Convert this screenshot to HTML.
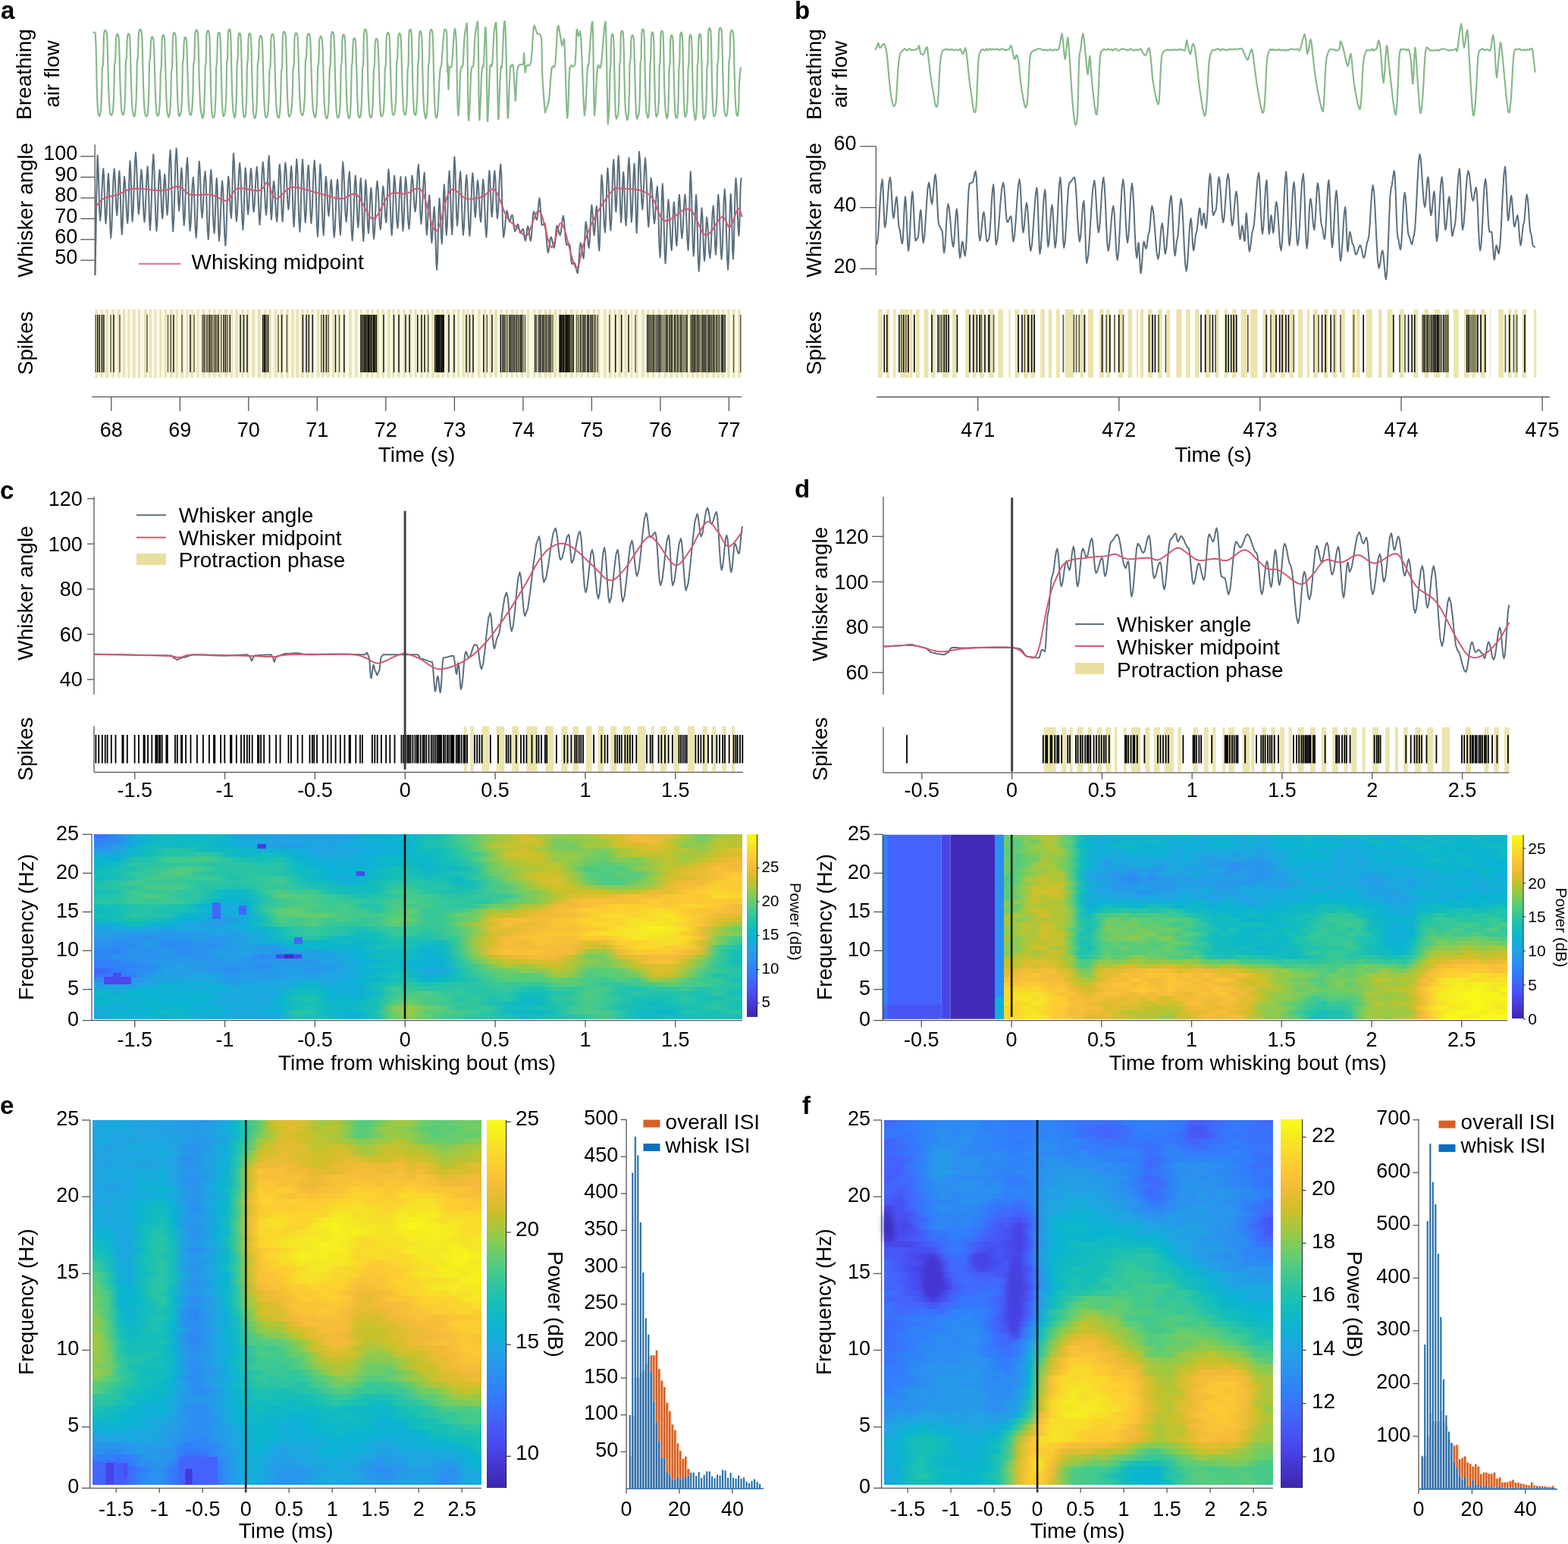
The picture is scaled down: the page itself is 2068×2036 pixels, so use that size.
<!DOCTYPE html>
<html><head><meta charset="utf-8"><title>Figure</title>
<style>html,body{margin:0;padding:0;background:#fff;}body{position:relative;width:2068px;height:2036px;overflow:hidden;}
.hm{position:absolute;}.hm i{display:block;}
svg{position:absolute;left:0;top:0;display:block;}text{font-family:'Liberation Sans', Arial, sans-serif;}</style>
</head><body>
<div class="hm" style="left:124px;top:1100px;width:855px;height:244px"><i style="height:6px;background:linear-gradient(90deg,#3775fc 1.2%,#2c8ef1 3.8%,#1aa9de 6.2%,#0eb8c6 8.8%,#12bbc0 11.2%,#0cb7ca 13.8%,#0bb6cc 16.2%,#12bbc0 18.8%,#15acda 21.2%,#21a3e3 23.8%,#1aa9de 26.2%,#259ce8 28.7%,#21a3e4 31.2%,#239ee6 33.8%,#1ea6e1 36.2%,#22a1e5 38.8%,#16abdb 41.2%,#0db1d4 43.8%,#11afd7 46.2%,#0db8c8 48.8%,#19bfb5 51.2%,#1ac0b3 53.8%,#41c98f 56.2%,#60cd73 58.8%,#98c947 61.3%,#aec63a 63.7%,#d8be2d 66.2%,#b3c537 68.8%,#91ca4c 71.2%,#8fca4e 73.8%,#a0c842 76.2%,#cbc029 78.8%,#d7be2c 81.2%,#f5ba3b 83.8%,#e9bc35 86.2%,#e4bc32 88.8%,#aac63c 91.2%,#74cc63 93.8%,#9ec943 96.2%,#b5c436 98.8%)"></i><i style="height:6px;background:linear-gradient(90deg,#2f85f6 1.2%,#2d8bf2 3.8%,#14acda 6.2%,#0ab5ce 8.8%,#10bac3 11.2%,#10bac2 13.8%,#10bac3 16.2%,#0eb9c6 18.8%,#0eb1d5 21.2%,#13add8 23.8%,#20a4e3 26.2%,#20a4e3 28.7%,#21a3e4 31.2%,#1ca7df 33.8%,#1da6e1 36.2%,#22a1e5 38.8%,#11afd7 41.2%,#0bb3d2 43.8%,#08b4d1 46.2%,#0bb6cc 48.8%,#1ac0b4 51.2%,#1fc1af 53.8%,#44c98c 56.2%,#5fcc73 58.8%,#97ca48 61.3%,#afc539 63.7%,#d7be2c 66.2%,#cdc028 68.8%,#6fcc67 71.2%,#8aca51 73.8%,#90ca4d 76.2%,#a5c73f 78.8%,#d4bf2a 81.2%,#f5ba3b 83.8%,#f6bc3a 86.2%,#bfc330 88.8%,#9dc943 91.2%,#71cc65 93.8%,#bbc332 96.2%,#bac332 98.8%)"></i><i style="height:6px;background:linear-gradient(90deg,#2d8bf3 1.2%,#259ce8 3.8%,#11aed8 6.2%,#16beb8 8.8%,#10bac3 11.2%,#0fb9c5 13.8%,#16beb8 16.2%,#09b5cf 18.8%,#12aed8 21.2%,#18aadd 23.8%,#1ba8df 26.2%,#259de8 28.7%,#2799ea 31.2%,#1ba8df 33.8%,#22a1e5 36.2%,#11aed8 38.8%,#0fb0d6 41.2%,#17abdb 43.8%,#10afd7 46.2%,#0bb6cc 48.8%,#16bfb8 51.2%,#26c3a8 53.8%,#34c79a 56.2%,#5dcc75 58.8%,#b5c436 61.3%,#c4c22d 63.7%,#c4c22d 66.2%,#c0c22f 68.8%,#7ccb5d 71.2%,#71cc65 73.8%,#a6c73e 76.2%,#acc63b 78.8%,#d3bf2a 81.2%,#cfc028 83.8%,#e0bd31 86.2%,#d3bf2a 88.8%,#82cb58 91.2%,#99c946 93.8%,#bfc330 96.2%,#b5c436 98.8%)"></i><i style="height:6px;background:linear-gradient(90deg,#2896ec 1.2%,#23a0e6 3.8%,#0cb7ca 6.2%,#13bcbe 8.8%,#20c2ad 11.2%,#25c3a9 13.8%,#14bcbd 16.2%,#0fbac4 18.8%,#0fb9c5 21.2%,#0eb8c7 23.8%,#12aed8 26.2%,#12aed8 28.7%,#16abdb 31.2%,#20a4e3 33.8%,#1fa5e2 36.2%,#1ea6e1 38.8%,#19a9dd 41.2%,#0fb0d6 43.8%,#0fb0d6 46.2%,#0ab6cd 48.8%,#16beb8 51.2%,#12bcbf 53.8%,#2dc5a1 56.2%,#59cc78 58.8%,#8fca4e 61.3%,#b2c537 63.7%,#d3bf2a 66.2%,#aac63c 68.8%,#82cb58 71.2%,#7bcb5d 73.8%,#87ca54 76.2%,#7bcb5d 78.8%,#afc639 81.2%,#c5c12c 83.8%,#dfbd30 86.2%,#c3c22e 88.8%,#b6c435 91.2%,#94ca4a 93.8%,#c1c22f 96.2%,#ddbe2f 98.8%)"></i><i style="height:6px;background:linear-gradient(90deg,#19a9dd 1.2%,#16abdb 3.8%,#0db8c8 6.2%,#15beb9 8.8%,#27c3a7 11.2%,#21c2ad 13.8%,#33c79b 16.2%,#2ac4a4 18.8%,#0eb8c7 21.2%,#0bb6cb 23.8%,#15bdbb 26.2%,#0fb9c4 28.7%,#0ab5ce 31.2%,#18aadd 33.8%,#20a4e3 36.2%,#1da7e0 38.8%,#0eb1d5 41.2%,#13add9 43.8%,#09b4d1 46.2%,#0cb7c9 48.8%,#0fb9c5 51.2%,#14bdbc 53.8%,#30c69f 56.2%,#39c896 58.8%,#77cb60 61.3%,#d1bf29 63.7%,#d4bf2a 66.2%,#d0c028 68.8%,#99c946 71.2%,#9bc945 73.8%,#83cb57 76.2%,#66cc6e 78.8%,#a8c73d 81.2%,#c4c22d 83.8%,#c5c12c 86.2%,#bcc332 88.8%,#a2c840 91.2%,#afc539 93.8%,#ccc028 96.2%,#d4bf2a 98.8%)"></i><i style="height:7px;background:linear-gradient(90deg,#0cb2d3 1.2%,#09b4d0 3.8%,#24c3aa 6.2%,#1fc1af 8.8%,#43c98d 11.2%,#40c990 13.8%,#49ca87 16.2%,#3ac895 18.8%,#25c3a9 21.2%,#18bfb6 23.8%,#15bdba 26.2%,#22c2ac 28.7%,#09b5d0 31.2%,#11aed7 33.8%,#11afd7 36.2%,#15acdb 38.8%,#14acda 41.2%,#0db7c9 43.8%,#0eb9c6 46.2%,#0db8c8 48.8%,#0ab6cd 51.2%,#16beb8 53.8%,#1ac0b3 56.2%,#4aca87 58.8%,#83cb57 61.3%,#a9c73c 63.7%,#c2c22e 66.2%,#c9c12a 68.8%,#95ca49 71.2%,#96ca49 73.8%,#71cc65 76.2%,#67cc6d 78.8%,#8dca4f 81.2%,#7ccb5d 83.8%,#abc63b 86.2%,#c2c22e 88.8%,#a0c842 91.2%,#bfc330 93.8%,#dcbe2e 96.2%,#f2ba3a 98.8%)"></i><i style="height:6px;background:linear-gradient(90deg,#0bb7cb 1.2%,#12bbc0 3.8%,#2dc5a1 6.2%,#25c3a9 8.8%,#2ec5a0 11.2%,#33c79c 13.8%,#31c69d 16.2%,#26c3a8 18.8%,#2ec5a0 21.2%,#29c4a5 23.8%,#21c2ad 26.2%,#28c4a6 28.7%,#10bac3 31.2%,#0bb3d3 33.8%,#14acda 36.2%,#10afd7 38.8%,#0eb1d5 41.2%,#0bb3d2 43.8%,#0cb7ca 46.2%,#10bac3 48.8%,#09b5cf 51.2%,#11bac2 53.8%,#1cc0b1 56.2%,#31c69d 58.8%,#66cc6d 61.3%,#9ec943 63.7%,#b6c435 66.2%,#c1c22e 68.8%,#bdc331 71.2%,#87ca54 73.8%,#64cc6f 76.2%,#51cb80 78.8%,#61cd71 81.2%,#7acb5e 83.8%,#99c946 86.2%,#b8c434 88.8%,#bcc331 91.2%,#debd30 93.8%,#eebb38 96.2%,#f2ba3a 98.8%)"></i><i style="height:6px;background:linear-gradient(90deg,#10bac3 1.2%,#18bfb6 3.8%,#1cc0b1 6.2%,#35c799 8.8%,#3ec991 11.2%,#52cb7f 13.8%,#4eca83 16.2%,#2cc5a2 18.8%,#2dc5a1 21.2%,#2ac4a4 23.8%,#29c4a5 26.2%,#2ac4a4 28.7%,#10bac3 31.2%,#10bac3 33.8%,#0bb3d2 36.2%,#09b4d1 38.8%,#0ab6ce 41.2%,#0eb8c7 43.8%,#17bfb6 46.2%,#17bfb7 48.8%,#0cb7ca 51.2%,#13bcbe 53.8%,#0fb9c5 56.2%,#23c2aa 58.8%,#79cb5f 61.3%,#86ca54 63.7%,#a3c840 66.2%,#acc63b 68.8%,#cbc029 71.2%,#86cb55 73.8%,#45c98b 76.2%,#57cc7b 78.8%,#4aca86 81.2%,#87ca54 83.8%,#a1c841 86.2%,#c4c22d 88.8%,#dcbe2f 91.2%,#e3bd32 93.8%,#f8c138 96.2%,#f2ba3a 98.8%)"></i><i style="height:6px;background:linear-gradient(90deg,#16beb8 1.2%,#18bfb5 3.8%,#34c79b 6.2%,#2fc69f 8.8%,#4fcb82 11.2%,#56cb7c 13.8%,#2bc5a3 16.2%,#29c4a5 18.8%,#24c3aa 21.2%,#2dc5a1 23.8%,#2bc4a3 26.2%,#25c3a9 28.7%,#14bdbc 31.2%,#10bac3 33.8%,#0ab5ce 36.2%,#12aed8 38.8%,#0cb2d3 41.2%,#0db8c8 43.8%,#15beb9 46.2%,#1ac0b3 48.8%,#0fb9c5 51.2%,#13bcbe 53.8%,#20c1ae 56.2%,#25c3a9 58.8%,#65cc6f 61.3%,#7ccb5c 63.7%,#bbc332 66.2%,#cfc028 68.8%,#cac129 71.2%,#a1c841 73.8%,#5bcc77 76.2%,#4bca85 78.8%,#60cd72 81.2%,#58cc7a 83.8%,#81cb59 86.2%,#c6c12c 88.8%,#e3bd32 91.2%,#e9bc35 93.8%,#f7be39 96.2%,#fbc933 98.8%)"></i><i style="height:6px;background:linear-gradient(90deg,#11bac2 1.2%,#17bfb7 3.8%,#29c4a6 6.2%,#45c98b 8.8%,#41c98e 11.2%,#3ac895 13.8%,#3ec992 16.2%,#3bc894 18.8%,#1dc1b1 21.2%,#2cc5a2 23.8%,#32c79c 26.2%,#3fc990 28.7%,#20c1ae 31.2%,#0db8c8 33.8%,#10afd6 36.2%,#18aadc 38.8%,#0ab5ce 41.2%,#0fb9c4 43.8%,#16bfb7 46.2%,#20c2ad 48.8%,#15beb9 51.2%,#1ac0b4 53.8%,#0fb9c6 56.2%,#2fc69f 58.8%,#4aca86 61.3%,#83cb57 63.7%,#abc63b 66.2%,#d4bf2b 68.8%,#d7be2c 71.2%,#acc63b 73.8%,#5dcc75 76.2%,#4bca85 78.8%,#54cb7d 81.2%,#59cc79 83.8%,#a2c841 86.2%,#d4bf2b 88.8%,#d9be2d 91.2%,#e7bc34 93.8%,#f7be39 96.2%,#fdcd32 98.8%)"></i><i style="height:6px;background:linear-gradient(90deg,#1cc0b1 1.2%,#2ec5a0 3.8%,#42c98e 6.2%,#38c896 8.8%,#3bc894 11.2%,#38c897 13.8%,#29c4a5 16.2%,#2dc5a1 18.8%,#28c4a6 21.2%,#2ec5a0 23.8%,#2ec5a0 26.2%,#45c98a 28.7%,#20c2ae 31.2%,#14bdbb 33.8%,#10bac3 36.2%,#0fb0d6 38.8%,#09b4d2 41.2%,#1bc0b3 43.8%,#21c2ad 46.2%,#28c4a6 48.8%,#23c2ab 51.2%,#1dc1b1 53.8%,#0eb8c7 56.2%,#19c0b4 58.8%,#3ec992 61.3%,#6ccc69 63.7%,#90ca4d 66.2%,#c3c22e 68.8%,#dfbd30 71.2%,#b1c538 73.8%,#78cb5f 76.2%,#47ca89 78.8%,#4eca83 81.2%,#79cb5f 83.8%,#92ca4b 86.2%,#ddbe2f 88.8%,#f5ba3b 91.2%,#ecbb36 93.8%,#fccf30 96.2%,#fbc933 98.8%)"></i><i style="height:6px;background:linear-gradient(90deg,#22c2ac 1.2%,#2ac4a4 3.8%,#2ec5a0 6.2%,#49ca88 8.8%,#49ca87 11.2%,#47ca89 13.8%,#25c3a9 16.2%,#26c3a8 18.8%,#1fc1af 21.2%,#1dc1b1 23.8%,#34c79a 26.2%,#30c69e 28.7%,#31c69d 31.2%,#1fc1ae 33.8%,#1ac0b3 36.2%,#14bdbb 38.8%,#13bcbd 41.2%,#13bcbe 43.8%,#31c69d 46.2%,#37c898 48.8%,#20c1ae 51.2%,#2cc5a2 53.8%,#1cc0b1 56.2%,#16beb9 58.8%,#4bca86 61.3%,#4dca84 63.7%,#7fcb5a 66.2%,#b8c434 68.8%,#cfc028 71.2%,#cac129 73.8%,#aac63c 76.2%,#8eca4f 78.8%,#86ca55 81.2%,#93ca4b 83.8%,#b2c537 86.2%,#e9bc35 88.8%,#f7be39 91.2%,#f9c337 93.8%,#fccf31 96.2%,#fccb32 98.8%)"></i><i style="height:6px;background:linear-gradient(90deg,#16beb8 1.2%,#21c2ad 3.8%,#44c98c 6.2%,#2fc69f 8.8%,#3ec991 11.2%,#2dc5a1 13.8%,#2ec5a0 16.2%,#15bdbb 18.8%,#0cb7ca 21.2%,#11bbc1 23.8%,#33c79c 26.2%,#51cb80 28.7%,#39c896 31.2%,#41c98f 33.8%,#1ac0b3 36.2%,#16beb8 38.8%,#11bbc0 41.2%,#15beba 43.8%,#3ec991 46.2%,#45c98b 48.8%,#29c4a5 51.2%,#20c1ae 53.8%,#1bc0b2 56.2%,#28c4a6 58.8%,#3fc991 61.3%,#58cc7a 63.7%,#75cb62 66.2%,#89ca52 68.8%,#c3c22e 71.2%,#c9c12a 73.8%,#cec028 76.2%,#cbc029 78.8%,#b9c433 81.2%,#c7c12b 83.8%,#edbb37 86.2%,#e1bd31 88.8%,#fac635 91.2%,#fccf31 93.8%,#f9d82c 96.2%,#fdce31 98.8%)"></i><i style="height:6px;background:linear-gradient(90deg,#20c1ae 1.2%,#29c4a5 3.8%,#3bc894 6.2%,#52cb7f 8.8%,#41c98f 11.2%,#29c4a5 13.8%,#2bc5a3 16.2%,#13bcbe 18.8%,#0ab5ce 21.2%,#11bac2 23.8%,#21c2ad 26.2%,#58cc79 28.7%,#56cb7b 31.2%,#48ca88 33.8%,#3ac895 36.2%,#2cc5a3 38.8%,#18bfb5 41.2%,#27c3a7 43.8%,#2cc5a2 46.2%,#45c98b 48.8%,#43c98d 51.2%,#30c69f 53.8%,#26c3a8 56.2%,#30c69e 58.8%,#3bc894 61.3%,#32c79c 63.7%,#68cc6c 66.2%,#90ca4d 68.8%,#aec63a 71.2%,#ddbe2f 73.8%,#e3bd32 76.2%,#e3bd32 78.8%,#f4ba3b 81.2%,#f8c237 83.8%,#f5ba3b 86.2%,#fbc834 88.8%,#fccb32 91.2%,#fac535 93.8%,#f9da2b 96.2%,#fad62d 98.8%)"></i><i style="height:7px;background:linear-gradient(90deg,#2ac4a4 1.2%,#2bc5a3 3.8%,#3ec992 6.2%,#34c79a 8.8%,#3ec991 11.2%,#34c79a 13.8%,#21c2ac 16.2%,#0db8c9 18.8%,#0bb3d2 21.2%,#0ab5ce 23.8%,#21c2ac 26.2%,#3dc892 28.7%,#47ca89 31.2%,#49ca87 33.8%,#3bc894 36.2%,#38c897 38.8%,#2fc69f 41.2%,#2dc5a1 43.8%,#41c98e 46.2%,#54cb7d 48.8%,#3cc894 51.2%,#36c899 53.8%,#34c79a 56.2%,#2ac4a4 58.8%,#2fc69f 61.3%,#5dcc75 63.7%,#6fcc67 66.2%,#8bca51 68.8%,#c7c12b 71.2%,#f0bb38 73.8%,#f9c336 76.2%,#f8c137 78.8%,#f7be39 81.2%,#f8c237 83.8%,#fdcd31 86.2%,#f9c336 88.8%,#fccb32 91.2%,#fbc834 93.8%,#fbc934 96.2%,#fbc834 98.8%)"></i><i style="height:6px;background:linear-gradient(90deg,#16beb8 1.2%,#17bfb7 3.8%,#23c2ab 6.2%,#2ac4a5 8.8%,#22c2ab 11.2%,#1dc1b0 13.8%,#0ab6cd 16.2%,#14acda 18.8%,#18aadc 21.2%,#0bb2d3 23.8%,#30c69f 26.2%,#3bc894 28.7%,#53cb7e 31.2%,#52cb7f 33.8%,#38c897 36.2%,#4fcb81 38.8%,#24c3aa 41.2%,#24c3a9 43.8%,#4cca85 46.2%,#46c98a 48.8%,#48ca88 51.2%,#34c79a 53.8%,#2dc5a2 56.2%,#34c79b 58.8%,#6ecc67 61.3%,#73cc63 63.7%,#a5c73f 66.2%,#b5c435 68.8%,#efbb38 71.2%,#f2ba39 73.8%,#f8c137 76.2%,#fac735 78.8%,#fbd32e 81.2%,#fcd130 83.8%,#fdcd32 86.2%,#fbc834 88.8%,#fbd32f 91.2%,#fad52d 93.8%,#fbc734 96.2%,#f4ba3b 98.8%)"></i><i style="height:6px;background:linear-gradient(90deg,#0fb9c5 1.2%,#14bdbc 3.8%,#24c3aa 6.2%,#24c3aa 8.8%,#19c0b4 11.2%,#19c0b4 13.8%,#10bac3 16.2%,#1aa9de 18.8%,#11aed7 21.2%,#0db1d4 23.8%,#30c69f 26.2%,#5ccc76 28.7%,#6bcc6a 31.2%,#44c98c 33.8%,#46c98a 36.2%,#44c98b 38.8%,#40c990 41.2%,#29c4a6 43.8%,#4cca85 46.2%,#6acc6b 48.8%,#34c79b 51.2%,#38c897 53.8%,#40c990 56.2%,#69cc6b 58.8%,#a8c73d 61.3%,#a2c841 63.7%,#cdc028 66.2%,#dfbd30 68.8%,#f6bd39 71.2%,#f8c237 73.8%,#fbd32f 76.2%,#fdcd32 78.8%,#fcd030 81.2%,#fccf30 83.8%,#f7e029 86.2%,#fad72d 88.8%,#fdcc32 91.2%,#f8c237 93.8%,#f8c237 96.2%,#f5ba3b 98.8%)"></i><i style="height:6px;background:linear-gradient(90deg,#16beb8 1.2%,#16beb8 3.8%,#2bc4a3 6.2%,#24c2aa 8.8%,#26c3a8 11.2%,#0bb6cc 13.8%,#0fb0d6 16.2%,#16abdb 18.8%,#1ea6e1 21.2%,#19a9dd 23.8%,#1cc0b2 26.2%,#57cb7b 28.7%,#5bcc77 31.2%,#6acc6a 33.8%,#60cd72 36.2%,#42c98e 38.8%,#43c98d 41.2%,#44c98c 43.8%,#55cb7c 46.2%,#59cc79 48.8%,#32c79c 51.2%,#3bc894 53.8%,#6acc6a 56.2%,#6bcc69 58.8%,#c2c22e 61.3%,#cec028 63.7%,#d5bf2b 66.2%,#f5ba3b 68.8%,#f4ba3b 71.2%,#f7bd39 73.8%,#fbc734 76.2%,#f9d92c 78.8%,#f8db2b 81.2%,#fcd12f 83.8%,#f8dc2a 86.2%,#f6ea23 88.8%,#fdcd31 91.2%,#fac735 93.8%,#e9bc35 96.2%,#e7bc34 98.8%)"></i><i style="height:6px;background:linear-gradient(90deg,#0fb9c4 1.2%,#16beb9 3.8%,#1dc1b1 6.2%,#16beb9 8.8%,#10bac4 11.2%,#0db1d4 13.8%,#0fb0d6 16.2%,#259ce8 18.8%,#2798ea 21.2%,#08b4d1 23.8%,#15beba 26.2%,#4dca83 28.7%,#3cc893 31.2%,#50cb81 33.8%,#3ec992 36.2%,#4bca86 38.8%,#33c79b 41.2%,#3cc893 43.8%,#63cd70 46.2%,#6ccc69 48.8%,#36c899 51.2%,#41c98f 53.8%,#58cc79 56.2%,#7ccb5c 58.8%,#e0bd30 61.3%,#f3ba3a 63.7%,#f7bf38 66.2%,#f1ba39 68.8%,#f9c237 71.2%,#fbc734 73.8%,#fad62d 76.2%,#fdce31 78.8%,#f9d82c 81.2%,#f6e128 83.8%,#f8dd2a 86.2%,#f5e526 88.8%,#f9da2b 91.2%,#f8c137 93.8%,#e1bd31 96.2%,#c9c12a 98.8%)"></i><i style="height:6px;background:linear-gradient(90deg,#12aed8 1.2%,#0bb2d3 3.8%,#14bdbc 6.2%,#0bb6cc 8.8%,#09b4d1 11.2%,#1aa8de 13.8%,#21a2e4 16.2%,#259be8 18.8%,#1ba8df 21.2%,#11afd7 23.8%,#1bc0b2 26.2%,#3dc892 28.7%,#44c98c 31.2%,#56cb7b 33.8%,#3bc894 36.2%,#2dc5a1 38.8%,#34c79b 41.2%,#3ac895 43.8%,#5ccc76 46.2%,#4bca85 48.8%,#3cc893 51.2%,#32c79c 53.8%,#70cc66 56.2%,#a8c73d 58.8%,#cec027 61.3%,#f8c038 63.7%,#eabc35 66.2%,#ecbb37 68.8%,#fac535 71.2%,#f9c336 73.8%,#fcd130 76.2%,#f8db2b 78.8%,#fbd22f 81.2%,#f5e824 83.8%,#f5e427 86.2%,#f6e327 88.8%,#fcd130 91.2%,#f9c436 93.8%,#d5bf2b 96.2%,#9dc943 98.8%)"></i><i style="height:6px;background:linear-gradient(90deg,#20a4e3 1.2%,#1ba8df 3.8%,#16abdb 6.2%,#1fa5e2 8.8%,#21a4e3 11.2%,#18aadd 13.8%,#1ea6e1 16.2%,#1ba8df 18.8%,#1ba8df 21.2%,#10afd7 23.8%,#0cb7c9 26.2%,#16beb8 28.7%,#2dc5a2 31.2%,#36c899 33.8%,#2ec5a0 36.2%,#26c3a8 38.8%,#19bfb5 41.2%,#2ec5a0 43.8%,#33c79b 46.2%,#3cc893 48.8%,#35c799 51.2%,#3ac895 53.8%,#4dca83 56.2%,#85cb55 58.8%,#e3bd32 61.3%,#e2bd31 63.7%,#e8bc35 66.2%,#f6bd39 68.8%,#f8c137 71.2%,#f8c038 73.8%,#fbc734 76.2%,#fcd12f 78.8%,#f5e427 81.2%,#f6e327 83.8%,#f8f51a 86.2%,#f6ec21 88.8%,#f7e029 91.2%,#e8bc35 93.8%,#a5c73f 96.2%,#70cc66 98.8%)"></i><i style="height:6px;background:linear-gradient(90deg,#22a1e5 1.2%,#249ee7 3.8%,#2896ec 6.2%,#249de7 8.8%,#2a94ed 11.2%,#2798eb 13.8%,#2798ea 16.2%,#20a4e3 18.8%,#249ee7 21.2%,#21a3e3 23.8%,#12aed8 26.2%,#13bcbd 28.7%,#2cc5a3 31.2%,#33c79c 33.8%,#2ec5a0 36.2%,#23c2ab 38.8%,#12bbc0 41.2%,#14bdbc 43.8%,#37c898 46.2%,#3cc893 48.8%,#22c2ac 51.2%,#34c79b 53.8%,#55cb7c 56.2%,#89ca53 58.8%,#cec027 61.3%,#e4bc33 63.7%,#f7bd39 66.2%,#f9c436 68.8%,#fbc734 71.2%,#fac535 73.8%,#fbd42e 76.2%,#f6e327 78.8%,#f5e626 81.2%,#f5e725 83.8%,#f6ea22 86.2%,#f5e725 88.8%,#fdcc32 91.2%,#e7bc34 93.8%,#a8c73d 96.2%,#86cb55 98.8%)"></i><i style="height:6px;background:linear-gradient(90deg,#259ce8 1.2%,#2897eb 3.8%,#2b92ee 6.2%,#2b92ee 8.8%,#2799ea 11.2%,#2995ed 13.8%,#21a2e4 16.2%,#2896ec 18.8%,#269be9 21.2%,#1fa5e2 23.8%,#14add9 26.2%,#11bbc1 28.7%,#21c2ac 31.2%,#2bc5a3 33.8%,#18bfb6 36.2%,#0cb7ca 38.8%,#13bcbe 41.2%,#16beb8 43.8%,#26c3a8 46.2%,#21c2ad 48.8%,#1ec1b0 51.2%,#2fc69f 53.8%,#3ec991 56.2%,#9cc944 58.8%,#d6bf2c 61.3%,#f6bb3a 63.7%,#f9c237 66.2%,#fac535 68.8%,#f8c237 71.2%,#f6bd39 73.8%,#fcd030 76.2%,#fbc834 78.8%,#fad62d 81.2%,#f5e923 83.8%,#f5e426 86.2%,#f7de2a 88.8%,#f8db2b 91.2%,#f6bd39 93.8%,#7dcb5c 96.2%,#4cca84 98.8%)"></i><i style="height:6px;background:linear-gradient(90deg,#2a93ee 1.2%,#2c8ef1 3.8%,#2c8ef1 6.2%,#269be9 8.8%,#2d8af3 11.2%,#2b90f0 13.8%,#2a93ee 16.2%,#2a93ed 18.8%,#249de7 21.2%,#1fa5e2 23.8%,#15acda 26.2%,#0eb1d5 28.7%,#11bbc1 31.2%,#09b5cf 33.8%,#0bb6cd 36.2%,#14bdbc 38.8%,#09b5cf 41.2%,#10bac2 43.8%,#1ec1b0 46.2%,#17bfb7 48.8%,#13bcbe 51.2%,#12bbc0 53.8%,#3dc892 56.2%,#a8c73d 58.8%,#cdc028 61.3%,#f9c237 63.7%,#ebbb36 66.2%,#fac535 68.8%,#f8c237 71.2%,#f8c038 73.8%,#e3bd32 76.2%,#e9bc35 78.8%,#fcd12f 81.2%,#fcd030 83.8%,#fad72d 86.2%,#f6e228 88.8%,#fbd32e 91.2%,#cec028 93.8%,#86cb55 96.2%,#3bc894 98.8%)"></i><i style="height:6px;background:linear-gradient(90deg,#2b91ef 1.2%,#2d8af3 3.8%,#2c8ef1 6.2%,#269aea 8.8%,#2c8ef1 11.2%,#2c8df1 13.8%,#2b91ef 16.2%,#2a93ee 18.8%,#2798ea 21.2%,#20a4e3 23.8%,#2897eb 26.2%,#239fe6 28.7%,#09b4d1 31.2%,#0db8c9 33.8%,#0cb7c9 36.2%,#0fb0d5 38.8%,#0bb6cd 41.2%,#19bfb5 43.8%,#16bfb7 46.2%,#19bfb5 48.8%,#0ab6ce 51.2%,#0db7c9 53.8%,#3ac895 56.2%,#9ac945 58.8%,#e4bc33 61.3%,#f6bc3a 63.7%,#f5ba3b 66.2%,#f6bd39 68.8%,#f6bd39 71.2%,#f1ba39 73.8%,#dcbe2f 76.2%,#cac12a 78.8%,#f9c337 81.2%,#f9d92c 83.8%,#f8dd2a 86.2%,#fcca33 88.8%,#fccf30 91.2%,#e1bd31 93.8%,#48ca88 96.2%,#20c2ad 98.8%)"></i><i style="height:7px;background:linear-gradient(90deg,#2e89f4 1.2%,#2f85f6 3.8%,#2897eb 6.2%,#2c8df1 8.8%,#2799ea 11.2%,#2c8df2 13.8%,#2c8df2 16.2%,#239fe6 18.8%,#239fe6 21.2%,#22a2e5 23.8%,#2798ea 26.2%,#2798eb 28.7%,#1fa5e2 31.2%,#249ee6 33.8%,#1aa9de 36.2%,#14add9 38.8%,#0eb1d5 41.2%,#11bac2 43.8%,#10bac3 46.2%,#10bac3 48.8%,#0eb1d5 51.2%,#0cb7ca 53.8%,#34c79a 56.2%,#8fca4e 58.8%,#ebbb36 61.3%,#f9c336 63.7%,#f8c237 66.2%,#f8c237 68.8%,#f5ba3b 71.2%,#f5ba3b 73.8%,#96ca49 76.2%,#92ca4b 78.8%,#edbb37 81.2%,#fccb33 83.8%,#fbc734 86.2%,#fccb33 88.8%,#f6bd3a 91.2%,#dabe2d 93.8%,#3ec991 96.2%,#16beb9 98.8%)"></i><i style="height:6px;background:linear-gradient(90deg,#2e89f4 1.2%,#2b91ef 3.8%,#2995ec 6.2%,#2c8ff0 8.8%,#2b92ee 11.2%,#2798eb 13.8%,#2c8ff0 16.2%,#2897eb 18.8%,#239fe6 21.2%,#259be8 23.8%,#2e88f4 26.2%,#2799ea 28.7%,#2897eb 31.2%,#1da7e0 33.8%,#22a0e5 36.2%,#1ea6e1 38.8%,#09b5d0 41.2%,#14bdbc 43.8%,#10bac3 46.2%,#12bcbf 48.8%,#0cb2d4 51.2%,#08b4d1 53.8%,#2cc5a3 56.2%,#7bcb5d 58.8%,#c3c22d 61.3%,#e2bd32 63.7%,#eebb37 66.2%,#f6bc3a 68.8%,#f4ba3b 71.2%,#c6c12c 73.8%,#73cc63 76.2%,#7acb5e 78.8%,#d7bf2c 81.2%,#eabc35 83.8%,#f5ba3b 86.2%,#f6bd39 88.8%,#e8bc35 91.2%,#99c946 93.8%,#36c898 96.2%,#1bc0b2 98.8%)"></i><i style="height:6px;background:linear-gradient(90deg,#3080f9 1.2%,#2e88f5 3.8%,#2b90ef 6.2%,#2896ec 8.8%,#249de7 11.2%,#2897eb 13.8%,#249de7 16.2%,#2b92ee 18.8%,#239fe6 21.2%,#2a94ed 23.8%,#2a93ee 26.2%,#259be8 28.7%,#2995ec 31.2%,#2798eb 33.8%,#1da7e0 36.2%,#17aadc 38.8%,#13add9 41.2%,#0ab3d2 43.8%,#10bac3 46.2%,#0bb2d3 48.8%,#0db1d4 51.2%,#11aed8 53.8%,#23c2ab 56.2%,#5fcc74 58.8%,#a7c73e 61.3%,#c4c22d 63.7%,#d1bf29 66.2%,#dabe2d 68.8%,#dcbe2e 71.2%,#b0c538 73.8%,#90ca4d 76.2%,#79cb5f 78.8%,#9cc944 81.2%,#dabe2d 83.8%,#f7bf39 86.2%,#f9c337 88.8%,#c8c12b 91.2%,#7ccb5c 93.8%,#33c79c 96.2%,#14bdbb 98.8%)"></i><i style="height:6px;background:linear-gradient(90deg,#317ffa 1.2%,#2f83f8 3.8%,#2f84f7 6.2%,#2c8ff0 8.8%,#2799ea 11.2%,#21a2e4 13.8%,#2896eb 16.2%,#2799ea 18.8%,#2c8ff0 21.2%,#2798ea 23.8%,#2d8cf2 26.2%,#249ee6 28.7%,#269ae9 31.2%,#249ee7 33.8%,#2798ea 36.2%,#21a4e3 38.8%,#0cb2d3 41.2%,#13bcbe 43.8%,#13bcbd 46.2%,#0bb6cd 48.8%,#0cb2d4 51.2%,#0cb2d3 53.8%,#23c2ab 56.2%,#45c98a 58.8%,#78cb60 61.3%,#b4c536 63.7%,#96ca48 66.2%,#b8c434 68.8%,#cfc028 71.2%,#aac63c 73.8%,#78cb60 76.2%,#72cc64 78.8%,#9fc843 81.2%,#c7c12b 83.8%,#dbbe2e 86.2%,#d6bf2c 88.8%,#bcc332 91.2%,#71cc65 93.8%,#28c4a6 96.2%,#24c2aa 98.8%)"></i><i style="height:6px;background:linear-gradient(90deg,#4365fc 1.2%,#317dfc 3.8%,#2c8ef1 6.2%,#2d8af4 8.8%,#22a2e5 11.2%,#259ce8 13.8%,#2799ea 16.2%,#2896ec 18.8%,#2c8ef1 21.2%,#2995ec 23.8%,#2995ec 26.2%,#239fe6 28.7%,#23a0e6 31.2%,#2a93ed 33.8%,#249de7 36.2%,#1fa5e2 38.8%,#13add9 41.2%,#0ab6cd 43.8%,#10bac3 46.2%,#10bac2 48.8%,#1ea6e1 51.2%,#1da6e1 53.8%,#14bdbb 56.2%,#3ec991 58.8%,#61cd72 61.3%,#69cc6b 63.7%,#8dca4f 66.2%,#87ca54 68.8%,#b9c433 71.2%,#a4c73f 73.8%,#50cb81 76.2%,#59cc79 78.8%,#60cd73 81.2%,#99c946 83.8%,#dabe2e 86.2%,#debd2f 88.8%,#9ec943 91.2%,#4dca83 93.8%,#39c896 96.2%,#28c4a6 98.8%)"></i><i style="height:6px;background:linear-gradient(90deg,#3973fc 1.2%,#317efb 3.8%,#2e86f6 6.2%,#249ee7 8.8%,#21a2e4 11.2%,#249de7 13.8%,#1ca7df 16.2%,#1ca7df 18.8%,#2896ec 21.2%,#22a1e5 23.8%,#269ae9 26.2%,#2897eb 28.7%,#21a3e4 31.2%,#249de7 33.8%,#1fa5e2 36.2%,#19a9de 38.8%,#14acda 41.2%,#0fb9c5 43.8%,#1fc1af 46.2%,#11bbc0 48.8%,#11afd7 51.2%,#0ab5cf 53.8%,#17bfb7 56.2%,#34c79a 58.8%,#4eca83 61.3%,#67cc6c 63.7%,#53cb7e 66.2%,#5ecc74 68.8%,#a0c842 71.2%,#8bca51 73.8%,#4eca82 76.2%,#57cb7b 78.8%,#5fcc73 81.2%,#75cb62 83.8%,#cfc028 86.2%,#ccc028 88.8%,#8eca4f 91.2%,#46ca8a 93.8%,#1fc1af 96.2%,#25c3a9 98.8%)"></i><i style="height:6px;background:linear-gradient(90deg,#2c8ef1 1.2%,#2d8bf3 3.8%,#2798eb 6.2%,#22a1e5 8.8%,#22a1e5 11.2%,#17aadc 13.8%,#1ca7df 16.2%,#22a2e4 18.8%,#2798eb 21.2%,#249ee7 23.8%,#259ce8 26.2%,#1da7e0 28.7%,#21a3e4 31.2%,#1ba8df 33.8%,#21a2e4 36.2%,#19a9dd 38.8%,#09b5d0 41.2%,#0bb6cc 43.8%,#14bdbc 46.2%,#1cc0b2 48.8%,#0ab6cd 51.2%,#0fb9c5 53.8%,#15beb9 56.2%,#24c3aa 58.8%,#40c98f 61.3%,#59cc79 63.7%,#55cb7c 66.2%,#53cb7e 68.8%,#69cc6b 71.2%,#5acc78 73.8%,#49ca87 76.2%,#3dc892 78.8%,#56cb7c 81.2%,#46ca8a 83.8%,#9ec943 86.2%,#89ca52 88.8%,#5ecc74 91.2%,#38c897 93.8%,#38c896 96.2%,#17bfb7 98.8%)"></i><i style="height:6px;background:linear-gradient(90deg,#249de7 1.2%,#239fe6 3.8%,#239fe6 6.2%,#20a4e3 8.8%,#0bb3d3 11.2%,#0eb0d5 13.8%,#12aed8 16.2%,#12aed8 18.8%,#249de7 21.2%,#1da6e1 23.8%,#1ba8df 26.2%,#20a4e3 28.7%,#0fb0d6 31.2%,#0cb7c9 33.8%,#18aadd 36.2%,#0db1d4 38.8%,#0fb0d6 41.2%,#15bdba 43.8%,#20c2ad 46.2%,#2dc5a1 48.8%,#1bc0b2 51.2%,#26c3a8 53.8%,#29c4a5 56.2%,#2ac4a4 58.8%,#3bc894 61.3%,#34c79b 63.7%,#3ac895 66.2%,#2fc6a0 68.8%,#52cb7f 71.2%,#5ccc76 73.8%,#49ca87 76.2%,#32c69d 78.8%,#2dc5a1 81.2%,#43c98c 83.8%,#49ca87 86.2%,#64cc6f 88.8%,#48ca88 91.2%,#48ca88 93.8%,#31c69d 96.2%,#27c3a7 98.8%)"></i><i style="height:6px;background:linear-gradient(90deg,#17aadc 1.2%,#1da6e1 3.8%,#0fb0d6 6.2%,#09b4d1 8.8%,#0bb7cb 11.2%,#14acda 13.8%,#19a9dd 16.2%,#0ab3d2 18.8%,#14add9 21.2%,#1ba8df 23.8%,#15acda 26.2%,#1aa9de 28.7%,#0db8c8 31.2%,#10bac3 33.8%,#0ab3d2 36.2%,#16abdb 38.8%,#0eb1d5 41.2%,#16beb8 43.8%,#3ec991 46.2%,#33c79b 48.8%,#2ac4a4 51.2%,#25c3a9 53.8%,#2fc69f 56.2%,#22c2ac 58.8%,#2bc4a4 61.3%,#39c896 63.7%,#21c2ad 66.2%,#1ac0b3 68.8%,#3dc892 71.2%,#32c69d 73.8%,#41c98f 76.2%,#4aca87 78.8%,#25c3a9 81.2%,#1cc0b2 83.8%,#31c69e 86.2%,#2dc5a1 88.8%,#43c98d 91.2%,#21c2ad 93.8%,#2dc5a1 96.2%,#1dc1b1 98.8%)"></i><i style="height:7px;background:linear-gradient(90deg,#0cb7ca 1.2%,#0ab3d2 3.8%,#0bb6cc 6.2%,#0cb2d3 8.8%,#0eb1d5 11.2%,#0ab3d2 13.8%,#0ab5ce 16.2%,#14acda 18.8%,#1ba8df 21.2%,#19a9dd 23.8%,#20a4e3 26.2%,#11afd7 28.7%,#13bcbe 31.2%,#14bdbc 33.8%,#0bb6cc 36.2%,#10afd6 38.8%,#0fb0d5 41.2%,#10bac4 43.8%,#37c897 46.2%,#49ca87 48.8%,#54cb7e 51.2%,#38c897 53.8%,#33c79b 56.2%,#27c3a7 58.8%,#2cc5a2 61.3%,#28c4a6 63.7%,#15beba 66.2%,#15bdba 68.8%,#23c2ab 71.2%,#2ac4a4 73.8%,#52cb7f 76.2%,#3fc990 78.8%,#1ec1b0 81.2%,#2bc5a3 83.8%,#1fc1af 86.2%,#22c2ac 88.8%,#23c2ab 91.2%,#1bc0b2 93.8%,#31c69e 96.2%,#16bfb7 98.8%)"></i><i style="height:6px;background:linear-gradient(90deg,#0eb1d5 1.2%,#0eb9c6 3.8%,#11aed7 6.2%,#09b5d0 8.8%,#09b5d0 11.2%,#0eb1d5 13.8%,#0cb7ca 16.2%,#12aed8 18.8%,#20a5e2 21.2%,#18aadc 23.8%,#21a3e4 26.2%,#09b5cf 28.7%,#1dc1b0 31.2%,#22c2ac 33.8%,#0eb1d5 36.2%,#0ab6ce 38.8%,#09b5d0 41.2%,#18bfb5 43.8%,#46ca8a 46.2%,#5fcc74 48.8%,#47ca89 51.2%,#48ca88 53.8%,#23c2ab 56.2%,#35c79a 58.8%,#19bfb5 61.3%,#2cc5a2 63.7%,#0fb9c4 66.2%,#0fb9c5 68.8%,#2dc5a1 71.2%,#36c799 73.8%,#4dca84 76.2%,#3dc893 78.8%,#2dc5a2 81.2%,#14bdbc 83.8%,#1bc0b3 86.2%,#17bfb6 88.8%,#2fc6a0 91.2%,#16bfb8 93.8%,#16beb9 96.2%,#25c3a9 98.8%)"></i><i style="height:6px;background:linear-gradient(90deg,#0cb7cb 1.2%,#0db1d4 3.8%,#0bb6cc 6.2%,#0ab5ce 8.8%,#09b4d1 11.2%,#08b4d1 13.8%,#09b4d1 16.2%,#1aa8de 18.8%,#19a9dd 21.2%,#12aed8 23.8%,#1ca7e0 26.2%,#0bb3d2 28.7%,#14bdbc 31.2%,#18bfb6 33.8%,#0fb9c5 36.2%,#0cb7ca 38.8%,#12bbbf 41.2%,#1cc0b1 43.8%,#51cb80 46.2%,#73cc63 48.8%,#49ca87 51.2%,#3ac895 53.8%,#36c899 56.2%,#2dc5a1 58.8%,#1ec1b0 61.3%,#15bdba 63.7%,#0db8c9 66.2%,#0fb9c5 68.8%,#23c2aa 71.2%,#2bc5a3 73.8%,#4eca82 76.2%,#3cc893 78.8%,#23c2ab 81.2%,#18bfb5 83.8%,#0db8c8 86.2%,#17bfb6 88.8%,#24c3aa 91.2%,#1ec1af 93.8%,#27c4a7 96.2%,#19c0b4 98.8%)"></i><i style="height:6px;background:linear-gradient(90deg,#15acda 1.2%,#13add9 3.8%,#10afd7 6.2%,#0bb6cd 8.8%,#0cb7ca 11.2%,#0db7c9 13.8%,#13add9 16.2%,#09b4d1 18.8%,#15acda 21.2%,#1aa9de 23.8%,#17abdc 26.2%,#0ab3d2 28.7%,#16beb9 31.2%,#1fc1af 33.8%,#11bac2 36.2%,#0cb7ca 38.8%,#12bbc0 41.2%,#18bfb6 43.8%,#86ca55 46.2%,#a0c842 48.8%,#6ccc69 51.2%,#5acc77 53.8%,#2cc5a2 56.2%,#35c799 58.8%,#31c69e 61.3%,#13bcbe 63.7%,#13bcbe 66.2%,#1ac0b3 68.8%,#1bc0b3 71.2%,#3cc893 73.8%,#4cca85 76.2%,#35c79a 78.8%,#1dc1b1 81.2%,#14bdbd 83.8%,#15bdba 86.2%,#0fb9c4 88.8%,#15beb9 91.2%,#1fc1af 93.8%,#2dc5a1 96.2%,#19bfb5 98.8%)"></i><i style="height:6px;background:linear-gradient(90deg,#1aa8de 1.2%,#0bb7cb 3.8%,#0eb1d5 6.2%,#0ab3d2 8.8%,#11bbc1 11.2%,#0bb3d3 13.8%,#13add9 16.2%,#0ab5ce 18.8%,#1aa9de 21.2%,#1da6e1 23.8%,#0db1d4 26.2%,#0eb0d5 28.7%,#2cc5a3 31.2%,#20c1ae 33.8%,#0db8c9 36.2%,#0db2d4 38.8%,#0db7c9 41.2%,#24c3aa 43.8%,#75cc62 46.2%,#9ac945 48.8%,#5acc77 51.2%,#55cb7c 53.8%,#4bca85 56.2%,#36c898 58.8%,#2ec5a0 61.3%,#12bbc0 63.7%,#0db8c8 66.2%,#0eb8c7 68.8%,#16bfb8 71.2%,#3fc990 73.8%,#4aca86 76.2%,#47ca89 78.8%,#29c4a5 81.2%,#12bbc0 83.8%,#0eb8c7 86.2%,#09b5d0 88.8%,#23c2ab 91.2%,#19c0b5 93.8%,#1ac0b4 96.2%,#2dc5a1 98.8%)"></i><i style="height:6px;background:linear-gradient(90deg,#16abdb 1.2%,#0bb6cc 3.8%,#0eb0d5 6.2%,#0bb7cb 8.8%,#0eb1d5 11.2%,#0fb9c4 13.8%,#0cb2d4 16.2%,#12aed8 18.8%,#11afd7 21.2%,#15acda 23.8%,#1da7e0 26.2%,#10afd7 28.7%,#22c2ac 31.2%,#17bfb7 33.8%,#15bdbb 36.2%,#0ab3d2 38.8%,#0ab3d2 41.2%,#1dc1b0 43.8%,#65cc6e 46.2%,#90ca4d 48.8%,#66cc6e 51.2%,#43c98c 53.8%,#34c79b 56.2%,#28c4a6 58.8%,#24c3aa 61.3%,#21c2ad 63.7%,#10bac3 66.2%,#16beb9 68.8%,#1fc1ae 71.2%,#23c2ab 73.8%,#2fc6a0 76.2%,#44c98b 78.8%,#27c3a7 81.2%,#15beb9 83.8%,#0fb9c4 86.2%,#14bdbc 88.8%,#15beb9 91.2%,#1cc0b2 93.8%,#1cc0b2 96.2%,#14bdbb 98.8%)"></i></div>
<div class="hm" style="left:985px;top:1100px;width:14px;height:241px;background:linear-gradient(180deg,#f9fb15 0.0%,#f6ec21 4.2%,#f8dc2a 8.3%,#fdcc32 12.5%,#f7bf38 16.7%,#e6bc33 20.8%,#cbc029 25.0%,#a9c73d 29.2%,#85cb56 33.3%,#5fcd73 37.5%,#43c98d 41.7%,#2ac4a4 45.8%,#16bfb7 50.0%,#0db8c9 54.2%,#11afd7 58.3%,#20a4e3 62.5%,#2897eb 66.7%,#2d8af3 70.8%,#327cfc 75.0%,#3f6bfc 79.2%,#465bf8 83.3%,#484cf0 87.5%,#463ede 91.7%,#4331c6 95.8%,#3e26a8 100.0%)"></div>
<div class="hm" style="left:1324px;top:1101px;width:664px;height:243px"><i style="height:6px;background:linear-gradient(90deg,#61cd71 0.9%,#6ecc67 2.7%,#7fcb5a 4.5%,#9dc944 6.2%,#b0c539 8.0%,#bbc332 9.8%,#73cc64 11.6%,#4dca84 13.4%,#19c0b4 15.2%,#0ab3d2 17.0%,#0db8c8 18.8%,#11afd7 20.5%,#09b4d1 22.3%,#0eb1d5 24.1%,#09b5cf 25.9%,#0ab5ce 27.7%,#13add9 29.5%,#10afd7 31.2%,#13add8 33.0%,#0ab5ce 34.8%,#0ab4d2 36.6%,#17aadc 38.4%,#09b4d1 40.2%,#18aadc 42.0%,#0db1d4 43.8%,#18aadc 45.5%,#1ba8df 47.3%,#09b5cf 49.1%,#16abdb 50.9%,#16abdb 52.7%,#0bb6cd 54.5%,#0ab6cd 56.2%,#0fb0d5 58.0%,#0fb9c5 59.8%,#09b5cf 61.6%,#0bb6cc 63.4%,#0fb0d5 65.2%,#0eb8c7 67.0%,#09b4d1 68.8%,#0cb7cb 70.5%,#0db8c9 72.3%,#0db2d4 74.1%,#0bb2d3 75.9%,#0fb0d6 77.7%,#10afd6 79.5%,#0fb0d6 81.2%,#0bb6cc 83.0%,#10bac3 84.8%,#0eb1d5 86.6%,#0db8c8 88.4%,#09b5d0 90.2%,#09b4d1 92.0%,#0fb9c4 93.8%,#0bb6cd 95.5%,#08b4d1 97.3%,#0bb6cd 99.1%)"></i><i style="height:6px;background:linear-gradient(90deg,#66cc6e 0.9%,#4fcb82 2.7%,#88ca53 4.5%,#6bcc69 6.2%,#b0c538 8.0%,#b7c434 9.8%,#72cc64 11.6%,#5acc78 13.4%,#10bac3 15.2%,#0cb2d3 17.0%,#15acda 18.8%,#12aed8 20.5%,#0fb0d6 22.3%,#0fb9c5 24.1%,#0fb0d6 25.9%,#0cb7ca 27.7%,#0fb9c6 29.5%,#0eb8c7 31.2%,#11aed7 33.0%,#13add9 34.8%,#0fb0d6 36.6%,#09b4d1 38.4%,#18aadd 40.2%,#0ab3d2 42.0%,#09b4d1 43.8%,#09b5d0 45.5%,#1aa9de 47.3%,#0ab6cd 49.1%,#19a9dd 50.9%,#13add9 52.7%,#0db1d4 54.5%,#0bb6cc 56.2%,#0db1d5 58.0%,#0eb9c6 59.8%,#09b5cf 61.6%,#0cb2d4 63.4%,#0cb2d4 65.2%,#11aed7 67.0%,#17aadc 68.8%,#15acdb 70.5%,#0ab6ce 72.3%,#0fbac4 74.1%,#10afd6 75.9%,#12aed8 77.7%,#0fb9c4 79.5%,#0bb6cc 81.2%,#0cb7c9 83.0%,#0bb6cc 84.8%,#0db8c8 86.6%,#0fb9c4 88.4%,#0ab6cd 90.2%,#0ab5ce 92.0%,#0eb0d5 93.8%,#11bac2 95.5%,#0fb0d6 97.3%,#0bb6cc 99.1%)"></i><i style="height:6px;background:linear-gradient(90deg,#6dcc68 0.9%,#52cb7f 2.7%,#7bcb5d 4.5%,#9dc944 6.2%,#a9c73d 8.0%,#b3c537 9.8%,#76cb61 11.6%,#4bca85 13.4%,#0db8c8 15.2%,#09b5cf 17.0%,#11afd7 18.8%,#0cb2d3 20.5%,#0eb8c6 22.3%,#0cb7ca 24.1%,#0eb8c7 25.9%,#0bb2d3 27.7%,#0bb2d3 29.5%,#09b5d0 31.2%,#10afd6 33.0%,#15acdb 34.8%,#13add9 36.6%,#19a9dd 38.4%,#14acda 40.2%,#09b5cf 42.0%,#09b4d1 43.8%,#11afd7 45.5%,#13add9 47.3%,#17abdc 49.1%,#1ca7e0 50.9%,#17aadc 52.7%,#0bb3d3 54.5%,#09b5cf 56.2%,#0eb1d5 58.0%,#0cb7ca 59.8%,#0cb7ca 61.6%,#0bb6cd 63.4%,#0ab5ce 65.2%,#0ab5ce 67.0%,#12aed8 68.8%,#0ab3d2 70.5%,#10afd6 72.3%,#09b4d1 74.1%,#0cb7ca 75.9%,#0bb6cc 77.7%,#0db1d5 79.5%,#10bac3 81.2%,#0fb9c4 83.0%,#0fb9c5 84.8%,#0eb1d5 86.6%,#0cb7cb 88.4%,#0ab3d2 90.2%,#0db8c8 92.0%,#0ab6cd 93.8%,#0fb9c4 95.5%,#0db8c8 97.3%,#0fb9c5 99.1%)"></i><i style="height:6px;background:linear-gradient(90deg,#56cb7c 0.9%,#69cc6b 2.7%,#7ccb5d 4.5%,#95ca49 6.2%,#98c947 8.0%,#b2c537 9.8%,#9ec943 11.6%,#56cb7b 13.4%,#1ac0b3 15.2%,#0ab5ce 17.0%,#11afd7 18.8%,#10afd7 20.5%,#17abdc 22.3%,#09b5cf 24.1%,#0ab6cd 25.9%,#10afd6 27.7%,#0db2d4 29.5%,#0db1d4 31.2%,#0eb1d5 33.0%,#1ba8df 34.8%,#0db1d4 36.6%,#12aed8 38.4%,#12aed8 40.2%,#19a9de 42.0%,#18aadc 43.8%,#16abdb 45.5%,#19a9dd 47.3%,#16abdb 49.1%,#22a1e5 50.9%,#1fa5e2 52.7%,#16abdb 54.5%,#0eb1d5 56.2%,#13add9 58.0%,#09b5cf 59.8%,#09b5d0 61.6%,#16abdb 63.4%,#0eb0d5 65.2%,#16abdb 67.0%,#1ca7e0 68.8%,#1aa9de 70.5%,#11afd7 72.3%,#12aed8 74.1%,#12aed8 75.9%,#15acda 77.7%,#0bb2d3 79.5%,#0bb3d2 81.2%,#0eb8c7 83.0%,#0eb9c6 84.8%,#09b4d1 86.6%,#10bac2 88.4%,#0fb0d6 90.2%,#0ab5ce 92.0%,#09b4d1 93.8%,#0ab5ce 95.5%,#0db1d4 97.3%,#10bac4 99.1%)"></i><i style="height:6px;background:linear-gradient(90deg,#57cb7b 0.9%,#4eca83 2.7%,#75cb62 4.5%,#6dcc68 6.2%,#9fc843 8.0%,#96ca48 9.8%,#8eca4f 11.6%,#61cd71 13.4%,#16beb8 15.2%,#13add9 17.0%,#0fb0d6 18.8%,#14add9 20.5%,#18aadc 22.3%,#1ba8df 24.1%,#11aed7 25.9%,#13add9 27.7%,#0db1d4 29.5%,#0db1d4 31.2%,#14acda 33.0%,#1aa9de 34.8%,#0eb1d5 36.6%,#21a2e4 38.4%,#21a2e4 40.2%,#1ca7df 42.0%,#1fa5e2 43.8%,#269be9 45.5%,#21a4e3 47.3%,#1aa8de 49.1%,#22a2e4 50.9%,#1fa5e2 52.7%,#1fa5e2 54.5%,#19a9dd 56.2%,#0bb6cc 58.0%,#0fb0d6 59.8%,#0cb7ca 61.6%,#0ab6cd 63.4%,#10b0d6 65.2%,#1aa9de 67.0%,#0bb3d3 68.8%,#14adda 70.5%,#11afd7 72.3%,#11afd7 74.1%,#0cb7c9 75.9%,#0db1d4 77.7%,#11aed8 79.5%,#0ab3d2 81.2%,#0db1d4 83.0%,#0eb8c7 84.8%,#0bb6cd 86.6%,#09b4d1 88.4%,#0fb9c5 90.2%,#0fb9c4 92.0%,#0fb0d6 93.8%,#0bb7cb 95.5%,#09b4d1 97.3%,#11bbc1 99.1%)"></i><i style="height:6px;background:linear-gradient(90deg,#6acc6b 0.9%,#57cb7b 2.7%,#62cd70 4.5%,#6fcc67 6.2%,#b1c538 8.0%,#90ca4d 9.8%,#8eca4e 11.6%,#4dca84 13.4%,#14bdbc 15.2%,#11afd7 17.0%,#15acda 18.8%,#23a0e5 20.5%,#14add9 22.3%,#1da7e0 24.1%,#17aadc 25.9%,#1da6e1 27.7%,#21a3e3 29.5%,#1ca7e0 31.2%,#1ba8df 33.0%,#1ca7e0 34.8%,#14add9 36.6%,#19a9dd 38.4%,#249ee7 40.2%,#249ee7 42.0%,#259ce8 43.8%,#21a2e4 45.5%,#22a1e5 47.3%,#259ce8 49.1%,#2995ec 50.9%,#1ca7e0 52.7%,#1ea6e1 54.5%,#15acda 56.2%,#0cb2d4 58.0%,#0bb2d3 59.8%,#0fb0d6 61.6%,#09b5d0 63.4%,#18aadd 65.2%,#1ba8df 67.0%,#11afd7 68.8%,#1da6e1 70.5%,#16abdb 72.3%,#09b5cf 74.1%,#18aadd 75.9%,#09b5cf 77.7%,#0ab3d2 79.5%,#0db1d4 81.2%,#0bb3d3 83.0%,#0fb9c4 84.8%,#11bac2 86.6%,#0cb2d4 88.4%,#0bb6cd 90.2%,#0cb7cb 92.0%,#0bb6cc 93.8%,#09b4d0 95.5%,#0cb2d3 97.3%,#0cb7ca 99.1%)"></i><i style="height:7px;background:linear-gradient(90deg,#6bcc69 0.9%,#51cb80 2.7%,#66cc6d 4.5%,#99c946 6.2%,#acc63b 8.0%,#a7c73e 9.8%,#74cc62 11.6%,#5bcc77 13.4%,#1bc0b2 15.2%,#09b4d1 17.0%,#19a9dd 18.8%,#259be8 20.5%,#17aadc 22.3%,#22a1e5 24.1%,#1ba8df 25.9%,#16abdb 27.7%,#1ea6e1 29.5%,#259ce8 31.2%,#22a2e4 33.0%,#13add9 34.8%,#22a1e5 36.6%,#1ba8df 38.4%,#21a2e4 40.2%,#2699ea 42.0%,#259ce8 43.8%,#2c8ef1 45.5%,#2c90f0 47.3%,#2896ec 49.1%,#2a93ed 50.9%,#2897eb 52.7%,#1da6e1 54.5%,#14add9 56.2%,#0bb2d3 58.0%,#19a9dd 59.8%,#12aed8 61.6%,#17abdc 63.4%,#16acdb 65.2%,#1ba8df 67.0%,#11afd7 68.8%,#1ba8df 70.5%,#1ea6e1 72.3%,#0db1d4 74.1%,#1aa9de 75.9%,#0fb0d6 77.7%,#12aed8 79.5%,#0ab6ce 81.2%,#09b5d0 83.0%,#0cb7cb 84.8%,#0bb3d3 86.6%,#0bb6cc 88.4%,#0bb2d3 90.2%,#0eb8c7 92.0%,#0ab6cd 93.8%,#0eb1d5 95.5%,#0cb2d3 97.3%,#09b4d1 99.1%)"></i><i style="height:6px;background:linear-gradient(90deg,#67cc6d 0.9%,#59cc79 2.7%,#8dca4f 4.5%,#a0c842 6.2%,#94ca4a 8.0%,#b3c537 9.8%,#86cb55 11.6%,#4bca86 13.4%,#15bdbb 15.2%,#1aa9de 17.0%,#15acda 18.8%,#22a2e4 20.5%,#249ee7 22.3%,#1fa5e2 24.1%,#2896ec 25.9%,#22a2e4 27.7%,#2995ed 29.5%,#2798ea 31.2%,#19a9dd 33.0%,#1ca7df 34.8%,#22a1e5 36.6%,#249ee6 38.4%,#16abdb 40.2%,#21a3e4 42.0%,#239fe6 43.8%,#2b90ef 45.5%,#269be9 47.3%,#2897eb 49.1%,#2897eb 50.9%,#259ce8 52.7%,#1ea6e1 54.5%,#1fa5e2 56.2%,#19a9dd 58.0%,#1ca7df 59.8%,#0bb2d3 61.6%,#11afd7 63.4%,#11afd7 65.2%,#1ba8df 67.0%,#12aed8 68.8%,#19a9de 70.5%,#16abdb 72.3%,#15acda 74.1%,#11aed8 75.9%,#19a9dd 77.7%,#20a5e3 79.5%,#1ea6e1 81.2%,#13add9 83.0%,#13add9 84.8%,#0eb8c7 86.6%,#09b4d1 88.4%,#0cb7cb 90.2%,#14add9 92.0%,#09b4d1 93.8%,#0eb8c7 95.5%,#0ab5ce 97.3%,#0ab3d2 99.1%)"></i><i style="height:6px;background:linear-gradient(90deg,#5bcc77 0.9%,#58cc79 2.7%,#7acb5e 4.5%,#94ca4a 6.2%,#aec639 8.0%,#b0c539 9.8%,#bac333 11.6%,#54cb7e 13.4%,#11bac2 15.2%,#19a9dd 17.0%,#22a0e5 18.8%,#249de7 20.5%,#2798ea 22.3%,#269ae9 24.1%,#2c8ff0 25.9%,#239fe6 27.7%,#2896ec 29.5%,#21a3e4 31.2%,#21a2e4 33.0%,#1fa5e2 34.8%,#21a3e3 36.6%,#16abdb 38.4%,#259ce8 40.2%,#21a3e4 42.0%,#2996ec 43.8%,#269be9 45.5%,#249ee7 47.3%,#2995ed 49.1%,#2896eb 50.9%,#2896ec 52.7%,#249ee7 54.5%,#239fe6 56.2%,#1ba8df 58.0%,#0bb2d3 59.8%,#18aadd 61.6%,#1aa9de 63.4%,#18aadd 65.2%,#1ea6e1 67.0%,#15acda 68.8%,#16abdb 70.5%,#21a2e4 72.3%,#21a3e3 74.1%,#18aadc 75.9%,#12aed8 77.7%,#18aadd 79.5%,#19a9dd 81.2%,#0bb6cd 83.0%,#17abdb 84.8%,#15acdb 86.6%,#0ab6cd 88.4%,#0db1d5 90.2%,#16abdb 92.0%,#0ab3d2 93.8%,#0db8c8 95.5%,#0bb3d3 97.3%,#0fb0d6 99.1%)"></i><i style="height:6px;background:linear-gradient(90deg,#4bca85 0.9%,#5acc78 2.7%,#adc63b 4.5%,#b2c537 6.2%,#d3bf2a 8.0%,#aac63c 9.8%,#a6c73e 11.6%,#57cc7a 13.4%,#13bcbd 15.2%,#1ea6e1 17.0%,#21a2e4 18.8%,#249ee7 20.5%,#2995ec 22.3%,#2d8cf2 24.1%,#2e88f4 25.9%,#269ae9 27.7%,#2c8ef1 29.5%,#2897eb 31.2%,#269ae9 33.0%,#23a0e6 34.8%,#269ae9 36.6%,#23a0e6 38.4%,#259ce8 40.2%,#22a0e5 42.0%,#22a1e5 43.8%,#269aea 45.5%,#22a1e5 47.3%,#2897eb 49.1%,#2a93ed 50.9%,#239fe6 52.7%,#22a1e5 54.5%,#1ea6e1 56.2%,#1ea6e1 58.0%,#16abdb 59.8%,#12aed8 61.6%,#0db1d4 63.4%,#1ba8df 65.2%,#19a9de 67.0%,#13aed8 68.8%,#21a3e4 70.5%,#239ee6 72.3%,#22a1e5 74.1%,#249de7 75.9%,#1aa9de 77.7%,#19a9dd 79.5%,#20a5e3 81.2%,#1ba8df 83.0%,#18aadc 84.8%,#14add9 86.6%,#18aadc 88.4%,#10afd6 90.2%,#0cb2d4 92.0%,#14add9 93.8%,#18aadd 95.5%,#0ab3d2 97.3%,#18aadd 99.1%)"></i><i style="height:6px;background:linear-gradient(90deg,#50cb81 0.9%,#65cc6e 2.7%,#97c947 4.5%,#a5c73f 6.2%,#c1c22f 8.0%,#bcc332 9.8%,#c5c22c 11.6%,#74cc63 13.4%,#1fc1af 15.2%,#11afd7 17.0%,#18aadc 18.8%,#22a1e5 20.5%,#2798ea 22.3%,#269be9 24.1%,#2995ec 25.9%,#269be9 27.7%,#2799ea 29.5%,#259ce8 31.2%,#2798eb 33.0%,#1fa5e2 34.8%,#23a0e5 36.6%,#249de8 38.4%,#259ce8 40.2%,#269be9 42.0%,#2897eb 43.8%,#249de7 45.5%,#2799ea 47.3%,#2896ec 49.1%,#21a3e4 50.9%,#22a1e5 52.7%,#2699ea 54.5%,#249de7 56.2%,#22a2e4 58.0%,#1ca7df 59.8%,#0fb0d5 61.6%,#0cb2d3 63.4%,#13add9 65.2%,#1da7e0 67.0%,#1aa9de 68.8%,#1ea6e1 70.5%,#21a2e4 72.3%,#269ae9 74.1%,#20a4e3 75.9%,#1ba8df 77.7%,#1ca7e0 79.5%,#23a0e5 81.2%,#12aed8 83.0%,#16abdb 84.8%,#0ab3d2 86.6%,#11afd7 88.4%,#0ab6ce 90.2%,#09b4d1 92.0%,#18aadd 93.8%,#14add9 95.5%,#0ab5ce 97.3%,#10afd7 99.1%)"></i><i style="height:6px;background:linear-gradient(90deg,#59cc78 0.9%,#6ecc67 2.7%,#abc63b 4.5%,#cec028 6.2%,#c6c12c 8.0%,#d9be2d 9.8%,#bdc331 11.6%,#5dcc75 13.4%,#1dc1b1 15.2%,#16abdb 17.0%,#249ee7 18.8%,#1aa9de 20.5%,#2995ed 22.3%,#259ce8 24.1%,#2798ea 25.9%,#23a0e6 27.7%,#2799ea 29.5%,#2798eb 31.2%,#259ce8 33.0%,#259de8 34.8%,#1fa5e2 36.6%,#21a2e4 38.4%,#1aa9de 40.2%,#249ee7 42.0%,#259de8 43.8%,#269ae9 45.5%,#1aa8de 47.3%,#1ca7e0 49.1%,#1ca7e0 50.9%,#20a4e3 52.7%,#21a2e4 54.5%,#22a0e5 56.2%,#11aed7 58.0%,#16abdb 59.8%,#1fa5e2 61.6%,#1ca7df 63.4%,#1da6e0 65.2%,#10afd6 67.0%,#0db1d4 68.8%,#1fa5e2 70.5%,#16abdb 72.3%,#22a1e5 74.1%,#1da6e1 75.9%,#19a9de 77.7%,#1da6e1 79.5%,#14add9 81.2%,#13add9 83.0%,#17aadc 84.8%,#0eb0d5 86.6%,#0eb1d5 88.4%,#17abdb 90.2%,#12aed8 92.0%,#14add9 93.8%,#1aa8de 95.5%,#14add9 97.3%,#12aed8 99.1%)"></i><i style="height:6px;background:linear-gradient(90deg,#5bcc77 0.9%,#7ccb5c 2.7%,#99c946 4.5%,#d0c028 6.2%,#d3bf2a 8.0%,#d7bf2c 9.8%,#c2c22e 11.6%,#7acb5e 13.4%,#16beb8 15.2%,#0db1d5 17.0%,#20a4e3 18.8%,#20a4e3 20.5%,#20a5e3 22.3%,#22a1e5 24.1%,#259be9 25.9%,#2897eb 27.7%,#2799ea 29.5%,#239fe6 31.2%,#20a5e2 33.0%,#1aa9de 34.8%,#19a9de 36.6%,#21a3e4 38.4%,#14add9 40.2%,#22a1e5 42.0%,#1da7e0 43.8%,#269be9 45.5%,#1ba8df 47.3%,#1ca7e0 49.1%,#16abdb 50.9%,#17abdc 52.7%,#1aa9de 54.5%,#13add9 56.2%,#11afd7 58.0%,#11afd7 59.8%,#19a9dd 61.6%,#12aed8 63.4%,#09b4d1 65.2%,#18aadd 67.0%,#09b4d1 68.8%,#15acda 70.5%,#1da6e1 72.3%,#259ce8 74.1%,#22a2e4 75.9%,#249ee7 77.7%,#1ba8df 79.5%,#0fb0d6 81.2%,#0bb6cc 83.0%,#09b5d0 84.8%,#10afd7 86.6%,#18aadd 88.4%,#0bb2d3 90.2%,#0eb0d5 92.0%,#0bb3d2 93.8%,#12aed8 95.5%,#09b5cf 97.3%,#16abdb 99.1%)"></i><i style="height:6px;background:linear-gradient(90deg,#54cb7d 0.9%,#64cc6f 2.7%,#a4c840 4.5%,#ccc028 6.2%,#b4c536 8.0%,#cbc029 9.8%,#c6c12c 11.6%,#62cd71 13.4%,#0fb9c4 15.2%,#13add9 17.0%,#16abdb 18.8%,#19a9dd 20.5%,#1aa9de 22.3%,#20a4e3 24.1%,#20a4e3 25.9%,#1ea6e1 27.7%,#15acda 29.5%,#21a3e4 31.2%,#21a3e4 33.0%,#1aa9de 34.8%,#11aed8 36.6%,#21a2e4 38.4%,#239fe6 40.2%,#22a1e5 42.0%,#1ca7df 43.8%,#1ba8df 45.5%,#22a1e5 47.3%,#22a2e4 49.1%,#1aa8de 50.9%,#19a9dd 52.7%,#18aadc 54.5%,#14add9 56.2%,#1da6e1 58.0%,#11aed7 59.8%,#09b4d1 61.6%,#0ab5ce 63.4%,#14acda 65.2%,#09b4d1 67.0%,#0eb1d5 68.8%,#0ab3d2 70.5%,#1fa5e2 72.3%,#19a9dd 74.1%,#19a9dd 75.9%,#20a4e3 77.7%,#239fe6 79.5%,#1da6e0 81.2%,#13add9 83.0%,#11aed7 84.8%,#15acda 86.6%,#0db1d4 88.4%,#18aadd 90.2%,#0ab3d2 92.0%,#0ab3d2 93.8%,#08b4d1 95.5%,#09b4d1 97.3%,#0bb3d2 99.1%)"></i><i style="height:6px;background:linear-gradient(90deg,#78cb60 0.9%,#8fca4e 2.7%,#a5c73f 4.5%,#cfc028 6.2%,#b1c538 8.0%,#b1c538 9.8%,#a3c840 11.6%,#62cd71 13.4%,#14bdbb 15.2%,#11aed7 17.0%,#10afd7 18.8%,#0fb0d6 20.5%,#1ba8df 22.3%,#12aed8 24.1%,#0fb0d6 25.9%,#13add8 27.7%,#18aadd 29.5%,#0eb1d5 31.2%,#13add9 33.0%,#0db1d4 34.8%,#12aed8 36.6%,#09b4d1 38.4%,#0bb3d3 40.2%,#20a5e2 42.0%,#11afd7 43.8%,#12aed8 45.5%,#1ca7df 47.3%,#20a5e2 49.1%,#18aadc 50.9%,#1aa8de 52.7%,#12aed8 54.5%,#0bb3d3 56.2%,#11aed7 58.0%,#10afd6 59.8%,#0ab3d2 61.6%,#0ab6cd 63.4%,#0cb7ca 65.2%,#09b5cf 67.0%,#0eb1d5 68.8%,#10afd7 70.5%,#0bb3d3 72.3%,#18aadc 74.1%,#239fe6 75.9%,#20a5e2 77.7%,#20a4e3 79.5%,#0fb0d6 81.2%,#11afd7 83.0%,#08b4d1 84.8%,#11afd7 86.6%,#0ab3d2 88.4%,#0eb9c6 90.2%,#09b4d1 92.0%,#0cb2d4 93.8%,#0eb8c7 95.5%,#13add9 97.3%,#0db1d4 99.1%)"></i><i style="height:6px;background:linear-gradient(90deg,#7fcb5a 0.9%,#65cc6e 2.7%,#afc539 4.5%,#b2c538 6.2%,#adc63a 8.0%,#b9c434 9.8%,#b6c435 11.6%,#6dcc68 13.4%,#18bfb5 15.2%,#12aed8 17.0%,#09b5d0 18.8%,#16beb8 20.5%,#10bac3 22.3%,#11bbc1 24.1%,#0cb7cb 25.9%,#0eb9c6 27.7%,#19bfb5 29.5%,#14bdbc 31.2%,#10bac2 33.0%,#09b5d0 34.8%,#0cb7cb 36.6%,#0fb9c5 38.4%,#0bb3d2 40.2%,#0ab3d2 42.0%,#0ab6ce 43.8%,#0cb2d4 45.5%,#0db1d4 47.3%,#1aa8de 49.1%,#1aa8de 50.9%,#0ab3d2 52.7%,#12aed8 54.5%,#0bb6cc 56.2%,#0eb8c7 58.0%,#12bbc0 59.8%,#0cb7ca 61.6%,#16bfb7 63.4%,#14bdbc 65.2%,#16beb9 67.0%,#0bb6cd 68.8%,#11bac2 70.5%,#0ab3d2 72.3%,#0bb6cc 74.1%,#0bb2d3 75.9%,#1fa5e2 77.7%,#18aadd 79.5%,#14add9 81.2%,#0cb7ca 83.0%,#0db8c8 84.8%,#12bbc0 86.6%,#0ab5ce 88.4%,#0ab6cd 90.2%,#0eb9c6 92.0%,#09b5cf 93.8%,#0db8c8 95.5%,#15bdbb 97.3%,#14bdbb 99.1%)"></i><i style="height:6px;background:linear-gradient(90deg,#6bcc69 0.9%,#70cc66 2.7%,#b6c435 4.5%,#cfc028 6.2%,#cac12a 8.0%,#b3c537 9.8%,#abc63b 11.6%,#8cca50 13.4%,#27c4a7 15.2%,#0bb3d2 17.0%,#14bdbc 18.8%,#24c2aa 20.5%,#21c2ad 22.3%,#30c69e 24.1%,#25c3a9 25.9%,#31c69e 27.7%,#1ec1af 29.5%,#28c4a6 31.2%,#32c79c 33.0%,#25c3a9 34.8%,#12bcbf 36.6%,#0fb9c5 38.4%,#11bbc1 40.2%,#0ab5ce 42.0%,#0ab4d2 43.8%,#09b4d1 45.5%,#0ab5cf 47.3%,#0fb9c5 49.1%,#0eb0d5 50.9%,#09b5cf 52.7%,#0eb1d5 54.5%,#0bb6cc 56.2%,#11bbc1 58.0%,#0cb7ca 59.8%,#14bdbb 61.6%,#1ec1b0 63.4%,#12bbc0 65.2%,#23c2ab 67.0%,#16beb8 68.8%,#14bdbc 70.5%,#11bac2 72.3%,#0eb8c7 74.1%,#1aa9de 75.9%,#14add9 77.7%,#1da7e0 79.5%,#0db1d4 81.2%,#0eb9c6 83.0%,#0fb9c5 84.8%,#13bcbd 86.6%,#16beb9 88.4%,#1bc0b3 90.2%,#23c2ab 92.0%,#15bdbb 93.8%,#17bfb7 95.5%,#1cc0b1 97.3%,#23c2ab 99.1%)"></i><i style="height:6px;background:linear-gradient(90deg,#a1c841 0.9%,#adc63a 2.7%,#9fc843 4.5%,#a8c73d 6.2%,#d7be2c 8.0%,#b0c539 9.8%,#b6c435 11.6%,#84cb57 13.4%,#1ec1b0 15.2%,#11bbc1 17.0%,#42c98e 18.8%,#42c98d 20.5%,#4eca83 22.3%,#5acc78 24.1%,#3dc892 25.9%,#46c98a 27.7%,#4cca85 29.5%,#4cca85 31.2%,#37c898 33.0%,#38c897 34.8%,#23c2aa 36.6%,#19bfb5 38.4%,#14bdbb 40.2%,#0db7c9 42.0%,#15beba 43.8%,#0ab5ce 45.5%,#0ab5ce 47.3%,#11bbc1 49.1%,#10bac2 50.9%,#0ab5ce 52.7%,#12bbc0 54.5%,#10bac2 56.2%,#11bac2 58.0%,#1ac0b4 59.8%,#19c0b5 61.6%,#21c2ad 63.4%,#38c897 65.2%,#2ac4a4 67.0%,#34c79b 68.8%,#17bfb7 70.5%,#11bac2 72.3%,#09b5cf 74.1%,#0bb6cb 75.9%,#0db1d4 77.7%,#19a9dd 79.5%,#10afd6 81.2%,#1ac0b3 83.0%,#1ec1b0 84.8%,#2ec5a0 86.6%,#18bfb5 88.4%,#28c4a6 90.2%,#1ac0b3 92.0%,#2cc5a2 93.8%,#29c4a5 95.5%,#29c4a5 97.3%,#1ec1b0 99.1%)"></i><i style="height:6px;background:linear-gradient(90deg,#a8c73d 0.9%,#85cb56 2.7%,#94ca4a 4.5%,#c2c22e 6.2%,#b1c538 8.0%,#afc539 9.8%,#b7c435 11.6%,#80cb59 13.4%,#2ac4a4 15.2%,#1ac0b4 17.0%,#33c79b 18.8%,#6ccc69 20.5%,#78cb60 22.3%,#55cb7d 24.1%,#73cc63 25.9%,#5acc77 27.7%,#5ccc76 29.5%,#4cca84 31.2%,#66cc6e 33.0%,#50cb80 34.8%,#53cb7e 36.6%,#30c69e 38.4%,#16beb8 40.2%,#11bbc1 42.0%,#0fb9c6 43.8%,#16bfb8 45.5%,#0cb7cb 47.3%,#0ab5ce 49.1%,#0db8c7 50.9%,#0ab5ce 52.7%,#0eb9c6 54.5%,#13bcbe 56.2%,#17bfb7 58.0%,#15beba 59.8%,#1fc1af 61.6%,#32c69d 63.4%,#3ec991 65.2%,#35c79a 67.0%,#34c79a 68.8%,#35c799 70.5%,#15bdbb 72.3%,#0fb9c5 74.1%,#0ab5ce 75.9%,#0cb2d3 77.7%,#0bb6cc 79.5%,#0cb7ca 81.2%,#1cc0b2 83.0%,#24c3aa 84.8%,#36c898 86.6%,#3dc892 88.4%,#2bc5a3 90.2%,#26c3a8 92.0%,#2ac4a4 93.8%,#2dc5a1 95.5%,#40c990 97.3%,#2ac4a4 99.1%)"></i><i style="height:7px;background:linear-gradient(90deg,#98c947 0.9%,#a1c841 2.7%,#c1c22f 4.5%,#a6c73f 6.2%,#d1bf29 8.0%,#bdc331 9.8%,#a5c73f 11.6%,#7fcb5a 13.4%,#29c4a5 15.2%,#16bfb7 17.0%,#33c79c 18.8%,#7fcb5a 20.5%,#62cd70 22.3%,#72cc64 24.1%,#76cb61 25.9%,#5ecc74 27.7%,#65cc6e 29.5%,#5ecc75 31.2%,#4dca84 33.0%,#42c98e 34.8%,#50cb80 36.6%,#31c69d 38.4%,#2bc5a3 40.2%,#0fb9c4 42.0%,#10bac2 43.8%,#0db8c8 45.5%,#16bfb8 47.3%,#14bdbd 49.1%,#15beba 50.9%,#10bac4 52.7%,#0ab6ce 54.5%,#10bac3 56.2%,#11bbc1 58.0%,#13bcbd 59.8%,#2dc5a1 61.6%,#2ec5a1 63.4%,#2bc5a3 65.2%,#38c897 67.0%,#45c98b 68.8%,#39c895 70.5%,#1cc0b2 72.3%,#0cb7c9 74.1%,#0db8c9 75.9%,#18aadc 77.7%,#0fb0d6 79.5%,#0eb1d5 81.2%,#2ac4a4 83.0%,#2fc69f 84.8%,#33c79c 86.6%,#31c69d 88.4%,#3bc894 90.2%,#4cca84 92.0%,#36c899 93.8%,#2fc69f 95.5%,#39c896 97.3%,#4aca86 99.1%)"></i><i style="height:6px;background:linear-gradient(90deg,#8aca51 0.9%,#a0c842 2.7%,#bfc330 4.5%,#b0c539 6.2%,#d3bf2a 8.0%,#c6c12c 9.8%,#a7c73e 11.6%,#60cd72 13.4%,#2cc5a3 15.2%,#15bdba 17.0%,#41c98e 18.8%,#7dcb5c 20.5%,#70cc66 22.3%,#6fcc66 24.1%,#63cd70 25.9%,#7ccb5c 27.7%,#62cd71 29.5%,#69cc6b 31.2%,#70cc66 33.0%,#5ccc75 34.8%,#3dc892 36.6%,#2ec5a0 38.4%,#27c3a7 40.2%,#1bc0b2 42.0%,#0fb9c5 43.8%,#1dc1b1 45.5%,#0cb7cb 47.3%,#0bb6cc 49.1%,#0ab5ce 50.9%,#0fb9c5 52.7%,#11bbc1 54.5%,#16beb8 56.2%,#10bac3 58.0%,#24c2aa 59.8%,#22c2ac 61.6%,#39c896 63.4%,#30c69e 65.2%,#33c79b 67.0%,#29c4a5 68.8%,#34c79b 70.5%,#15bdba 72.3%,#15beb9 74.1%,#0cb2d4 75.9%,#0fb0d6 77.7%,#0fb0d6 79.5%,#0ab6cd 81.2%,#2cc5a3 83.0%,#47ca89 84.8%,#35c799 86.6%,#3bc894 88.4%,#51cb80 90.2%,#34c79b 92.0%,#3fc991 93.8%,#3ec991 95.5%,#56cb7c 97.3%,#33c79b 99.1%)"></i><i style="height:6px;background:linear-gradient(90deg,#99c946 0.9%,#a6c73e 2.7%,#b5c435 4.5%,#a0c842 6.2%,#d8be2c 8.0%,#bcc332 9.8%,#cac129 11.6%,#81cb59 13.4%,#1cc0b1 15.2%,#1dc1b0 17.0%,#4bca85 18.8%,#5fcc73 20.5%,#7ccb5c 22.3%,#74cc63 24.1%,#7fcb5a 25.9%,#7acb5e 27.7%,#84cb57 29.5%,#5ecc74 31.2%,#66cc6e 33.0%,#47ca89 34.8%,#5dcc75 36.6%,#46ca8a 38.4%,#2cc5a2 40.2%,#10bac3 42.0%,#16bfb7 43.8%,#14bdbc 45.5%,#0cb7ca 47.3%,#0bb7cb 49.1%,#16beb8 50.9%,#14bdbb 52.7%,#0cb7ca 54.5%,#16beb8 56.2%,#17bfb7 58.0%,#1bc0b3 59.8%,#33c79b 61.6%,#30c69f 63.4%,#32c69d 65.2%,#2ac4a4 67.0%,#3fc991 68.8%,#31c69d 70.5%,#26c3a8 72.3%,#11bbc0 74.1%,#0cb2d3 75.9%,#18aadc 77.7%,#10afd6 79.5%,#09b4d1 81.2%,#28c4a6 83.0%,#4aca86 84.8%,#44c98b 86.6%,#52cb7f 88.4%,#38c897 90.2%,#40c98f 92.0%,#58cc79 93.8%,#3cc893 95.5%,#38c897 97.3%,#36c898 99.1%)"></i><i style="height:6px;background:linear-gradient(90deg,#9fc843 0.9%,#84cb56 2.7%,#a8c73d 4.5%,#b5c435 6.2%,#d2bf2a 8.0%,#c3c22d 9.8%,#b8c434 11.6%,#5ecc74 13.4%,#2ac4a5 15.2%,#1ec1b0 17.0%,#49ca87 18.8%,#78cb5f 20.5%,#74cc63 22.3%,#7dcb5b 24.1%,#85cb56 25.9%,#78cb5f 27.7%,#5acc78 29.5%,#82cb58 31.2%,#7fcb5a 33.0%,#4fcb82 34.8%,#3fc990 36.6%,#35c799 38.4%,#17bfb7 40.2%,#15bdbb 42.0%,#11bac2 43.8%,#11bbc1 45.5%,#0bb6cd 47.3%,#0fb9c5 49.1%,#0cb7c9 50.9%,#12bbbf 52.7%,#0db8c8 54.5%,#0cb7ca 56.2%,#1ec1af 58.0%,#29c4a5 59.8%,#34c79a 61.6%,#2fc6a0 63.4%,#34c79a 65.2%,#36c899 67.0%,#34c79a 68.8%,#21c2ad 70.5%,#1dc1b1 72.3%,#15beb9 74.1%,#0bb6cd 75.9%,#09b4d2 77.7%,#0eb0d5 79.5%,#10bac3 81.2%,#3ac895 83.0%,#60cd72 84.8%,#65cc6e 86.6%,#59cc79 88.4%,#64cc6f 90.2%,#64cc6f 92.0%,#70cc66 93.8%,#67cc6d 95.5%,#5acc78 97.3%,#50cb81 99.1%)"></i><i style="height:6px;background:linear-gradient(90deg,#87ca54 0.9%,#8cca50 2.7%,#b3c537 4.5%,#c6c12c 6.2%,#b6c435 8.0%,#c5c22c 9.8%,#c5c22d 11.6%,#70cc66 13.4%,#19bfb5 15.2%,#1dc1b0 17.0%,#3fc990 18.8%,#54cb7e 20.5%,#5ecc74 22.3%,#54cb7d 24.1%,#5acc78 25.9%,#67cc6d 27.7%,#58cc79 29.5%,#51cb80 31.2%,#60cd72 33.0%,#6ccc69 34.8%,#5bcc77 36.6%,#33c79c 38.4%,#2ec5a0 40.2%,#11bac2 42.0%,#12bbc0 43.8%,#0eb9c6 45.5%,#0cb7ca 47.3%,#11bbc1 49.1%,#12bbbf 50.9%,#0db8c8 52.7%,#12bbbf 54.5%,#0fb9c5 56.2%,#1bc0b3 58.0%,#1ec1b0 59.8%,#2dc5a1 61.6%,#2bc5a3 63.4%,#33c79c 65.2%,#33c79c 67.0%,#42c98e 68.8%,#25c3a9 70.5%,#18bfb6 72.3%,#17bfb7 74.1%,#10afd7 75.9%,#0cb2d4 77.7%,#12aed8 79.5%,#14bdbc 81.2%,#3ec991 83.0%,#51cb80 84.8%,#80cb59 86.6%,#77cb60 88.4%,#73cc64 90.2%,#90ca4d 92.0%,#8cca50 93.8%,#72cc64 95.5%,#86ca55 97.3%,#68cc6c 99.1%)"></i><i style="height:6px;background:linear-gradient(90deg,#92ca4c 0.9%,#83cb57 2.7%,#b1c538 4.5%,#cdc028 6.2%,#ccc029 8.0%,#acc63b 9.8%,#b1c538 11.6%,#75cc62 13.4%,#27c3a7 15.2%,#16beb9 17.0%,#3dc892 18.8%,#5ecc74 20.5%,#51cb80 22.3%,#6ecc67 24.1%,#59cc79 25.9%,#5bcc77 27.7%,#53cb7e 29.5%,#58cc7a 31.2%,#6ecc67 33.0%,#49ca87 34.8%,#39c896 36.6%,#32c69d 38.4%,#2ec5a0 40.2%,#11bac2 42.0%,#14bdbb 43.8%,#11bbc1 45.5%,#15bdba 47.3%,#0fb9c4 49.1%,#09b4d1 50.9%,#12bbc0 52.7%,#0ab6cd 54.5%,#11bbc1 56.2%,#11bbc1 58.0%,#23c2ab 59.8%,#1dc1b1 61.6%,#2ac4a4 63.4%,#2cc5a2 65.2%,#2bc5a3 67.0%,#3ec991 68.8%,#2bc5a3 70.5%,#18bfb5 72.3%,#13bcbe 74.1%,#10bac3 75.9%,#09b5cf 77.7%,#09b5cf 79.5%,#1ac0b4 81.2%,#4fcb81 83.0%,#76cb61 84.8%,#8eca4e 86.6%,#8aca52 88.4%,#9bc945 90.2%,#b0c538 92.0%,#93ca4a 93.8%,#97ca48 95.5%,#a3c840 97.3%,#a2c841 99.1%)"></i><i style="height:6px;background:linear-gradient(90deg,#7fcb5a 0.9%,#97ca48 2.7%,#b6c435 4.5%,#a2c841 6.2%,#b2c538 8.0%,#cec028 9.8%,#c2c22e 11.6%,#5fcc73 13.4%,#20c2ad 15.2%,#26c3a8 17.0%,#3ec991 18.8%,#65cc6f 20.5%,#4bca86 22.3%,#5dcc75 24.1%,#50cb80 25.9%,#58cc7a 27.7%,#68cc6c 29.5%,#5bcc76 31.2%,#63cd70 33.0%,#5bcc77 34.8%,#4bca86 36.6%,#42c98d 38.4%,#17bfb7 40.2%,#16beb8 42.0%,#14bdbc 43.8%,#17bfb6 45.5%,#0db8c8 47.3%,#15beb9 49.1%,#0bb6cc 50.9%,#0fb9c4 52.7%,#12bbc0 54.5%,#13bcbd 56.2%,#0fb9c4 58.0%,#20c2ad 59.8%,#36c899 61.6%,#25c3a9 63.4%,#38c897 65.2%,#37c898 67.0%,#2fc6a0 68.8%,#23c2ab 70.5%,#15beba 72.3%,#12bbbf 74.1%,#13bcbe 75.9%,#0ab5ce 77.7%,#0bb6cc 79.5%,#23c2ab 81.2%,#58cc79 83.0%,#9ac945 84.8%,#adc63a 86.6%,#b1c538 88.4%,#a5c73f 90.2%,#ccc028 92.0%,#c4c22d 93.8%,#afc539 95.5%,#bcc332 97.3%,#c0c22f 99.1%)"></i><i style="height:6px;background:linear-gradient(90deg,#9ec943 0.9%,#b9c433 2.7%,#c3c22e 4.5%,#b9c434 6.2%,#c5c22c 8.0%,#cec028 9.8%,#a5c73f 11.6%,#99c946 13.4%,#28c4a6 15.2%,#2dc5a1 17.0%,#4cca84 18.8%,#71cc65 20.5%,#5acc78 22.3%,#63cd70 24.1%,#8dca4f 25.9%,#83cb57 27.7%,#64cc6f 29.5%,#6dcc68 31.2%,#53cb7f 33.0%,#50cb81 34.8%,#4cca84 36.6%,#5ecc74 38.4%,#2dc5a1 40.2%,#22c2ac 42.0%,#1dc1b1 43.8%,#1bc0b2 45.5%,#30c69e 47.3%,#22c2ac 49.1%,#1fc1af 50.9%,#18bfb6 52.7%,#16beb8 54.5%,#10bac3 56.2%,#11bbc1 58.0%,#17bfb6 59.8%,#1fc1af 61.6%,#29c4a5 63.4%,#3bc894 65.2%,#33c79b 67.0%,#26c3a8 68.8%,#2ac4a4 70.5%,#31c69d 72.3%,#27c4a7 74.1%,#19c0b5 75.9%,#17bfb7 77.7%,#22c2ac 79.5%,#32c69d 81.2%,#6dcc68 83.0%,#b0c538 84.8%,#bfc330 86.6%,#c2c22e 88.4%,#cec028 90.2%,#d6bf2c 92.0%,#c8c12b 93.8%,#c5c12c 95.5%,#cdc028 97.3%,#d1bf29 99.1%)"></i><i style="height:6px;background:linear-gradient(90deg,#cdc028 0.9%,#bcc331 2.7%,#d8be2c 4.5%,#dcbe2f 6.2%,#dcbe2f 8.0%,#cfc028 9.8%,#c3c22d 11.6%,#8fca4e 13.4%,#4fcb82 15.2%,#4fcb82 17.0%,#87ca54 18.8%,#8eca4f 20.5%,#89ca52 22.3%,#85cb56 24.1%,#a6c73e 25.9%,#96ca49 27.7%,#8aca52 29.5%,#97ca48 31.2%,#8dca4f 33.0%,#85cb55 34.8%,#97ca48 36.6%,#83cb57 38.4%,#5ccc76 40.2%,#66cc6d 42.0%,#4fcb82 43.8%,#6acc6a 45.5%,#3dc892 47.3%,#45c98b 49.1%,#3cc893 50.9%,#35c79a 52.7%,#2cc5a2 54.5%,#37c898 56.2%,#30c69e 58.0%,#37c898 59.8%,#2bc5a3 61.6%,#32c79c 63.4%,#3cc893 65.2%,#41c98e 67.0%,#34c79b 68.8%,#4dca83 70.5%,#38c896 72.3%,#36c898 74.1%,#30c69f 75.9%,#37c898 77.7%,#2ac4a5 79.5%,#4fcb82 81.2%,#98c947 83.0%,#cdc028 84.8%,#d7be2c 86.6%,#e3bd32 88.4%,#ecbb37 90.2%,#f2ba3a 92.0%,#f4ba3b 93.8%,#e0bd30 95.5%,#e9bc35 97.3%,#ecbb37 99.1%)"></i><i style="height:6px;background:linear-gradient(90deg,#c0c330 0.9%,#c1c22f 2.7%,#ebbb36 4.5%,#cfc028 6.2%,#e5bc33 8.0%,#dabe2e 9.8%,#c4c22d 11.6%,#a3c840 13.4%,#4fcb82 15.2%,#53cb7e 17.0%,#b0c539 18.8%,#aac63c 20.5%,#bcc332 22.3%,#d1bf29 24.1%,#d2bf2a 25.9%,#b9c434 27.7%,#c3c22e 29.5%,#c4c22d 31.2%,#dbbe2e 33.0%,#c4c22d 34.8%,#b5c435 36.6%,#b6c435 38.4%,#a7c73e 40.2%,#8eca4e 42.0%,#a9c73d 43.8%,#a5c73f 45.5%,#8aca52 47.3%,#7bcb5d 49.1%,#72cc65 50.9%,#6ecc67 52.7%,#58cc79 54.5%,#3cc893 56.2%,#4bca86 58.0%,#4fcb81 59.8%,#42c98d 61.6%,#51cb80 63.4%,#44c98c 65.2%,#52cb7f 67.0%,#58cc7a 68.8%,#5fcd73 70.5%,#72cc64 72.3%,#65cc6e 74.1%,#5dcc75 75.9%,#5acc78 77.7%,#46c98a 79.5%,#74cc63 81.2%,#b6c435 83.0%,#c9c12a 84.8%,#f6bd39 86.6%,#f5ba3b 88.4%,#f8c137 90.2%,#f9c237 92.0%,#fac635 93.8%,#fac635 95.5%,#f7bf39 97.3%,#fac635 99.1%)"></i><i style="height:6px;background:linear-gradient(90deg,#dfbd30 0.9%,#e7bc34 2.7%,#f7be39 4.5%,#e9bc35 6.2%,#f6bc3a 8.0%,#f7bf38 9.8%,#d7bf2c 11.6%,#d0c029 13.4%,#7dcb5b 15.2%,#75cb62 17.0%,#cbc029 18.8%,#ecbb37 20.5%,#d7bf2c 22.3%,#e9bc35 24.1%,#f3ba3a 25.9%,#f6bc3a 27.7%,#f8c138 29.5%,#f7bd39 31.2%,#f7be39 33.0%,#debd2f 34.8%,#e8bc34 36.6%,#f5ba3b 38.4%,#f0ba39 40.2%,#e6bc34 42.0%,#d6bf2c 43.8%,#e1bd31 45.5%,#ccc028 47.3%,#bfc330 49.1%,#a7c73e 50.9%,#a3c840 52.7%,#94ca4a 54.5%,#97c948 56.2%,#6fcc66 58.0%,#63cd70 59.8%,#60cd72 61.6%,#58cc7a 63.4%,#43c98d 65.2%,#71cc65 67.0%,#5bcc76 68.8%,#72cc64 70.5%,#69cc6b 72.3%,#78cb5f 74.1%,#9dc944 75.9%,#75cb62 77.7%,#71cc65 79.5%,#a6c73f 81.2%,#bfc330 83.0%,#f3ba3a 84.8%,#f9c336 86.6%,#fbd22f 88.4%,#fdcc32 90.2%,#fcca33 92.0%,#fbc933 93.8%,#fcca33 95.5%,#f8c038 97.3%,#f8c137 99.1%)"></i><i style="height:6px;background:linear-gradient(90deg,#e5bc33 0.9%,#eebb38 2.7%,#f9c237 4.5%,#fac734 6.2%,#f6bb3a 8.0%,#f0bb39 9.8%,#eabb36 11.6%,#d9be2d 13.4%,#91ca4c 15.2%,#7dcb5c 17.0%,#d4bf2b 18.8%,#e7bc34 20.5%,#e8bc35 22.3%,#f9c237 24.1%,#f2ba3a 25.9%,#f8c038 27.7%,#fac635 29.5%,#f8c237 31.2%,#fbc834 33.0%,#f6bd39 34.8%,#fbc734 36.6%,#ebbb36 38.4%,#f9c336 40.2%,#f5ba3b 42.0%,#e6bc33 43.8%,#e9bc35 45.5%,#f6bb3a 47.3%,#debd30 49.1%,#cbc029 50.9%,#bec331 52.7%,#8cca50 54.5%,#8fca4e 56.2%,#85cb56 58.0%,#8bca51 59.8%,#79cb5f 61.6%,#4eca83 63.4%,#76cb61 65.2%,#66cc6e 67.0%,#65cc6f 68.8%,#6bcc6a 70.5%,#95ca49 72.3%,#a5c73f 74.1%,#a1c841 75.9%,#96ca48 77.7%,#afc639 79.5%,#adc63a 81.2%,#d4bf2b 83.0%,#f9c237 84.8%,#fac535 86.6%,#fbd22f 88.4%,#fdce31 90.2%,#fbd32f 92.0%,#f5e526 93.8%,#f9da2b 95.5%,#fbd42e 97.3%,#fad62d 99.1%)"></i><i style="height:6px;background:linear-gradient(90deg,#f9c336 0.9%,#f8c237 2.7%,#f9c336 4.5%,#f8c038 6.2%,#f6bc3a 8.0%,#f5ba3b 9.8%,#f5bb3a 11.6%,#cfc028 13.4%,#b9c433 15.2%,#a7c73e 17.0%,#d2bf2a 18.8%,#ecbb36 20.5%,#f6bc3a 22.3%,#f3ba3a 24.1%,#fac735 25.9%,#f8c137 27.7%,#f4ba3a 29.5%,#f4ba3b 31.2%,#fbc834 33.0%,#f8c237 34.8%,#f5bb3a 36.6%,#f8c237 38.4%,#eabc35 40.2%,#f9c336 42.0%,#f9c436 43.8%,#f6bc3a 45.5%,#d8be2c 47.3%,#d6bf2b 49.1%,#d0c029 50.9%,#b3c537 52.7%,#97c947 54.5%,#8aca51 56.2%,#6ecc68 58.0%,#74cc62 59.8%,#55cb7c 61.6%,#5bcc77 63.4%,#75cb62 65.2%,#7ccb5d 67.0%,#70cc66 68.8%,#92ca4c 70.5%,#88ca53 72.3%,#bec330 74.1%,#bac433 75.9%,#a4c73f 77.7%,#b3c537 79.5%,#adc63a 81.2%,#f5ba3b 83.0%,#f7be39 84.8%,#f8db2b 86.6%,#f5e427 88.4%,#f5ea23 90.2%,#f5e725 92.0%,#fad72d 93.8%,#f9da2b 95.5%,#f7e029 97.3%,#f5e426 99.1%)"></i><i style="height:6px;background:linear-gradient(90deg,#fccb32 0.9%,#f8c137 2.7%,#fccb33 4.5%,#fccb32 6.2%,#fac535 8.0%,#f8c237 9.8%,#f8c137 11.6%,#e9bc35 13.4%,#c3c22d 15.2%,#c7c12b 17.0%,#f5ba3b 18.8%,#f6bc3a 20.5%,#f8c237 22.3%,#fbc734 24.1%,#f1ba39 25.9%,#fbc834 27.7%,#f5ba3b 29.5%,#f6bc3a 31.2%,#fac635 33.0%,#fac535 34.8%,#f8c137 36.6%,#f6bd39 38.4%,#f8c137 40.2%,#f6bc3a 42.0%,#f0bb38 43.8%,#ebbb36 45.5%,#ddbe2f 47.3%,#c8c12b 49.1%,#d5bf2b 50.9%,#c4c22d 52.7%,#9ec843 54.5%,#94ca4a 56.2%,#77cb60 58.0%,#81cb59 59.8%,#62cd71 61.6%,#50cb81 63.4%,#77cb60 65.2%,#81cb59 67.0%,#5bcc77 68.8%,#81cb58 70.5%,#90ca4d 72.3%,#b3c537 74.1%,#a5c73f 75.9%,#a0c842 77.7%,#9dc943 79.5%,#c5c22d 81.2%,#eabb36 83.0%,#fac635 84.8%,#f8dd2a 86.6%,#f5e427 88.4%,#f7f11d 90.2%,#f5e725 92.0%,#f7ef1e 93.8%,#f7f11d 95.5%,#f5e824 97.3%,#f5e626 99.1%)"></i><i style="height:7px;background:linear-gradient(90deg,#f9d82c 0.9%,#f9d92c 2.7%,#fbd22f 4.5%,#fad82c 6.2%,#fdcc32 8.0%,#f9c436 9.8%,#fcc933 11.6%,#f5ba3b 13.4%,#debd30 15.2%,#d1bf29 17.0%,#debd2f 18.8%,#f7bf38 20.5%,#f6bc3a 22.3%,#f7bf38 24.1%,#f9c436 25.9%,#fbc934 27.7%,#fac535 29.5%,#f6bc3a 31.2%,#fcca33 33.0%,#f5bb3b 34.8%,#f8c038 36.6%,#f8c138 38.4%,#f5ba3b 40.2%,#fac535 42.0%,#f7c038 43.8%,#f7bf38 45.5%,#e1bd31 47.3%,#eabc35 49.1%,#b8c434 50.9%,#b4c536 52.7%,#b2c538 54.5%,#8eca4f 56.2%,#75cb62 58.0%,#66cc6d 59.8%,#7bcb5d 61.6%,#67cc6d 63.4%,#65cc6f 65.2%,#70cc65 67.0%,#7bcb5d 68.8%,#78cb60 70.5%,#8cca50 72.3%,#9dc944 74.1%,#b4c536 75.9%,#b5c436 77.7%,#c6c12c 79.5%,#cec028 81.2%,#f7bf38 83.0%,#fad62d 84.8%,#f6e228 86.6%,#f6ec21 88.4%,#f7ef1f 90.2%,#f6ee20 92.0%,#f8f619 93.8%,#f7f11d 95.5%,#f5e526 97.3%,#f8f619 99.1%)"></i><i style="height:6px;background:linear-gradient(90deg,#fad72d 0.9%,#f7e029 2.7%,#f6e128 4.5%,#f6e228 6.2%,#f8db2b 8.0%,#fbc934 9.8%,#f8c137 11.6%,#fac536 13.4%,#edbb37 15.2%,#dfbd30 17.0%,#f7be39 18.8%,#f7bf38 20.5%,#f8c137 22.3%,#f5bb3a 24.1%,#edbb37 25.9%,#f8c137 27.7%,#efbb38 29.5%,#f7bf38 31.2%,#f7bf38 33.0%,#f0bb38 34.8%,#e7bc34 36.6%,#f7bf39 38.4%,#f9c336 40.2%,#f7bf38 42.0%,#fac735 43.8%,#eebb37 45.5%,#f5bb3b 47.3%,#dabe2d 49.1%,#c3c22e 50.9%,#9fc842 52.7%,#92ca4b 54.5%,#93ca4b 56.2%,#7ecb5b 58.0%,#7acb5e 59.8%,#5bcc77 61.6%,#54cb7e 63.4%,#61cd72 65.2%,#68cc6c 67.0%,#64cc6f 68.8%,#71cc65 70.5%,#a9c73d 72.3%,#aac63c 74.1%,#99c946 75.9%,#9fc842 77.7%,#a7c73e 79.5%,#d2bf29 81.2%,#f6bd3a 83.0%,#fdcd31 84.8%,#f6ec20 86.6%,#f6ee20 88.4%,#f7f01e 90.2%,#f9f916 92.0%,#f8f817 93.8%,#f7f11c 95.5%,#f9f916 97.3%,#f5e626 99.1%)"></i><i style="height:6px;background:linear-gradient(90deg,#f9da2c 0.9%,#f5e427 2.7%,#f6ea22 4.5%,#f9da2c 6.2%,#f6e128 8.0%,#fcd12f 9.8%,#fcd12f 11.6%,#f6bd39 13.4%,#f6bc3a 15.2%,#f1ba39 17.0%,#f7bf38 18.8%,#e8bc34 20.5%,#eabc35 22.3%,#dfbd30 24.1%,#f3ba3a 25.9%,#dabe2e 27.7%,#f5ba3b 29.5%,#d8be2d 31.2%,#d8be2c 33.0%,#f6bb3a 34.8%,#f1ba39 36.6%,#f8c038 38.4%,#f4ba3b 40.2%,#f2ba39 42.0%,#f5ba3b 43.8%,#f9c336 45.5%,#e0bd30 47.3%,#e8bc34 49.1%,#cbc129 50.9%,#aac63c 52.7%,#8aca52 54.5%,#91ca4d 56.2%,#80cb59 58.0%,#59cc79 59.8%,#39c896 61.6%,#44c98c 63.4%,#59cc79 65.2%,#52cb7f 67.0%,#4aca86 68.8%,#61cd71 70.5%,#a0c842 72.3%,#95ca49 74.1%,#93ca4b 75.9%,#a4c73f 77.7%,#9bc945 79.5%,#c3c22d 81.2%,#e3bd32 83.0%,#fccf30 84.8%,#f5e923 86.6%,#f6ed20 88.4%,#f8f51a 90.2%,#f8f41a 92.0%,#f9fa15 93.8%,#f8f51a 95.5%,#f8f41a 97.3%,#f7f21c 99.1%)"></i><i style="height:6px;background:linear-gradient(90deg,#f6e327 0.9%,#fbd42e 2.7%,#f9da2b 4.5%,#f6eb22 6.2%,#f6e228 8.0%,#fac735 9.8%,#fcd030 11.6%,#f9c237 13.4%,#f7bf38 15.2%,#f2ba39 17.0%,#e4bc32 18.8%,#d7be2c 20.5%,#ecbb36 22.3%,#e7bc34 24.1%,#dcbe2f 25.9%,#d2bf29 27.7%,#d1bf29 29.5%,#e3bd32 31.2%,#cdc028 33.0%,#cac12a 34.8%,#f6bd3a 36.6%,#f8c237 38.4%,#ecbb36 40.2%,#eebb38 42.0%,#f8c038 43.8%,#f0bb38 45.5%,#e8bc34 47.3%,#dbbe2e 49.1%,#a5c73f 50.9%,#9dc944 52.7%,#7ccb5d 54.5%,#69cc6b 56.2%,#5fcc74 58.0%,#44c98c 59.8%,#42c98d 61.6%,#23c2aa 63.4%,#43c98d 65.2%,#33c79b 67.0%,#44c98c 68.8%,#53cb7e 70.5%,#88ca53 72.3%,#c0c22f 74.1%,#a1c841 75.9%,#b6c435 77.7%,#b8c434 79.5%,#c7c12b 81.2%,#e6bc34 83.0%,#fdcc32 84.8%,#f7de2a 86.6%,#f6ec21 88.4%,#f7ef1e 90.2%,#f6ed20 92.0%,#f8f817 93.8%,#f8f31b 95.5%,#f6ed20 97.3%,#f6eb22 99.1%)"></i><i style="height:6px;background:linear-gradient(90deg,#fbd42e 0.9%,#fad62d 2.7%,#f5e427 4.5%,#f9da2b 6.2%,#f8db2b 8.0%,#fccb32 9.8%,#fdcd31 11.6%,#f6bc3a 13.4%,#f7bf38 15.2%,#f6bc3a 17.0%,#f4ba3a 18.8%,#d3bf2a 20.5%,#e6bc34 22.3%,#d0c029 24.1%,#ddbe2f 25.9%,#c7c12b 27.7%,#c4c22d 29.5%,#aec639 31.2%,#c0c22f 33.0%,#bbc332 34.8%,#eebb37 36.6%,#f6bb3a 38.4%,#f3ba3a 40.2%,#e7bc34 42.0%,#f0bb38 43.8%,#efbb38 45.5%,#e1bd31 47.3%,#d4bf2a 49.1%,#90ca4d 50.9%,#8dca50 52.7%,#97ca48 54.5%,#84cb56 56.2%,#59cc78 58.0%,#41c98f 59.8%,#29c4a5 61.6%,#2ec5a0 63.4%,#2dc5a1 65.2%,#2cc5a2 67.0%,#3cc893 68.8%,#6fcc66 70.5%,#8eca4f 72.3%,#a9c73d 74.1%,#9ac945 75.9%,#a8c73d 77.7%,#98c947 79.5%,#cdc028 81.2%,#f8c137 83.0%,#f9da2c 84.8%,#f7ef1e 86.6%,#f5e825 88.4%,#f6ea23 90.2%,#f7f01d 92.0%,#f9fb15 93.8%,#f8f41a 95.5%,#f6ec21 97.3%,#f5e824 99.1%)"></i><i style="height:6px;background:linear-gradient(90deg,#f9d82c 0.9%,#f9d82c 2.7%,#f7de29 4.5%,#f6ea22 6.2%,#fbd32e 8.0%,#fcca33 9.8%,#fcca33 11.6%,#f5ba3b 13.4%,#f7bf38 15.2%,#edbb37 17.0%,#f0bb38 18.8%,#e2bd32 20.5%,#d9be2d 22.3%,#bdc331 24.1%,#c1c22f 25.9%,#b9c433 27.7%,#b1c538 29.5%,#c3c22e 31.2%,#a3c840 33.0%,#c5c12c 34.8%,#e0bd31 36.6%,#debd30 38.4%,#e9bc35 40.2%,#f6bc3a 42.0%,#f8c038 43.8%,#e7bc34 45.5%,#dbbe2e 47.3%,#c9c12a 49.1%,#a4c740 50.9%,#85cb55 52.7%,#93ca4a 54.5%,#6ccc69 56.2%,#43c98c 58.0%,#2fc69f 59.8%,#20c2ae 61.6%,#13bcbe 63.4%,#1ac0b3 65.2%,#1ac0b3 67.0%,#3cc893 68.8%,#65cc6e 70.5%,#9dc944 72.3%,#a7c73e 74.1%,#9cc944 75.9%,#a1c841 77.7%,#98c947 79.5%,#a4c73f 81.2%,#f1ba39 83.0%,#fdce31 84.8%,#f7de29 86.6%,#f7f01e 88.4%,#f9fa15 90.2%,#f8f718 92.0%,#f7f01d 93.8%,#f6ed20 95.5%,#f8f41a 97.3%,#f7f11c 99.1%)"></i><i style="height:6px;background:linear-gradient(90deg,#f9d92c 0.9%,#f7e029 2.7%,#f5e427 4.5%,#f5e825 6.2%,#f5e427 8.0%,#fdce31 9.8%,#fbc933 11.6%,#f8c237 13.4%,#f6bc3a 15.2%,#debd30 17.0%,#d8be2d 18.8%,#eabc35 20.5%,#c0c22f 22.3%,#d1bf29 24.1%,#b9c433 25.9%,#bec330 27.7%,#b4c536 29.5%,#a1c841 31.2%,#96ca49 33.0%,#cdc028 34.8%,#c9c12a 36.6%,#e1bd31 38.4%,#f7be39 40.2%,#f3ba3a 42.0%,#ecbb37 43.8%,#f6bd39 45.5%,#f5bb3b 47.3%,#c1c22f 49.1%,#b0c538 50.9%,#84cb56 52.7%,#97c947 54.5%,#6bcc6a 56.2%,#5dcc75 58.0%,#39c896 59.8%,#16beb8 61.6%,#17bfb7 63.4%,#23c2aa 65.2%,#1dc1b1 67.0%,#2ac4a4 68.8%,#6ccc69 70.5%,#9ec943 72.3%,#a9c73c 74.1%,#8bca51 75.9%,#a8c73d 77.7%,#aec63a 79.5%,#c2c22e 81.2%,#f6bb3a 83.0%,#fdcc32 84.8%,#f5e924 86.6%,#f9fa15 88.4%,#f7f31b 90.2%,#f6eb22 92.0%,#f6ec21 93.8%,#f9fb15 95.5%,#f8f619 97.3%,#f9fa16 99.1%)"></i></div>
<div class="hm" style="left:1994px;top:1101px;width:15px;height:242px;background:linear-gradient(180deg,#f9fb15 0.0%,#f6ec21 4.2%,#f8dc2a 8.3%,#fdcc32 12.5%,#f7bf38 16.7%,#e6bc33 20.8%,#cbc029 25.0%,#a9c73d 29.2%,#85cb56 33.3%,#5fcd73 37.5%,#43c98d 41.7%,#2ac4a4 45.8%,#16bfb7 50.0%,#0db8c9 54.2%,#11afd7 58.3%,#20a4e3 62.5%,#2897eb 66.7%,#2d8af3 70.8%,#327cfc 75.0%,#3f6bfc 79.2%,#465bf8 83.3%,#484cf0 87.5%,#463ede 91.7%,#4331c6 95.8%,#3e26a8 100.0%)"></div>
<div class="hm" style="left:122px;top:1477px;width:513px;height:481px"><i style="height:8px;background:linear-gradient(90deg,#1fa5e2 1.4%,#1ea6e1 4.2%,#18aadd 6.9%,#1fa5e2 9.7%,#1ea6e1 12.5%,#1da6e0 15.3%,#21a2e4 18.1%,#21a2e4 20.8%,#259ce8 23.6%,#259ce8 26.4%,#2798ea 29.2%,#22a2e4 31.9%,#1ba8df 34.7%,#12bcbf 37.5%,#3fc991 40.3%,#67cc6d 43.1%,#c0c22f 45.8%,#dcbe2f 48.6%,#debd2f 51.4%,#d8be2d 54.2%,#b3c537 56.9%,#a2c840 59.7%,#b3c537 62.5%,#8aca52 65.3%,#5acc77 68.1%,#55cb7c 70.8%,#6ecc68 73.6%,#94ca4a 76.4%,#9cc944 79.2%,#9dc944 81.9%,#6dcc68 84.7%,#60cd72 87.5%,#5ccc76 90.3%,#67cc6d 93.1%,#6dcc68 95.8%,#6ecc68 98.6%)"></i><i style="height:8px;background:linear-gradient(90deg,#17abdc 1.4%,#17abdc 4.2%,#19a9de 6.9%,#1ba8df 9.7%,#21a4e3 12.5%,#21a2e4 15.3%,#21a3e3 18.1%,#259de8 20.8%,#249ee7 23.6%,#2897eb 26.4%,#22a2e4 29.2%,#21a3e4 31.9%,#0eb0d5 34.7%,#13bcbe 37.5%,#2fc6a0 40.3%,#6dcc68 43.1%,#bec331 45.8%,#d0c028 48.6%,#e6bc33 51.4%,#d2bf2a 54.2%,#b1c538 56.9%,#b7c435 59.7%,#bcc332 62.5%,#91ca4c 65.3%,#57cc7a 68.1%,#57cc7a 70.8%,#8fca4e 73.6%,#9ec943 76.4%,#90ca4d 79.2%,#87ca54 81.9%,#5fcc73 84.7%,#50cb81 87.5%,#65cc6e 90.3%,#58cc79 93.1%,#71cc65 95.8%,#74cc63 98.6%)"></i><i style="height:8px;background:linear-gradient(90deg,#21a2e4 1.4%,#1ba8df 4.2%,#22a1e5 6.9%,#1ca7e0 9.7%,#22a1e5 12.5%,#20a5e2 15.3%,#21a2e4 18.1%,#239fe6 20.8%,#23a0e5 23.6%,#259ce8 26.4%,#269be9 29.2%,#1ba8df 31.9%,#19a9de 34.7%,#0fb9c6 37.5%,#43c98d 40.3%,#7dcb5c 43.1%,#a3c840 45.8%,#ddbe2f 48.6%,#d3bf2a 51.4%,#cfc028 54.2%,#c8c12b 56.9%,#adc63a 59.7%,#acc63b 62.5%,#8aca51 65.3%,#58cc7a 68.1%,#5ecc74 70.8%,#75cb62 73.6%,#99c946 76.4%,#99c946 79.2%,#8fca4e 81.9%,#7dcb5c 84.7%,#5bcc76 87.5%,#5ecc74 90.3%,#6ecc67 93.1%,#63cd70 95.8%,#69cc6b 98.6%)"></i><i style="height:8px;background:linear-gradient(90deg,#18aadd 1.4%,#1aa9de 4.2%,#21a3e4 6.9%,#21a2e4 9.7%,#1ba8df 12.5%,#17aadc 15.3%,#21a3e4 18.1%,#1ca7df 20.8%,#249ee7 23.6%,#2799ea 26.4%,#259ce8 29.2%,#23a0e6 31.9%,#1aa8de 34.7%,#17bfb6 37.5%,#48ca88 40.3%,#9dc944 43.1%,#b9c433 45.8%,#e0bd30 48.6%,#e0bd31 51.4%,#d3bf2a 54.2%,#bac433 56.9%,#c2c22e 59.7%,#b0c539 62.5%,#a3c840 65.3%,#84cb56 68.1%,#87ca54 70.8%,#9cc944 73.6%,#a1c841 76.4%,#bdc331 79.2%,#9ac945 81.9%,#75cb62 84.7%,#6ccc69 87.5%,#6dcc68 90.3%,#65cc6f 93.1%,#79cb5f 95.8%,#88ca53 98.6%)"></i><i style="height:8px;background:linear-gradient(90deg,#1da6e1 1.4%,#22a1e5 4.2%,#20a4e3 6.9%,#19a9dd 9.7%,#17aadc 12.5%,#1ba8df 15.3%,#19a9de 18.1%,#20a4e3 20.8%,#2a94ed 23.6%,#2b90ef 26.4%,#2896eb 29.2%,#19a9dd 31.9%,#0fb0d6 34.7%,#1fc1af 37.5%,#57cc7a 40.3%,#b6c435 43.1%,#d0c029 45.8%,#e4bc33 48.6%,#ddbe2f 51.4%,#e8bc34 54.2%,#bcc331 56.9%,#c4c22d 59.7%,#d0c029 62.5%,#cbc029 65.3%,#a8c73d 68.1%,#a2c841 70.8%,#b8c434 73.6%,#c9c12a 76.4%,#bbc332 79.2%,#bdc331 81.9%,#adc63a 84.7%,#9cc944 87.5%,#81cb59 90.3%,#92ca4b 93.1%,#a7c73e 95.8%,#a6c73f 98.6%)"></i><i style="height:8px;background:linear-gradient(90deg,#1da7e0 1.4%,#20a4e3 4.2%,#1da6e1 6.9%,#1da7e0 9.7%,#22a1e5 12.5%,#1ba8df 15.3%,#14add9 18.1%,#1ca7df 20.8%,#269ae9 23.6%,#2a93ee 26.4%,#239fe6 29.2%,#1da6e1 31.9%,#11afd7 34.7%,#23c2ab 37.5%,#73cc63 40.3%,#d4bf2a 43.1%,#d2bf2a 45.8%,#e8bc35 48.6%,#e5bc33 51.4%,#d8be2c 54.2%,#d4bf2b 56.9%,#cbc029 59.7%,#d6bf2c 62.5%,#dabe2d 65.3%,#b4c536 68.1%,#a8c73d 70.8%,#bfc330 73.6%,#d2bf2a 76.4%,#c8c12b 79.2%,#bfc330 81.9%,#c5c12c 84.7%,#adc63a 87.5%,#96ca48 90.3%,#a8c73d 93.1%,#a9c73d 95.8%,#bec330 98.6%)"></i><i style="height:8px;background:linear-gradient(90deg,#21a2e4 1.4%,#1fa5e2 4.2%,#1aa9de 6.9%,#18aadd 9.7%,#19a9dd 12.5%,#1fa5e2 15.3%,#19a9dd 18.1%,#22a2e5 20.8%,#2b91ef 23.6%,#2a93ee 26.4%,#23a0e6 29.2%,#19a9dd 31.9%,#0bb2d3 34.7%,#2dc5a2 37.5%,#97ca48 40.3%,#dabe2e 43.1%,#e9bc35 45.8%,#e7bc34 48.6%,#e3bd32 51.4%,#dfbd30 54.2%,#d7bf2c 56.9%,#d2bf29 59.7%,#d7be2c 62.5%,#e5bc33 65.3%,#e1bd31 68.1%,#d3bf2a 70.8%,#cfc028 73.6%,#d1c029 76.4%,#e7bc34 79.2%,#cec028 81.9%,#d4bf2b 84.7%,#c2c22e 87.5%,#a5c73f 90.3%,#b6c435 93.1%,#b3c537 95.8%,#c2c22e 98.6%)"></i><i style="height:8px;background:linear-gradient(90deg,#1fa5e2 1.4%,#23a0e6 4.2%,#1aa9de 6.9%,#21a3e4 9.7%,#22a1e5 12.5%,#22a2e4 15.3%,#17abdc 18.1%,#21a4e3 20.8%,#2896eb 23.6%,#2a94ed 26.4%,#239fe6 29.2%,#17abdc 31.9%,#0ab3d2 34.7%,#25c3a9 37.5%,#b7c434 40.3%,#efbb38 43.1%,#ebbb36 45.8%,#f4ba3a 48.6%,#f3ba3a 51.4%,#ddbe2f 54.2%,#d2bf2a 56.9%,#d4bf2b 59.7%,#e9bc35 62.5%,#ebbb36 65.3%,#edbb37 68.1%,#f1ba39 70.8%,#e8bc35 73.6%,#f2ba3a 76.4%,#f5ba3b 79.2%,#ddbe2f 81.9%,#ecbb37 84.7%,#dabe2e 87.5%,#b2c537 90.3%,#bdc331 93.1%,#d8be2d 95.8%,#e8bc35 98.6%)"></i><i style="height:8px;background:linear-gradient(90deg,#20a4e3 1.4%,#1da6e1 4.2%,#19a9dd 6.9%,#19a9de 9.7%,#16abdb 12.5%,#1aa9de 15.3%,#13add9 18.1%,#21a3e4 20.8%,#2798ea 23.6%,#2896ec 26.4%,#249ee7 29.2%,#18aadd 31.9%,#0eb1d5 34.7%,#38c897 37.5%,#cfc028 40.3%,#f9c436 43.1%,#f7bf38 45.8%,#f8c138 48.6%,#f0bb39 51.4%,#f5ba3b 54.2%,#eabb36 56.9%,#debd30 59.7%,#e4bc33 62.5%,#f4ba3a 65.3%,#f6bb3a 68.1%,#f7be39 70.8%,#f5ba3b 73.6%,#eabc35 76.4%,#f7be39 79.2%,#eabb36 81.9%,#f6bc3a 84.7%,#debd30 87.5%,#cfc028 90.3%,#d9be2d 93.1%,#d7bf2c 95.8%,#debd30 98.6%)"></i><i style="height:8px;background:linear-gradient(90deg,#1ea6e1 1.4%,#1ba8df 4.2%,#19a9de 6.9%,#1aa8de 9.7%,#13add9 12.5%,#16abdb 15.3%,#0bb3d3 18.1%,#20a4e3 20.8%,#2a93ee 23.6%,#2a93ee 26.4%,#269ae9 29.2%,#16abdb 31.9%,#0bb6cc 34.7%,#35c79a 37.5%,#d1bf29 40.3%,#f8c137 43.1%,#f7bf38 45.8%,#f7bf38 48.6%,#f8c137 51.4%,#f7be39 54.2%,#e3bd32 56.9%,#f5ba3b 59.7%,#f8c137 62.5%,#f7c038 65.3%,#f8c137 68.1%,#f6bd39 70.8%,#f7c038 73.6%,#f7bf38 76.4%,#f8c237 79.2%,#f5bb3a 81.9%,#fac635 84.7%,#f6bb3a 87.5%,#e2bd32 90.3%,#e8bc35 93.1%,#ecbb37 95.8%,#f0bb38 98.6%)"></i><i style="height:8px;background:linear-gradient(90deg,#1ca7df 1.4%,#22a0e5 4.2%,#1ea6e1 6.9%,#1ea6e1 9.7%,#11afd7 12.5%,#0db1d4 15.3%,#12aed8 18.1%,#18aadd 20.8%,#2a93ee 23.6%,#2b92ee 26.4%,#22a2e4 29.2%,#11aed8 31.9%,#0bb6cb 34.7%,#35c799 37.5%,#c3c22d 40.3%,#fac536 43.1%,#fcca33 45.8%,#f7bf38 48.6%,#f9c336 51.4%,#eebb38 54.2%,#ecbb36 56.9%,#efbb38 59.7%,#f9c336 62.5%,#f9c237 65.3%,#f9c436 68.1%,#fbc834 70.8%,#f7c038 73.6%,#fbc734 76.4%,#f8c237 79.2%,#fbc834 81.9%,#fac535 84.7%,#f8c038 87.5%,#f5bb3a 90.3%,#eebb38 93.1%,#f3ba3a 95.8%,#f5ba3b 98.6%)"></i><i style="height:8px;background:linear-gradient(90deg,#1ea6e1 1.4%,#22a2e4 4.2%,#21a2e4 6.9%,#1aa9de 9.7%,#13add9 12.5%,#0fb0d6 15.3%,#0ab6cd 18.1%,#13add9 20.8%,#259ce8 23.6%,#2c90f0 26.4%,#22a2e4 29.2%,#11afd7 31.9%,#11bbc1 34.7%,#3bc894 37.5%,#cec028 40.3%,#fccb32 43.1%,#fac535 45.8%,#fdce31 48.6%,#fbc834 51.4%,#f6bb3a 54.2%,#f5ba3b 56.9%,#f8c237 59.7%,#f9c237 62.5%,#fac536 65.3%,#fcd12f 68.1%,#fccb32 70.8%,#fdcd31 73.6%,#fac535 76.4%,#fccb32 79.2%,#fbd22f 81.9%,#fcca33 84.7%,#fbc934 87.5%,#fac535 90.3%,#f9c436 93.1%,#fac535 95.8%,#f6bb3a 98.6%)"></i><i style="height:8px;background:linear-gradient(90deg,#1ea6e1 1.4%,#1ba8df 4.2%,#1ea6e1 6.9%,#18aadd 9.7%,#18aadd 12.5%,#13add9 15.3%,#0db1d4 18.1%,#19a9de 20.8%,#2699ea 23.6%,#2a93ed 26.4%,#22a0e5 29.2%,#19a9dd 31.9%,#0db7c9 34.7%,#3fc990 37.5%,#e1bd31 40.3%,#fccf30 43.1%,#fbd22f 45.8%,#fac635 48.6%,#f8c137 51.4%,#fbc933 54.2%,#f8c137 56.9%,#fbc734 59.7%,#fbc834 62.5%,#fccf30 65.3%,#fbd42e 68.1%,#fbd22f 70.8%,#fcd12f 73.6%,#fbc933 76.4%,#fad72d 79.2%,#f8dd2a 81.9%,#fad62d 84.7%,#fad72d 87.5%,#fccf30 90.3%,#fac535 93.1%,#f8c137 95.8%,#f8c038 98.6%)"></i><i style="height:8px;background:linear-gradient(90deg,#1ba8df 1.4%,#22a2e4 4.2%,#18aadc 6.9%,#15acda 9.7%,#0cb2d3 12.5%,#0db7c9 15.3%,#0eb8c7 18.1%,#10afd6 20.8%,#259be9 23.6%,#2a93ed 26.4%,#1fa5e2 29.2%,#0eb0d5 31.9%,#0eb8c7 34.7%,#56cb7b 37.5%,#e3bd32 40.3%,#fccf30 43.1%,#fbd42e 45.8%,#fdcd32 48.6%,#fccf31 51.4%,#fdcc32 54.2%,#fcca33 56.9%,#fdce31 59.7%,#fad52e 62.5%,#fbd42e 65.3%,#f8dc2a 68.1%,#fcd030 70.8%,#fcd030 73.6%,#fbd32f 76.4%,#fcd130 79.2%,#f8db2b 81.9%,#f6e327 84.7%,#f7df29 87.5%,#fdcd32 90.3%,#fcd12f 93.1%,#fccb32 95.8%,#fac635 98.6%)"></i><i style="height:8px;background:linear-gradient(90deg,#16abdb 1.4%,#19a9dd 4.2%,#1ca7e0 6.9%,#19a9de 9.7%,#0cb7cb 12.5%,#0eb8c6 15.3%,#12bbc0 18.1%,#09b5cf 20.8%,#22a1e5 23.6%,#2c8df1 26.4%,#22a1e5 29.2%,#0fb0d6 31.9%,#0fb9c5 34.7%,#4bca85 37.5%,#d6bf2b 40.3%,#fcca33 43.1%,#fcd030 45.8%,#fccb32 48.6%,#fcc933 51.4%,#fcd12f 54.2%,#fdce31 56.9%,#fbd22f 59.7%,#f7e029 62.5%,#f8dd2a 65.3%,#f5e526 68.1%,#f8dd2a 70.8%,#f8db2b 73.6%,#fcd030 76.4%,#f7df29 79.2%,#f5e625 81.9%,#f7de29 84.7%,#f5e824 87.5%,#fcd130 90.3%,#fccf30 93.1%,#fcc933 95.8%,#fdcd32 98.6%)"></i><i style="height:8px;background:linear-gradient(90deg,#14add9 1.4%,#1ea6e1 4.2%,#16abdb 6.9%,#17aadc 9.7%,#0ab6cd 12.5%,#11bbc1 15.3%,#12bbc0 18.1%,#0ab3d2 20.8%,#249ee7 23.6%,#2994ed 26.4%,#249de7 29.2%,#0fb0d6 31.9%,#10bac3 34.7%,#44c98c 37.5%,#dfbd30 40.3%,#fccb33 43.1%,#fcd030 45.8%,#f9d92c 48.6%,#fdce31 51.4%,#fad62d 54.2%,#f9d92c 56.9%,#fbd32e 59.7%,#f5e824 62.5%,#f5e923 65.3%,#f8db2b 68.1%,#f5e526 70.8%,#f9d92c 73.6%,#f8db2b 76.4%,#f5ea23 79.2%,#f6e427 81.9%,#f6ea22 84.7%,#f6ed20 87.5%,#f7df29 90.3%,#fad52e 93.1%,#f8db2b 95.8%,#fad72d 98.6%)"></i><i style="height:8px;background:linear-gradient(90deg,#11afd7 1.4%,#1ba8df 4.2%,#1aa9de 6.9%,#15acdb 9.7%,#0ab5ce 12.5%,#10bac3 15.3%,#17bfb7 18.1%,#08b4d1 20.8%,#259ce8 23.6%,#2995ec 26.4%,#239fe6 29.2%,#15acdb 31.9%,#13bcbd 34.7%,#53cb7e 37.5%,#f0ba39 40.3%,#fad52e 43.1%,#f7e028 45.8%,#f7df29 48.6%,#fad72d 51.4%,#fcd12f 54.2%,#fad72d 56.9%,#f5e923 59.7%,#f6ec21 62.5%,#f6ea22 65.3%,#f5e426 68.1%,#f7df29 70.8%,#f7e029 73.6%,#f7e029 76.4%,#f5e924 79.2%,#f6ee1f 81.9%,#f7f21c 84.7%,#f5e625 87.5%,#f8dd2a 90.3%,#f6e327 93.1%,#f7e029 95.8%,#f7de2a 98.6%)"></i><i style="height:8px;background:linear-gradient(90deg,#16abdb 1.4%,#1aa9de 4.2%,#1ea6e1 6.9%,#14acda 9.7%,#11bac2 12.5%,#14bdbc 15.3%,#1ec1b0 18.1%,#0ab6cd 20.8%,#2799ea 23.6%,#2995ec 26.4%,#22a0e5 29.2%,#0fb0d6 31.9%,#12bbc0 34.7%,#58cc7a 37.5%,#e7bc34 40.3%,#fad52e 43.1%,#f7df29 45.8%,#f6e128 48.6%,#fcd130 51.4%,#fbd42e 54.2%,#f5e923 56.9%,#f6ed20 59.7%,#f7f21c 62.5%,#f6ea22 65.3%,#f5ea23 68.1%,#f6e327 70.8%,#f5e626 73.6%,#f7e028 76.4%,#f6ee1f 79.2%,#f8f817 81.9%,#f7f01d 84.7%,#f7f01e 87.5%,#f6ea23 90.3%,#f5e725 93.1%,#f8dd2a 95.8%,#f8db2b 98.6%)"></i><i style="height:8px;background:linear-gradient(90deg,#0eb0d5 1.4%,#09b4d1 4.2%,#20a4e3 6.9%,#1ba8df 9.7%,#10bac2 12.5%,#1ac0b3 15.3%,#24c2aa 18.1%,#0eb8c7 20.8%,#21a2e4 23.6%,#2c8ef1 26.4%,#259ce8 29.2%,#0fb0d6 31.9%,#0eb9c6 34.7%,#4fcb81 37.5%,#efbb38 40.3%,#fad82d 43.1%,#fad62d 45.8%,#fad62d 48.6%,#f9d82c 51.4%,#f6e228 54.2%,#f5e526 56.9%,#f5e626 59.7%,#f7f11d 62.5%,#f6ee1f 65.3%,#f6ee1f 68.1%,#f6ea23 70.8%,#f5e526 73.6%,#f7e029 76.4%,#f6ed20 79.2%,#f6eb21 81.9%,#f6ee1f 84.7%,#f6ed20 87.5%,#f6ee1f 90.3%,#f5ea23 93.1%,#f7de2a 95.8%,#f7df29 98.6%)"></i><i style="height:8px;background:linear-gradient(90deg,#0cb7cb 1.4%,#0bb2d3 4.2%,#1ca7e0 6.9%,#17aadc 9.7%,#0db8c8 12.5%,#1ec1b0 15.3%,#29c4a6 18.1%,#11bac2 20.8%,#21a3e4 23.6%,#2994ed 26.4%,#259ce8 29.2%,#0eb0d5 31.9%,#15beba 34.7%,#4bca85 37.5%,#d8be2c 40.3%,#fcd12f 43.1%,#f9d82c 45.8%,#f8dc2a 48.6%,#f5e427 51.4%,#f5e427 54.2%,#f6ed20 56.9%,#f5e626 59.7%,#f6ee1f 62.5%,#f7ef1f 65.3%,#f7de29 68.1%,#f9d92c 70.8%,#f7e028 73.6%,#f5e526 76.4%,#f7df29 79.2%,#f6ed20 81.9%,#f5e923 84.7%,#f7f11d 87.5%,#f6ec21 90.3%,#f6e327 93.1%,#f7e028 95.8%,#f5e824 98.6%)"></i><i style="height:8px;background:linear-gradient(90deg,#12bbc0 1.4%,#0db8c8 4.2%,#1ca7df 6.9%,#1aa9de 9.7%,#15bdba 12.5%,#22c2ab 15.3%,#25c3a9 18.1%,#12bbc0 20.8%,#21a2e4 23.6%,#2896ec 26.4%,#20a5e2 29.2%,#14add9 31.9%,#14bdbc 34.7%,#52cb7f 37.5%,#e7bc34 40.3%,#fbd32f 43.1%,#f9db2b 45.8%,#f6e128 48.6%,#f5e725 51.4%,#f5e725 54.2%,#f6eb22 56.9%,#f7f01d 59.7%,#f7f11d 62.5%,#f5e824 65.3%,#f7e028 68.1%,#fad72d 70.8%,#f7de29 73.6%,#f5e427 76.4%,#f7e128 79.2%,#f6e327 81.9%,#f5e725 84.7%,#f6ec21 87.5%,#f5e824 90.3%,#f7f01d 93.1%,#f6e128 95.8%,#f5e427 98.6%)"></i><i style="height:8px;background:linear-gradient(90deg,#13bcbe 1.4%,#0fb9c4 4.2%,#16abdb 6.9%,#1da6e1 9.7%,#0db8c9 12.5%,#20c2ad 15.3%,#2ac4a4 18.1%,#16beb8 20.8%,#269ae9 23.6%,#2c8ef1 26.4%,#259ce8 29.2%,#17aadc 31.9%,#0eb8c7 34.7%,#4fcb81 37.5%,#dbbe2e 40.3%,#fbc734 43.1%,#fdce31 45.8%,#fad72d 48.6%,#f8dd2a 51.4%,#f6ec21 54.2%,#f5ea23 56.9%,#f6ee1f 59.7%,#f7f01d 62.5%,#f5e725 65.3%,#f9da2b 68.1%,#f7df29 70.8%,#f7df29 73.6%,#fad72d 76.4%,#f7e029 79.2%,#f6eb22 81.9%,#f5e923 84.7%,#f5e824 87.5%,#f5e725 90.3%,#f7f31b 93.1%,#f7ef1e 95.8%,#f5e824 98.6%)"></i><i style="height:8px;background:linear-gradient(90deg,#20c1ae 1.4%,#11bbc1 4.2%,#1da6e0 6.9%,#12aed8 9.7%,#13bcbe 12.5%,#1ec1af 15.3%,#21c2ad 18.1%,#13bcbd 20.8%,#239fe6 23.6%,#2897eb 26.4%,#21a2e4 29.2%,#12aed8 31.9%,#0cb7c9 34.7%,#3cc893 37.5%,#cfc028 40.3%,#fac535 43.1%,#fad72d 45.8%,#f8db2b 48.6%,#f5e725 51.4%,#f7f21c 54.2%,#f6eb22 56.9%,#f7ef1e 59.7%,#f5e626 62.5%,#f5e924 65.3%,#fbd32f 68.1%,#f8db2b 70.8%,#f8db2b 73.6%,#f8dd2a 76.4%,#fad52e 79.2%,#f8dd2a 81.9%,#f5ea23 84.7%,#f5e526 87.5%,#f6ee1f 90.3%,#f7ef1e 93.1%,#f8f41a 95.8%,#f6ee1f 98.6%)"></i><i style="height:8px;background:linear-gradient(90deg,#30c69e 1.4%,#13bcbd 4.2%,#12aed8 6.9%,#19a9de 9.7%,#15beb9 12.5%,#1bc0b2 15.3%,#31c69d 18.1%,#11bbc1 20.8%,#22a1e5 23.6%,#2a94ed 26.4%,#259be8 29.2%,#0fb0d5 31.9%,#0db8c8 34.7%,#3dc892 37.5%,#c3c22d 40.3%,#f9c436 43.1%,#fdcc32 45.8%,#f9d92c 48.6%,#f8dd2a 51.4%,#f5e923 54.2%,#f5e427 56.9%,#f5e824 59.7%,#f5e626 62.5%,#f5e725 65.3%,#f9da2b 68.1%,#fbd32f 70.8%,#fcca33 73.6%,#fbd22f 76.4%,#f8dc2b 79.2%,#f9da2c 81.9%,#f5e526 84.7%,#f5e824 87.5%,#f5e626 90.3%,#f8f51a 93.1%,#f7f11d 95.8%,#f5e824 98.6%)"></i><i style="height:8px;background:linear-gradient(90deg,#35c799 1.4%,#17bfb7 4.2%,#15acda 6.9%,#16abdb 9.7%,#10bac3 12.5%,#20c2ad 15.3%,#29c4a5 18.1%,#15beba 20.8%,#249de7 23.6%,#2c8ff0 26.4%,#21a2e4 29.2%,#17abdb 31.9%,#12bcbf 34.7%,#41c98e 37.5%,#d2bf2a 40.3%,#f8c237 43.1%,#fdce31 45.8%,#fccb32 48.6%,#fbd42e 51.4%,#f9da2b 54.2%,#f5e725 56.9%,#f5e824 59.7%,#f8dc2b 62.5%,#f9d82c 65.3%,#fbd42e 68.1%,#fdcc32 70.8%,#fbc834 73.6%,#fdcc32 76.4%,#fcd030 79.2%,#fad52e 81.9%,#f7e029 84.7%,#f7e028 87.5%,#f7f01d 90.3%,#f6eb22 93.1%,#f6ec21 95.8%,#f6ed20 98.6%)"></i><i style="height:8px;background:linear-gradient(90deg,#47ca89 1.4%,#29c4a5 4.2%,#11afd7 6.9%,#17aadc 9.7%,#11bbc0 12.5%,#1ac0b4 15.3%,#29c4a5 18.1%,#15beb9 20.8%,#1ea6e1 23.6%,#2897eb 26.4%,#22a2e4 29.2%,#13add9 31.9%,#09b5cf 34.7%,#38c897 37.5%,#c3c22e 40.3%,#f9c336 43.1%,#f8c137 45.8%,#fccb33 48.6%,#fad52e 51.4%,#f7e029 54.2%,#f5e427 56.9%,#f6e128 59.7%,#fad62d 62.5%,#f9d82c 65.3%,#fccf31 68.1%,#fbc734 70.8%,#fbc734 73.6%,#fdcd32 76.4%,#fdcc32 79.2%,#f8db2b 81.9%,#f5e725 84.7%,#f5e526 87.5%,#f6eb21 90.3%,#f7ef1e 93.1%,#f5e626 95.8%,#f7f11d 98.6%)"></i><i style="height:8px;background:linear-gradient(90deg,#51cb80 1.4%,#25c3a9 4.2%,#12aed8 6.9%,#17abdc 9.7%,#13bcbd 12.5%,#27c4a7 15.3%,#28c4a6 18.1%,#18bfb5 20.8%,#239fe6 23.6%,#2a93ee 26.4%,#259be9 29.2%,#0eb1d5 31.9%,#09b5cf 34.7%,#44c98b 37.5%,#c5c22c 40.3%,#f7c038 43.1%,#f9c436 45.8%,#fac535 48.6%,#fad62d 51.4%,#f8dd2a 54.2%,#f7df29 56.9%,#f8db2b 59.7%,#fcd030 62.5%,#fbd32f 65.3%,#f8c237 68.1%,#fbc734 70.8%,#f9c237 73.6%,#fccb33 76.4%,#fbd42e 79.2%,#fcd030 81.9%,#f8dd2a 84.7%,#f8db2b 87.5%,#f7df29 90.3%,#f5e427 93.1%,#f7f01d 95.8%,#f7f01d 98.6%)"></i><i style="height:8px;background:linear-gradient(90deg,#60cd73 1.4%,#2fc69f 4.2%,#0ab6ce 6.9%,#0eb1d5 9.7%,#12bbc0 12.5%,#25c3a9 15.3%,#31c69d 18.1%,#0fb9c5 20.8%,#249de8 23.6%,#2a93ee 26.4%,#259be8 29.2%,#17abdc 31.9%,#0db8c9 34.7%,#30c69f 37.5%,#c0c22f 40.3%,#f5ba3b 43.1%,#f8c138 45.8%,#f9c237 48.6%,#fdcc32 51.4%,#fcca33 54.2%,#fad72d 56.9%,#fdce31 59.7%,#fad72d 62.5%,#fcca33 65.3%,#f7c038 68.1%,#f6bc3a 70.8%,#f9c436 73.6%,#fbc933 76.4%,#fccf30 79.2%,#fad62d 81.9%,#f9da2c 84.7%,#f5e825 87.5%,#f5e923 90.3%,#f6ec21 93.1%,#f5e725 95.8%,#f5e824 98.6%)"></i><i style="height:8px;background:linear-gradient(90deg,#64cc6f 1.4%,#43c98d 4.2%,#0bb6cd 6.9%,#0fb0d6 9.7%,#12bbbf 12.5%,#29c4a5 15.3%,#25c3a9 18.1%,#0eb8c7 20.8%,#22a1e5 23.6%,#2896ec 26.4%,#22a1e5 29.2%,#15acda 31.9%,#0db8c8 34.7%,#2ec5a1 37.5%,#b5c436 40.3%,#e4bc33 43.1%,#edbb37 45.8%,#f7bf38 48.6%,#fbc734 51.4%,#fccb32 54.2%,#fcc933 56.9%,#fbd32f 59.7%,#fdcd32 62.5%,#f9c336 65.3%,#f5ba3b 68.1%,#f2ba3a 70.8%,#f5bb3a 73.6%,#f6bd39 76.4%,#fdcd32 79.2%,#fbd42e 81.9%,#fad72d 84.7%,#f7e029 87.5%,#f8dc2a 90.3%,#f5e626 93.1%,#f7df29 95.8%,#f5e824 98.6%)"></i><i style="height:8px;background:linear-gradient(90deg,#6bcc6a 1.4%,#48ca88 4.2%,#08b4d0 6.9%,#09b4d1 9.7%,#0fb9c5 12.5%,#20c1ae 15.3%,#2fc6a0 18.1%,#0cb7ca 20.8%,#2798eb 23.6%,#2d8bf3 26.4%,#269ae9 29.2%,#1fa5e2 31.9%,#0db8c8 34.7%,#33c79b 37.5%,#a1c841 40.3%,#dfbd30 43.1%,#edbb37 45.8%,#ecbb37 48.6%,#f7be39 51.4%,#fccf30 54.2%,#fbc933 56.9%,#fccc32 59.7%,#fcd030 62.5%,#fcc933 65.3%,#f3ba3a 68.1%,#e6bc33 70.8%,#f0bb39 73.6%,#f9c436 76.4%,#fbc934 79.2%,#fac535 81.9%,#fbd32e 84.7%,#fcd130 87.5%,#fad72d 90.3%,#fad52d 93.1%,#f6e427 95.8%,#f5e725 98.6%)"></i><i style="height:9px;background:linear-gradient(90deg,#65cc6e 1.4%,#47ca89 4.2%,#0bb6cb 6.9%,#0ab5ce 9.7%,#0eb9c6 12.5%,#16beb8 15.3%,#27c4a7 18.1%,#0db8c8 20.8%,#249de7 23.6%,#2b90f0 26.4%,#249de7 29.2%,#20a5e2 31.9%,#0ab6ce 34.7%,#31c69e 37.5%,#94ca4a 40.3%,#cbc029 43.1%,#d7be2c 45.8%,#e8bc35 48.6%,#f9c336 51.4%,#f9c336 54.2%,#f9c436 56.9%,#fac536 59.7%,#fbc934 62.5%,#f9c436 65.3%,#e9bc35 68.1%,#e9bc35 70.8%,#f5ba3b 73.6%,#f6bb3a 76.4%,#f6bc3a 79.2%,#f8c237 81.9%,#fccf31 84.7%,#fccf30 87.5%,#fdcd31 90.3%,#fad62d 93.1%,#fcd130 95.8%,#f7e128 98.6%)"></i><i style="height:8px;background:linear-gradient(90deg,#76cb61 1.4%,#4aca87 4.2%,#10bac2 6.9%,#11afd7 9.7%,#13bcbe 12.5%,#17bfb7 15.3%,#1bc0b3 18.1%,#10bac3 20.8%,#2b90f0 23.6%,#2f85f7 26.4%,#259ce8 29.2%,#20a5e2 31.9%,#0eb1d5 34.7%,#24c3aa 37.5%,#7acb5e 40.3%,#d3bf2a 43.1%,#debd30 45.8%,#d7be2c 48.6%,#f6bd39 51.4%,#fac734 54.2%,#f9c336 56.9%,#fcca33 59.7%,#f9c436 62.5%,#f5ba3b 65.3%,#e6bc34 68.1%,#e0bd31 70.8%,#e0bd30 73.6%,#f1ba39 76.4%,#f7bf38 79.2%,#f8c138 81.9%,#f9c436 84.7%,#fccc32 87.5%,#fdcd32 90.3%,#fdce31 93.1%,#f9d82c 95.8%,#fdce31 98.6%)"></i><i style="height:8px;background:linear-gradient(90deg,#89ca52 1.4%,#45c98b 4.2%,#13bcbd 6.9%,#0cb2d3 9.7%,#11bbc1 12.5%,#1ec1b0 15.3%,#23c2ab 18.1%,#0eb9c6 20.8%,#2c8ff0 23.6%,#2f85f6 26.4%,#2a94ed 29.2%,#1ca7e0 31.9%,#0db1d4 34.7%,#16beb8 37.5%,#7acb5e 40.3%,#bec330 43.1%,#c6c12c 45.8%,#e2bd31 48.6%,#edbb37 51.4%,#f6bc3a 54.2%,#f5bb3a 56.9%,#f8c137 59.7%,#f8c038 62.5%,#f5ba3b 65.3%,#d8be2d 68.1%,#dcbe2f 70.8%,#d0c029 73.6%,#eebb38 76.4%,#f3ba3a 79.2%,#f6bd39 81.9%,#f9c336 84.7%,#f7bf38 87.5%,#f8c137 90.3%,#fac635 93.1%,#fac635 95.8%,#fccb32 98.6%)"></i><i style="height:8px;background:linear-gradient(90deg,#8bca51 1.4%,#56cb7b 4.2%,#13bcbd 6.9%,#0cb7ca 9.7%,#0fb9c5 12.5%,#1ec1af 15.3%,#16beb8 18.1%,#09b5d0 20.8%,#2c8ff0 23.6%,#2e89f4 26.4%,#259be8 29.2%,#1aa9de 31.9%,#14adda 34.7%,#19c0b5 37.5%,#61cd71 40.3%,#98c947 43.1%,#b9c433 45.8%,#b0c538 48.6%,#ddbe2f 51.4%,#f5ba3b 54.2%,#f8c137 56.9%,#f4ba3b 59.7%,#f7bf39 62.5%,#f6bc3a 65.3%,#cec028 68.1%,#c7c12b 70.8%,#debd2f 73.6%,#d4bf2b 76.4%,#e9bc35 79.2%,#f0bb39 81.9%,#f6bc3a 84.7%,#f6bb3a 87.5%,#f7be39 90.3%,#fdce31 93.1%,#fdce31 95.8%,#fcd030 98.6%)"></i><i style="height:8px;background:linear-gradient(90deg,#84cb57 1.4%,#56cb7c 4.2%,#1bc0b2 6.9%,#0cb7ca 9.7%,#13bcbd 12.5%,#20c1ae 15.3%,#18bfb6 18.1%,#09b5cf 20.8%,#269be9 23.6%,#2e89f4 26.4%,#2b92ef 29.2%,#20a4e3 31.9%,#0cb2d3 34.7%,#13bcbe 37.5%,#54cb7d 40.3%,#91ca4c 43.1%,#9cc944 45.8%,#a5c73f 48.6%,#d0c029 51.4%,#dbbe2e 54.2%,#eabc35 56.9%,#f7bf38 59.7%,#f6bc3a 62.5%,#f6bb3a 65.3%,#cec028 68.1%,#c3c22d 70.8%,#c3c22e 73.6%,#d8be2d 76.4%,#ddbe2f 79.2%,#e9bc35 81.9%,#efbb38 84.7%,#f7be39 87.5%,#f8c038 90.3%,#fac635 93.1%,#fcd030 95.8%,#fdcd31 98.6%)"></i><i style="height:8px;background:linear-gradient(90deg,#a1c841 1.4%,#5bcc77 4.2%,#1fc1af 6.9%,#0db8c8 9.7%,#16bfb7 12.5%,#16beb9 15.3%,#16beb9 18.1%,#0cb2d4 20.8%,#2b92ee 23.6%,#2f86f6 26.4%,#2896ec 29.2%,#19a9de 31.9%,#0cb2d3 34.7%,#13bcbd 37.5%,#48ca89 40.3%,#66cc6e 43.1%,#82cb58 45.8%,#7fcb5a 48.6%,#aec639 51.4%,#cdc028 54.2%,#ebbb36 56.9%,#e5bc33 59.7%,#f4ba3b 62.5%,#ebbb36 65.3%,#c4c22d 68.1%,#cdc028 70.8%,#bec330 73.6%,#d6bf2c 76.4%,#e0bd31 79.2%,#e0bd31 81.9%,#efbb38 84.7%,#f3ba3a 87.5%,#f6bb3a 90.3%,#f8c137 93.1%,#fcc933 95.8%,#f9c436 98.6%)"></i><i style="height:8px;background:linear-gradient(90deg,#95ca49 1.4%,#6acc6a 4.2%,#29c4a5 6.9%,#10bac2 9.7%,#18bfb5 12.5%,#14bdbb 15.3%,#1cc0b2 18.1%,#0cb7cb 20.8%,#2a93ee 23.6%,#2e87f5 26.4%,#2994ed 29.2%,#1da6e1 31.9%,#11aed7 34.7%,#12bcbf 37.5%,#49ca87 40.3%,#55cb7d 43.1%,#53cb7e 45.8%,#5fcc73 48.6%,#7bcb5d 51.4%,#9dc944 54.2%,#c8c12b 56.9%,#eebb37 59.7%,#f5ba3b 62.5%,#f3ba3a 65.3%,#d9be2d 68.1%,#b3c537 70.8%,#c1c22f 73.6%,#d3bf2a 76.4%,#d3bf2a 79.2%,#ebbb36 81.9%,#f1ba39 84.7%,#f7c038 87.5%,#f9c436 90.3%,#f8c138 93.1%,#fbc934 95.8%,#f9c336 98.6%)"></i><i style="height:8px;background:linear-gradient(90deg,#9fc842 1.4%,#71cc65 4.2%,#26c3a8 6.9%,#15beb9 9.7%,#15bdba 12.5%,#16bfb7 15.3%,#14bdbb 18.1%,#0bb2d3 20.8%,#2897eb 23.6%,#2d8cf2 26.4%,#2a93ee 29.2%,#1fa5e2 31.9%,#14acda 34.7%,#0eb8c6 37.5%,#30c69e 40.3%,#48ca88 43.1%,#3ac895 45.8%,#4eca82 48.6%,#6ccc69 51.4%,#94ca4a 54.2%,#cec028 56.9%,#d8be2d 59.7%,#eebb37 62.5%,#e4bc32 65.3%,#b8c434 68.1%,#aec639 70.8%,#a3c840 73.6%,#bec331 76.4%,#d6bf2c 79.2%,#e0bd31 81.9%,#e3bd32 84.7%,#ebbb36 87.5%,#f1ba39 90.3%,#f8c138 93.1%,#fcca33 95.8%,#fbc834 98.6%)"></i><i style="height:8px;background:linear-gradient(90deg,#93ca4b 1.4%,#78cb5f 4.2%,#2bc5a3 6.9%,#19c0b4 9.7%,#1ac0b4 12.5%,#1ec1af 15.3%,#14bdbb 18.1%,#0ab5ce 20.8%,#249ee7 23.6%,#2b90ef 26.4%,#2799ea 29.2%,#20a4e3 31.9%,#12aed8 34.7%,#10bac2 37.5%,#2bc5a3 40.3%,#4dca83 43.1%,#49ca87 45.8%,#42c98d 48.6%,#65cc6e 51.4%,#6ccc69 54.2%,#a1c841 56.9%,#cfc028 59.7%,#dbbe2e 62.5%,#d5bf2b 65.3%,#c5c22d 68.1%,#94ca4a 70.8%,#94ca4a 73.6%,#a1c841 76.4%,#c7c12b 79.2%,#cbc029 81.9%,#cfc028 84.7%,#e8bc35 87.5%,#f3ba3a 90.3%,#f6bc3a 93.1%,#f9c336 95.8%,#fac735 98.6%)"></i><i style="height:8px;background:linear-gradient(90deg,#96ca49 1.4%,#74cc63 4.2%,#35c799 6.9%,#24c3aa 9.7%,#22c2ac 12.5%,#14bdbb 15.3%,#14bdbc 18.1%,#0cb7c9 20.8%,#2897eb 23.6%,#2b91ef 26.4%,#2699ea 29.2%,#20a5e2 31.9%,#0ab3d2 34.7%,#14bdbc 37.5%,#25c3a9 40.3%,#41c98e 43.1%,#3ac895 45.8%,#41c98f 48.6%,#4aca87 51.4%,#5fcc73 54.2%,#9bc945 56.9%,#b6c435 59.7%,#c6c12c 62.5%,#c1c22f 65.3%,#9ec943 68.1%,#82cb58 70.8%,#8bca51 73.6%,#88ca54 76.4%,#9ec943 79.2%,#b2c537 81.9%,#c4c22d 84.7%,#e3bd32 87.5%,#e3bd32 90.3%,#f6bb3a 93.1%,#f9c336 95.8%,#f8c237 98.6%)"></i><i style="height:8px;background:linear-gradient(90deg,#81cb59 1.4%,#79cb5f 4.2%,#41c98e 6.9%,#18bfb5 9.7%,#16beb8 12.5%,#16beb8 15.3%,#17bfb6 18.1%,#0ab3d2 20.8%,#259ce8 23.6%,#2d8bf3 26.4%,#2699ea 29.2%,#23a0e6 31.9%,#13add9 34.7%,#12bcbe 37.5%,#2fc69f 40.3%,#41c98f 43.1%,#37c898 45.8%,#36c898 48.6%,#48ca88 51.4%,#58cc79 54.2%,#82cb58 56.9%,#a3c840 59.7%,#acc63b 62.5%,#b2c537 65.3%,#98c947 68.1%,#71cc65 70.8%,#6acc6a 73.6%,#6dcc68 76.4%,#9ac945 79.2%,#bcc332 81.9%,#d0c029 84.7%,#cbc029 87.5%,#eabc35 90.3%,#f0bb39 93.1%,#f7bf38 95.8%,#f7bf39 98.6%)"></i><i style="height:8px;background:linear-gradient(90deg,#95ca49 1.4%,#7acb5e 4.2%,#31c69e 6.9%,#29c4a5 9.7%,#15beb9 12.5%,#11bbc1 15.3%,#12bbc0 18.1%,#0ab6ce 20.8%,#22a0e5 23.6%,#2d8af3 26.4%,#2994ed 29.2%,#259ce8 31.9%,#11afd7 34.7%,#0fb9c4 37.5%,#22c2ac 40.3%,#2fc69f 43.1%,#39c896 45.8%,#3bc894 48.6%,#32c79c 51.4%,#41c98e 54.2%,#5ecc74 56.9%,#85cb55 59.7%,#b3c537 62.5%,#a0c842 65.3%,#86cb55 68.1%,#6acc6b 70.8%,#6ccc69 73.6%,#5dcc75 76.4%,#75cc62 79.2%,#8cca50 81.9%,#c1c22f 84.7%,#c2c22e 87.5%,#ddbe2f 90.3%,#e2bd31 93.1%,#f2ba3a 95.8%,#f0bb39 98.6%)"></i><i style="height:8px;background:linear-gradient(90deg,#80cb59 1.4%,#5acc78 4.2%,#42c98e 6.9%,#24c3aa 9.7%,#17bfb7 12.5%,#15beba 15.3%,#12bbc0 18.1%,#0eb1d5 20.8%,#2995ec 23.6%,#2d8af3 26.4%,#259be8 29.2%,#239fe6 31.9%,#18aadc 34.7%,#0cb7ca 37.5%,#21c2ad 40.3%,#39c896 43.1%,#28c4a6 45.8%,#36c799 48.6%,#2ec5a0 51.4%,#33c79c 54.2%,#4dca83 56.9%,#5ccc76 59.7%,#7bcb5d 62.5%,#91ca4c 65.3%,#71cc65 68.1%,#5bcc77 70.8%,#4bca86 73.6%,#63cd70 76.4%,#76cb61 79.2%,#96ca48 81.9%,#a1c841 84.7%,#c9c12a 87.5%,#dabe2e 90.3%,#dcbe2e 93.1%,#e4bc33 95.8%,#eebb38 98.6%)"></i><i style="height:8px;background:linear-gradient(90deg,#56cb7b 1.4%,#45c98b 4.2%,#30c69e 6.9%,#26c3a8 9.7%,#14bdbc 12.5%,#12bbc0 15.3%,#0bb7cb 18.1%,#12aed8 20.8%,#23a0e6 23.6%,#2e89f4 26.4%,#2996ec 29.2%,#20a4e3 31.9%,#0fb0d5 34.7%,#10bac4 37.5%,#19c0b4 40.3%,#2dc5a1 43.1%,#2cc5a2 45.8%,#2ac4a4 48.6%,#2ec5a0 51.4%,#22c2ac 54.2%,#42c98e 56.9%,#49ca88 59.7%,#72cc64 62.5%,#65cc6f 65.3%,#5ecc74 68.1%,#36c899 70.8%,#3ec991 73.6%,#3ac895 76.4%,#50cb81 79.2%,#64cc6f 81.9%,#8cca50 84.7%,#acc63b 87.5%,#b5c436 90.3%,#d0c029 93.1%,#d4bf2b 95.8%,#d8be2d 98.6%)"></i><i style="height:8px;background:linear-gradient(90deg,#56cb7c 1.4%,#39c896 4.2%,#22c2ac 6.9%,#17bfb7 9.7%,#14bdbb 12.5%,#0cb7cb 15.3%,#0fb9c4 18.1%,#10afd6 20.8%,#259be8 23.6%,#2d8bf3 26.4%,#2c8ff0 29.2%,#269ae9 31.9%,#17abdc 34.7%,#0bb6cb 37.5%,#12bbc0 40.3%,#20c1ae 43.1%,#1cc0b2 45.8%,#19bfb5 48.6%,#1cc0b2 51.4%,#29c4a5 54.2%,#24c3aa 56.9%,#43c98d 59.7%,#4aca86 62.5%,#58cc7a 65.3%,#33c79c 68.1%,#3cc893 70.8%,#2ac4a4 73.6%,#39c895 76.4%,#36c898 79.2%,#4fcb82 81.9%,#70cc66 84.7%,#77cb60 87.5%,#94ca4a 90.3%,#b4c536 93.1%,#cac12a 95.8%,#bcc332 98.6%)"></i><i style="height:8px;background:linear-gradient(90deg,#2fc6a0 1.4%,#2bc5a3 4.2%,#2ac4a4 6.9%,#12bbc0 9.7%,#10bac3 12.5%,#0ab5ce 15.3%,#0bb6cc 18.1%,#18aadd 20.8%,#269ae9 23.6%,#2994ed 26.4%,#2798eb 29.2%,#239fe6 31.9%,#16abdb 34.7%,#0bb6cc 37.5%,#10bac3 40.3%,#1fc1af 43.1%,#19c0b5 45.8%,#15bdbb 48.6%,#16beb8 51.4%,#15beb9 54.2%,#1cc1b1 56.9%,#24c3a9 59.7%,#39c895 62.5%,#39c896 65.3%,#2bc4a3 68.1%,#19bfb5 70.8%,#1fc1ae 73.6%,#20c1ae 76.4%,#2fc6a0 79.2%,#3fc991 81.9%,#5ccc76 84.7%,#5acc78 87.5%,#7bcb5d 90.3%,#a0c842 93.1%,#a3c840 95.8%,#9bc945 98.6%)"></i><i style="height:8px;background:linear-gradient(90deg,#2ac4a4 1.4%,#2ac4a4 4.2%,#16beb8 6.9%,#15beba 9.7%,#0ab3d2 12.5%,#0cb7ca 15.3%,#0bb3d3 18.1%,#1ba8df 20.8%,#259be8 23.6%,#2b91ef 26.4%,#2798ea 29.2%,#22a0e5 31.9%,#13add9 34.7%,#09b5d0 37.5%,#16beb9 40.3%,#10bac3 43.1%,#16beb9 45.8%,#13bcbe 48.6%,#0eb8c7 51.4%,#14bdbb 54.2%,#15bdba 56.9%,#1dc1b1 59.7%,#2cc5a2 62.5%,#1ec1af 65.3%,#17bfb7 68.1%,#16bfb7 70.8%,#0fb9c5 73.6%,#15beba 76.4%,#24c3aa 79.2%,#2bc4a3 81.9%,#33c79b 84.7%,#54cb7e 87.5%,#69cc6b 90.3%,#77cb60 93.1%,#7acb5e 95.8%,#8cca50 98.6%)"></i><i style="height:8px;background:linear-gradient(90deg,#1bc0b2 1.4%,#12bbbf 4.2%,#12bbc0 6.9%,#0bb6cd 9.7%,#11afd7 12.5%,#12aed8 15.3%,#0ab3d2 18.1%,#16abdb 20.8%,#2b92ee 23.6%,#2d8af3 26.4%,#2b90ef 29.2%,#239fe6 31.9%,#17aadc 34.7%,#0bb6cc 37.5%,#0ab6cd 40.3%,#15beba 43.1%,#0cb7cb 45.8%,#0eb8c7 48.6%,#0fb9c5 51.4%,#0fb9c5 54.2%,#0db8c8 56.9%,#14bdbb 59.7%,#15bdbb 62.5%,#10bac3 65.3%,#10bac3 68.1%,#0db7c9 70.8%,#0db8c8 73.6%,#0cb7cb 76.4%,#14bdbb 79.2%,#20c1ae 81.9%,#22c2ac 84.7%,#2dc5a1 87.5%,#4aca86 90.3%,#50cb81 93.1%,#4eca83 95.8%,#51cb80 98.6%)"></i><i style="height:8px;background:linear-gradient(90deg,#15bdba 1.4%,#11bbc1 4.2%,#0db7c9 6.9%,#0ab3d2 9.7%,#09b5cf 12.5%,#10afd7 15.3%,#10afd7 18.1%,#20a4e3 20.8%,#2a93ee 23.6%,#2c8df2 26.4%,#2d8cf2 29.2%,#259be9 31.9%,#1da7e0 34.7%,#09b5d0 37.5%,#0cb7ca 40.3%,#0fb9c5 43.1%,#0db7c9 45.8%,#0fb9c5 48.6%,#09b4d1 51.4%,#0cb7ca 54.2%,#0bb6cc 56.9%,#11bbc1 59.7%,#10bac2 62.5%,#16beb9 65.3%,#0eb8c7 68.1%,#10bac3 70.8%,#0cb7cb 73.6%,#0bb6cd 76.4%,#14bdbb 79.2%,#14bdbb 81.9%,#23c2ab 84.7%,#2bc5a3 87.5%,#34c79a 90.3%,#35c79a 93.1%,#45c98b 95.8%,#45c98b 98.6%)"></i><i style="height:8px;background:linear-gradient(90deg,#0bb6cc 1.4%,#0fb9c5 4.2%,#0ab3d2 6.9%,#09b4d1 9.7%,#10afd6 12.5%,#1aa8de 15.3%,#19a9dd 18.1%,#239fe6 20.8%,#2699ea 23.6%,#2d8af3 26.4%,#2c8ff0 29.2%,#2896ec 31.9%,#19a9de 34.7%,#0ab3d2 37.5%,#0cb7ca 40.3%,#0eb8c6 43.1%,#0ab3d2 45.8%,#0cb7ca 48.6%,#11afd7 51.4%,#0bb2d3 54.2%,#0ab5ce 56.9%,#0fb9c4 59.7%,#11bbc1 62.5%,#0eb9c6 65.3%,#11bbc0 68.1%,#0fb9c4 70.8%,#10afd7 73.6%,#0ab5ce 76.4%,#0db7c9 79.2%,#10bac3 81.9%,#15beba 84.7%,#1bc0b3 87.5%,#2dc5a1 90.3%,#34c79b 93.1%,#44c98c 95.8%,#48ca89 98.6%)"></i><i style="height:8px;background:linear-gradient(90deg,#0ab6cd 1.4%,#0fb0d6 4.2%,#0ab3d2 6.9%,#10afd6 9.7%,#13add9 12.5%,#12aed8 15.3%,#21a3e4 18.1%,#23a0e5 20.8%,#2a92ee 23.6%,#2c90f0 26.4%,#2d8bf3 29.2%,#259ce8 31.9%,#22a0e5 34.7%,#14acda 37.5%,#0bb2d3 40.3%,#0bb6cc 43.1%,#0bb7cb 45.8%,#11aed7 48.6%,#13add9 51.4%,#0bb2d3 54.2%,#09b5cf 56.9%,#0db8c9 59.7%,#0bb6cd 62.5%,#10bac2 65.3%,#0eb9c6 68.1%,#0cb7ca 70.8%,#12aed8 73.6%,#0db1d4 76.4%,#0eb1d5 79.2%,#10bac2 81.9%,#15beba 84.7%,#1bc0b2 87.5%,#16beb8 90.3%,#23c2ab 93.1%,#2cc5a3 95.8%,#2ec5a0 98.6%)"></i><i style="height:8px;background:linear-gradient(90deg,#1ba8df 1.4%,#12aed8 4.2%,#1aa9de 6.9%,#18aadd 9.7%,#20a4e3 12.5%,#1ca7e0 15.3%,#23a0e6 18.1%,#2799ea 20.8%,#2a93ee 23.6%,#2d8af3 26.4%,#2b91ef 29.2%,#2b92ee 31.9%,#22a1e5 34.7%,#1ca7df 37.5%,#0db1d4 40.3%,#0ab6cd 43.1%,#09b4d1 45.8%,#0fb0d6 48.6%,#0cb2d4 51.4%,#17aadc 54.2%,#09b5d0 56.9%,#0eb0d5 59.7%,#0fb9c6 62.5%,#0bb6cc 65.3%,#09b5cf 68.1%,#09b5d0 70.8%,#0ab3d2 73.6%,#0ab3d2 76.4%,#0db1d4 79.2%,#0eb0d5 81.9%,#09b5d0 84.7%,#13bcbe 87.5%,#17bfb6 90.3%,#1ec1af 93.1%,#18bfb5 95.8%,#22c2ac 98.6%)"></i><i style="height:8px;background:linear-gradient(90deg,#23a0e6 1.4%,#22a1e5 4.2%,#21a3e4 6.9%,#18aadc 9.7%,#1ca7e0 12.5%,#1ba8df 15.3%,#259ce8 18.1%,#269ae9 20.8%,#2d8cf2 23.6%,#2e89f4 26.4%,#2e87f5 29.2%,#2798ea 31.9%,#249de7 34.7%,#18aadd 37.5%,#09b4d1 40.3%,#0db7c9 43.1%,#0ab5ce 45.8%,#10afd7 48.6%,#15acda 51.4%,#0fb0d6 54.2%,#13add9 56.9%,#11afd7 59.7%,#0ab5ce 62.5%,#0cb2d3 65.3%,#0ab3d2 68.1%,#0db1d4 70.8%,#14add9 73.6%,#17aadc 76.4%,#12aed8 79.2%,#0eb0d5 81.9%,#11afd7 84.7%,#0eb8c7 87.5%,#0bb7cb 90.3%,#13bcbd 93.1%,#16beb9 95.8%,#15beb9 98.6%)"></i><i style="height:8px;background:linear-gradient(90deg,#2896ec 1.4%,#2994ed 4.2%,#2798eb 6.9%,#2799ea 9.7%,#239fe6 12.5%,#259ce8 15.3%,#22a0e5 18.1%,#2996ec 20.8%,#3082f8 23.6%,#3082f8 26.4%,#2d8bf2 29.2%,#2e87f5 31.9%,#249ee7 34.7%,#13add9 37.5%,#0fb0d6 40.3%,#09b4d1 43.1%,#14acda 45.8%,#1ba8df 48.6%,#19a9dd 51.4%,#18aadd 54.2%,#18aadc 56.9%,#11afd7 59.7%,#0db1d4 62.5%,#09b4d0 65.3%,#14adda 68.1%,#18aadd 70.8%,#1ea6e1 73.6%,#1fa5e2 76.4%,#12aed8 79.2%,#14add9 81.9%,#0ab3d2 84.7%,#0eb1d5 87.5%,#0cb2d3 90.3%,#0db8c8 93.1%,#0cb7ca 95.8%,#16beb8 98.6%)"></i><i style="height:8px;background:linear-gradient(90deg,#2b91ef 1.4%,#2d8af3 4.2%,#2d8af3 6.9%,#2995ed 9.7%,#259ce8 12.5%,#249de8 15.3%,#2a94ed 18.1%,#2a94ed 20.8%,#337afc 23.6%,#327bfc 26.4%,#317efb 29.2%,#2c8ef1 31.9%,#259ce8 34.7%,#21a3e4 37.5%,#08b4d1 40.3%,#0ab3d2 43.1%,#17abdc 45.8%,#23a0e6 48.6%,#1da7e0 51.4%,#20a5e2 54.2%,#16abdb 56.9%,#0cb2d4 59.7%,#0ab3d2 62.5%,#16abdb 65.3%,#0eb0d5 68.1%,#19a9de 70.8%,#1ea6e1 73.6%,#22a1e5 76.4%,#1da7e0 79.2%,#18aadd 81.9%,#1ba8df 84.7%,#17abdc 87.5%,#11afd7 90.3%,#16abdb 93.1%,#0bb2d3 95.8%,#10bac2 98.6%)"></i><i style="height:8px;background:linear-gradient(90deg,#3081f9 1.4%,#3180fa 4.2%,#3479fc 6.9%,#3180fa 9.7%,#2c8ff0 12.5%,#259ce8 15.3%,#2896ec 18.1%,#2b91ef 20.8%,#3972fc 23.6%,#3d6dfc 26.4%,#3775fc 29.2%,#2e88f5 31.9%,#2a94ed 34.7%,#17aadc 37.5%,#11aed8 40.3%,#18aadd 43.1%,#1fa5e2 45.8%,#239fe6 48.6%,#22a2e4 51.4%,#1da7e0 54.2%,#1ca7e0 56.9%,#14add9 59.7%,#15acda 62.5%,#0fb0d6 65.3%,#1ea6e1 68.1%,#1ba8df 70.8%,#2699ea 73.6%,#249ee7 76.4%,#23a0e6 79.2%,#1fa5e2 81.9%,#20a5e3 84.7%,#1ea6e1 87.5%,#1ea6e1 90.3%,#1ba8df 93.1%,#10afd7 95.8%,#09b5cf 98.6%)"></i><i style="height:8px;background:linear-gradient(90deg,#3775fc 1.4%,#3d6dfc 4.2%,#3a71fc 6.9%,#3479fc 9.7%,#2b90ef 12.5%,#2c8ff0 15.3%,#2a94ed 18.1%,#3082f8 20.8%,#4069fc 23.6%,#4267fc 26.4%,#3d6cfc 29.2%,#337afc 31.9%,#2b90ef 34.7%,#1aa9de 37.5%,#15acda 40.3%,#11aed7 43.1%,#22a1e5 45.8%,#249de7 48.6%,#259ce8 51.4%,#20a4e3 54.2%,#19a9de 56.9%,#1aa8de 59.7%,#16abdb 62.5%,#1ba8df 65.3%,#19a9dd 68.1%,#259be8 70.8%,#2995ec 73.6%,#259ce8 76.4%,#269aea 79.2%,#1ea6e1 81.9%,#1fa5e2 84.7%,#21a2e4 87.5%,#2799ea 90.3%,#269ae9 93.1%,#11afd7 95.8%,#0cb2d3 98.6%)"></i><i style="height:8px;background:linear-gradient(90deg,#4464fc 1.4%,#465af8 4.2%,#4464fc 6.9%,#4267fc 9.7%,#317efb 12.5%,#2c8df1 15.3%,#2c8ef1 18.1%,#337afc 20.8%,#4267fc 23.6%,#465bf8 26.4%,#4069fc 29.2%,#317efb 31.9%,#2996ec 34.7%,#21a3e4 37.5%,#0eb0d5 40.3%,#15acda 43.1%,#269be9 45.8%,#269be9 48.6%,#2799ea 51.4%,#2897eb 54.2%,#239fe6 56.9%,#22a1e5 59.7%,#18aadd 62.5%,#1ea6e1 65.3%,#22a0e5 68.1%,#2798eb 70.8%,#2c8df2 73.6%,#2b92ef 76.4%,#2798ea 79.2%,#249de7 81.9%,#249de7 84.7%,#259be9 87.5%,#2896ec 90.3%,#2b91ef 93.1%,#1ba8df 95.8%,#12aed8 98.6%)"></i><i style="height:8px;background:linear-gradient(90deg,#4561fc 1.4%,#4560fb 4.2%,#4563fc 6.9%,#3e6cfc 9.7%,#2f85f7 12.5%,#2a92ee 15.3%,#2b90ef 18.1%,#327dfc 20.8%,#465cf9 23.6%,#4560fb 26.4%,#4560fb 29.2%,#327cfc 31.9%,#2b90f0 34.7%,#20a4e3 37.5%,#17abdc 40.3%,#14acda 43.1%,#21a3e4 45.8%,#2896eb 48.6%,#2897eb 51.4%,#2798ea 54.2%,#239fe6 56.9%,#16abdb 59.7%,#1fa5e2 62.5%,#14acda 65.3%,#20a5e3 68.1%,#2996ec 70.8%,#2897eb 73.6%,#2d8cf2 76.4%,#259ce8 79.2%,#269be9 81.9%,#1fa5e2 84.7%,#2799ea 87.5%,#2896ec 90.3%,#2c8ff0 93.1%,#1ea6e1 95.8%,#1da6e1 98.6%)"></i><i style="height:8px;background:linear-gradient(90deg,#4659f7 1.4%,#4561fb 4.2%,#4267fc 6.9%,#3c6efc 9.7%,#2e87f5 12.5%,#2b91ef 15.3%,#2c8df1 18.1%,#337afc 20.8%,#4563fc 23.6%,#4755f5 26.4%,#4563fc 29.2%,#3775fc 31.9%,#2a93ed 34.7%,#22a1e5 37.5%,#12aed8 40.3%,#19a9dd 43.1%,#249de7 45.8%,#2b91ef 48.6%,#2896ec 51.4%,#269be9 54.2%,#1ca7e0 56.9%,#1ca7df 59.7%,#1ea6e1 62.5%,#1ea6e1 65.3%,#22a1e5 68.1%,#249ee7 70.8%,#2897eb 73.6%,#2798eb 76.4%,#22a1e5 79.2%,#20a5e2 81.9%,#20a4e3 84.7%,#22a0e5 87.5%,#2d8bf3 90.3%,#2995ed 93.1%,#1fa5e2 95.8%,#14acda 98.6%)"></i></div>
<div class="hm" style="left:642px;top:1477px;width:26px;height:485px;background:linear-gradient(180deg,#f9fb15 0.0%,#f6ec21 4.2%,#f8dc2a 8.3%,#fdcc32 12.5%,#f7bf38 16.7%,#e6bc33 20.8%,#cbc029 25.0%,#a9c73d 29.2%,#85cb56 33.3%,#5fcd73 37.5%,#43c98d 41.7%,#2ac4a4 45.8%,#16bfb7 50.0%,#0db8c9 54.2%,#11afd7 58.3%,#20a4e3 62.5%,#2897eb 66.7%,#2d8af3 70.8%,#327cfc 75.0%,#3f6bfc 79.2%,#465bf8 83.3%,#484cf0 87.5%,#463ede 91.7%,#4331c6 95.8%,#3e26a8 100.0%)"></div>
<div class="hm" style="left:1166px;top:1477px;width:513px;height:481px"><i style="height:8px;background:linear-gradient(90deg,#3e6bfc 1.4%,#3775fc 4.2%,#327bfc 6.9%,#2f85f7 9.7%,#2f84f7 12.5%,#2e89f4 15.3%,#2e88f5 18.1%,#2e87f5 20.8%,#2d8bf3 23.6%,#3080fa 26.4%,#2f84f7 29.2%,#317dfc 31.9%,#337afc 34.7%,#317dfb 37.5%,#2e88f5 40.3%,#2e86f6 43.1%,#327dfc 45.8%,#327bfc 48.6%,#3c6ffc 51.4%,#3873fc 54.2%,#3c6efc 56.9%,#3a71fc 59.7%,#327cfc 62.5%,#317ffa 65.3%,#3082f8 68.1%,#3180fa 70.8%,#3578fc 73.6%,#3577fc 76.4%,#465efa 79.2%,#465ffa 81.9%,#4069fc 84.7%,#3a71fc 87.5%,#3676fc 90.3%,#3577fc 93.1%,#3b6ffc 95.8%,#4069fc 98.6%)"></i><i style="height:8px;background:linear-gradient(90deg,#3775fc 1.4%,#3577fc 4.2%,#3180fa 6.9%,#3082f8 9.7%,#2e89f4 12.5%,#2b90ef 15.3%,#2e88f5 18.1%,#2c8df1 20.8%,#2e87f5 23.6%,#3081f9 26.4%,#317ffa 29.2%,#3081f9 31.9%,#347afc 34.7%,#317efb 37.5%,#2f85f7 40.3%,#2f84f7 43.1%,#317efb 45.8%,#317efb 48.6%,#3b70fc 51.4%,#4069fc 54.2%,#4464fc 56.9%,#3f6afc 59.7%,#3b70fc 62.5%,#317efb 65.3%,#3082f8 68.1%,#337afc 70.8%,#317ffa 73.6%,#3478fc 76.4%,#4657f6 79.2%,#4756f5 81.9%,#3d6dfc 84.7%,#3578fc 87.5%,#337bfc 90.3%,#3973fc 93.1%,#3a71fc 95.8%,#3775fc 98.6%)"></i><i style="height:8px;background:linear-gradient(90deg,#3776fc 1.4%,#3577fc 4.2%,#3874fc 6.9%,#2f85f7 9.7%,#2e87f5 12.5%,#2c90f0 15.3%,#2e88f5 18.1%,#2b91ef 20.8%,#2e89f4 23.6%,#2e88f5 26.4%,#317ffa 29.2%,#3082f8 31.9%,#317efb 34.7%,#317ffa 37.5%,#3081f9 40.3%,#2e88f4 43.1%,#3081f9 45.8%,#327bfc 48.6%,#3c6ffc 51.4%,#3b70fc 54.2%,#4563fc 56.9%,#4168fc 59.7%,#3b70fc 62.5%,#317efb 65.3%,#327cfc 68.1%,#327cfc 70.8%,#3874fc 73.6%,#3a70fc 76.4%,#465cf8 79.2%,#4755f5 81.9%,#4561fb 84.7%,#337bfc 87.5%,#3972fc 90.3%,#3775fc 93.1%,#3c6ffc 95.8%,#3a71fc 98.6%)"></i><i style="height:8px;background:linear-gradient(90deg,#4365fc 1.4%,#3b70fc 4.2%,#3776fc 6.9%,#2f85f6 9.7%,#2f85f7 12.5%,#2c8ef1 15.3%,#2c8ff0 18.1%,#2a93ee 20.8%,#2e89f4 23.6%,#2f86f6 26.4%,#2e86f6 29.2%,#317ffa 31.9%,#3577fc 34.7%,#3080fa 37.5%,#2d8cf2 40.3%,#2d8cf2 43.1%,#2f83f7 45.8%,#2f85f6 48.6%,#3080f9 51.4%,#3a72fc 54.2%,#3973fc 56.9%,#3a70fc 59.7%,#3776fc 62.5%,#3478fc 65.3%,#3874fc 68.1%,#3577fc 70.8%,#3676fc 73.6%,#3676fc 76.4%,#4561fb 79.2%,#4069fc 81.9%,#3972fc 84.7%,#3b70fc 87.5%,#317ffa 90.3%,#3775fc 93.1%,#3973fc 95.8%,#3b70fc 98.6%)"></i><i style="height:8px;background:linear-gradient(90deg,#4266fc 1.4%,#3f6afc 4.2%,#3676fc 6.9%,#317dfb 9.7%,#2a93ed 12.5%,#2c8ef1 15.3%,#2995ec 18.1%,#2d8af3 20.8%,#2e88f5 23.6%,#2f86f6 26.4%,#317ffa 29.2%,#317dfb 31.9%,#317efb 34.7%,#3081f9 37.5%,#2c8ef1 40.3%,#2a92ee 43.1%,#2f84f7 45.8%,#2e87f5 48.6%,#327cfc 51.4%,#3081f9 54.2%,#3677fc 56.9%,#317ffa 59.7%,#317dfb 62.5%,#3676fc 65.3%,#3c6efc 68.1%,#3873fc 70.8%,#2f84f7 73.6%,#3578fc 76.4%,#3a71fc 79.2%,#3d6dfc 81.9%,#3776fc 84.7%,#3081f9 87.5%,#347afc 90.3%,#317efb 93.1%,#3676fc 95.8%,#3676fc 98.6%)"></i><i style="height:8px;background:linear-gradient(90deg,#4266fc 1.4%,#3972fc 4.2%,#3775fc 6.9%,#2f84f7 9.7%,#2a93ee 12.5%,#269be9 15.3%,#2798eb 18.1%,#2d8af3 20.8%,#2e87f5 23.6%,#2e89f4 26.4%,#2d8af3 29.2%,#2f84f7 31.9%,#317efb 34.7%,#2d8af3 37.5%,#2e89f4 40.3%,#2d8af4 43.1%,#2e87f5 45.8%,#2f85f7 48.6%,#2d8bf3 51.4%,#317ffa 54.2%,#2f84f7 56.9%,#2f84f7 59.7%,#2e86f6 62.5%,#3080f9 65.3%,#3972fc 68.1%,#3577fc 70.8%,#2f85f6 73.6%,#2f85f6 76.4%,#3578fc 79.2%,#317efb 81.9%,#347afc 84.7%,#317ffa 87.5%,#2e87f5 90.3%,#327cfc 93.1%,#3b70fc 95.8%,#3874fc 98.6%)"></i><i style="height:8px;background:linear-gradient(90deg,#4562fc 1.4%,#4561fc 4.2%,#3d6efc 6.9%,#3081f9 9.7%,#2b92ee 12.5%,#239fe6 15.3%,#2b91ef 18.1%,#2995ec 20.8%,#2b92ee 23.6%,#2e89f4 26.4%,#2c8df1 29.2%,#2e88f5 31.9%,#3082f8 34.7%,#3082f8 37.5%,#2c8ef1 40.3%,#2897eb 43.1%,#2b91ef 45.8%,#2d8bf3 48.6%,#2d8cf2 51.4%,#2d8bf3 54.2%,#2f83f8 56.9%,#2f86f6 59.7%,#327cfc 62.5%,#3081f9 65.3%,#3e6cfc 68.1%,#3d6dfc 70.8%,#2f84f7 73.6%,#2f85f7 76.4%,#2e89f4 79.2%,#2f83f7 81.9%,#2f86f6 84.7%,#2d8af3 87.5%,#317ffa 90.3%,#3080f9 93.1%,#3676fc 95.8%,#3c6efc 98.6%)"></i><i style="height:8px;background:linear-gradient(90deg,#4267fc 1.4%,#465ffa 4.2%,#337afc 6.9%,#3080fa 9.7%,#259be8 12.5%,#2798ea 15.3%,#2b91ef 18.1%,#2b92ee 20.8%,#2a94ed 23.6%,#2e88f5 26.4%,#2e87f5 29.2%,#2e86f6 31.9%,#3180fa 34.7%,#2e88f5 37.5%,#2d8bf3 40.3%,#2995ec 43.1%,#2897eb 45.8%,#2b91ef 48.6%,#2c90f0 51.4%,#2d8cf2 54.2%,#2b91ef 56.9%,#2e89f4 59.7%,#2d8bf3 62.5%,#3180fa 65.3%,#4168fc 68.1%,#3578fc 70.8%,#2d8af3 73.6%,#2b91ef 76.4%,#2b91ef 79.2%,#2c8ff0 81.9%,#2c90f0 84.7%,#2d8cf2 87.5%,#2f86f6 90.3%,#337bfc 93.1%,#3c6ffc 95.8%,#3873fc 98.6%)"></i><i style="height:8px;background:linear-gradient(90deg,#4561fc 1.4%,#465ffa 4.2%,#3775fc 6.9%,#2f84f7 9.7%,#2994ed 12.5%,#249de7 15.3%,#2799ea 18.1%,#2c8ff0 20.8%,#2b92ee 23.6%,#2d8bf3 26.4%,#2e89f4 29.2%,#2f83f7 31.9%,#2e88f4 34.7%,#2e86f6 37.5%,#2798ea 40.3%,#2896ec 43.1%,#2699ea 45.8%,#259ce8 48.6%,#2799ea 51.4%,#2a94ed 54.2%,#2d8cf2 56.9%,#2c8df2 59.7%,#2f86f6 62.5%,#3082f8 65.3%,#3972fc 68.1%,#3578fc 70.8%,#2f83f8 73.6%,#2d8cf2 76.4%,#2c8ff0 79.2%,#2b92ee 81.9%,#2e89f4 84.7%,#2e88f4 87.5%,#3082f8 90.3%,#317efb 93.1%,#3874fc 95.8%,#3479fc 98.6%)"></i><i style="height:8px;background:linear-gradient(90deg,#465bf8 1.4%,#3e6cfc 4.2%,#3d6efc 6.9%,#327cfc 9.7%,#2897eb 12.5%,#2b91ef 15.3%,#2c8ef1 18.1%,#2d8bf3 20.8%,#2e88f5 23.6%,#2e89f4 26.4%,#2f84f7 29.2%,#3180fa 31.9%,#337afc 34.7%,#2e89f4 37.5%,#2c8ef1 40.3%,#2897eb 43.1%,#259be8 45.8%,#239fe6 48.6%,#259de8 51.4%,#259be8 54.2%,#2798eb 56.9%,#2a94ed 59.7%,#2c8ff0 62.5%,#337afc 65.3%,#4266fc 68.1%,#3a71fc 70.8%,#2f84f7 73.6%,#2c8ef1 76.4%,#2a93ed 79.2%,#2d8cf2 81.9%,#2a93ed 84.7%,#2c8df1 87.5%,#2e88f5 90.3%,#317ffa 93.1%,#3676fc 95.8%,#3775fc 98.6%)"></i><i style="height:8px;background:linear-gradient(90deg,#4560fb 1.4%,#3f6bfc 4.2%,#3e6bfc 6.9%,#3080f9 9.7%,#2e88f5 12.5%,#2995ec 15.3%,#2d8cf2 18.1%,#2a93ed 20.8%,#2a94ed 23.6%,#2e88f5 26.4%,#2d8cf2 29.2%,#3080f9 31.9%,#317efb 34.7%,#3081f9 37.5%,#2994ed 40.3%,#2798eb 43.1%,#22a0e5 45.8%,#239fe6 48.6%,#249de7 51.4%,#239fe6 54.2%,#2995ec 56.9%,#2b91ef 59.7%,#2d8af3 62.5%,#3479fc 65.3%,#3973fc 68.1%,#4267fc 70.8%,#317efb 73.6%,#2b92ee 76.4%,#2995ec 79.2%,#2b92ee 81.9%,#2b92ee 84.7%,#2d8bf2 87.5%,#2f84f7 90.3%,#2f85f7 93.1%,#3578fc 95.8%,#3a71fc 98.6%)"></i><i style="height:8px;background:linear-gradient(90deg,#4366fc 1.4%,#465df9 4.2%,#3f6bfc 6.9%,#317efb 9.7%,#2c8df1 12.5%,#2d8bf3 15.3%,#2b92ee 18.1%,#2c8ff0 20.8%,#2c8ff0 23.6%,#2b91ef 26.4%,#2d8cf2 29.2%,#2f85f6 31.9%,#3083f8 34.7%,#2f85f6 37.5%,#2897eb 40.3%,#21a3e4 43.1%,#21a2e4 45.8%,#22a0e5 48.6%,#259ce8 51.4%,#21a3e3 54.2%,#269aea 56.9%,#2995ec 59.7%,#2d8cf2 62.5%,#3082f8 65.3%,#3f6afc 68.1%,#3972fc 70.8%,#2f84f7 73.6%,#2c90f0 76.4%,#2896ec 79.2%,#2a94ed 81.9%,#2995ec 84.7%,#2995ec 87.5%,#2b90ef 90.3%,#2d8af4 93.1%,#2f83f8 95.8%,#337afc 98.6%)"></i><i style="height:8px;background:linear-gradient(90deg,#4560fb 1.4%,#465ffa 4.2%,#4167fc 6.9%,#3677fc 9.7%,#2f86f6 12.5%,#2b92ee 15.3%,#2e86f5 18.1%,#2d8bf3 20.8%,#2b90f0 23.6%,#2d8af3 26.4%,#2d8cf2 29.2%,#317ffa 31.9%,#3082f8 34.7%,#2f84f7 37.5%,#2798eb 40.3%,#259ce8 43.1%,#21a3e4 45.8%,#1aa9de 48.6%,#1ba8df 51.4%,#20a4e3 54.2%,#249ee7 56.9%,#2a93ee 59.7%,#2a93ed 62.5%,#3082f9 65.3%,#3c6ffc 68.1%,#3d6dfc 70.8%,#3081f9 73.6%,#2994ed 76.4%,#2c8ff0 79.2%,#259ce8 81.9%,#2b91ef 84.7%,#269ae9 87.5%,#2b90ef 90.3%,#2e88f5 93.1%,#2f86f6 95.8%,#327cfc 98.6%)"></i><i style="height:8px;background:linear-gradient(90deg,#4657f6 1.4%,#4756f5 4.2%,#3e6bfc 6.9%,#3577fc 9.7%,#3081f9 12.5%,#2f86f6 15.3%,#2d8af3 18.1%,#2b91ef 20.8%,#2c8ff0 23.6%,#2f86f6 26.4%,#347afc 29.2%,#317ffa 31.9%,#3b70fc 34.7%,#3082f8 37.5%,#2897eb 40.3%,#1aa9de 43.1%,#20a4e3 45.8%,#15acda 48.6%,#16abdb 51.4%,#22a2e4 54.2%,#20a4e3 56.9%,#269be9 59.7%,#2799ea 62.5%,#2b91ef 65.3%,#327cfc 68.1%,#3578fc 70.8%,#2d8af3 73.6%,#2c8ff0 76.4%,#2896ec 79.2%,#2a93ee 81.9%,#269aea 84.7%,#2c8ef1 87.5%,#2c90f0 90.3%,#3082f8 93.1%,#327cfc 95.8%,#3d6cfc 98.6%)"></i><i style="height:8px;background:linear-gradient(90deg,#4747e9 1.4%,#4756f5 4.2%,#4365fc 6.9%,#3578fc 9.7%,#2f85f6 12.5%,#2b91ef 15.3%,#2f85f6 18.1%,#2d8bf3 20.8%,#2e89f4 23.6%,#317dfb 26.4%,#3972fc 29.2%,#3e6cfc 31.9%,#3f6afc 34.7%,#317dfb 37.5%,#2699ea 40.3%,#1ca7e0 43.1%,#1da6e1 45.8%,#11afd7 48.6%,#14add9 51.4%,#1ca7e0 54.2%,#1ba8df 56.9%,#239fe6 59.7%,#269ae9 62.5%,#2a92ee 65.3%,#2e89f4 68.1%,#317ffa 70.8%,#2c8ef1 73.6%,#2a93ee 76.4%,#269be9 79.2%,#249de7 81.9%,#2994ed 84.7%,#2897eb 87.5%,#2c8ff0 90.3%,#3081f9 93.1%,#3a71fc 95.8%,#3e6cfc 98.6%)"></i><i style="height:8px;background:linear-gradient(90deg,#4749eb 1.4%,#484ef1 4.2%,#4756f5 6.9%,#3874fc 9.7%,#3082f8 12.5%,#2e88f5 15.3%,#2f85f6 18.1%,#2e86f6 20.8%,#2e87f5 23.6%,#3479fc 26.4%,#4069fc 29.2%,#3e6cfc 31.9%,#465ffa 34.7%,#3f6bfc 37.5%,#259ce8 40.3%,#1fa5e2 43.1%,#14acda 45.8%,#0db1d4 48.6%,#0cb2d4 51.4%,#0cb2d3 54.2%,#1ca7e0 56.9%,#1ca7e0 59.7%,#1da6e1 62.5%,#269ae9 65.3%,#2994ed 68.1%,#2c8ff0 70.8%,#2798eb 73.6%,#239fe6 76.4%,#2799ea 79.2%,#249de7 81.9%,#2896ec 84.7%,#2799ea 87.5%,#2a93ee 90.3%,#2e88f4 93.1%,#3775fc 95.8%,#4365fc 98.6%)"></i><i style="height:8px;background:linear-gradient(90deg,#4642e3 1.4%,#4640e1 4.2%,#465af7 6.9%,#4365fc 9.7%,#3080f9 12.5%,#2d8af3 15.3%,#2f84f7 18.1%,#2d8af4 20.8%,#3080fa 23.6%,#3972fc 26.4%,#4562fc 29.2%,#465df9 31.9%,#4755f5 34.7%,#4463fc 37.5%,#2994ed 40.3%,#0fb0d6 43.1%,#0eb0d5 45.8%,#09b5cf 48.6%,#0bb3d2 51.4%,#13add9 54.2%,#10afd7 56.9%,#1ca7df 59.7%,#21a3e4 62.5%,#20a4e3 65.3%,#249ee7 68.1%,#2a94ed 70.8%,#22a1e5 73.6%,#2896ec 76.4%,#2799ea 79.2%,#269ae9 81.9%,#259ce8 84.7%,#2897eb 87.5%,#2a92ee 90.3%,#3081f9 93.1%,#3b6ffc 95.8%,#4657f6 98.6%)"></i><i style="height:8px;background:linear-gradient(90deg,#4539d8 1.4%,#4537d6 4.2%,#474ff1 6.9%,#3d6dfc 9.7%,#3081f9 12.5%,#2e88f4 15.3%,#3082f8 18.1%,#2e88f4 20.8%,#317efb 23.6%,#3d6dfc 26.4%,#4658f7 29.2%,#465af7 31.9%,#4747e9 34.7%,#455ffb 37.5%,#2995ed 40.3%,#0db2d4 43.1%,#0bb6cc 45.8%,#0eb8c7 48.6%,#0cb7ca 51.4%,#0fb0d5 54.2%,#09b4d1 56.9%,#16abdb 59.7%,#0fb0d5 62.5%,#12aed8 65.3%,#22a2e4 68.1%,#1da6e1 70.8%,#249ee7 73.6%,#269be9 76.4%,#20a4e3 79.2%,#259de8 81.9%,#2896ec 84.7%,#2995ec 87.5%,#2e89f4 90.3%,#317ffa 93.1%,#4365fc 95.8%,#465af8 98.6%)"></i><i style="height:8px;background:linear-gradient(90deg,#4536d3 1.4%,#4748eb 4.2%,#484df0 6.9%,#465efa 9.7%,#3972fc 12.5%,#337afc 15.3%,#327dfc 18.1%,#3081f9 20.8%,#3874fc 23.6%,#4464fc 26.4%,#465bf8 29.2%,#484df0 31.9%,#4750f2 34.7%,#3e6bfc 37.5%,#2897eb 40.3%,#12aed8 43.1%,#08b4d1 45.8%,#0bb6cc 48.6%,#0bb7cb 51.4%,#09b4d1 54.2%,#0bb3d3 56.9%,#09b5d0 59.7%,#0cb2d3 62.5%,#15acda 65.3%,#18aadc 68.1%,#13add8 70.8%,#20a4e3 73.6%,#1ea6e1 76.4%,#21a2e4 79.2%,#239fe6 81.9%,#2897eb 84.7%,#2995ec 87.5%,#2c8ef1 90.3%,#3082f8 93.1%,#3a71fc 95.8%,#4658f7 98.6%)"></i><i style="height:8px;background:linear-gradient(90deg,#4640e0 1.4%,#484ef0 4.2%,#4756f5 6.9%,#4560fb 9.7%,#3a71fc 12.5%,#3a71fc 15.3%,#3081f9 18.1%,#3775fc 20.8%,#3a71fc 23.6%,#465efa 26.4%,#4658f7 29.2%,#4753f3 31.9%,#4749ec 34.7%,#4365fc 37.5%,#259de8 40.3%,#10afd6 43.1%,#0ab5ce 45.8%,#0cb7c9 48.6%,#0bb6cc 51.4%,#0bb6cc 54.2%,#0fb9c5 56.9%,#10bac3 59.7%,#0bb6cb 62.5%,#0ab5ce 65.3%,#0ab3d2 68.1%,#09b4d1 70.8%,#1ca7e0 73.6%,#22a1e5 76.4%,#239fe6 79.2%,#2798ea 81.9%,#2994ed 84.7%,#2b91ef 87.5%,#2b91ef 90.3%,#2d8af3 93.1%,#3c6efc 95.8%,#4464fc 98.6%)"></i><i style="height:8px;background:linear-gradient(90deg,#484ef1 1.4%,#4747e9 4.2%,#4749eb 6.9%,#4756f5 9.7%,#4561fc 12.5%,#3e6cfc 15.3%,#3479fc 18.1%,#3c6ffc 20.8%,#465ffa 23.6%,#4753f4 26.4%,#4752f3 29.2%,#484cf0 31.9%,#4751f3 34.7%,#465df9 37.5%,#2798ea 40.3%,#12aed8 43.1%,#09b5cf 45.8%,#11bbc0 48.6%,#13bcbd 51.4%,#13bcbd 54.2%,#0db8c8 56.9%,#11bac2 59.7%,#12bbbf 62.5%,#0eb9c6 65.3%,#0fb9c5 68.1%,#0bb6cc 70.8%,#14add9 73.6%,#18aadc 76.4%,#22a2e4 79.2%,#269be9 81.9%,#249ee7 84.7%,#2995ec 87.5%,#2d8cf2 90.3%,#2d8cf2 93.1%,#3479fc 95.8%,#3874fc 98.6%)"></i><i style="height:8px;background:linear-gradient(90deg,#4756f5 1.4%,#4658f6 4.2%,#4750f2 6.9%,#484ef1 9.7%,#4657f6 12.5%,#3f6afc 15.3%,#327cfc 18.1%,#3873fc 20.8%,#465ffa 23.6%,#4750f2 26.4%,#4752f3 29.2%,#4750f2 31.9%,#474aed 34.7%,#4560fb 37.5%,#239fe6 40.3%,#0bb3d3 43.1%,#09b5cf 45.8%,#0eb8c7 48.6%,#10bac3 51.4%,#14bdbc 54.2%,#15beb9 56.9%,#17bfb6 59.7%,#17bfb7 62.5%,#1ac0b3 65.3%,#1ec1b0 68.1%,#0eb9c6 70.8%,#0ab3d2 73.6%,#1fa5e2 76.4%,#21a3e4 79.2%,#249de7 81.9%,#249ee7 84.7%,#269ae9 87.5%,#2a93ee 90.3%,#2e86f6 93.1%,#2f86f6 95.8%,#3082f8 98.6%)"></i><i style="height:8px;background:linear-gradient(90deg,#4659f7 1.4%,#4657f6 4.2%,#484bee 6.9%,#4745e7 9.7%,#484df0 12.5%,#4562fc 15.3%,#3d6dfc 18.1%,#3d6dfc 20.8%,#474aed 23.6%,#4748ea 26.4%,#4657f6 29.2%,#484bef 31.9%,#4748ea 34.7%,#3e6cfc 37.5%,#23a0e5 40.3%,#0ab3d2 43.1%,#0cb7c9 45.8%,#10bac3 48.6%,#14bdbc 51.4%,#14bdbc 54.2%,#15bdbb 56.9%,#1fc1ae 59.7%,#20c1ae 62.5%,#28c4a6 65.3%,#2ac4a4 68.1%,#1bc0b3 70.8%,#09b5cf 73.6%,#11afd7 76.4%,#1ba8df 79.2%,#249ee7 81.9%,#2994ed 84.7%,#2c8ff0 87.5%,#2b92ef 90.3%,#2e89f4 93.1%,#2e88f5 95.8%,#317ffa 98.6%)"></i><i style="height:8px;background:linear-gradient(90deg,#4168fc 1.4%,#4657f6 4.2%,#484ef0 6.9%,#4749ec 9.7%,#474aed 12.5%,#4754f4 15.3%,#3d6efc 18.1%,#4069fc 20.8%,#4750f2 23.6%,#474aed 26.4%,#474ff1 29.2%,#4659f7 31.9%,#4746e8 34.7%,#4168fc 37.5%,#259be8 40.3%,#0cb7ca 43.1%,#0fb9c5 45.8%,#11bac2 48.6%,#10bac4 51.4%,#16beb8 54.2%,#1cc0b2 56.9%,#24c3aa 59.7%,#34c79b 62.5%,#27c3a7 65.3%,#2bc5a3 68.1%,#1fc1af 70.8%,#13bcbe 73.6%,#0fb0d6 76.4%,#10afd7 79.2%,#239fe6 81.9%,#23a0e6 84.7%,#2897eb 87.5%,#2995ed 90.3%,#2d8cf2 93.1%,#2d8cf2 95.8%,#2d8af3 98.6%)"></i><i style="height:8px;background:linear-gradient(90deg,#4562fc 1.4%,#465af8 4.2%,#4749ec 6.9%,#4642e3 9.7%,#4747e9 12.5%,#4659f7 15.3%,#3d6dfc 18.1%,#4365fc 20.8%,#465df9 23.6%,#4751f2 26.4%,#4657f6 29.2%,#465cf9 31.9%,#4745e7 34.7%,#4658f6 37.5%,#269ae9 40.3%,#09b5d0 43.1%,#10bac3 45.8%,#1ac0b4 48.6%,#15beba 51.4%,#16beb9 54.2%,#17bfb7 56.9%,#26c3a8 59.7%,#34c79b 62.5%,#32c79c 65.3%,#2bc5a3 68.1%,#1dc1b0 70.8%,#17bfb6 73.6%,#11bbc1 76.4%,#0bb3d3 79.2%,#13add9 81.9%,#21a3e4 84.7%,#269ae9 87.5%,#2a94ed 90.3%,#2897eb 93.1%,#2799ea 95.8%,#2995ec 98.6%)"></i><i style="height:8px;background:linear-gradient(90deg,#4267fc 1.4%,#4562fc 4.2%,#484df0 6.9%,#4745e6 9.7%,#463fdf 12.5%,#4750f2 15.3%,#4366fc 18.1%,#3f6bfc 20.8%,#4365fc 23.6%,#4563fc 26.4%,#4658f7 29.2%,#4753f3 31.9%,#4744e6 34.7%,#465df9 37.5%,#2995ed 40.3%,#0ab3d2 43.1%,#12bbbf 45.8%,#13bcbd 48.6%,#1ac0b4 51.4%,#15bdba 54.2%,#20c1ae 56.9%,#2cc5a2 59.7%,#3bc894 62.5%,#36c899 65.3%,#36c899 68.1%,#2dc5a1 70.8%,#1ec1af 73.6%,#12bbbf 76.4%,#0bb6cd 79.2%,#12aed8 81.9%,#12aed8 84.7%,#1da7e0 87.5%,#22a0e5 90.3%,#249ee7 93.1%,#2897eb 95.8%,#2995ec 98.6%)"></i><i style="height:8px;background:linear-gradient(90deg,#4266fc 1.4%,#465efa 4.2%,#4752f3 6.9%,#474aed 9.7%,#463cdb 12.5%,#4744e5 15.3%,#4561fc 18.1%,#3b70fc 20.8%,#4168fc 23.6%,#4266fc 26.4%,#3f6afc 29.2%,#465efa 31.9%,#463cdb 34.7%,#465df9 37.5%,#2b92ee 40.3%,#09b5d0 43.1%,#11bbc1 45.8%,#1fc1ae 48.6%,#16beb9 51.4%,#17bfb7 54.2%,#2fc69f 56.9%,#2dc5a1 59.7%,#35c799 62.5%,#39c896 65.3%,#34c79b 68.1%,#28c4a6 70.8%,#28c4a6 73.6%,#16beb8 76.4%,#13bcbe 79.2%,#10bac3 81.9%,#09b4d1 84.7%,#1da7e0 87.5%,#22a1e5 90.3%,#259ce8 93.1%,#22a1e5 95.8%,#259be8 98.6%)"></i><i style="height:8px;background:linear-gradient(90deg,#4561fc 1.4%,#4366fc 4.2%,#4752f3 6.9%,#474aed 9.7%,#4435d1 12.5%,#463bda 15.3%,#465bf8 18.1%,#3d6cfc 20.8%,#4168fc 23.6%,#3d6dfc 26.4%,#3f6afc 29.2%,#4659f7 31.9%,#463ddc 34.7%,#4752f3 37.5%,#2b91ef 40.3%,#0eb1d5 43.1%,#0eb8c7 45.8%,#1fc1af 48.6%,#18bfb5 51.4%,#27c3a7 54.2%,#23c2ab 56.9%,#3bc894 59.7%,#30c69e 62.5%,#48ca88 65.3%,#41c98f 68.1%,#46c98a 70.8%,#3bc894 73.6%,#1ec1b0 76.4%,#15bdba 79.2%,#0fb9c4 81.9%,#0fb0d6 84.7%,#0eb0d5 87.5%,#20a4e3 90.3%,#1ca7e0 93.1%,#18aadd 95.8%,#1ca7e0 98.6%)"></i><i style="height:8px;background:linear-gradient(90deg,#3a71fc 1.4%,#4365fc 4.2%,#4657f6 6.9%,#4755f5 9.7%,#4640e1 12.5%,#484bef 15.3%,#4561fb 18.1%,#3a71fc 20.8%,#3b6ffc 23.6%,#3577fc 26.4%,#3b70fc 29.2%,#465bf8 31.9%,#4642e3 34.7%,#465efa 37.5%,#23a0e6 40.3%,#08b4d1 43.1%,#1ec1b0 45.8%,#1ec1b0 48.6%,#26c3a8 51.4%,#2fc69f 54.2%,#35c79a 56.9%,#3cc893 59.7%,#4dca83 62.5%,#39c896 65.3%,#45c98b 68.1%,#3dc892 70.8%,#2ec6a0 73.6%,#38c897 76.4%,#2bc5a3 79.2%,#14bdbc 81.9%,#10bac3 84.7%,#0db1d4 87.5%,#11aed7 90.3%,#12aed8 93.1%,#17abdc 95.8%,#1ca7df 98.6%)"></i><i style="height:8px;background:linear-gradient(90deg,#4563fc 1.4%,#4266fc 4.2%,#4561fb 6.9%,#4755f5 9.7%,#4752f3 12.5%,#4750f2 15.3%,#4168fc 18.1%,#3577fc 20.8%,#3578fc 23.6%,#3676fc 26.4%,#4562fc 29.2%,#4754f4 31.9%,#4748ea 34.7%,#4659f7 37.5%,#269be9 40.3%,#12bbc0 43.1%,#1ec1b0 45.8%,#35c79a 48.6%,#51cb80 51.4%,#59cc79 54.2%,#52cb7f 56.9%,#55cb7c 59.7%,#4fcb82 62.5%,#40c98f 65.3%,#4eca83 68.1%,#35c79a 70.8%,#34c79b 73.6%,#34c79b 76.4%,#23c2ab 79.2%,#1ec1af 81.9%,#12bbc0 84.7%,#09b4d1 87.5%,#09b4d1 90.3%,#17aadc 93.1%,#13add9 95.8%,#18aadc 98.6%)"></i><i style="height:9px;background:linear-gradient(90deg,#3873fc 1.4%,#4365fc 4.2%,#4266fc 6.9%,#4267fc 9.7%,#465cf9 12.5%,#406afc 15.3%,#3b70fc 18.1%,#3478fc 20.8%,#3676fc 23.6%,#3676fc 26.4%,#4464fc 29.2%,#4756f5 31.9%,#4747e9 34.7%,#4168fc 37.5%,#22a0e5 40.3%,#12bbc0 43.1%,#28c4a6 45.8%,#50cb81 48.6%,#68cc6c 51.4%,#5bcc77 54.2%,#50cb81 56.9%,#63cd70 59.7%,#5acc78 62.5%,#40c98f 65.3%,#43c98c 68.1%,#34c79a 70.8%,#41c98f 73.6%,#33c79b 76.4%,#35c799 79.2%,#1ec1af 81.9%,#16bfb7 84.7%,#0eb8c7 87.5%,#0bb6cc 90.3%,#0cb7cb 93.1%,#0db1d4 95.8%,#09b5d0 98.6%)"></i><i style="height:8px;background:linear-gradient(90deg,#3a71fc 1.4%,#3f6afc 4.2%,#3d6dfc 6.9%,#3775fc 9.7%,#3972fc 12.5%,#3d6efc 15.3%,#2f85f7 18.1%,#3082f8 20.8%,#2f84f7 23.6%,#317efb 26.4%,#4069fc 29.2%,#474ff1 31.9%,#4745e7 34.7%,#4464fc 37.5%,#19a9dd 40.3%,#26c3a8 43.1%,#3dc892 45.8%,#63cd70 48.6%,#8bca51 51.4%,#88ca53 54.2%,#71cc65 56.9%,#6dcc68 59.7%,#56cb7b 62.5%,#53cb7e 65.3%,#51cb80 68.1%,#41c98e 70.8%,#42c98e 73.6%,#39c896 76.4%,#3dc892 79.2%,#2ac4a4 81.9%,#1bc0b3 84.7%,#14bdbb 87.5%,#12bbbf 90.3%,#0eb8c7 93.1%,#09b5d0 95.8%,#09b5cf 98.6%)"></i><i style="height:8px;background:linear-gradient(90deg,#3a71fc 1.4%,#3479fc 4.2%,#327cfc 6.9%,#3081f9 9.7%,#3578fc 12.5%,#2f85f7 15.3%,#3082f8 18.1%,#2c8ff0 20.8%,#3081f9 23.6%,#327cfc 26.4%,#465dfa 29.2%,#484ef1 31.9%,#4751f2 34.7%,#4168fc 37.5%,#12aed8 40.3%,#1dc1b0 43.1%,#41c98f 45.8%,#6fcc66 48.6%,#a1c841 51.4%,#acc63b 54.2%,#88ca53 56.9%,#7fcb5a 59.7%,#4cca84 62.5%,#43c98d 65.3%,#41c98e 68.1%,#47ca89 70.8%,#4fcb82 73.6%,#56cb7c 76.4%,#40c98f 79.2%,#3bc894 81.9%,#2cc5a2 84.7%,#16beb8 87.5%,#13bcbd 90.3%,#10bac3 93.1%,#0eb8c7 95.8%,#0bb7cb 98.6%)"></i><i style="height:8px;background:linear-gradient(90deg,#406afc 1.4%,#3c6efc 4.2%,#3578fc 6.9%,#3578fc 9.7%,#3083f8 12.5%,#2e88f5 15.3%,#2d8df2 18.1%,#2e88f5 20.8%,#2d8af3 23.6%,#3775fc 26.4%,#4560fb 29.2%,#4755f5 31.9%,#4659f7 34.7%,#317dfc 37.5%,#0ab3d2 40.3%,#2dc5a2 43.1%,#62cd71 45.8%,#9cc944 48.6%,#c4c22d 51.4%,#b8c434 54.2%,#a1c841 56.9%,#95ca49 59.7%,#5dcc75 62.5%,#5bcc76 65.3%,#3fc990 68.1%,#50cb81 70.8%,#56cb7c 73.6%,#48ca88 76.4%,#44c98c 79.2%,#53cb7e 81.9%,#32c79c 84.7%,#2dc5a2 87.5%,#22c2ac 90.3%,#15beb9 93.1%,#0eb9c6 95.8%,#12bbc0 98.6%)"></i><i style="height:8px;background:linear-gradient(90deg,#3d6dfc 1.4%,#3973fc 4.2%,#3080f9 6.9%,#2e87f5 9.7%,#317ffa 12.5%,#3083f8 15.3%,#2c8ef1 18.1%,#2d8bf3 20.8%,#2c8ff0 23.6%,#317dfc 26.4%,#4560fb 29.2%,#465bf8 31.9%,#4069fc 34.7%,#2e88f5 37.5%,#12bbc0 40.3%,#4eca82 43.1%,#89ca53 45.8%,#a8c73d 48.6%,#cdc028 51.4%,#c1c22f 54.2%,#b1c538 56.9%,#93ca4a 59.7%,#92ca4b 62.5%,#5ccc76 65.3%,#4cca84 68.1%,#3ec991 70.8%,#4dca83 73.6%,#62cd71 76.4%,#5acc78 79.2%,#57cb7b 81.9%,#53cb7e 84.7%,#41c98e 87.5%,#29c4a5 90.3%,#28c4a6 93.1%,#1bc0b3 95.8%,#15beba 98.6%)"></i><i style="height:8px;background:linear-gradient(90deg,#3b6ffc 1.4%,#327bfc 4.2%,#317ffa 6.9%,#317dfc 9.7%,#2d8af4 12.5%,#2d8af3 15.3%,#2e88f5 18.1%,#2c90f0 20.8%,#2b91ef 23.6%,#2f84f7 26.4%,#3f6afc 29.2%,#406afc 31.9%,#4168fc 34.7%,#2d8cf2 37.5%,#13bcbe 40.3%,#59cc78 43.1%,#a6c73e 45.8%,#d4bf2a 48.6%,#e2bd32 51.4%,#ddbe2f 54.2%,#d1bf29 56.9%,#b3c537 59.7%,#8dca4f 62.5%,#7bcb5d 65.3%,#56cb7c 68.1%,#57cc7a 70.8%,#63cd70 73.6%,#78cb60 76.4%,#75cc62 79.2%,#69cc6c 81.9%,#64cc6f 84.7%,#4cca85 87.5%,#41c98f 90.3%,#3ac894 93.1%,#1bc0b3 95.8%,#1ac0b4 98.6%)"></i><i style="height:8px;background:linear-gradient(90deg,#3c6efc 1.4%,#3478fc 4.2%,#337bfc 6.9%,#2e88f5 9.7%,#3083f8 12.5%,#2b91ef 15.3%,#2f86f6 18.1%,#2c8ef1 20.8%,#2c8ff0 23.6%,#2f83f8 26.4%,#3f6afc 29.2%,#4069fc 31.9%,#3080fa 34.7%,#259ce8 37.5%,#1ec1af 40.3%,#80cb59 43.1%,#bfc330 45.8%,#eebb38 48.6%,#f5bb3b 51.4%,#f6bb3a 54.2%,#debd30 56.9%,#b9c434 59.7%,#a3c840 62.5%,#81cb58 65.3%,#55cb7c 68.1%,#56cb7c 70.8%,#60cd72 73.6%,#6dcc68 76.4%,#69cc6b 79.2%,#8eca4e 81.9%,#77cb60 84.7%,#5fcc74 87.5%,#58cc7a 90.3%,#34c79a 93.1%,#26c3a8 95.8%,#2ec5a0 98.6%)"></i><i style="height:8px;background:linear-gradient(90deg,#3972fc 1.4%,#3873fc 4.2%,#327cfc 6.9%,#2d8bf3 9.7%,#2e88f5 12.5%,#2d8af3 15.3%,#2d8af3 18.1%,#2c8ff0 20.8%,#2e89f4 23.6%,#317efb 26.4%,#3577fc 29.2%,#3972fc 31.9%,#317ffa 34.7%,#22a1e5 37.5%,#32c79c 40.3%,#89ca52 43.1%,#dabe2e 45.8%,#f9c337 48.6%,#f6bc3a 51.4%,#f5ba3b 54.2%,#e3bd32 56.9%,#dbbe2e 59.7%,#b3c537 62.5%,#9dc944 65.3%,#6fcc66 68.1%,#55cb7d 70.8%,#71cc65 73.6%,#6dcc68 76.4%,#8aca51 79.2%,#8dca4f 81.9%,#98c947 84.7%,#81cb59 87.5%,#70cc66 90.3%,#5ccc76 93.1%,#45c98b 95.8%,#35c799 98.6%)"></i><i style="height:8px;background:linear-gradient(90deg,#3775fc 1.4%,#317ffa 4.2%,#3081f9 6.9%,#3083f8 9.7%,#2b91ef 12.5%,#2c8df1 15.3%,#2d8df2 18.1%,#2995ed 20.8%,#2c8df1 23.6%,#3082f8 26.4%,#317dfb 29.2%,#3c6ffc 31.9%,#3081f9 34.7%,#16abdb 37.5%,#32c69d 40.3%,#acc63b 43.1%,#dbbe2e 45.8%,#f8c138 48.6%,#fac635 51.4%,#fac535 54.2%,#f6bd39 56.9%,#e8bc34 59.7%,#cac12a 62.5%,#bbc332 65.3%,#6acc6a 68.1%,#66cc6e 70.8%,#6acc6b 73.6%,#97ca48 76.4%,#9fc842 79.2%,#a9c73d 81.9%,#bcc332 84.7%,#9cc944 87.5%,#95ca49 90.3%,#78cb60 93.1%,#44c98c 95.8%,#49ca87 98.6%)"></i><i style="height:8px;background:linear-gradient(90deg,#3972fc 1.4%,#317dfb 4.2%,#2e87f5 6.9%,#2e88f4 9.7%,#2c8df1 12.5%,#2c90f0 15.3%,#2d8bf2 18.1%,#2b92ee 20.8%,#2a94ed 23.6%,#2b90ef 26.4%,#327cfc 29.2%,#317dfb 31.9%,#2d8cf2 34.7%,#10afd7 37.5%,#51cb80 40.3%,#cec028 43.1%,#f7bf38 45.8%,#fccf30 48.6%,#fccb32 51.4%,#fbc933 54.2%,#f6bc3a 56.9%,#f1ba39 59.7%,#e2bd32 62.5%,#c0c22f 65.3%,#a0c842 68.1%,#89ca52 70.8%,#94ca4a 73.6%,#95ca49 76.4%,#b7c434 79.2%,#cec028 81.9%,#c4c22d 84.7%,#c5c12c 87.5%,#a8c73d 90.3%,#a4c73f 93.1%,#6bcc69 95.8%,#55cb7d 98.6%)"></i><i style="height:8px;background:linear-gradient(90deg,#327dfc 1.4%,#3479fc 4.2%,#2f86f6 6.9%,#2d8bf3 9.7%,#2996ec 12.5%,#2a93ee 15.3%,#2798ea 18.1%,#2897eb 20.8%,#2c8ef1 23.6%,#2c8ef1 26.4%,#3081f9 29.2%,#327cfc 31.9%,#2b92ee 34.7%,#0ab3d2 37.5%,#71cc65 40.3%,#d6bf2c 43.1%,#f7be39 45.8%,#fbd22f 48.6%,#fad72d 51.4%,#fccb33 54.2%,#fbc934 56.9%,#f7be39 59.7%,#eebb38 62.5%,#e3bd32 65.3%,#acc63b 68.1%,#9fc842 70.8%,#a1c841 73.6%,#b6c435 76.4%,#bfc330 79.2%,#debd30 81.9%,#d4bf2a 84.7%,#e3bd32 87.5%,#d7be2c 90.3%,#b4c536 93.1%,#8aca52 95.8%,#7ecb5b 98.6%)"></i><i style="height:8px;background:linear-gradient(90deg,#327cfc 1.4%,#327bfc 4.2%,#2c8df1 6.9%,#2b92ef 9.7%,#2b90f0 12.5%,#2a94ed 15.3%,#2a93ee 18.1%,#2a94ed 20.8%,#2799ea 23.6%,#2c8ef1 26.4%,#2d8cf2 29.2%,#3083f8 31.9%,#2c8ef1 34.7%,#0db1d4 37.5%,#85cb56 40.3%,#e1bd31 43.1%,#fac535 45.8%,#f8dc2b 48.6%,#f8dc2b 51.4%,#fdce31 54.2%,#fcca33 56.9%,#f7bf38 59.7%,#f9c436 62.5%,#f0bb38 65.3%,#abc63c 68.1%,#abc63c 70.8%,#9dc944 73.6%,#c9c12a 76.4%,#d0c029 79.2%,#f5ba3b 81.9%,#edbb37 84.7%,#f4ba3b 87.5%,#eebb37 90.3%,#ddbe2f 93.1%,#9fc842 95.8%,#93ca4b 98.6%)"></i><i style="height:8px;background:linear-gradient(90deg,#3180fa 1.4%,#3082f8 4.2%,#3082f8 6.9%,#2c8ff0 9.7%,#2b91ef 12.5%,#259de8 15.3%,#2995ec 18.1%,#259be9 20.8%,#2995ec 23.6%,#2c8ff0 26.4%,#2f86f6 29.2%,#2c8df1 31.9%,#2c8df1 34.7%,#0ab6cd 37.5%,#94ca4a 40.3%,#f9c436 43.1%,#fad72d 45.8%,#fad72d 48.6%,#f8db2b 51.4%,#f9d92c 54.2%,#fad62d 56.9%,#fac635 59.7%,#fbc933 62.5%,#f1ba39 65.3%,#d0c029 68.1%,#aec63a 70.8%,#a8c73d 73.6%,#d1bf29 76.4%,#f0ba39 79.2%,#f6bc3a 81.9%,#f8c038 84.7%,#f8c038 87.5%,#f8c038 90.3%,#ecbb37 93.1%,#b2c537 95.8%,#b0c539 98.6%)"></i><i style="height:8px;background:linear-gradient(90deg,#317efb 1.4%,#3180fa 4.2%,#2e88f5 6.9%,#2d8cf2 9.7%,#2994ed 12.5%,#2996ec 15.3%,#269be9 18.1%,#2995ec 20.8%,#2a93ee 23.6%,#2c8ff0 26.4%,#2c8ef1 29.2%,#2e88f5 31.9%,#2b92ee 34.7%,#0ab5ce 37.5%,#a2c841 40.3%,#f8c038 43.1%,#f9da2b 45.8%,#f7df29 48.6%,#f5e626 51.4%,#f9d82c 54.2%,#fbd32f 56.9%,#fbd22f 59.7%,#fdcd31 62.5%,#f7c038 65.3%,#d5bf2b 68.1%,#b5c435 70.8%,#b3c537 73.6%,#d6bf2c 76.4%,#e6bc34 79.2%,#f7be39 81.9%,#fac635 84.7%,#fac635 87.5%,#fbc834 90.3%,#ecbb36 93.1%,#cac129 95.8%,#aac63c 98.6%)"></i><i style="height:8px;background:linear-gradient(90deg,#317efb 1.4%,#2d8cf2 4.2%,#2b90f0 6.9%,#2798eb 9.7%,#2995ec 12.5%,#259ce8 15.3%,#2799ea 18.1%,#249de7 20.8%,#269be9 23.6%,#2c8ff0 26.4%,#2b91ef 29.2%,#2d8af3 31.9%,#269ae9 34.7%,#10bac3 37.5%,#abc63b 40.3%,#f9c436 43.1%,#fad72d 45.8%,#f5e725 48.6%,#f6e128 51.4%,#f7df29 54.2%,#fbd22f 56.9%,#fdcc32 59.7%,#fdcd31 62.5%,#f6bd3a 65.3%,#d5bf2b 68.1%,#c7c12b 70.8%,#abc63b 73.6%,#c6c12c 76.4%,#f5ba3b 79.2%,#f9c237 81.9%,#fbc933 84.7%,#f9c337 87.5%,#f9c436 90.3%,#f6bd3a 93.1%,#cfc028 95.8%,#a9c73d 98.6%)"></i><i style="height:8px;background:linear-gradient(90deg,#2d8cf2 1.4%,#2e87f5 4.2%,#2b92ee 6.9%,#2799ea 9.7%,#2b91ef 12.5%,#2799ea 15.3%,#2897eb 18.1%,#2699ea 20.8%,#259ce8 23.6%,#2a93ee 26.4%,#2e88f5 29.2%,#2b91ef 31.9%,#249ee7 34.7%,#12bcbf 37.5%,#c4c22d 40.3%,#fbc934 43.1%,#f8dd2a 45.8%,#f5e825 48.6%,#f7de29 51.4%,#f5e824 54.2%,#f8dd2a 56.9%,#fcd030 59.7%,#fbd32f 62.5%,#f9c337 65.3%,#d8be2d 68.1%,#bcc331 70.8%,#c3c22e 73.6%,#c8c12b 76.4%,#eebb38 79.2%,#f6bc3a 81.9%,#f8c237 84.7%,#fcca33 87.5%,#fac635 90.3%,#f7bd39 93.1%,#c6c12c 95.8%,#aac63c 98.6%)"></i><i style="height:8px;background:linear-gradient(90deg,#2d8cf2 1.4%,#2d8bf3 4.2%,#2995ed 6.9%,#2b91ef 9.7%,#259ce8 12.5%,#2799ea 15.3%,#2699ea 18.1%,#259ce8 20.8%,#2897eb 23.6%,#2b91ef 26.4%,#2b90ef 29.2%,#2799ea 31.9%,#21a2e4 34.7%,#21c2ad 37.5%,#c3c22d 40.3%,#f9d82c 43.1%,#f5e824 45.8%,#f6ed20 48.6%,#f6e228 51.4%,#f6ea22 54.2%,#f7df29 56.9%,#fad62d 59.7%,#fbd42e 62.5%,#f8c237 65.3%,#e1bd31 68.1%,#c2c22e 70.8%,#b5c436 73.6%,#debd2f 76.4%,#ebbb36 79.2%,#f9c336 81.9%,#fac535 84.7%,#fac535 87.5%,#fbc734 90.3%,#f3ba3a 93.1%,#b5c436 95.8%,#adc63a 98.6%)"></i><i style="height:8px;background:linear-gradient(90deg,#2c8ef1 1.4%,#2b91ef 4.2%,#2b90f0 6.9%,#2995ed 9.7%,#269ae9 12.5%,#269aea 15.3%,#269ae9 18.1%,#2799ea 20.8%,#249de7 23.6%,#2a94ed 26.4%,#2d8cf2 29.2%,#2897eb 31.9%,#1ea6e1 34.7%,#25c3a9 37.5%,#ccc028 40.3%,#fad52e 43.1%,#f6e327 45.8%,#f5e526 48.6%,#f5ea23 51.4%,#f5e924 54.2%,#f7e128 56.9%,#f7e029 59.7%,#fdce31 62.5%,#fac535 65.3%,#e3bd32 68.1%,#cac129 70.8%,#b7c434 73.6%,#e1bd31 76.4%,#ecbb37 79.2%,#f7be39 81.9%,#fccb32 84.7%,#fcc933 87.5%,#fac734 90.3%,#efbb38 93.1%,#cdc028 95.8%,#92ca4c 98.6%)"></i><i style="height:8px;background:linear-gradient(90deg,#2a93ee 1.4%,#249ee7 4.2%,#2699ea 6.9%,#21a3e3 9.7%,#22a2e4 12.5%,#249ee6 15.3%,#21a2e4 18.1%,#259ce8 20.8%,#22a1e5 23.6%,#239fe6 26.4%,#259ce8 29.2%,#249ee7 31.9%,#08b4d1 34.7%,#3ac895 37.5%,#efbb38 40.3%,#fcd030 43.1%,#f5e725 45.8%,#f6ee1f 48.6%,#f6eb21 51.4%,#f8dd2a 54.2%,#f6e228 56.9%,#fccf31 59.7%,#fdcc32 62.5%,#f9c337 65.3%,#d6bf2c 68.1%,#b6c435 70.8%,#c3c22d 73.6%,#d0c029 76.4%,#f6bc3a 79.2%,#fac735 81.9%,#f9c336 84.7%,#fdcd31 87.5%,#f8c237 90.3%,#eabc35 93.1%,#cec028 95.8%,#adc63a 98.6%)"></i><i style="height:8px;background:linear-gradient(90deg,#249de7 1.4%,#20a5e2 4.2%,#1ba8df 6.9%,#1ca7e0 9.7%,#1aa9de 12.5%,#19a9dd 15.3%,#22a1e5 18.1%,#21a2e4 20.8%,#1fa6e2 23.6%,#20a4e3 26.4%,#249ee7 29.2%,#15acda 31.9%,#26c3a8 34.7%,#65cc6e 37.5%,#f7be39 40.3%,#f8dd2a 43.1%,#f8dd2a 45.8%,#f7df29 48.6%,#f7de2a 51.4%,#fad62d 54.2%,#fbd22f 56.9%,#f9d82c 59.7%,#fbc933 62.5%,#f8c138 65.3%,#dbbe2e 68.1%,#b3c537 70.8%,#c4c22d 73.6%,#d8be2c 76.4%,#e5bc33 79.2%,#f7bf38 81.9%,#fac536 84.7%,#fbc734 87.5%,#f9c336 90.3%,#eabc35 93.1%,#c6c12c 95.8%,#abc63b 98.6%)"></i><i style="height:8px;background:linear-gradient(90deg,#21a3e4 1.4%,#16abdb 4.2%,#14acda 6.9%,#0ab6ce 9.7%,#15acda 12.5%,#0fb0d5 15.3%,#16abdb 18.1%,#18aadc 20.8%,#1fa5e2 23.6%,#18aadd 26.4%,#17abdc 29.2%,#0cb7ca 31.9%,#41c98f 34.7%,#aec639 37.5%,#fbc834 40.3%,#f6e128 43.1%,#f6e128 45.8%,#f8dd2a 48.6%,#f8de2a 51.4%,#fbd22f 54.2%,#fccf30 56.9%,#fcd030 59.7%,#f9c336 62.5%,#e9bc35 65.3%,#c2c22e 68.1%,#a9c63c 70.8%,#c0c22f 73.6%,#bfc330 76.4%,#f5ba3b 79.2%,#f7bf38 81.9%,#f9c436 84.7%,#f8c237 87.5%,#f8c237 90.3%,#eabb36 93.1%,#b9c433 95.8%,#9ac946 98.6%)"></i><i style="height:8px;background:linear-gradient(90deg,#1ca7df 1.4%,#11afd7 4.2%,#0ab6cd 6.9%,#0eb8c7 9.7%,#10bac2 12.5%,#09b5d0 15.3%,#0cb2d3 18.1%,#15acdb 20.8%,#17abdc 23.6%,#0db1d4 26.4%,#0eb1d5 29.2%,#22c2ac 31.9%,#80cb5a 34.7%,#d2bf2a 37.5%,#fac735 40.3%,#f6e327 43.1%,#f6e228 45.8%,#f9d82c 48.6%,#fcd030 51.4%,#fdcc32 54.2%,#fdce31 56.9%,#fac536 59.7%,#f6bc3a 62.5%,#f2ba39 65.3%,#d6bf2c 68.1%,#a8c73d 70.8%,#c4c22d 73.6%,#bbc332 76.4%,#e3bd32 79.2%,#f5ba3b 81.9%,#f8c137 84.7%,#f7be39 87.5%,#f6bb3a 90.3%,#d7be2c 93.1%,#afc539 95.8%,#9cc944 98.6%)"></i><i style="height:8px;background:linear-gradient(90deg,#12aed8 1.4%,#0cb2d4 4.2%,#14bdbc 6.9%,#18bfb6 9.7%,#15beb9 12.5%,#13bcbe 15.3%,#0cb2d3 18.1%,#0eb0d5 20.8%,#0eb0d5 23.6%,#0bb2d3 26.4%,#0eb8c7 29.2%,#32c79c 31.9%,#afc539 34.7%,#f7be39 37.5%,#f9d92c 40.3%,#f7e128 43.1%,#f7df29 45.8%,#f9da2b 48.6%,#fdcc32 51.4%,#fbc934 54.2%,#fbc933 56.9%,#fbc933 59.7%,#f4ba3a 62.5%,#e4bc33 65.3%,#c6c12c 68.1%,#a4c73f 70.8%,#bec330 73.6%,#d1bf29 76.4%,#e3bd32 79.2%,#f8c038 81.9%,#f6bc3a 84.7%,#f4ba3a 87.5%,#f4ba3b 90.3%,#d4bf2a 93.1%,#a6c73f 95.8%,#9cc944 98.6%)"></i><i style="height:8px;background:linear-gradient(90deg,#0db1d4 1.4%,#09b5cf 4.2%,#16beb9 6.9%,#14bdbb 9.7%,#16bfb7 12.5%,#12bbc0 15.3%,#09b5d0 18.1%,#11aed8 20.8%,#0eb1d5 23.6%,#0cb7ca 26.4%,#15beba 29.2%,#38c897 31.9%,#c4c22d 34.7%,#fac635 37.5%,#f9d82c 40.3%,#fccf31 43.1%,#fbc734 45.8%,#f6bc3a 48.6%,#f8c038 51.4%,#f6bc3a 54.2%,#f5bb3a 56.9%,#dfbd30 59.7%,#d6bf2c 62.5%,#a6c73f 65.3%,#87ca54 68.1%,#83cb57 70.8%,#91ca4c 73.6%,#a9c73d 76.4%,#cfc028 79.2%,#e0bd30 81.9%,#e7bc34 84.7%,#d5bf2b 87.5%,#debd30 90.3%,#afc539 93.1%,#83cb57 95.8%,#82cb58 98.6%)"></i><i style="height:8px;background:linear-gradient(90deg,#1aa9de 1.4%,#0ab5ce 4.2%,#12bbc0 6.9%,#17bfb6 9.7%,#17bfb6 12.5%,#10bac2 15.3%,#0bb6cb 18.1%,#10afd7 20.8%,#0db2d4 23.6%,#0ab6ce 26.4%,#11bbc0 29.2%,#45c98b 31.9%,#c7c12b 34.7%,#f9c237 37.5%,#fbc834 40.3%,#fccb33 43.1%,#f1ba39 45.8%,#d8be2d 48.6%,#dfbd30 51.4%,#d2bf2a 54.2%,#bbc332 56.9%,#bec330 59.7%,#a1c841 62.5%,#69cc6c 65.3%,#4fcb82 68.1%,#4bca85 70.8%,#7acb5e 73.6%,#91ca4c 76.4%,#adc63a 79.2%,#c3c22e 81.9%,#d2bf29 84.7%,#c1c22f 87.5%,#a8c73d 90.3%,#98c947 93.1%,#75cb62 95.8%,#70cc66 98.6%)"></i><i style="height:8px;background:linear-gradient(90deg,#17aadc 1.4%,#08b4d0 4.2%,#0fb9c5 6.9%,#1dc1b1 9.7%,#10bac2 12.5%,#0cb7ca 15.3%,#0cb7ca 18.1%,#12aed8 20.8%,#0fb0d6 23.6%,#0eb8c7 26.4%,#1dc1b0 29.2%,#43c98d 31.9%,#cdc028 34.7%,#fbc834 37.5%,#fbc933 40.3%,#fac635 43.1%,#d3bf2a 45.8%,#aec63a 48.6%,#adc63a 51.4%,#8bca51 54.2%,#9ec943 56.9%,#6ecc67 59.7%,#60cd72 62.5%,#4cca85 65.3%,#38c897 68.1%,#35c799 70.8%,#42c98e 73.6%,#65cc6e 76.4%,#7ccb5c 79.2%,#a0c842 81.9%,#8bca51 84.7%,#8fca4e 87.5%,#9bc945 90.3%,#87ca54 93.1%,#74cc62 95.8%,#64cc6f 98.6%)"></i><i style="height:8px;background:linear-gradient(90deg,#10afd6 1.4%,#0bb3d2 4.2%,#13bcbe 6.9%,#21c2ad 9.7%,#11bac2 12.5%,#0bb6cc 15.3%,#09b4d1 18.1%,#0cb7ca 20.8%,#09b4d1 23.6%,#0db8c8 26.4%,#17bfb7 29.2%,#62cd70 31.9%,#d9be2d 34.7%,#fac535 37.5%,#fccc32 40.3%,#f6bd39 43.1%,#aec63a 45.8%,#8fca4e 48.6%,#7acb5e 51.4%,#64cc6f 54.2%,#69cc6c 56.9%,#4bca85 59.7%,#24c3aa 62.5%,#15beba 65.3%,#16beb8 68.1%,#1bc0b3 70.8%,#2bc4a3 73.6%,#57cc7a 76.4%,#58cc7a 79.2%,#64cc6f 81.9%,#6bcc6a 84.7%,#76cb61 87.5%,#75cb62 90.3%,#73cc64 93.1%,#4eca82 95.8%,#41c98e 98.6%)"></i><i style="height:8px;background:linear-gradient(90deg,#1ca7df 1.4%,#11afd7 4.2%,#18bfb6 6.9%,#19c0b4 9.7%,#13bcbd 12.5%,#10bac4 15.3%,#0fb9c5 18.1%,#0db1d4 20.8%,#09b5cf 23.6%,#0eb8c7 26.4%,#1dc1b1 29.2%,#75cc62 31.9%,#dfbd30 34.7%,#fcc933 37.5%,#fccb32 40.3%,#f1ba39 43.1%,#95ca49 45.8%,#52cb7f 48.6%,#47ca89 51.4%,#40c98f 54.2%,#3fc991 56.9%,#2ac4a4 59.7%,#12bbc0 62.5%,#0db8c8 65.3%,#0eb1d5 68.1%,#0bb6cb 70.8%,#26c3a8 73.6%,#3ec991 76.4%,#4eca82 79.2%,#51cb80 81.9%,#42c98e 84.7%,#4fcb82 87.5%,#55cb7c 90.3%,#4aca86 93.1%,#47ca89 95.8%,#49ca87 98.6%)"></i><i style="height:8px;background:linear-gradient(90deg,#1ba8df 1.4%,#0bb2d3 4.2%,#18bfb5 6.9%,#24c3aa 9.7%,#19c0b5 12.5%,#0bb6cc 15.3%,#0cb7ca 18.1%,#0bb6cc 20.8%,#0db8c8 23.6%,#14bdbb 26.4%,#22c2ac 29.2%,#63cd70 31.9%,#dfbd30 34.7%,#fcd030 37.5%,#fcca33 40.3%,#efbb38 43.1%,#89ca52 45.8%,#4eca82 48.6%,#43c98d 51.4%,#40c990 54.2%,#2dc5a1 56.9%,#18bfb5 59.7%,#10bac3 62.5%,#09b4d1 65.3%,#0cb2d3 68.1%,#0cb7cb 70.8%,#28c4a6 73.6%,#2ec5a1 76.4%,#51cb80 79.2%,#5ccc76 81.9%,#53cb7f 84.7%,#4ecb82 87.5%,#49ca87 90.3%,#58cc7a 93.1%,#43c98c 95.8%,#4cca85 98.6%)"></i><i style="height:8px;background:linear-gradient(90deg,#15acda 1.4%,#11aed8 4.2%,#14bdbc 6.9%,#18bfb5 9.7%,#13bcbd 12.5%,#0cb7ca 15.3%,#0ab6cd 18.1%,#0ab3d2 20.8%,#09b4d1 23.6%,#13bcbd 26.4%,#1fc1af 29.2%,#64cc6f 31.9%,#e0bd31 34.7%,#fbc734 37.5%,#fdcc32 40.3%,#dbbe2e 43.1%,#92ca4b 45.8%,#4cca85 48.6%,#49ca88 51.4%,#43c98d 54.2%,#34c79a 56.9%,#26c3a8 59.7%,#11bbc1 62.5%,#0db8c8 65.3%,#0eb1d5 68.1%,#09b5cf 70.8%,#1bc0b3 73.6%,#3fc990 76.4%,#4cca85 79.2%,#55cb7c 81.9%,#53cb7e 84.7%,#53cb7f 87.5%,#48ca88 90.3%,#56cb7c 93.1%,#4dca83 95.8%,#44c98b 98.6%)"></i></div>
<div class="hm" style="left:1689px;top:1476px;width:29px;height:486px;background:linear-gradient(180deg,#f9fb15 0.0%,#f6ec21 4.2%,#f8dc2a 8.3%,#fdcc32 12.5%,#f7bf38 16.7%,#e6bc33 20.8%,#cbc029 25.0%,#a9c73d 29.2%,#85cb56 33.3%,#5fcd73 37.5%,#43c98d 41.7%,#2ac4a4 45.8%,#16bfb7 50.0%,#0db8c9 54.2%,#11afd7 58.3%,#20a4e3 62.5%,#2897eb 66.7%,#2d8af3 70.8%,#327cfc 75.0%,#3f6bfc 79.2%,#465bf8 83.3%,#484cf0 87.5%,#463ede 91.7%,#4331c6 95.8%,#3e26a8 100.0%)"></div>
<svg width="2068" height="2036" viewBox="0 0 2068 2036" font-size="27">
<defs><filter id="blr" x="-50%" y="-50%" width="200%" height="200%"><feGaussianBlur stdDeviation="4"/></filter></defs>
<text x="1" y="24.5" font-size="33" font-weight="bold">a</text>
<text x="1048" y="24.5" font-size="33" font-weight="bold">b</text>
<text x="0" y="657.5" font-size="33" font-weight="bold">c</text>
<text x="1048" y="656" font-size="33" font-weight="bold">d</text>
<text x="0" y="1469" font-size="33" font-weight="bold">e</text>
<text x="1058" y="1469" font-size="33" font-weight="bold">f</text>
<text x="40.5" y="98" font-size="28" text-anchor="middle" transform="rotate(-90 40.5 98)">Breathing</text>
<text x="78" y="97.5" font-size="28" text-anchor="middle" transform="rotate(-90 78 97.5)">air flow</text>
<text x="43" y="277" font-size="28" text-anchor="middle" transform="rotate(-90 43 277)">Whisker angle</text>
<text x="43" y="452.5" font-size="28" text-anchor="middle" transform="rotate(-90 43 452.5)">Spikes</text>
<text x="1082.5" y="98" font-size="28" text-anchor="middle" transform="rotate(-90 1082.5 98)">Breathing</text>
<text x="1117.4" y="98" font-size="28" text-anchor="middle" transform="rotate(-90 1117.4 98)">air flow</text>
<text x="1082.5" y="277" font-size="28" text-anchor="middle" transform="rotate(-90 1082.5 277)">Whisker angle</text>
<text x="1082.5" y="452.5" font-size="28" text-anchor="middle" transform="rotate(-90 1082.5 452.5)">Spikes</text>
<path d="M122.6 42.6 123.2 42.6 124.1 42.7 124.8 43 125.2 43 125.5 43.3 125.8 46 126.1 51.5 126.5 59.3 126.8 70 127.2 85.6 127.5 104.1 127.9 120 128.3 131.5 128.7 140.4 129.2 147 129.8 150.9 130.3 152.4 130.9 152.9 131.4 152.9 131.8 151.9 132.2 149.9 132.6 147.2 133 143.5 133.4 138.9 133.7 133.6 133.9 127.3 134.2 120 134.4 110.2 134.6 99.3 134.8 91.1 135.1 88 135.3 87.7 135.5 87.1 135.7 86.2 135.9 85.1 136.1 81.1 136.4 71.7 136.6 59.5 136.8 50 137 45.7 137.2 44.1 137.5 43 137.8 41.5 138.2 40.5 138.6 40 139 39.9 139.5 40.3 139.9 41 140.3 41.7 140.6 42.7 140.9 45 141.2 48.2 141.4 52.7 141.7 60 142 71.9 142.4 86.6 142.7 100 143 110.6 143.4 119.8 143.7 127.9 144.1 135.1 144.5 141.2 144.8 145.9 145.2 148.9 145.6 150.5 146 151.4 146.4 152 146.9 151.9 147.3 151.4 147.7 151 148.1 150.1 148.5 148.4 148.9 145.6 149.3 141.9 149.6 137.4 149.9 132.7 150.1 127.2 150.3 120 150.6 109.1 150.8 96.5 150.9 87.1 151.2 83.7 151.4 83.5 151.6 83.1 151.8 81.9 152 80.4 152.2 77.1 152.4 70.4 152.6 61.8 152.8 55 153 51.4 153.1 49.4 153.4 48 153.7 46.5 154.1 45.5 154.4 45 154.8 44.9 155.3 45.3 155.7 46 156 46.7 156.3 47.7 156.6 50 156.8 53.4 157.1 58.1 157.3 65 157.6 75.5 157.9 88.2 158.2 100 158.5 109.8 158.8 118.6 159.2 126.4 159.5 133.5 159.9 139.7 160.2 144.4 160.6 147.3 160.9 148.9 161.3 149.9 161.7 150.9 162.1 151.4 162.5 151.3 162.9 151 163.3 150.1 163.6 148.3 164 145.5 164.3 141.8 164.6 137.3 164.9 132.8 165.1 127.5 165.3 120 165.5 107.8 165.7 93.3 165.9 82.5 166.1 78.8 166.3 78.8 166.5 78.5 166.7 77.1 166.9 75.5 167 72.5 167.2 67 167.4 60.2 167.6 54.6 167.8 51.3 168 49.2 168.2 47.6 168.5 46.2 168.8 45.2 169.2 44.6 169.6 44.5 169.9 44.9 170.3 45.6 170.6 46.3 170.9 47.3 171.2 49.6 171.4 53 171.6 57.7 171.9 64.6 172.1 75.2 172.4 88.1 172.7 100 173 109.8 173.3 118.5 173.6 126.3 173.9 133.4 174.2 139.6 174.6 144.3 174.9 147.2 175.2 148.6 175.6 149.8 175.9 151.5 176.3 152.9 176.7 153.6 177.1 153.4 177.6 152.4 178 150.6 178.4 147.8 178.8 144.2 179.2 139.6 179.5 134.3 179.8 128.1 180 120 180.3 107.8 180.5 93.7 180.7 83.3 180.9 79.6 181.1 79.5 181.3 79.3 181.6 78.1 181.8 76.7 182 73.3 182.2 65.9 182.5 56.4 182.7 48.9 182.9 45.1 183.1 43.3 183.3 41.9 183.7 40.5 184.1 39.5 184.5 38.9 184.9 38.8 185.4 39.2 185.8 39.9 186.2 40.6 186.5 41.6 186.8 43.9 187.1 47.1 187.4 51.6 187.7 58.9 188 71.1 188.3 86.3 188.7 100 189 110.9 189.3 120.3 189.6 128.6 190 135.9 190.4 141.9 190.8 146.6 191.2 149.5 191.6 151 192 152.1 192.4 153 192.9 153.5 193.3 153.5 193.7 153.2 194.1 152.3 194.5 150.5 194.9 147.8 195.3 144.1 195.6 139.5 195.9 134.3 196.1 128.1 196.3 120 196.6 108 196.8 94.1 196.9 83.7 197.2 80.1 197.4 80 197.6 79.7 197.8 78.2 198 76.5 198.2 73.7 198.4 69.1 198.6 63.5 198.8 58.7 199 55.7 199.1 53.5 199.4 51.7 199.7 50.3 200.1 49.3 200.4 48.7 200.8 48.7 201.3 49 201.7 49.7 202 50.5 202.3 51.5 202.6 53.7 202.8 57.3 203.1 62.1 203.3 68.7 203.6 78.1 203.9 89.2 204.2 100 204.5 110.1 204.8 119.9 205.2 128.5 205.5 135.8 205.9 141.9 206.2 146.5 206.6 149.5 206.9 151.1 207.3 152 207.7 152.7 208.1 152.7 208.5 152.3 208.9 151.9 209.3 151.1 209.6 149.3 210 146.5 210.3 142.8 210.6 138.3 210.8 133 211.1 126.9 211.3 120 211.5 111.5 211.7 102.2 211.8 95.3 212 92.5 212.2 92 212.4 91.3 212.6 90.3 212.8 89.1 212.9 85.3 213.1 76.5 213.3 65.1 213.5 56.2 213.7 52 213.8 50.4 214.1 49.2 214.3 47.7 214.7 46.7 215 46.2 215.4 46.1 215.8 46.5 216.1 47.2 216.4 47.9 216.7 48.9 217 51.2 217.2 54.6 217.4 59.4 217.7 66.2 217.9 76.3 218.2 88.5 218.5 100 218.8 109.9 219.1 119.2 219.3 127.3 219.7 134.5 220 140.6 220.3 145.3 220.6 148.2 221 149.6 221.3 150.8 221.6 152.4 222 153.8 222.4 154.5 222.8 154.2 223.2 153.3 223.6 151.5 224 148.7 224.3 145.1 224.7 140.5 224.9 134.5 225.2 127.5 225.4 120 225.6 111.4 225.8 102.4 226 95.7 226.2 92.9 226.4 92.4 226.6 91.7 226.8 90.8 227 89.7 227.2 85.7 227.4 75.8 227.6 63.1 227.8 53.2 228 48.8 228.2 47.2 228.4 46.2 228.8 44.7 229.1 43.7 229.5 43.2 229.9 43.1 230.3 43.5 230.7 44.2 231 44.9 231.3 45.9 231.6 48.2 231.9 51.5 232.1 56.1 232.4 63.2 232.7 74.1 233 87.5 233.3 100 233.6 110.8 233.9 120.8 234.2 129.5 234.5 136.8 234.9 142.8 235.2 147.5 235.6 150.5 235.9 152.1 236.3 153 236.7 153 237.1 152.2 237.5 151.3 237.9 150.7 238.3 149.9 238.6 148.3 239 145.4 239.3 141.7 239.6 137.3 239.8 132.6 240.1 127.2 240.3 120 240.5 108.8 240.7 95.8 240.8 86.1 241 82.6 241.2 82.4 241.4 82.1 241.6 80.6 241.8 78.9 241.9 76.1 242.1 70.9 242.3 64.5 242.5 59.2 242.7 55.9 242.8 53.8 243.1 52.2 243.3 50.7 243.7 49.7 244 49.2 244.4 49.1 244.8 49.5 245.1 50.2 245.4 50.9 245.7 51.9 246 54.2 246.2 57.8 246.4 62.6 246.7 69.2 246.9 78.4 247.2 89.5 247.5 100 247.8 109.4 248.1 118.3 248.3 126.3 248.7 133.4 249 139.5 249.3 144.3 249.6 147.2 250 148.7 250.3 149.8 250.6 150.9 251 151.7 251.4 151.9 251.8 151.5 252.2 150.6 252.6 148.9 253 146 253.4 142.3 253.7 137.9 254 133 254.3 127.4 254.5 120 254.7 108.8 254.9 95.9 255.1 86.3 255.4 82.9 255.6 82.7 255.8 82.3 256 81.2 256.2 79.9 256.4 76.3 256.6 68.2 256.8 57.8 257 49.5 257.2 45.6 257.4 43.8 257.6 42.5 258 41.1 258.3 40.1 258.7 39.5 259.1 39.5 259.6 39.8 260 40.5 260.3 41.2 260.6 42.3 260.9 44.5 261.2 47.8 261.4 52.2 261.7 59.5 262 71.6 262.3 86.6 262.6 100 262.9 110.3 263.2 119.1 263.6 126.9 263.9 134 264.3 140.1 264.7 144.9 265 147.6 265.4 149 265.8 150.4 266.2 152.5 266.6 154.7 267 155.9 267.4 155.8 267.8 154.8 268.2 152.9 268.6 150.2 268.9 146.7 269.2 141.9 269.5 135.7 269.7 128.3 270 120 270.2 109.7 270.4 98.5 270.6 90.1 270.7 87 270.9 86.7 271.1 86.1 271.3 85.2 271.5 84 271.7 80.1 271.9 71.1 272.1 59.5 272.3 50.3 272.5 46.2 272.7 44.5 272.9 43.3 273.2 41.9 273.6 40.9 274 40.3 274.4 40.3 274.8 40.6 275.1 41.3 275.5 42.1 275.8 43.1 276 45.3 276.3 48.6 276.5 53.1 276.8 60.3 277.1 72.1 277.4 86.5 277.7 100 277.9 111.4 278.2 121.9 278.5 130.9 278.9 138.3 279.2 144.3 279.6 148.9 279.9 151.8 280.3 153.4 280.6 154.4 281 155 281.4 155.1 281.8 154.8 282.2 154.4 282.6 153.6 282.9 151.8 283.3 149.1 283.6 145.5 283.9 140.8 284.2 135 284.4 128 284.6 120 284.8 109.6 285 98.2 285.2 89.7 285.3 86.5 285.5 86.2 285.7 85.7 285.9 84.6 286.1 83.3 286.3 79.7 286.5 71.5 286.7 61.1 286.8 52.8 287 48.9 287.2 47.1 287.4 45.8 287.7 44.4 288 43.4 288.4 42.8 288.8 42.8 289.1 43.1 289.5 43.8 289.8 44.5 290.1 45.6 290.3 47.8 290.6 51.2 290.8 55.8 291 62.8 291.3 73.9 291.6 87.3 291.9 100 292.2 110.9 292.4 121 292.7 129.8 293 137.2 293.4 143.2 293.7 147.8 294 150.9 294.3 152.5 294.7 153.3 295 153.3 295.4 152.4 295.8 151.4 296.2 150.8 296.5 150 296.9 148.4 297.2 145.5 297.5 141.8 297.8 137.4 298.1 132.7 298.3 127.3 298.5 120 298.7 108.5 298.9 94.9 299 84.9 299.2 81.3 299.4 81.2 299.6 80.9 299.8 79.8 299.9 78.4 300.1 74.9 300.3 67 300.5 56.8 300.7 48.8 300.8 44.9 301 43.1 301.2 41.8 301.5 40.3 301.8 39.3 302.1 38.8 302.5 38.7 302.9 39.1 303.2 39.8 303.5 40.5 303.8 41.5 304 43.8 304.3 47 304.5 51.4 304.7 58.8 305 71.1 305.2 86.4 305.5 100 305.8 110.2 306.1 118.8 306.3 126.4 306.6 133.5 307 139.6 307.3 144.4 307.6 147.1 307.9 148.5 308.2 149.9 308.6 151.9 308.9 154 309.3 155.1 309.7 155 310 154 310.4 152.1 310.7 149.4 311 145.8 311.3 141.1 311.6 135.3 311.8 128.3 312 120 312.2 108.6 312.3 95.9 312.5 86.4 312.7 82.9 312.9 82.8 313.1 82.4 313.2 81.2 313.4 79.7 313.6 76.4 313.8 69.4 313.9 60.6 314.1 53.6 314.3 49.9 314.5 48 314.7 46.6 314.9 45.1 315.3 44.1 315.6 43.6 316 43.5 316.3 43.9 316.7 44.6 317 45.3 317.2 46.3 317.5 48.6 317.7 51.9 317.9 56.6 318.1 63.6 318.4 74.4 318.7 87.5 318.9 100 319.2 110.9 319.5 121.2 319.8 130.1 320.1 137.4 320.4 143.5 320.7 148.1 321 151 321.3 152.6 321.6 153.6 322 154.4 322.3 154.7 322.7 154.5 323.1 154.1 323.4 153.3 323.8 151.5 324.1 148.8 324.4 145.2 324.7 140.5 325 134.9 325.2 128.2 325.4 120 325.6 108.6 325.7 95.7 325.9 86.2 326.1 82.7 326.3 82.6 326.5 82.2 326.6 80.9 326.8 79.5 327 76.2 327.2 69.4 327.3 60.8 327.5 53.9 327.7 50.3 327.9 48.4 328.1 46.9 328.3 45.4 328.7 44.4 329 43.9 329.4 43.8 329.7 44.2 330.1 44.9 330.4 45.6 330.6 46.6 330.9 48.9 331.1 52.3 331.3 56.9 331.5 63.9 331.8 74.6 332.1 87.7 332.3 100 332.6 110.8 332.9 120.8 333.2 129.5 333.5 136.8 333.8 142.9 334.1 147.5 334.4 150.4 334.7 151.8 335 153 335.4 154.3 335.7 155.4 336.1 155.8 336.5 155.5 336.9 154.6 337.3 152.8 337.7 150.1 338.1 146.5 338.4 141.8 338.7 135.8 339 128.6 339.2 120 339.4 108.3 339.6 95.2 339.8 85.4 340.1 81.9 340.3 81.8 340.5 81.4 340.7 80 340.9 78.4 341.1 75.4 341.3 69.8 341.5 62.8 341.7 57.1 341.9 53.8 342.1 51.7 342.3 50.1 342.7 48.6 343 47.6 343.4 47.1 343.8 47 344.3 47.4 344.7 48.1 345 48.8 345.3 49.8 345.6 52.1 345.9 55.6 346.1 60.4 346.4 67.1 346.7 76.8 347 88.5 347.3 100 347.6 110.9 347.9 121.5 348.3 130.8 348.6 138.2 349 144.2 349.4 148.8 349.7 151.7 350.1 153.3 350.5 154.3 350.9 154.8 351.3 154.8 351.7 154.4 352.1 154 352.5 153.2 352.9 151.4 353.3 148.7 353.7 145.1 354 140.4 354.3 134.5 354.6 127.6 354.8 120 355 111 355.2 101.4 355.4 94.3 355.7 91.4 355.9 90.9 356.1 90.3 356.3 89.3 356.5 88.1 356.7 84.3 356.9 75.3 357.1 63.8 357.3 54.8 357.5 50.7 357.7 49 357.9 47.8 358.3 46.4 358.6 45.4 359 44.8 359.4 44.8 359.9 45.1 360.3 45.8 360.6 46.5 360.9 47.6 361.2 49.8 361.5 53.3 361.7 57.9 362 64.8 362.3 75.3 362.6 88 362.9 100 363.2 110.7 363.5 120.7 363.9 129.4 364.2 136.8 364.6 142.8 365 147.4 365.3 150.3 365.7 151.8 366.1 152.9 366.5 154.2 366.9 155.1 367.3 155.4 367.7 155.1 368.1 154.2 368.5 152.4 368.9 149.7 369.3 146.1 369.6 141.4 369.9 135.1 370.1 127.7 370.4 120 370.6 111.4 370.8 102.4 371 95.7 371.2 93 371.4 92.5 371.6 91.7 371.8 90.9 372 89.9 372.2 85.7 372.4 75.5 372.6 62.1 372.8 51.7 373 47.3 373.2 45.8 373.4 44.7 373.7 43.3 374.1 42.3 374.5 41.7 374.9 41.7 375.3 42 375.7 42.7 376 43.4 376.3 44.5 376.6 46.7 376.9 50.1 377.1 54.6 377.4 61.7 377.7 73.1 378 87 378.3 100 378.6 111.2 378.9 121.5 379.2 130.4 379.6 137.8 379.9 143.8 380.3 148.4 380.7 151.4 381 153.1 381.4 153.9 381.8 153.8 382.2 152.8 382.6 151.7 383 151.1 383.5 150.3 383.9 148.7 384.3 145.9 384.7 142.2 385 137.7 385.3 132.7 385.6 126.9 385.8 120 386.1 110.7 386.3 100.4 386.5 92.6 386.7 89.6 386.9 89.2 387.1 88.6 387.4 87.6 387.6 86.4 387.8 82.6 388 73.8 388.2 62.4 388.4 53.4 388.6 49.3 388.8 47.7 389.1 46.4 389.4 45 389.8 44 390.2 43.4 390.6 43.4 391.1 43.7 391.5 44.4 391.9 45.1 392.2 46.2 392.5 48.4 392.8 51.8 393 56.4 393.3 63.4 393.6 74.4 393.9 87.7 394.3 100 394.6 110 394.9 118.8 395.2 126.7 395.6 133.8 396 140 396.4 144.7 396.7 147.6 397.1 149.1 397.5 150.2 397.9 151.2 398.4 151.8 398.8 151.9 399.2 151.6 399.7 150.7 400.1 148.9 400.5 146.1 400.9 142.4 401.3 137.9 401.6 133.2 401.9 127.7 402.1 120 402.4 107.7 402.6 93.3 402.8 82.5 403 78.8 403.2 78.8 403.4 78.5 403.7 77.1 403.9 75.5 404.1 72.5 404.3 67 404.6 60 404.8 54.4 405 51 405.2 49 405.4 47.4 405.8 45.9 406.2 44.9 406.6 44.4 407 44.3 407.5 44.7 407.9 45.4 408.3 46.1 408.6 47.1 408.9 49.4 409.2 52.8 409.5 57.4 409.8 64.4 410.1 75 410.4 88 410.8 100 411.1 109.9 411.4 118.9 411.7 126.9 412.1 134 412.5 140.2 412.9 144.9 413.3 147.7 413.7 149.1 414.1 150.4 414.5 152.3 415 154.1 415.4 155 415.8 154.9 416.2 153.9 416.6 152 417 149.3 417.4 145.7 417.7 141 418 135.1 418.3 128 418.5 120 418.7 109.7 418.9 98.4 419.1 90 419.4 86.8 419.6 86.5 419.8 86 420 84.8 420.2 83.3 420.4 80 420.6 73.3 420.8 64.8 421 57.9 421.2 54.3 421.4 52.4 421.6 50.9 422 49.5 422.3 48.5 422.7 47.9 423.1 47.9 423.6 48.2 424 48.9 424.3 49.6 424.6 50.7 424.9 52.9 425.2 56.5 425.4 61.3 425.7 67.9 426 77.4 426.3 88.8 426.6 100 426.9 110.6 427.2 121 427.6 130 427.9 137.4 428.3 143.4 428.7 148 429 150.9 429.4 152.3 429.8 153.5 430.2 154.8 430.6 155.9 431 156.3 431.4 156 431.8 155.1 432.2 153.3 432.6 150.6 433 147 433.3 142.3 433.6 135.9 433.8 128.3 434.1 120 434.3 110.1 434.5 99.6 434.7 91.7 434.9 88.7 435.1 88.3 435.3 87.7 435.5 86.8 435.7 85.6 435.9 81.7 436.1 72.8 436.3 61.2 436.5 52.1 436.7 47.9 436.9 46.3 437.1 45.1 437.4 43.6 437.8 42.6 438.2 42.1 438.6 42 439 42.4 439.4 43.1 439.7 43.8 440 44.8 440.3 47.1 440.6 50.4 440.8 55 441.1 62.1 441.4 73.3 441.7 87 442 100 442.3 111.4 442.6 122.1 442.9 131.3 443.3 138.7 443.6 144.7 444 149.3 444.4 152.2 444.7 153.8 445.1 154.8 445.5 155.2 445.9 155 446.3 154.6 446.7 154.1 447.1 153.3 447.4 151.6 447.8 148.8 448.1 145.2 448.4 140.6 448.7 134.8 448.9 128 449.1 120 449.3 109.3 449.5 97.3 449.7 88.4 449.8 85.1 450 84.8 450.2 84.4 450.4 83.2 450.6 81.7 450.8 78.4 451 71.4 451.2 62.6 451.3 55.5 451.5 51.9 451.7 50 451.9 48.5 452.2 47.1 452.5 46.1 452.9 45.5 453.3 45.5 453.6 45.8 454 46.5 454.3 47.2 454.6 48.3 454.8 50.5 455.1 54 455.3 58.7 455.5 65.5 455.8 75.8 456.1 88.2 456.4 100 456.7 110.6 456.9 120.7 457.2 129.6 457.5 136.9 457.9 142.9 458.2 147.6 458.5 150.4 458.8 151.9 459.2 153.1 459.5 154.5 459.9 155.6 460.3 156 460.7 155.8 461.1 154.9 461.4 153 461.8 150.4 462.1 146.8 462.4 142 462.7 135.9 462.9 128.4 463.1 120 463.3 109.2 463.5 97.4 463.7 88.6 463.9 85.4 464.1 85.1 464.3 84.6 464.5 83.2 464.7 81.6 464.8 78.6 465 73 465.2 66 465.4 60.3 465.6 57 465.8 54.9 466 53.3 466.3 51.8 466.6 50.8 467 50.3 467.4 50.2 467.7 50.6 468.1 51.3 468.4 52 468.7 53 469 55.3 469.2 58.9 469.4 63.8 469.7 70.3 469.9 79 470.2 89.5 470.5 100 470.8 110.7 471.1 121.6 471.4 131 471.7 138.5 472 144.4 472.4 149 472.7 152 473 153.5 473.4 154.5 473.7 155.2 474.1 155.3 474.5 155 474.9 154.5 475.3 153.7 475.7 152 476.1 149.3 476.4 145.7 476.7 141 477 135 477.2 127.9 477.5 120 477.7 110.2 477.9 99.7 478.1 91.8 478.2 88.8 478.4 88.4 478.6 87.8 478.8 87 479 85.9 479.2 81.8 479.4 71.8 479.6 58.9 479.8 48.8 480 44.4 480.2 42.9 480.4 41.8 480.7 40.3 481.1 39.3 481.5 38.8 481.9 38.7 482.3 39.1 482.6 39.8 483 40.5 483.3 41.5 483.5 43.8 483.8 47 484 51.4 484.3 58.8 484.6 71 484.9 86.1 485.2 100 485.4 111.3 485.7 121.3 486 130 486.4 137.3 486.7 143.4 487.1 148 487.4 150.9 487.8 152.4 488.1 153.5 488.5 154.4 488.9 154.9 489.3 154.9 489.7 154.5 490.1 153.6 490.5 151.9 490.9 149.2 491.2 145.6 491.5 140.9 491.8 134.9 492 127.7 492.3 120 492.5 110.8 492.7 100.9 492.9 93.5 493 90.6 493.2 90.2 493.4 89.5 493.6 88.3 493.8 86.8 494 83.5 494.2 76.6 494.4 67.9 494.6 60.9 494.8 57.3 495 55.4 495.2 53.9 495.5 52.5 495.9 51.5 496.3 50.9 496.7 50.8 497.1 51.2 497.4 51.9 497.8 52.6 498.1 53.7 498.3 55.9 498.6 59.6 498.8 64.5 499.1 70.9 499.4 79.5 499.7 89.7 500 100 500.2 110.3 500.5 120.8 500.8 129.9 501.2 137.2 501.5 143.2 501.9 147.9 502.2 150.9 502.6 152.5 502.9 153.4 503.3 153.7 503.7 153.3 504.1 152.7 504.5 152.2 504.9 151.4 505.3 149.7 505.7 146.9 506.1 143.2 506.4 138.7 506.7 133.4 506.9 127.3 507.2 120 507.4 110.3 507.6 99.5 507.8 91.4 508 88.3 508.2 87.9 508.4 87.4 508.6 86.3 508.8 85.1 509 81.4 509.2 72.8 509.4 61.7 509.6 53 509.8 49 510 47.3 510.3 46 510.6 44.6 511 43.6 511.3 43 511.7 42.9 512.2 43.3 512.6 44 512.9 44.7 513.2 45.8 513.5 48 513.8 51.4 514 56 514.3 63 514.6 74.1 514.9 87.5 515.2 100 515.5 110.3 515.8 119.5 516.1 127.7 516.5 134.9 516.8 141 517.2 145.7 517.5 148.7 517.9 150.2 518.3 151.2 518.7 151.7 519.1 151.6 519.5 151.1 519.9 150.6 520.3 149.8 520.7 148.1 521.1 145.3 521.4 141.6 521.7 137.1 522 132.6 522.3 127.3 522.5 120 522.7 108.3 522.9 94.6 523.1 84.4 523.3 80.7 523.5 80.7 523.7 80.4 523.9 79 524.1 77.5 524.3 74.4 524.5 68.1 524.7 60.3 524.9 54 525 50.5 525.2 48.5 525.5 47 525.8 45.6 526.1 44.6 526.5 44 526.9 43.9 527.3 44.3 527.7 45 528 45.7 528.3 46.7 528.6 49 528.8 52.4 529.1 57 529.3 64 529.6 74.8 529.9 88 530.2 100 530.5 109.7 530.8 118.4 531.1 126.1 531.5 133.2 531.8 139.4 532.2 144.1 532.5 147 532.8 148.5 533.2 149.6 533.6 150.8 534 151.5 534.4 151.7 534.8 151.4 535.1 150.5 535.5 148.7 535.8 145.9 536.1 142.2 536.4 137.7 536.7 132.7 536.9 126.9 537.1 120 537.3 110.8 537.4 100.5 537.6 92.8 537.8 89.8 538 89.4 538.2 88.8 538.3 87.9 538.5 86.9 538.7 82.8 538.9 72.5 539 59.1 539.2 48.8 539.4 44.3 539.6 42.8 539.8 41.8 540 40.3 540.4 39.3 540.7 38.8 541.1 38.7 541.4 39.1 541.8 39.8 542.1 40.5 542.3 41.5 542.6 43.8 542.8 47 543 51.4 543.2 58.8 543.5 71.1 543.8 86.4 544 100 544.3 110.3 544.6 119 544.9 126.7 545.2 133.8 545.5 140 545.8 144.7 546.1 147.6 546.4 149.1 546.7 150.2 547.1 151.2 547.4 151.7 547.8 151.8 548.2 151.4 548.5 150.5 548.9 148.8 549.2 146 549.5 142.2 549.8 137.8 550.1 132.9 550.3 127.3 550.5 120 550.7 109.2 550.9 96.7 551 87.5 551.2 84.1 551.4 83.9 551.6 83.5 551.8 82.4 551.9 81 552.1 77.5 552.3 69.5 552.5 59.3 552.7 51.2 552.8 47.3 553 45.5 553.2 44.2 553.5 42.8 553.8 41.8 554.1 41.2 554.5 41.1 554.9 41.5 555.2 42.2 555.5 42.9 555.8 44 556 46.2 556.3 49.5 556.5 54.1 556.7 61.2 557 72.8 557.2 87.1 557.5 100 557.8 110.1 558 118.9 558.3 126.8 558.6 133.9 559 140 559.3 144.8 559.6 147.5 559.9 148.9 560.2 150.3 560.6 152.6 560.9 154.9 561.3 156.2 561.7 156.2 562.1 155.2 562.5 153.2 562.9 150.6 563.2 147 563.5 142.2 563.8 136 564.1 128.5 564.3 120 564.5 109.1 564.7 97.2 564.9 88.3 565.1 85 565.3 84.7 565.5 84.3 565.7 83.3 565.9 82.1 566.1 78.3 566.3 69.4 566.5 58 566.7 49 566.9 44.9 567.1 43.3 567.3 42 567.6 40.6 568 39.6 568.3 39 568.7 39 569.2 39.3 569.5 40 569.9 40.8 570.2 41.8 570.4 44 570.7 47.3 570.9 51.7 571.2 59 571.5 71.1 571.8 86.1 572.1 100 572.4 111.6 572.7 122.2 573 131.2 573.3 138.7 573.7 144.6 574 149.2 574.4 152.2 574.7 153.8 575.1 154.7 575.5 155.4 575.9 155.5 576.3 154.3 576.7 152.3 577.2 149.1 577.7 143 578.3 131.5 578.9 117 579.5 105 580 97.9 580.4 93.3 580.8 90 581.2 88.7 581.7 88.6 582.2 86 582.8 78.7 583.4 69 584 60 584.7 52.1 585.3 45 586 40 586.7 38.3 587.4 38.8 588 40 588.5 40 588.9 40.6 589.3 46 589.6 61.3 589.8 81.4 590 95 590.2 94.4 590.4 87.3 590.6 85 590.9 95 591.2 109.8 591.5 118 591.8 112.9 592.2 101.2 592.5 92 592.8 89 593.1 88.4 593.5 88 594.2 88.3 595.1 88.7 596 86 596.7 77.3 597.4 65.4 598 55 598.7 46.9 599.3 40.3 600 38 600.7 41 601.4 48.4 602 60 602.4 78.2 602.7 100.7 603 120 603.4 134.4 603.8 145.6 604.2 152 604.6 152.3 605 147.7 605.5 140 606 127.7 606.5 112.3 607 100 607.5 93.6 608 90.3 608.5 88 609.1 87.5 609.8 88 610.5 85 611.2 74.9 611.8 61.2 612.5 50 613.2 43.4 613.9 39.3 614.5 37 615.1 32.7 615.7 30.3 616.2 40 616.7 74.2 617.1 120.6 617.6 153 618.2 159 618.9 151 619.5 140 620 127.6 620.5 112.3 621 100 621.5 93.6 622 90.3 622.5 88 623.1 87.6 623.8 88.2 624.5 85 625.2 74.3 625.8 59.8 626.5 48 627.2 41.3 627.8 37.3 628.5 35 629.2 30.7 629.9 28.2 630.5 38 631 72.4 631.4 119.2 631.9 152 632.4 158.4 633 150.7 633.5 140 634 127.7 634.5 112.3 635 100 635.5 93.6 636 90.4 636.5 88 637 87.7 637.5 88.3 638 84 638.6 68.7 639.4 48.6 640 36.4 640.5 36.2 641 43.9 641.5 60 641.9 92.4 642.3 133.3 642.8 159.8 643.3 159.9 643.9 145.7 644.5 130 645.1 115.3 645.6 99.2 646.3 87.6 647.2 85.3 648.2 87.4 649.1 85.3 649.9 73.7 650.7 57.9 651.5 45 652.3 37.2 653 32.4 653.7 30.7 654.2 29.7 654.5 31.9 655 45 655.6 80.8 656.4 127.5 657.1 157.5 657.8 155.9 658.4 137.6 659 120 659.5 108 660 96.7 660.5 88.7 661 87.6 661.6 89.8 662.2 86.5 662.9 71 663.7 50 664.5 35.2 665.2 28.5 665.9 28.1 666.7 40 667.7 76 668.7 124.3 669.6 155.8 670.3 154.9 670.9 137.1 671.5 120 672 108.5 672.5 97.6 673 89.8 673.3 86.9 673.6 87.1 674.1 87.6 674.9 86.1 676 85 677 88.7 678 103.1 679 122.4 679.8 133 680.4 126.9 681 112.3 681.5 100 682 94.3 682.6 91.1 683.2 88.7 683.8 86.9 684.5 86 685.5 85.3 687 85.2 688.7 85.5 690 84.2 690.6 79 690.9 72.3 691.2 70 691.6 76.8 692.1 88.1 692.6 95.5 693.1 94.9 693.6 90.4 694.6 86.4 696.3 86.1 698.4 86.3 700.3 81.9 701.6 68 702.7 49.5 703.7 36.4 704.7 33.5 705.7 35.9 706.5 38.7 707 40.3 707.4 42.3 708.3 44.3 710.1 44.8 712.3 45.3 714 50 714.6 61.3 714.7 76.7 715 93 716 111.5 717.4 130.9 718.5 144.5 719.1 148.7 719.5 147 720.2 144 721.4 141.6 722.8 137.7 724.2 130.8 725.3 117.8 726.4 101.8 727.6 89.8 729.1 87.3 730.7 88.9 732.2 85.3 733.4 69.5 734.5 48.6 735.6 34.7 736.8 34.4 737.9 41.1 739 47.8 739.9 52.8 740.6 57.7 741.3 60.3 742.1 58.5 742.8 54.5 743.5 52.3 743.9 51.2 744.2 52 744.7 61.4 745.6 87.6 746.6 122.2 747.5 147.3 748.1 155.6 748.6 154.2 749.2 146.6 749.8 129.9 750.4 106.9 751.5 89.8 753.6 85.9 756.2 87.9 758.3 85.3 759.4 71.2 760 52.5 760.6 39.8 761.3 38.8 762.1 43.7 762.9 47.8 763.9 44.9 765 41.2 766.3 48.9 767.7 82 769.3 126.4 770.8 152.4 772.3 141.7 773.7 112.6 774.8 89.8 775.5 85.3 775.9 87.1 776.5 84.2 777.6 69.3 778.9 49.6 780 35.8 780.8 29.3 781.4 28.6 782 40 782.6 76 783.1 124 783.9 152.4 785.1 141.9 786.4 111.8 787.9 88.7 789.4 85.7 791 89.7 792.5 88.1 794.1 72.8 795.7 51.9 797 37 797.9 29.9 798.5 28.7 799.2 40 800 74.2 800.8 120.8 801.5 154.7 801.9 163.7 802.2 160.1 802.5 155.2 802.8 152.9 803.1 149.3 803.4 144.2 803.6 137.2 803.8 128.7 804 120 804.2 110.5 804.3 100.7 804.5 93.4 804.7 90.4 804.8 90 805 89.4 805.2 88.3 805.3 87.1 805.5 83.4 805.7 74.8 805.8 63.7 806 55 806.2 50.9 806.3 49.3 806.5 48 806.8 46.6 807.1 45.6 807.4 45 807.7 44.9 808.1 45.3 808.4 46 808.6 46.7 808.9 47.8 809.1 50 809.3 53.5 809.5 58.1 809.8 65 810 75.3 810.2 87.7 810.5 100 810.7 111.8 811 123.3 811.2 133.2 811.5 140.8 811.8 146.7 812.1 151.2 812.4 154.2 812.7 155.9 813 156.7 813.3 156.4 813.7 155.2 814 153.9 814.4 153.3 814.7 152.6 815 150.9 815.4 148.2 815.7 144.6 816 139.9 816.2 134.4 816.4 127.9 816.6 120 816.8 109 817 96.6 817.1 87.3 817.3 83.9 817.5 83.7 817.7 83.3 817.8 82.2 818 80.9 818.2 77.3 818.4 69.2 818.5 58.8 818.7 50.6 818.9 46.6 819 44.9 819.2 43.6 819.5 42.1 819.8 41.1 820.2 40.6 820.5 40.5 820.9 40.9 821.2 41.6 821.5 42.3 821.7 43.3 822 45.6 822.2 48.8 822.4 53.4 822.6 60.6 822.9 72.3 823.2 86.7 823.4 100 823.7 110.8 823.9 120.5 824.2 128.9 824.5 136.2 824.8 142.3 825.1 146.9 825.4 149.7 825.7 151.1 826.1 152.4 826.4 154.7 826.7 156.9 827.1 158.2 827.5 158.1 827.9 157.1 828.2 155.2 828.6 152.6 828.9 149.1 829.2 144.2 829.5 137.5 829.7 129.4 830 120 830.2 107.9 830.3 94.6 830.5 84.8 830.7 81.2 830.9 81.1 831.1 80.8 831.3 79.4 831.5 77.8 831.7 74.8 831.9 69.2 832.1 62.2 832.2 56.5 832.4 53.2 832.6 51.2 832.8 49.5 833.1 48.1 833.5 47.1 833.8 46.5 834.2 46.5 834.6 46.8 835 47.5 835.3 48.2 835.6 49.3 835.8 51.5 836.1 55 836.3 59.8 836.5 66.5 836.8 76.3 837.1 88.2 837.4 100 837.7 111.6 838 123.3 838.3 133.2 838.6 140.8 838.9 146.7 839.3 151.2 839.6 154.3 839.9 156 840.3 156.7 840.6 156.2 841 154.7 841.4 153.2 841.8 152.5 842.1 151.8 842.4 150.2 842.8 147.5 843.1 143.8 843.4 139.2 843.6 134 843.8 127.8 844 120 844.2 108.6 844.4 95.5 844.5 85.8 844.7 82.3 844.9 82.2 845 81.8 845.2 80.7 845.4 79.4 845.6 75.8 845.7 67.5 845.9 56.9 846.1 48.6 846.2 44.6 846.4 42.8 846.6 41.6 846.9 40.1 847.2 39.1 847.5 38.6 847.9 38.5 848.2 38.8 848.5 39.6 848.8 40.3 849.1 41.3 849.3 43.6 849.6 46.8 849.8 51.2 850 58.6 850.2 70.9 850.5 86.2 850.8 100 851 110.8 851.3 120.1 851.5 128.2 851.8 135.5 852.1 141.5 852.4 146.2 852.7 149.1 853 150.5 853.4 151.7 853.7 153.3 854.1 154.7 854.4 155.4 854.7 155.2 855.1 154.2 855.4 152.4 855.7 149.7 856 146.1 856.2 141.4 856.5 135.5 856.7 128.4 856.8 120 857 108.5 857.2 95.7 857.3 86.2 857.5 82.7 857.7 82.5 857.8 82.2 858 81 858.1 79.5 858.3 76.2 858.5 69 858.6 59.8 858.8 52.5 858.9 48.8 859.1 46.9 859.3 45.5 859.5 44 859.8 43 860.1 42.5 860.5 42.4 860.8 42.8 861.1 43.5 861.4 44.2 861.6 45.2 861.8 47.5 862 50.8 862.2 55.4 862.5 62.5 862.7 73.6 862.9 87.2 863.2 100 863.4 111.1 863.7 121.4 863.9 130.4 864.2 137.8 864.5 143.8 864.8 148.4 865.1 151.4 865.3 153.1 865.6 153.9 865.9 153.9 866.3 153 866.6 152 866.9 151.4 867.3 150.7 867.6 149 868 146.2 868.3 142.5 868.5 138 868.8 133.1 869 127.3 869.2 120 869.4 109.2 869.5 96.7 869.7 87.4 869.9 84.1 870 83.9 870.2 83.4 870.4 82.4 870.6 81 870.7 77.4 870.9 69.3 871.1 58.9 871.2 50.6 871.4 46.7 871.6 44.9 871.8 43.6 872 42.2 872.3 41.2 872.7 40.6 873 40.5 873.4 40.9 873.7 41.6 874 42.3 874.2 43.3 874.5 45.6 874.7 48.9 874.9 53.4 875.1 60.6 875.4 72.4 875.6 86.9 875.9 100 876.1 110.3 876.4 119.1 876.7 127 877 134.2 877.3 140.3 877.6 145 877.9 147.8 878.2 149.2 878.5 150.5 878.8 152.7 879.2 154.8 879.5 156 879.8 155.9 880.2 154.9 880.5 153 880.9 150.3 881.2 146.7 881.4 142 881.7 135.7 881.9 128.2 882.1 120 882.3 110 882.4 99.3 882.6 91.3 882.8 88.2 882.9 87.9 883.1 87.3 883.3 86.1 883.5 84.8 883.6 81.3 883.8 73.8 884 64.1 884.1 56.5 884.3 52.7 884.5 50.9 884.7 49.5 884.9 48 885.2 47 885.6 46.5 885.9 46.4 886.3 46.8 886.6 47.5 886.9 48.2 887.1 49.2 887.4 51.5 887.6 55 887.8 59.7 888 66.5 888.3 76.4 888.5 88.3 888.8 100 889 111 889.3 121.7 889.6 131 889.9 138.4 890.2 144.4 890.5 149 890.8 151.9 891.1 153.4 891.4 154.5 891.7 155.3 892.1 155.7 892.4 155.6 892.7 155.2 893.1 154.4 893.4 152.6 893.7 149.9 894 146.4 894.2 141.6 894.5 135.5 894.7 128.1 894.8 120 895 110 895.2 99.2 895.3 91.1 895.5 88 895.7 87.7 895.8 87.1 896 86.1 896.1 84.8 896.3 81.1 896.5 72.5 896.6 61.5 896.8 52.8 896.9 48.7 897.1 47 897.3 45.8 897.5 44.3 897.8 43.3 898.1 42.8 898.5 42.7 898.8 43.1 899.1 43.8 899.4 44.5 899.6 45.5 899.8 47.8 900 51.2 900.2 55.7 900.5 62.8 900.7 73.8 900.9 87.3 901.2 100 901.4 111.2 901.7 121.6 901.9 130.6 902.2 138 902.5 144 902.8 148.6 903.1 151.6 903.3 153.3 903.6 154.1 903.9 154.1 904.3 153.3 904.6 152.4 904.9 151.8 905.3 151 905.6 149.4 905.9 146.6 906.2 142.9 906.4 138.4 906.7 133.1 906.9 127.1 907 120 907.2 110.6 907.4 100.2 907.5 92.4 907.7 89.3 907.9 89 908 88.4 908.2 87.3 908.3 85.9 908.5 82.4 908.7 74.3 908.8 64 909 55.9 909.1 52 909.3 50.2 909.5 48.9 909.7 47.5 910 46.5 910.3 45.9 910.7 45.8 911 46.2 911.3 46.9 911.6 47.6 911.8 48.6 912 50.9 912.2 54.4 912.4 59.1 912.7 65.9 912.9 76.1 913.1 88.4 913.4 100 913.6 110 913.9 119.2 914.1 127.4 914.4 134.5 914.7 140.7 915 145.4 915.3 148.1 915.5 149.4 915.8 150.9 916.1 153.5 916.5 156.4 916.8 158.1 917.1 158.2 917.5 157.1 917.8 155.1 918.1 152.5 918.4 149.1 918.7 144.1 918.9 137.4 919.1 129.1 919.3 120 919.5 108.8 919.6 96.7 919.8 87.7 919.9 84.4 920.1 84.1 920.3 83.7 920.4 82.5 920.6 81 920.8 77.7 920.9 70.7 921.1 61.9 921.3 54.8 921.4 51.1 921.6 49.2 921.8 47.8 922 46.3 922.3 45.3 922.6 44.8 923 44.7 923.3 45.1 923.6 45.8 923.9 46.5 924.1 47.5 924.4 49.8 924.6 53.2 924.8 57.9 925 64.8 925.2 75.1 925.5 87.7 925.7 100 926 111.8 926.2 123.3 926.5 133.1 926.8 140.7 927 146.6 927.3 151.1 927.6 154.2 927.9 155.8 928.2 156.6 928.5 156.6 928.9 155.8 929.2 154.8 929.6 154.2 929.9 153.4 930.3 151.8 930.6 149.1 930.9 145.5 931.2 140.8 931.5 134.9 931.7 127.9 931.9 120 932.1 109.9 932.2 98.8 932.4 90.6 932.6 87.5 932.8 87.2 933 86.6 933.1 85.8 933.3 84.7 933.5 80.6 933.7 70.5 933.8 57.4 934 47.1 934.2 42.7 934.4 41.2 934.6 40.1 934.8 38.7 935.2 37.7 935.5 37.1 935.9 37.1 936.2 37.4 936.6 38.1 936.9 38.8 937.1 39.9 937.4 42.1 937.6 45.3 937.8 49.7 938 57.1 938.3 69.8 938.6 85.6 938.8 100 939.1 111.3 939.4 121.2 939.7 129.8 940 137.1 940.3 143.2 940.6 147.8 940.9 150.8 941.2 152.4 941.5 153.3 941.9 153.6 942.2 153.1 942.6 152.4 943 151.9 943.4 151.1 943.8 149.4 944.2 146.6 944.5 142.9 944.9 138.4 945.1 133.4 945.4 127.6 945.6 120 945.8 108.6 946 95.3 946.2 85.5 946.4 82 946.6 81.9 946.8 81.5 947 80.5 947.2 79.3 947.4 75.5 947.6 66.8 947.8 55.6 948 46.7 948.2 42.6 948.4 41 948.6 39.7 948.9 38.3 949.3 37.3 949.6 36.7 950 36.7 950.5 37 950.9 37.7 951.2 38.4 951.5 39.5 951.8 41.7 952 44.9 952.2 49.2 952.5 56.7 952.8 69.7 953.1 85.7 953.4 100 953.7 110.7 954 119.6 954.3 127.4 954.6 134.6 955 140.7 955.4 145.4 955.7 148.3 956 149.8 956.4 150.9 956.8 152.1 957.2 152.9 957.6 153.1 958 152.8 958.4 151.9 958.8 150.1 959.2 147.4 959.6 143.7 959.9 139.1 960.2 134 960.5 128 960.7 120 960.9 108 961.1 94 961.3 83.6 961.5 80 961.7 79.9 961.9 79.6 962.1 78.4 962.4 77 962.6 73.6 962.8 66.4 963 57.1 963.2 49.7 963.4 46 963.6 44.2 963.8 42.7 964.1 41.3 964.5 40.3 964.9 39.7 965.3 39.7 965.7 40 966.1 40.7 966.5 41.4 966.8 42.5 967.1 44.7 967.3 48 967.6 52.5 967.8 59.7 968.1 71.7 968.4 86.5 968.8 100 969.1 110.7 969.4 120 969.7 128.1 970 135.3 970.4 141.4 970.8 146.1 971.1 149.1 971.5 150.6 971.9 151.6 972.3 152.6 972.7 153 973.1 152 973.5 149.6 973.9 145.8 974.3 140 974.5 130.9 974.7 119.8 975 110 975.5 102.6 976 96.4 976.5 92 976.9 89.8 977.3 89.2 977.6 89" fill="none" stroke="#88b98c" stroke-width="2.2" stroke-linejoin="round"/>
<line x1="125.2" y1="190.5" x2="125.2" y2="363" stroke="#555" stroke-width="1.3"/>
<line x1="106.3" y1="206.2" x2="125.2" y2="206.2" stroke="#555" stroke-width="1.3"/>
<text x="102.3" y="211.4" text-anchor="end">100</text>
<line x1="106.3" y1="233.6" x2="125.2" y2="233.6" stroke="#555" stroke-width="1.3"/>
<text x="102.3" y="238.8" text-anchor="end">90</text>
<line x1="106.3" y1="261" x2="125.2" y2="261" stroke="#555" stroke-width="1.3"/>
<text x="102.3" y="266.2" text-anchor="end">80</text>
<line x1="106.3" y1="288.4" x2="125.2" y2="288.4" stroke="#555" stroke-width="1.3"/>
<text x="102.3" y="293.6" text-anchor="end">70</text>
<line x1="106.3" y1="315.8" x2="125.2" y2="315.8" stroke="#555" stroke-width="1.3"/>
<text x="102.3" y="321" text-anchor="end">60</text>
<line x1="106.3" y1="343.2" x2="125.2" y2="343.2" stroke="#555" stroke-width="1.3"/>
<text x="102.3" y="348.4" text-anchor="end">50</text>
<path d="M125.5 363 125.7 356.7 125.9 341.5 126.1 326.3 126.3 320 126.5 310.5 126.8 287.5 127 264.5 127.3 255 127.6 247.7 127.9 230 128.3 212.3 128.6 205 129.5 217.6 130.4 248 131.2 278.4 132.1 291 133.2 281 134.2 256.7 135.3 232.4 136.3 222.4 137.1 232.9 137.9 258.5 138.7 284.1 139.5 294.7 140.4 285.1 141.3 261.8 142.2 238.5 143 228.9 143.8 241.3 144.6 271.3 145.4 301.3 146.2 313.7 147.3 300.3 148.4 268.1 149.5 235.8 150.6 222.5 151.5 231.5 152.4 253.2 153.3 274.8 154.3 283.8 155.1 275.3 155.8 254.7 156.6 234 157.4 225.5 158.3 237.7 159.1 267.3 159.9 296.9 160.8 309.2 161.6 298 162.4 271.1 163.2 244.1 164 233 165.1 241.9 166.2 263.6 167.3 285.3 168.3 294.2 169.1 282.2 169.9 253.3 170.7 224.3 171.5 212.3 172.3 224 173.1 252.1 173.8 280.2 174.6 291.9 175.7 278.6 176.8 246.5 177.9 214.4 179 201.1 179.9 213 180.9 241.7 181.9 270.4 182.9 282.3 183.8 273.7 184.7 253 185.6 232.3 186.4 223.8 187.5 233.9 188.5 258.2 189.5 282.6 190.5 292.7 191.5 281.9 192.6 256 193.6 230.1 194.6 219.4 195.4 231.7 196.3 261.4 197.1 291.2 197.9 303.5 199 288.8 200.1 253.5 201.2 218.1 202.3 203.4 203.3 218.2 204.4 254 205.4 289.7 206.4 304.5 207.4 292.7 208.4 264.2 209.5 235.8 210.5 224 211.4 233.4 212.3 256 213.3 278.7 214.2 288.1 215 279.6 215.7 259.1 216.5 238.6 217.2 230.1 218.1 237.9 218.9 256.8 219.8 275.7 220.6 283.5 221.6 271 222.6 240.8 223.6 210.6 224.6 198.1 225.5 213.7 226.4 251.6 227.3 289.4 228.2 305.1 229.3 289 230.4 250.3 231.5 211.7 232.6 195.6 233.5 207.7 234.4 236.8 235.2 265.9 236.1 278 236.9 269.7 237.8 249.7 238.6 229.7 239.4 221.4 240.3 232.5 241.1 259.3 241.9 286.1 242.7 297.2 243.8 284.1 244.8 252.6 245.9 221.1 247 208 247.9 222.1 248.8 256.1 249.7 290.1 250.6 304.2 251.7 293.9 252.7 269.1 253.7 244.3 254.8 234 255.7 245.6 256.7 273.7 257.7 301.8 258.7 313.5 259.7 298.7 260.7 263.1 261.8 227.5 262.8 212.7 263.7 223.6 264.6 249.9 265.5 276.2 266.5 287.1 267.5 278.2 268.5 256.6 269.5 235 270.6 226.1 271.6 239.2 272.6 270.9 273.7 302.6 274.7 315.7 275.6 302.2 276.5 269.8 277.3 237.3 278.2 223.9 279.3 236.1 280.4 265.8 281.5 295.4 282.6 307.6 283.4 297 284.2 271.3 285 245.6 285.8 235 286.6 247 287.4 276.2 288.2 305.4 289 317.4 290 305.9 291.1 277.9 292.1 250 293.1 238.4 294.2 250.9 295.2 281.1 296.3 311.3 297.3 323.8 298.3 310.5 299.3 278.3 300.2 246.2 301.2 232.8 302.2 240.9 303.1 260.2 304 279.6 305 287.6 305.7 275.1 306.5 244.9 307.3 214.7 308 202.2 309 215.4 310 247 310.9 278.7 311.9 291.8 313 280.6 314.1 253.4 315.1 226.2 316.2 214.9 317.3 227.8 318.3 258.9 319.4 290 320.4 302.9 321.3 290.9 322.1 262.1 322.9 233.4 323.7 221.4 324.6 230.4 325.4 252 326.3 273.7 327.1 282.6 328.1 273.8 329.1 252.4 330 231 331 222.2 331.9 230.6 332.8 250.9 333.7 271.2 334.6 279.6 335.6 270.9 336.7 249.8 337.8 228.6 338.8 219.9 339.7 231.1 340.7 258.1 341.6 285.1 342.5 296.3 343.5 284.2 344.6 255.1 345.7 225.9 346.7 213.8 347.8 224 348.9 248.7 350 273.3 351 283.5 352 272.1 352.9 244.4 353.8 216.7 354.8 205.3 355.5 217.6 356.3 247.4 357 277.2 357.8 289.5 358.6 282.1 359.4 264.3 360.2 246.4 361 239 362.1 246.7 363.1 265.5 364.1 284.2 365.2 292 366.1 281 367 254.3 367.9 227.7 368.8 216.7 369.8 227.7 370.7 254.4 371.7 281 372.6 292.1 373.5 280.7 374.5 253.3 375.4 225.9 376.3 214.5 377.4 223.6 378.4 245.5 379.4 267.4 380.4 276.4 381.4 268 382.3 247.8 383.3 227.5 384.2 219.1 385.1 230.8 385.9 259 386.8 287.2 387.6 298.9 388.5 285.8 389.5 254.3 390.4 222.7 391.3 209.7 392.3 223.7 393.3 257.6 394.4 291.5 395.4 305.5 396.3 291.6 397.2 257.9 398.1 224.2 399 210.2 399.9 222.4 400.9 251.9 401.8 281.3 402.7 293.5 403.7 282.4 404.7 255.7 405.7 229 406.7 217.9 407.6 229.1 408.6 256.2 409.5 283.3 410.4 294.5 411.5 282.4 412.6 253 413.7 223.7 414.7 211.5 415.8 226.3 416.9 261.8 417.9 297.3 419 312 419.8 298 420.7 264.3 421.5 230.6 422.3 216.6 423.4 230.3 424.5 263.3 425.6 296.2 426.7 309.9 427.5 298.6 428.3 271.4 429 244.1 429.8 232.9 430.8 240.5 431.7 258.8 432.6 277.2 433.5 284.8 434.3 277.8 435.1 260.9 436 244.1 436.8 237.1 437.8 248.2 438.8 275 439.8 301.8 440.7 312.9 441.8 301.8 442.9 274.8 443.9 247.9 445 236.7 446 247.4 447 273.2 448 299.1 449 309.8 449.8 295.7 450.6 261.6 451.4 227.6 452.2 213.5 453.3 225.1 454.4 253 455.5 280.9 456.6 292.5 457.6 282.8 458.7 259.4 459.8 235.9 460.9 226.2 461.8 239.6 462.7 271.8 463.6 304 464.6 317.3 465.6 304.8 466.7 274.5 467.7 244.2 468.7 231.6 469.6 241.6 470.5 265.7 471.4 289.8 472.3 299.8 473.2 290.3 474.1 267.3 474.9 244.4 475.8 234.9 476.7 247.1 477.5 276.5 478.4 305.8 479.3 318 480 306.2 480.8 277.7 481.5 249.2 482.3 237.3 483.2 247.6 484.1 272.4 485 297.2 485.9 307.4 486.8 298.7 487.6 277.5 488.5 256.4 489.4 247.7 490.3 257.5 491.2 281.3 492.2 305.1 493.1 314.9 494.2 303.7 495.3 276.8 496.4 249.8 497.5 238.7 498.6 248 499.6 270.6 500.7 293.2 501.8 302.6 502.7 294.3 503.5 274.2 504.4 254.1 505.2 245.7 506.2 252.7 507.2 269.5 508.3 286.3 509.3 293.3 510.1 283 510.9 258.3 511.7 233.6 512.5 223.3 513.5 236 514.6 266.7 515.7 297.4 516.7 310.1 517.6 298.6 518.4 270.9 519.3 243.2 520.1 231.7 521.2 241.8 522.2 266.2 523.3 290.6 524.4 300.7 525.4 290.8 526.4 266.8 527.4 242.9 528.4 233 529.1 243.4 529.9 268.7 530.7 294 531.5 304.4 532.4 294 533.3 268.9 534.2 243.7 535 233.3 536.1 243.3 537.2 267.6 538.3 291.9 539.4 302 540.4 291.6 541.4 266.7 542.5 241.7 543.5 231.4 544.5 238.4 545.6 255.3 546.6 272.1 547.7 279.1 548.7 270.1 549.8 248.2 550.8 226.2 551.9 217.2 552.8 228.6 553.6 256.2 554.5 283.8 555.4 295.2 556.4 285.3 557.5 261.4 558.6 237.4 559.7 227.5 560.5 239.5 561.3 268.6 562 297.6 562.8 309.6 563.7 302 564.5 283.6 565.3 265.2 566.2 257.5 567 266.7 567.8 288.8 568.6 310.8 569.4 320 570.2 313.1 571 296.4 571.9 279.8 572.7 272.9 573.5 285 574.4 314.3 575.3 343.5 576.1 355.7 577 341.9 577.8 308.5 578.7 275.2 579.5 261.4 580.3 270.2 581.1 291.4 582 312.6 582.8 321.4 583.5 310 584.3 282.4 585 254.8 585.8 243.4 586.5 253.1 587.3 276.7 588.1 300.2 588.8 310 589.8 297.6 590.7 267.8 591.6 238 592.6 225.6 593.5 237.9 594.4 267.5 595.3 297.1 596.3 309.3 597 294.3 597.8 258.1 598.6 221.9 599.4 206.9 600.3 220.2 601.2 252.2 602.1 284.2 603 297.5 604 287 605.1 261.9 606.1 236.7 607.2 226.3 608.1 238.5 609 268 610 297.6 610.9 309.8 612 298.3 613.1 270.4 614.2 242.6 615.3 231 616.3 242.8 617.3 271.1 618.4 299.4 619.4 311.2 620.4 299 621.4 269.7 622.3 240.3 623.3 228.2 624.2 236.7 625.1 257.3 625.9 277.9 626.8 286.4 627.6 279.3 628.4 262.1 629.2 244.8 630 237.7 631 245.7 632 265.2 633 284.6 634 292.7 634.8 284.5 635.6 264.7 636.4 244.8 637.2 236.6 638.3 247.8 639.3 274.7 640.4 301.6 641.4 312.7 642.4 299.9 643.4 268.8 644.4 237.8 645.4 225 646.2 233.9 647 255.5 647.9 277.1 648.7 286 649.6 277.1 650.5 255.6 651.4 234.2 652.3 225.3 653.3 234.4 654.2 256.6 655.1 278.8 656 288 657.1 277.6 658.1 252.4 659.2 227.2 660.3 216.7 661.3 230.8 662.2 264.8 663.1 298.7 664.1 312.8 665.2 307.7 666.3 295.4 667.3 283.1 668.4 278 669.3 280.1 670.2 285.1 671.1 290.1 671.9 292.2 672.8 290.9 673.7 287.7 674.6 284.5 675.5 283.2 676.4 286.3 677.3 294 678.2 301.7 679.2 304.9 680.1 303.5 681 300.2 682 297 682.9 295.6 683.7 297.3 684.6 301.5 685.4 305.6 686.2 307.3 687.1 306.5 688 304.6 688.9 302.7 689.8 301.9 690.6 304.2 691.3 309.6 692.1 315.1 692.8 317.4 693.7 314.6 694.5 307.8 695.3 301.1 696.2 298.3 697.1 301.1 698 307.9 699 314.7 699.9 317.6 700.9 311.9 701.9 298.2 702.8 284.5 703.8 278.8 704.9 280.5 705.9 284.4 707 288.4 708.1 290 708.9 285.8 709.8 275.6 710.7 265.5 711.5 261.2 712.3 266.5 713.1 279.1 713.9 291.7 714.7 296.9 715.7 296.6 716.7 295.7 717.7 294.9 718.6 294.6 719.7 300.2 720.7 313.8 721.8 327.4 722.8 333.1 723.8 330.1 724.7 322.8 725.7 315.5 726.7 312.5 727.7 314.6 728.7 319.6 729.8 324.7 730.8 326.8 731.7 322.5 732.7 312.1 733.6 301.7 734.5 297.4 735.6 299.2 736.6 303.7 737.7 308.3 738.7 310.1 739.8 306.4 740.8 297.4 741.8 288.3 742.9 284.6 743.9 290.2 745 303.7 746.1 317.2 747.1 322.8 748.1 322.7 749.1 322.3 750.1 322 751.1 321.9 751.9 325.7 752.6 335 753.4 344.2 754.1 348 755 347.8 755.9 347.2 756.8 346.6 757.6 346.4 758.7 348.4 759.7 353.4 760.8 358.3 761.8 360.3 762.8 354.5 763.7 340.3 764.7 326.1 765.7 320.2 766.7 323.2 767.7 330.5 768.7 337.8 769.6 340.8 770.4 333.7 771.1 316.6 771.9 299.5 772.6 292.5 773.7 297.5 774.7 309.7 775.7 321.9 776.7 327 777.6 318.7 778.6 298.6 779.5 278.6 780.4 270.3 781.2 276.2 782 290.3 782.8 304.4 783.5 310.3 784.4 304.7 785.2 291 786 277.4 786.9 271.8 787.7 280.4 788.6 301.2 789.4 322 790.3 330.6 791.1 316 791.9 280.8 792.7 245.5 793.5 230.9 794.6 242 795.7 268.7 796.8 295.4 797.9 306.4 798.8 294 799.7 264.1 800.6 234.2 801.4 221.8 802.4 233.8 803.4 262.8 804.4 291.7 805.4 303.7 806.4 290 807.3 257.1 808.3 224.2 809.3 210.6 810 220.7 810.8 245 811.6 269.4 812.4 279.5 813.2 268.6 814.1 242.4 814.9 216.1 815.7 205.2 816.6 218.1 817.4 249.2 818.3 280.3 819.2 293.1 819.9 283.4 820.7 260 821.4 236.6 822.2 226.9 823 237.2 823.9 262.1 824.7 287 825.6 297.3 826.5 284.3 827.5 252.7 828.5 221.1 829.5 208.1 830.4 220.5 831.2 250.4 832.1 280.4 832.9 292.8 833.8 281.5 834.8 254.3 835.7 227.1 836.6 215.8 837.4 229.2 838.2 261.5 839 293.8 839.7 307.2 840.6 291.5 841.4 253.6 842.2 215.7 843 200 844.1 211.2 845.2 238.2 846.3 265.3 847.3 276.5 848.2 266.5 849.2 242.4 850.1 218.3 851 208.3 852.1 221.6 853.2 253.8 854.2 285.9 855.3 299.2 856.2 289.8 857 267 857.9 244.2 858.7 234.8 859.8 243.5 860.9 264.7 862 286 863 294.7 864 287.6 864.9 270.4 865.9 253.3 866.8 246.1 867.8 259.8 868.7 292.8 869.6 325.8 870.6 339.5 871.4 325.3 872.2 290.9 873 256.5 873.8 242.3 874.7 257.7 875.6 294.8 876.6 331.9 877.5 347.3 878.5 335 879.5 305.3 880.5 275.6 881.5 263.2 882.5 273 883.6 296.7 884.7 320.3 885.7 330.1 886.5 320.8 887.2 298.3 888 275.8 888.8 266.5 889.7 275 890.6 295.3 891.5 315.6 892.4 324.1 893.3 314.2 894.2 290.4 895 266.5 895.9 256.7 896.7 265.1 897.6 285.4 898.5 305.7 899.3 314.1 900.4 305.7 901.4 285.3 902.5 264.9 903.5 256.5 904.5 267.2 905.5 293.1 906.6 319 907.6 329.7 908.4 314.5 909.2 278 910 241.5 910.7 226.3 911.7 242.6 912.7 282 913.7 321.3 914.7 337.6 915.6 325.8 916.4 297.2 917.3 268.7 918.1 256.9 919 271.6 919.9 307.2 920.8 342.9 921.7 357.6 922.7 345.4 923.6 315.9 924.6 286.5 925.5 274.3 926.4 284.4 927.3 309 928.2 333.6 929.1 343.8 929.9 335.4 930.7 315.2 931.4 295 932.2 286.6 933.2 294.4 934.3 313.4 935.3 332.4 936.4 340.3 937.4 330.2 938.5 305.7 939.6 281.3 940.7 271.2 941.5 280.6 942.4 303.4 943.2 326.2 944 335.7 944.9 324.1 945.7 296.2 946.5 268.3 947.3 256.8 948.4 269.2 949.5 299.3 950.6 329.4 951.6 341.8 952.7 328.3 953.7 295.7 954.7 263.1 955.8 249.6 956.9 265.1 957.9 302.6 959 340 960.1 355.5 961 340.9 961.9 305.6 962.9 270.3 963.8 255.7 964.6 268.3 965.4 298.6 966.1 328.9 966.9 341.5 967.8 325.9 968.7 288.3 969.6 250.7 970.5 235.1 971.5 246.2 972.5 273 973.5 299.8 974.4 310.9 975.2 299.8 976 273.1 976.7 246.3 977.5 235.3 977.8 235.2 978 235.1 978.3 235 978.6 235" fill="none" stroke="#5b6f7e" stroke-width="2.0" stroke-linejoin="round"/>
<path d="M125.7 273.8 126.8 272.4 128.2 270.5 129.9 268.2 131.9 265.9 134 263.7 136.4 262 139 260.8 141.9 259.9 145 259.1 148.3 258.4 151.6 257.7 155 256.7 158.2 255.4 161.4 253.8 164.6 252.2 168 250.7 172 249.5 176.5 248.7 182 248.6 188.4 249.1 195.3 249.8 202.1 250.6 208.5 251.2 214 251.3 218.5 250.7 222.5 249.5 226 248.1 229.2 246.9 232.2 246 235.3 246 238.1 247 240.6 248.8 243 251 245.4 253.3 248.1 255.4 251.3 256.7 255.2 257.2 259.6 257.2 264.3 256.9 269.1 256.5 273.7 256.4 278 256.7 282 257.8 285.9 259.7 289.6 261.7 293.1 263.5 296.5 264.7 299.5 264.7 302 263.2 303.9 260.5 305.7 257 307.5 253.5 309.7 250.6 312.8 248.7 317 248.2 322.1 248.7 327.7 249.7 333.2 250.7 338.2 251.4 342.2 251.3 345.1 249.9 347.2 247.5 348.8 244.8 350.1 242.3 351.4 240.7 353 240.6 354.7 242.7 356.1 246.7 357.6 251.6 359.3 256.4 361.2 260.2 363.6 262 366.4 261.4 369.5 258.9 373 255.4 376.7 251.7 380.7 248.6 385 247 389.7 246.9 394.9 247.7 400.3 249.1 405.9 250.8 411.5 252.5 417 254 422.5 255.4 428.1 257.1 433.8 258.8 439.3 260.3 444.5 261.4 449.2 262 453.4 261.5 457.1 259.8 460.6 257.8 463.9 256.2 467.2 255.6 470.6 256.7 474.2 260.6 477.7 267 481.3 274.4 484.9 281.5 488.4 286.7 492 288.8 495.6 286.8 499.1 281.7 502.7 274.8 506.3 267.5 509.8 261 513.4 256.7 517 254.8 520.5 254.2 524.1 254.4 527.7 255.1 531.2 255.6 534.8 255.6 538.4 254.4 542 252.3 545.5 250 549.1 248.6 552.6 248.7 556 251.3 559.3 258.1 562.5 268.8 565.7 281.1 568.8 292.8 571.9 301.4 575 304.8 578.1 301.3 581.1 292.5 584.2 280.7 587.2 268.3 590.3 257.7 593.6 251.3 597 249.5 600.5 250.6 604.1 253.5 607.8 257 611.4 260.2 615 262 618.6 262.4 622.3 262.4 626 261.9 629.7 261.2 633.1 260.4 636.4 259.4 639.4 257.7 642.1 255.2 644.7 252.5 647.3 250.3 649.8 249.3 652.4 250.3 655.1 253.9 657.8 259.7 660.6 266.7 663.3 274.1 665.9 280.8 668.4 286 670.8 289.6 673.1 292.2 675.3 294.3 677.4 296 679.6 297.7 681.8 299.5 684 301.9 686.2 304.9 688.3 307.7 690.5 309.9 692.8 310.9 695.2 310.2 697.7 306.4 700.3 299.7 703 291.8 705.8 284.4 708.5 279.2 711.2 278 713.9 282.3 716.7 291.1 719.4 302.1 722.1 313.1 724.8 321.9 727.3 326.2 729.6 324.4 731.7 318.1 733.8 309.5 735.9 301 738.1 295.1 740.6 294.1 743.5 299.7 746.8 310.4 750.2 323.6 753.5 336.7 756.7 347.4 759.4 353 761.6 353 763.3 349.2 764.9 343 766.4 335.4 768 327.6 770 320.9 772.3 314.9 774.7 308.6 777.3 302.1 780.1 295.7 783 289.4 786 283.4 789.4 277.4 793.2 271.2 797.1 265.2 800.9 259.6 804.5 254.9 807.5 251.3 809.7 249.1 811.3 248.1 812.5 247.8 813.8 248.1 815.6 248.5 818.2 248.7 821.9 248.7 826.3 248.9 831.3 249.2 836.3 249.6 841 250.3 845 251.3 848.3 252.4 851.1 253.6 853.7 255 856.1 256.7 858.5 259 861 262 863.5 266.3 865.7 272.1 868 278.4 870.5 284.3 873.4 288.9 877 291.4 881.5 290.8 886.9 287.5 892.7 283.1 898.5 278.7 904.1 275.7 909 275.4 913.2 278.9 916.9 285.4 920.4 293.3 923.7 301.1 927 307.2 930.5 310.2 934.2 309.1 938.1 305.1 941.9 299.4 945.6 293.5 949 288.5 952 286 954.4 286.5 956.3 289.1 958 292.7 959.5 296.4 961 299 962.6 299.5 964.4 297.3 966.4 293 968.3 287.6 970.1 282.3 971.8 277.8 973.3 275.4 974.6 275.3 975.7 276.8 976.6 279.2 977.4 282 978.1 284.4 978.6 286" fill="none" stroke="#cf5a73" stroke-width="2.0" stroke-linejoin="round"/>
<line x1="183" y1="347.8" x2="238.3" y2="347.8" stroke="#dc7f96" stroke-width="2.2"/>
<text x="252.5" y="355.2" font-size="28">Whisking midpoint</text>
<rect x="125.5" y="408" width="853" height="90" fill="#fbf9ea"/>
<path d="M125.6 408h2.9V498h-2.9zM132.6 408h3.2V498h-3.2zM139.3 408h3.6V498h-3.6zM147.4 408h3.1V498h-3.1zM154.9 408h3.1V498h-3.1zM162.1 408h3.2V498h-3.2zM168.5 408h3V498h-3zM174.9 408h3.8V498h-3.8zM182 408h3V498h-3zM190 408h3.9V498h-3.9zM197 408h3V498h-3zM203.4 408h2.9V498h-2.9zM210.2 408h2.9V498h-2.9zM216.7 408h3.1V498h-3.1zM224 408h3.8V498h-3.8zM231.6 408h3.3V498h-3.3zM238.5 408h3.4V498h-3.4zM245.4 408h3.2V498h-3.2zM251.5 408h3.1V498h-3.1zM259.6 408h2.9V498h-2.9zM266.7 408h3.5V498h-3.5zM274.6 408h3V498h-3zM281.2 408h3.1V498h-3.1zM288.1 408h3.3V498h-3.3zM296.2 408h3.7V498h-3.7zM304.1 408h2.8V498h-2.8zM310.2 408h3.6V498h-3.6zM318.2 408h3.3V498h-3.3zM325.5 408h2.8V498h-2.8zM332.3 408h3.8V498h-3.8zM340.1 408h3.7V498h-3.7zM348.3 408h3.1V498h-3.1zM354.5 408h3V498h-3zM361.7 408h3.6V498h-3.6zM369.7 408h3.6V498h-3.6zM377.2 408h3.6V498h-3.6zM384.2 408h3.4V498h-3.4zM390.3 408h3.7V498h-3.7zM396.8 408h3.8V498h-3.8zM404.2 408h3.1V498h-3.1zM410.5 408h3.1V498h-3.1zM417.9 408h3.6V498h-3.6zM424.1 408h2.9V498h-2.9zM431.3 408h3.4V498h-3.4zM438.1 408h3V498h-3zM445.4 408h2.8V498h-2.8zM452.1 408h3.3V498h-3.3zM460.2 408h3.5V498h-3.5zM468.2 408h3.3V498h-3.3zM474.7 408h3.1V498h-3.1zM482.8 408h3.6V498h-3.6zM489.5 408h2.8V498h-2.8zM496.6 408h3.5V498h-3.5zM503.5 408h3.1V498h-3.1zM511 408h3.8V498h-3.8zM517.5 408h2.8V498h-2.8zM524.2 408h3.3V498h-3.3zM531.7 408h3V498h-3zM539.5 408h3.6V498h-3.6zM546.6 408h3V498h-3zM554.7 408h3.1V498h-3.1zM562.5 408h3.1V498h-3.1zM569 408h3.6V498h-3.6zM575.6 408h3.8V498h-3.8zM582.7 408h3V498h-3zM589.2 408h3.3V498h-3.3zM596.7 408h3.8V498h-3.8zM603 408h3.2V498h-3.2zM609.5 408h3.9V498h-3.9zM615.8 408h2.9V498h-2.9zM621.9 408h3.2V498h-3.2zM629.9 408h3.8V498h-3.8zM637.5 408h3.9V498h-3.9zM645.6 408h3.2V498h-3.2zM652 408h3.8V498h-3.8zM659.6 408h2.8V498h-2.8zM667.1 408h3.2V498h-3.2zM673.9 408h3.2V498h-3.2zM680.3 408h2.8V498h-2.8zM686.9 408h3.2V498h-3.2zM695 408h2.9V498h-2.9zM703.1 408h3V498h-3zM709.9 408h3.7V498h-3.7zM717.7 408h3.3V498h-3.3zM723.8 408h3.3V498h-3.3zM730.6 408h3.8V498h-3.8zM737 408h3.2V498h-3.2zM745 408h2.8V498h-2.8zM751.9 408h3.7V498h-3.7zM759.6 408h2.8V498h-2.8zM765.7 408h2.9V498h-2.9zM773.7 408h3.1V498h-3.1zM781.4 408h3.8V498h-3.8zM788.1 408h3.1V498h-3.1zM796.2 408h3.5V498h-3.5zM802.8 408h3.6V498h-3.6zM809.5 408h3.1V498h-3.1zM815.5 408h3.6V498h-3.6zM823.5 408h3.5V498h-3.5zM831.6 408h2.8V498h-2.8zM838.1 408h3.3V498h-3.3zM846.2 408h3.8V498h-3.8zM853 408h3.1V498h-3.1zM860 408h3.3V498h-3.3zM868 408h3V498h-3zM875.8 408h3.6V498h-3.6zM883.6 408h3.7V498h-3.7zM890.9 408h3.2V498h-3.2zM897.7 408h3.2V498h-3.2zM905.4 408h2.9V498h-2.9zM911.8 408h3.6V498h-3.6zM918.4 408h2.9V498h-2.9zM924.4 408h3.4V498h-3.4zM931.1 408h3.9V498h-3.9zM939.1 408h3.9V498h-3.9zM945.7 408h2.9V498h-2.9zM951.9 408h3.3V498h-3.3zM959.4 408h3.3V498h-3.3zM966 408h3.3V498h-3.3zM973.3 408h3.5V498h-3.5z" fill="#e8e3b4"/>
<path d="M126.2 415V491M146 415V491M158 415V491M194 415V491M221.5 415V491M225.2 415V491M240 415V491M256 415V491M267 415V491M271.8 415V491M273.8 415V491M280.8 415V491M285.7 415V491M291.9 415V491M300.1 415V491M351.7 415V491M367 415V491M378.4 415V491M423.8 415V491M433 415V491M447.6 415V491M477.2 415V491M480.4 415V491M484.4 415V491M488.2 415V491M491 415V491M495.1 415V491M564.8 415V491M642.3 415V491M667.2 415V491M669.5 415V491M689.9 415V491M692.5 415V491M708 415V491M722.1 415V491M729 415V491M744.9 415V491M751.6 415V491M753.2 415V491M754.8 415V491M760.4 415V491M762.7 415V491M767.7 415V491M783.6 415V491M785.5 415V491M788.2 415V491M803.8 415V491M838 415V491M860.4 415V491M864.2 415V491M872.5 415V491M874.6 415V491M877 415V491M880.8 415V491M887 415V491M891.2 415V491M895.6 415V491M899.6 415V491M901.8 415V491M904 415V491M910.8 415V491M923.5 415V491M932.1 415V491M942.8 415V491M947.4 415V491M949.3 415V491M967.6 415V491M976.7 415V491" stroke="#5e5a38" stroke-width="1.5" fill="none"/>
<path d="M128.8 415V491M131.3 415V491M134.5 415V491M136.9 415V491M150 415V491M229 415V491M251 415V491M269.3 415V491M276.2 415V491M278.5 415V491M283.6 415V491M287.9 415V491M295 415V491M297.5 415V491M303.2 415V491M317 415V491M321.5 415V491M326 415V491M346.7 415V491M348.6 415V491M349.8 415V491M353.6 415V491M371.6 415V491M399.4 415V491M404 415V491M407.4 415V491M412.3 415V491M426.8 415V491M430.3 415V491M442.5 415V491M453.9 415V491M476 415V491M478.9 415V491M481.3 415V491M483 415V491M485.5 415V491M487 415V491M489.6 415V491M492.6 415V491M494 415V491M496.4 415V491M506 415V491M519.5 415V491M526 415V491M535 415V491M540 415V491M550.8 415V491M555.9 415V491M560 415V491M573.8 415V491M575.6 415V491M576.9 415V491M578.1 415V491M579.5 415V491M581.1 415V491M582.7 415V491M584.1 415V491M585.3 415V491M592 415V491M599 415V491M615 415V491M619.5 415V491M624 415V491M637.8 415V491M649 415V491M660.3 415V491M662.9 415V491M665 415V491M672.2 415V491M674.1 415V491M676.5 415V491M678.6 415V491M681 415V491M683.5 415V491M685.9 415V491M687.8 415V491M705.8 415V491M710.8 415V491M712.9 415V491M715.4 415V491M717.4 415V491M720 415V491M724.2 415V491M726.4 415V491M738.1 415V491M739.6 415V491M740.5 415V491M742.2 415V491M743.5 415V491M746.1 415V491M747.6 415V491M749.1 415V491M750.7 415V491M756.3 415V491M765.4 415V491M769.7 415V491M771.7 415V491M774.6 415V491M776.5 415V491M779.1 415V491M781.2 415V491M811.8 415V491M819.7 415V491M829 415V491M853.8 415V491M856 415V491M858.4 415V491M862.1 415V491M866.4 415V491M868.6 415V491M870.6 415V491M879.2 415V491M883.2 415V491M885.4 415V491M889.6 415V491M893.6 415V491M897.8 415V491M906 415V491M912.8 415V491M915 415V491M916.9 415V491M919.4 415V491M921.5 415V491M926 415V491M928.1 415V491M930.1 415V491M934.4 415V491M936.3 415V491M938.5 415V491M940.9 415V491M945.2 415V491M951.8 415V491M953.6 415V491M956.1 415V491" stroke="#141410" stroke-width="1.5" fill="none"/>
<line x1="121" y1="523.3" x2="978" y2="523.3" stroke="#555" stroke-width="1.3"/>
<line x1="146.8" y1="523.3" x2="146.8" y2="542" stroke="#555" stroke-width="1.3"/>
<text x="146.8" y="575.7" text-anchor="middle">68</text>
<line x1="237.3" y1="523.3" x2="237.3" y2="542" stroke="#555" stroke-width="1.3"/>
<text x="237.3" y="575.7" text-anchor="middle">69</text>
<line x1="327.8" y1="523.3" x2="327.8" y2="542" stroke="#555" stroke-width="1.3"/>
<text x="327.8" y="575.7" text-anchor="middle">70</text>
<line x1="418.3" y1="523.3" x2="418.3" y2="542" stroke="#555" stroke-width="1.3"/>
<text x="418.3" y="575.7" text-anchor="middle">71</text>
<line x1="508.8" y1="523.3" x2="508.8" y2="542" stroke="#555" stroke-width="1.3"/>
<text x="508.8" y="575.7" text-anchor="middle">72</text>
<line x1="599.4" y1="523.3" x2="599.4" y2="542" stroke="#555" stroke-width="1.3"/>
<text x="599.4" y="575.7" text-anchor="middle">73</text>
<line x1="689.9" y1="523.3" x2="689.9" y2="542" stroke="#555" stroke-width="1.3"/>
<text x="689.9" y="575.7" text-anchor="middle">74</text>
<line x1="780.4" y1="523.3" x2="780.4" y2="542" stroke="#555" stroke-width="1.3"/>
<text x="780.4" y="575.7" text-anchor="middle">75</text>
<line x1="870.9" y1="523.3" x2="870.9" y2="542" stroke="#555" stroke-width="1.3"/>
<text x="870.9" y="575.7" text-anchor="middle">76</text>
<line x1="961.4" y1="523.3" x2="961.4" y2="542" stroke="#555" stroke-width="1.3"/>
<text x="961.4" y="575.7" text-anchor="middle">77</text>
<text x="549.5" y="609" font-size="28" text-anchor="middle">Time (s)</text>
<path d="M1154.2 65.9 1154.8 64.9 1155.6 63.4 1156.4 61.8 1157.1 59.8 1157.8 57.8 1158.5 57 1159.1 58.6 1159.7 61.4 1160.4 63.2 1161.2 63 1162.2 61.7 1163.1 60.5 1164 59.4 1165 58.2 1165.8 57.8 1166.5 58.4 1167.1 59.7 1167.7 61.8 1168.4 64.2 1169 67.4 1169.8 72.6 1170.7 81.3 1171.6 92 1172.5 102.2 1173.4 111.2 1174.3 119.5 1175.2 126.4 1176 131.2 1176.8 134.5 1177.5 137 1178.1 138.9 1178.6 140 1179.2 139.8 1180 139.2 1181 137.5 1181.9 131.8 1182.8 119.1 1183.7 102.5 1184.6 88.7 1185.5 80.6 1186.3 75.3 1187.3 71.3 1188.6 68.5 1190 67 1191.3 65.9 1192.2 65 1192.9 64.5 1193.7 64.5 1194.5 65.1 1195.3 66.1 1196.1 66.7 1197 66.2 1197.9 65.3 1198.7 64.6 1199.3 64.4 1199.9 64.4 1200.4 64.6 1200.9 65.2 1201.4 66 1201.9 66.5 1202.7 66.5 1203.5 66.2 1204.3 65.9 1205.2 66 1206 66 1206.7 65.9 1207.4 65.5 1208 65 1208.6 64.6 1209.1 64.6 1209.6 64.8 1210.2 64.5 1210.9 62.9 1211.6 60.9 1212.3 60.5 1212.9 63.1 1213.4 67.3 1214.2 70.4 1215.4 71.8 1216.8 72.1 1218.2 71.3 1219.6 68.2 1221.1 63.8 1222.3 61.8 1223 63.2 1223.5 66.9 1224.1 72.6 1225.2 81.6 1226.4 92.6 1227.6 102.2 1228.6 108.6 1229.4 113.5 1230.3 118.3 1231.2 123.9 1232 129.5 1232.8 134 1233.4 137.3 1233.8 139.5 1234.4 140.4 1235.2 140.9 1236.1 140 1237 134.4 1237.9 120.3 1238.8 101.4 1239.7 86 1240.6 77.4 1241.5 72.2 1242.4 68.6 1243.3 66.6 1244.2 66.1 1245.1 65.9 1245.9 65.4 1246.7 65 1247.4 64.8 1248 64.9 1248.6 65.2 1249.2 65.4 1249.7 65.3 1250.2 65 1250.7 65 1251.3 65.3 1251.9 65.9 1252.5 66.2 1253.1 65.9 1253.8 65.4 1254.4 65.1 1255.3 65.2 1256.1 65.4 1257 65.6 1257.9 65.8 1258.7 65.9 1259.4 65.9 1260 65.7 1260.5 65.5 1261 65.4 1261.6 65.6 1262.3 66 1263 66.3 1263.6 66.4 1264.2 66.3 1264.8 66.1 1265.4 65.4 1265.9 64.5 1266.6 64.5 1267.6 66.7 1268.9 69.8 1270.1 71.3 1271.2 69 1272.3 65 1273.3 63.2 1274 65 1274.5 69 1275.2 75.3 1276.3 85.1 1277.5 97.1 1278.7 107.6 1279.7 115 1280.6 120.9 1281.4 126.4 1282.2 132.2 1282.9 137.6 1283.5 142 1284 145.2 1284.4 147.3 1284.9 147.9 1285.7 148.1 1286.7 146.8 1287.6 139.8 1288.5 122.2 1289.4 98.9 1290.3 80.7 1291.3 72.4 1292.5 69.2 1293.5 67.2 1294.5 65.5 1295.4 65.1 1296.2 65.1 1296.8 65.4 1297.4 66 1297.9 66.5 1298.5 66.7 1299 66.7 1299.5 66.4 1300.1 65.7 1300.6 64.8 1301.2 64.3 1301.7 64.8 1302.3 65.8 1302.9 66.3 1303.7 65.8 1304.7 64.9 1305.5 64.3 1306.2 64.6 1306.9 65.2 1307.5 65.6 1308.3 65.4 1309.1 65 1309.9 64.8 1310.6 64.9 1311.3 65.1 1312 65.2 1312.7 65.2 1313.5 65.1 1314.4 65 1315.2 64.9 1316.1 64.9 1316.9 65 1317.5 65.4 1318.1 65.9 1318.7 66.1 1319.3 65.7 1320 65.1 1320.7 64.6 1321.4 64.4 1322.1 64.4 1322.9 64.5 1323.7 65 1324.5 65.6 1325.3 66.1 1326.1 66.2 1326.9 66.1 1327.6 65.9 1328.3 65.8 1328.9 65.6 1329.5 65.3 1330.1 65.2 1330.6 65 1331.2 64.5 1331.9 62.6 1332.8 60.4 1333.8 60.5 1335.1 65.6 1336.6 73.1 1337.9 78 1338.9 77.4 1339.8 74.2 1340.6 72.6 1341.5 73.6 1342.4 76.1 1343.3 80.7 1344.2 88.5 1345 98.3 1346 107.6 1347.1 115.5 1348.2 122.8 1349.4 129.1 1350.5 135 1351.6 139.9 1352.7 142 1353.6 140.9 1354.5 137 1355.4 129.1 1356.3 114.3 1357.1 95.5 1358 80.7 1358.8 73.6 1359.6 70.6 1360.7 68.6 1362.4 67 1364.4 66.4 1366.1 65.9 1367.1 65.3 1367.8 64.8 1368.5 64.5 1369.3 64.4 1370.2 64.3 1371 64.4 1371.6 64.5 1372.1 64.7 1372.7 65 1373.5 65.2 1374.4 65.4 1375.2 65.6 1375.9 66 1376.5 66.4 1377.1 66.6 1377.7 66.3 1378.3 65.8 1378.9 65.5 1379.5 65.7 1380.2 66 1380.9 66.3 1381.7 66.3 1382.5 66.2 1383.3 66 1383.9 65.7 1384.6 65.3 1385.2 65.1 1385.7 65.5 1386.2 66.1 1386.8 66.5 1387.5 66.5 1388.3 66.4 1389.1 66.2 1389.6 66 1390.2 65.6 1390.7 65.4 1391.5 65.5 1392.3 65.7 1393.1 65.8 1393.7 65.8 1394.2 65.8 1394.7 65.5 1395.4 65.5 1396.1 65.3 1397 63.2 1398.1 56.9 1399.4 48.8 1400.5 44.4 1401.2 46.7 1401.8 52.7 1402.4 59.2 1403.1 66.4 1403.9 74 1404.6 78 1405.2 75.9 1405.8 70.3 1406.4 64.5 1407.1 57.8 1407.8 50.9 1408.6 49.7 1409.4 57.6 1410.3 71.1 1411.3 86 1412.3 101.9 1413.4 119.2 1414.5 134.4 1415.7 147.3 1416.8 158 1418 164 1419.1 164.8 1420.2 160.8 1421.2 150.6 1421.9 129.5 1422.5 102.1 1423.1 80.7 1423.8 71.5 1424.5 68.2 1425.3 64.5 1426.3 56.2 1427.4 47.5 1428.5 44.4 1429.7 51.2 1430.9 63.7 1432 75.3 1433 85.2 1433.8 94.3 1434.7 98.1 1435.6 91.4 1436.5 79.4 1437.4 73.9 1438.2 80.5 1439 93.5 1440.1 107.6 1441.8 123.4 1443.7 140.3 1445.4 150.6 1446.5 151.2 1447.3 145.2 1448.1 134.4 1449 116 1449.8 92.9 1450.8 75.3 1452.1 68.2 1453.6 66.6 1454.8 65.9 1455.5 64.8 1456 64.7 1456.5 64.8 1457.1 65.2 1457.7 65.8 1458.4 66.1 1459.2 65.8 1460 65.2 1460.8 64.7 1461.4 64.6 1461.9 64.8 1462.5 64.9 1463.1 65.2 1463.7 65.5 1464.3 65.7 1464.9 65.5 1465.5 65.2 1466 65.2 1466.6 65.7 1467.1 66.5 1467.7 66.8 1468.4 66.3 1469.2 65.3 1470 64.6 1470.9 64.3 1471.8 64.3 1472.6 64.6 1473.2 65.3 1473.8 66.2 1474.5 66.9 1475.3 66.9 1476.1 66.6 1476.9 66.2 1477.6 65.8 1478.2 65.2 1478.8 64.8 1479.6 64.6 1480.3 64.5 1481.1 64.6 1481.7 64.8 1482.2 65.1 1482.8 65.3 1483.3 65.3 1483.7 65.3 1484.3 65.3 1485.1 65.6 1485.9 65.9 1486.7 66.1 1487.4 66.2 1488.1 66.1 1488.7 65.9 1489.4 65.5 1490.1 65 1490.7 64.7 1491.5 64.7 1492.2 65 1492.9 65.4 1493.7 65.8 1494.5 66.4 1495.2 66.7 1495.9 66.5 1496.5 66.1 1497.2 65.8 1498 65.6 1498.8 65.4 1499.5 65.4 1500.1 65.7 1500.6 66.1 1501.3 66.2 1502.3 65.5 1503.5 64.6 1504.6 64.5 1505.5 65.9 1506.3 68 1507.3 69.9 1508.5 71.4 1509.9 72.7 1511.3 72.6 1512.7 69.4 1514.1 64.8 1515.4 63.2 1516.4 66.7 1517.3 73.2 1518.1 80.7 1518.9 89 1519.6 98.3 1520.7 107.6 1522.4 117.6 1524.4 127.6 1526.1 134.4 1527.2 137.5 1528 137.3 1528.8 131.8 1529.7 116.9 1530.6 96.6 1531.5 80.7 1532.3 73.4 1533.1 70.5 1534.2 68.6 1536 66.8 1538.2 65.9 1540 65.5 1541 65.5 1541.6 65.8 1542.3 66.1 1543.1 66.2 1543.9 66.1 1544.7 66.1 1545.5 65.9 1546.2 65.6 1546.9 65.5 1547.6 65.6 1548.2 65.8 1548.8 65.9 1549.3 65.8 1549.8 65.5 1550.4 65.4 1551.1 65.6 1551.9 66 1552.7 66.2 1553.5 65.8 1554.2 65.3 1554.9 65 1555.6 65 1556.2 65.3 1556.9 65.5 1557.6 65.4 1558.3 65.3 1559.1 65.4 1559.8 65.8 1560.6 66.4 1561.3 66.7 1562 66.7 1562.6 66.4 1563.2 65 1563.8 61.1 1564.5 56 1565.1 53.2 1565.7 54.6 1566.3 58.3 1567 62 1567.9 65.9 1569 70 1570 71.5 1571 68.3 1571.9 62.6 1572.8 58.7 1573.7 58 1574.6 59.1 1575.5 62 1576.3 66.8 1577.2 73.5 1578.2 81.9 1579.4 92.6 1580.7 105 1582.3 117.4 1584.3 131.4 1586.6 145.3 1588.6 152.9 1589.9 150.9 1591 142.4 1591.9 131 1592.8 115.4 1593.6 96.7 1594.6 81.9 1595.9 73.8 1597.4 69.6 1598.7 66.9 1599.6 65.6 1600.2 66 1600.9 66.3 1601.5 66.1 1602.1 65.9 1602.8 65.6 1603.6 65.2 1604.5 64.7 1605.4 64.4 1606.1 64.3 1606.8 64.4 1607.5 64.7 1608.2 65.4 1609 66.3 1609.8 66.7 1610.5 66.2 1611.2 65.2 1611.9 64.6 1612.6 64.7 1613.3 65.3 1614 65.7 1614.8 65.7 1615.5 65.6 1616.3 65.6 1617 65.9 1617.8 66.3 1618.5 66.5 1619.2 66.2 1619.9 65.8 1620.6 65.4 1621.4 65.1 1622.3 64.9 1623.1 64.8 1623.9 65 1624.6 65.2 1625.4 65.3 1626.1 65.1 1626.9 64.8 1627.7 64.6 1628.6 64.8 1629.5 65 1630.3 65.2 1630.9 65.2 1631.3 65.1 1631.9 65 1632.5 64.8 1633.2 64.5 1633.8 64.3 1634.3 64.2 1634.8 64.1 1635.5 64.2 1636.4 64.1 1637.6 64.1 1639 65.5 1640.9 70.1 1643.1 76 1645.1 79.2 1646.7 77 1648 72 1649.2 68.3 1650.1 66 1650.9 64.9 1652 68.3 1653.5 79 1655.3 94.1 1657.4 109.2 1659.9 124.6 1662.7 139.9 1665 148.8 1666.4 148.4 1667.4 141.6 1668.3 131 1669.2 114.8 1670 94.9 1671 79.2 1672.3 71.3 1673.8 67.6 1675.1 65.5 1675.9 64.7 1676.5 65.5 1677 66.1 1677.7 65.8 1678.3 65.3 1678.9 65 1679.5 65.3 1680 65.9 1680.7 66.2 1681.5 66.1 1682.4 65.8 1683.2 65.7 1683.8 65.9 1684.4 66.3 1684.9 66.4 1685.6 65.9 1686.2 65.2 1686.9 64.9 1687.4 65.2 1687.9 65.9 1688.5 66.3 1689.3 66.3 1690.1 66.1 1690.9 65.9 1691.6 65.8 1692.3 65.7 1692.9 65.8 1693.5 66.1 1694.1 66.6 1694.7 66.8 1695.3 66.6 1695.9 66.2 1696.5 66 1697.3 66.1 1698.2 66.4 1698.9 66.4 1699.6 66.1 1700.3 65.5 1701 65.1 1701.6 64.8 1702.3 64.7 1703.1 64.6 1703.8 64.8 1704.7 65 1705.5 65.2 1706.3 65.2 1707.1 65.1 1707.9 65 1708.6 65 1709.2 65 1709.8 65 1710.4 64.9 1711.1 64.8 1711.8 64.8 1712.6 65.7 1713.5 66.8 1714.7 65.5 1716.6 58.5 1718.8 49.2 1720.7 45 1722.1 51.9 1723.2 64 1724.3 71 1725.7 66.7 1727.1 57.3 1728.4 51.9 1729.3 53.9 1730.1 59.9 1731 68 1732.1 78.3 1733.4 90.7 1735.2 103.7 1737.8 118.8 1740.9 134.5 1743.4 144.7 1744.7 147.2 1745.3 144.1 1746 136 1746.9 119.9 1747.8 98.7 1748.8 81.9 1750.1 73.5 1751.6 69.5 1752.9 66.9 1753.8 65.2 1754.5 65 1755.1 65 1755.7 64.9 1756.3 65 1756.9 65.1 1757.5 65.2 1758.2 65.3 1758.9 65.4 1759.7 65.6 1760.4 65.8 1761.1 66 1761.7 66.4 1762.3 66.7 1763 66.7 1764.2 66.4 1765.5 65.7 1766.6 64.2 1767.1 60.8 1767.4 56.5 1768 54.6 1769.1 56.3 1770.5 60.3 1772 65.5 1773.8 73.4 1775.7 82.5 1777.5 87.4 1779 82.7 1780.3 73.8 1781.6 71 1782.9 79.8 1784.1 94.7 1785.7 109.2 1787.9 122.6 1790.4 135.5 1792.5 143.3 1793.7 144 1794.5 139.5 1795.3 131 1796.2 116.1 1797 97.1 1798 81.9 1799.4 73.8 1800.9 69.6 1802.1 66.9 1802.8 65.7 1803.2 66 1803.7 66.5 1804.5 66.4 1805.3 66.3 1806.2 66.3 1806.7 66.4 1807.2 66.6 1807.8 66.5 1808.5 65.8 1809.3 64.8 1810 64.3 1810.5 65 1811 66.1 1811.5 66.8 1812.2 66.4 1813 65.6 1813.7 65 1814.4 65 1815 65.2 1815.7 64.2 1816.6 60.2 1817.5 55.1 1818.5 53.2 1819.4 56.2 1820.2 62.5 1821.2 71 1822.3 85.5 1823.5 102.2 1824.7 109.2 1826.1 96.5 1827.5 74 1828.8 60.1 1829.8 62.2 1830.7 72.8 1832.1 87.4 1834.5 108.7 1837.4 134 1839.8 150.2 1841.1 151.4 1842 143.5 1842.8 131 1843.8 112 1844.7 88.5 1845.8 71 1847.2 64.9 1848.7 65 1849.9 65.5 1850.6 64.9 1851 64.9 1851.5 64.9 1852.3 64.9 1853.1 65 1853.9 65.2 1854.5 65.7 1855 66.3 1855.6 66.7 1856.3 65.9 1857.1 64.9 1858 65.5 1858.9 68.3 1859.9 72.8 1860.8 79.2 1861.7 91.3 1862.6 105.3 1863.5 110.6 1864.4 97.6 1865.3 75.7 1866.2 62.8 1867.1 67 1868 80.1 1869 95.5 1870.3 114.5 1871.7 135.8 1873 148.8 1874.1 148.8 1875.2 140.6 1876.3 128 1877.5 108.9 1878.7 85.5 1879.9 68.3 1881.3 62.6 1882.8 63 1884 64.2 1884.7 64.6 1885.2 65.8 1885.7 66.6 1886.4 66.7 1887.1 66.5 1887.8 66.3 1888.6 66.4 1889.3 66.5 1890.1 66.6 1890.9 66.6 1891.7 66.6 1892.4 66.5 1893 66.4 1893.6 66.2 1894.2 66.1 1894.8 66.1 1895.5 66.1 1896.2 66.2 1896.9 66.4 1897.6 66.6 1898.2 66.6 1898.9 66.2 1899.7 65.5 1900.3 65 1900.9 64.8 1901.5 64.7 1902.1 64.7 1902.8 64.6 1903.4 64.5 1904.1 64.5 1904.8 64.5 1905.5 64.5 1906.1 64.7 1906.8 64.9 1907.5 65.3 1908.2 65.6 1908.9 65.9 1909.6 66.3 1910.3 66.5 1910.8 66.6 1911.3 66.6 1911.8 66.5 1912.4 66.2 1913.1 65.9 1913.8 65.8 1914.5 66 1915.3 66.3 1916 66.5 1916.7 66.2 1917.3 65.8 1917.9 65.4 1918.8 65 1919.7 64.6 1920.5 64.5 1921 66 1921.4 67.7 1922.2 65.5 1923.6 54.3 1925.4 39.2 1927.1 31.4 1928.4 39 1929.6 54 1930.9 62.8 1932.4 56.7 1933.9 44.5 1935.3 39.6 1936.3 47.8 1937 63.4 1938 81.9 1939.5 106.4 1941.1 134 1942.7 151.5 1944 152.7 1945.1 143.9 1946.2 131 1947.3 112.8 1948.3 90.5 1949.5 73.7 1950.9 67.1 1952.3 65.9 1953.6 65.5 1954.5 64.5 1955.1 64.3 1955.7 64.4 1956.4 64.8 1957.2 65.6 1957.9 66.1 1958.7 65.9 1959.6 65.5 1960.4 65.2 1961.3 65.2 1962.1 65.5 1963 65.6 1963.9 66.3 1964.9 67 1965.9 65.5 1967 59.2 1968.1 50.8 1969.1 46.4 1969.9 48.4 1970.6 54.3 1971.3 62.8 1972.1 77.5 1973 94.7 1974.1 102.4 1975.5 90.6 1977.2 69.3 1978.7 56 1979.9 57.8 1980.9 67.7 1982.3 81.9 1984.4 103.9 1986.9 130.4 1989.1 147.4 1990.6 148.6 1991.8 140.4 1993 128 1994.1 109.9 1995.2 87.6 1996.5 71 1998.1 65.2 1999.9 65.1 2001.4 65.5 2002.4 64.7 2003.1 64.4 2003.8 64.4 2004.6 64.7 2005.4 65.4 2006.1 65.9 2006.7 66.3 2007.3 66.5 2008 66.5 2008.6 66.3 2009.2 65.8 2009.9 65.5 2010.6 65.7 2011.3 66.1 2011.9 66.3 2012.5 66.1 2013.1 65.7 2013.7 65.4 2014.3 65.5 2014.9 65.7 2015.6 65.7 2016.4 65.6 2017.2 65.3 2018 65.1 2018.9 64.5 2019.8 63.9 2020.5 64.2 2021 65.2 2021.4 67.1 2021.9 71 2022.8 78.8 2023.9 88.5 2024.6 95.5" fill="none" stroke="#88b98c" stroke-width="2.2" stroke-linejoin="round"/>
<line x1="1155.3" y1="193" x2="1155.3" y2="363" stroke="#555" stroke-width="1.3"/>
<line x1="1134.3" y1="193" x2="1155.3" y2="193" stroke="#555" stroke-width="1.3"/>
<text x="1129.5" y="198.2" text-anchor="end">60</text>
<line x1="1134.3" y1="273.7" x2="1155.3" y2="273.7" stroke="#555" stroke-width="1.3"/>
<text x="1129.5" y="278.9" text-anchor="end">40</text>
<line x1="1134.3" y1="354.4" x2="1155.3" y2="354.4" stroke="#555" stroke-width="1.3"/>
<text x="1129.5" y="359.6" text-anchor="end">20</text>
<path d="M1156.4 322.7 1157.8 314.5 1159.3 293 1160.7 266.3 1162.2 244.8 1163.6 236.6 1164.3 242.6 1165 258.4 1165.7 278 1166.4 293.8 1167.1 299.8 1168.5 293.5 1169.8 277 1171.2 256.7 1172.5 240.2 1173.9 233.9 1174.8 239 1175.7 252.5 1176.6 269.1 1177.5 282.6 1178.4 287.7 1179.2 285 1180 278 1180.9 269.2 1181.7 262.2 1182.5 259.5 1183.2 263.5 1183.9 273.9 1184.6 286.8 1185.3 297.2 1186 301.2 1186.8 303.1 1187.6 308.1 1188.4 314.4 1189.2 319.4 1190 321.3 1190.8 315.4 1191.6 299.9 1192.4 280.9 1193.2 265.4 1194 259.5 1194.8 266.3 1195.6 284.1 1196.5 306.1 1197.3 323.9 1198.1 330.7 1199.2 323.3 1200.2 303.8 1201.3 279.7 1202.3 260.2 1203.4 252.8 1204.2 259 1205 275.1 1205.9 295 1206.7 311.1 1207.5 317.3 1208.1 317 1208.7 316.2 1209.3 315.1 1209.9 314.3 1210.5 314 1211.2 310.5 1212 301.2 1212.7 289.8 1213.5 280.5 1214.2 277 1214.9 281.1 1215.6 291.9 1216.3 305.1 1217 315.9 1217.7 320 1219.2 312.4 1220.6 292.6 1222.1 268.1 1223.5 248.3 1225 240.7 1225.8 243.4 1226.6 250.4 1227.4 259.2 1228.2 266.2 1229 268.9 1229.9 265.2 1230.8 255.4 1231.8 243.4 1232.7 233.6 1233.6 229.9 1234.6 236.3 1235.5 253.1 1236.5 273.9 1237.4 290.7 1238.4 297.1 1239.2 297.7 1240 299.4 1240.8 301.5 1241.6 303.2 1242.4 303.8 1242.9 306.6 1243.5 314 1244 323.2 1244.6 330.6 1245.1 333.4 1246.2 327.2 1247.3 311.1 1248.3 291.2 1249.4 275.1 1250.5 268.9 1251.8 274.3 1253.2 288.4 1254.5 305.9 1255.9 320 1257.2 325.4 1258.1 320.6 1259 308.2 1260 292.8 1260.9 280.4 1261.8 275.6 1262.7 281.8 1263.5 297.9 1264.4 317.8 1265.2 333.9 1266.1 340.1 1266.7 338 1267.4 332.7 1268 326 1268.7 320.7 1269.3 318.6 1270 320.4 1270.7 325.1 1271.4 331 1272.1 335.7 1272.8 337.5 1274 328.4 1275.2 304.5 1276.3 275 1277.5 251.1 1278.7 242 1279.5 241.9 1280.2 241.6 1281 241.1 1281.7 240.8 1282.5 240.7 1283.4 239.3 1284.2 235.6 1285.1 231 1285.9 227.3 1286.8 225.9 1287.9 234.6 1289 257.5 1290 285.7 1291.1 308.6 1292.2 317.3 1293.3 313.7 1294.3 304.3 1295.4 292.6 1296.4 283.2 1297.5 279.6 1298.3 283.3 1299.1 293.1 1300 305.1 1300.8 314.9 1301.6 318.6 1302.1 318.4 1302.6 317.7 1303 316.9 1303.5 316.2 1304 316 1305.2 309.1 1306.5 290.9 1307.7 268.4 1309 250.2 1310.2 243.3 1310.9 250.9 1311.6 270.7 1312.3 295.3 1313 315.1 1313.7 322.7 1315.6 314.9 1317.5 294.4 1319.3 269 1321.2 248.5 1323.1 240.7 1324.2 245.7 1325.3 258.8 1326.3 275 1327.4 288.1 1328.5 293.1 1329.5 292.3 1330.4 290.3 1331.4 287.8 1332.3 285.8 1333.3 285 1333.9 288.2 1334.6 296.6 1335.2 307 1335.9 315.4 1336.5 318.6 1338.1 310.8 1339.7 290.3 1341.4 264.9 1343 244.4 1344.6 236.6 1345.6 243.3 1346.5 260.7 1347.5 282.4 1348.4 299.8 1349.4 306.5 1350.3 302.8 1351.2 293 1352.2 281 1353.1 271.2 1354 267.5 1355.1 273.5 1356.2 289.3 1357.2 308.9 1358.3 324.7 1359.4 330.7 1361 322.7 1362.6 301.9 1364.3 276.2 1365.9 255.4 1367.5 247.4 1368.3 255.7 1369.1 277.6 1369.9 304.6 1370.7 326.5 1371.5 334.8 1372.8 326.7 1374.2 305.5 1375.5 279.4 1376.9 258.2 1378.2 250.1 1379 257.3 1379.8 276.1 1380.7 299.4 1381.5 318.2 1382.3 325.4 1383.4 320.1 1384.4 306.3 1385.5 289.3 1386.5 275.5 1387.6 270.2 1388.4 275.6 1389.2 289.7 1390.1 307.2 1390.9 321.3 1391.7 326.7 1393 317.8 1394.4 294.6 1395.7 266 1397.1 242.8 1398.4 233.9 1399.4 242.8 1400.3 266 1401.3 294.6 1402.2 317.8 1403.2 326.7 1404.7 318.5 1406.1 297 1407.6 270.4 1409 248.9 1410.5 240.7 1411.8 240.1 1413.2 238.4 1414.5 236.2 1415.9 234.5 1417.2 233.9 1418.5 242 1419.9 263.2 1421.2 289.3 1422.6 310.5 1423.9 318.6 1425 313.5 1426.1 300 1427.1 283.5 1428.2 270 1429.3 264.9 1430.1 272.7 1430.9 293.2 1431.7 318.6 1432.5 339.1 1433.3 346.9 1435.3 336.5 1437.3 309.3 1439.3 275.6 1441.3 248.4 1443.3 238 1444.4 244.5 1445.5 261.7 1446.7 282.8 1447.8 300 1448.9 306.5 1450.2 299.6 1451.5 281.4 1452.8 259 1454.1 240.8 1455.4 233.9 1456.6 243.1 1457.9 267.3 1459.1 297.3 1460.4 321.5 1461.6 330.7 1462.9 325.1 1464.3 310.3 1465.6 292 1467 277.2 1468.3 271.6 1469.4 278.4 1470.5 296.2 1471.5 318.2 1472.6 336 1473.7 342.8 1475.2 332.7 1476.7 306.1 1478.2 273.3 1479.7 246.7 1481.2 236.6 1482.4 244.6 1483.6 265.4 1484.7 291.2 1485.9 312 1487.1 320 1488.3 312.6 1489.5 293.1 1490.6 268.9 1491.8 249.4 1493 242 1494.2 251.4 1495.5 275.9 1496.7 306.2 1498 330.7 1499.2 340.1 1499.7 338.2 1500.1 333.2 1500.6 326.9 1501 321.9 1501.5 320 1502.1 323.8 1502.7 333.9 1503.4 346.4 1504 356.5 1504.6 360.3 1505.4 356.3 1506.2 345.9 1507 333 1507.8 322.6 1508.6 318.6 1509.2 319.5 1509.8 321.8 1510.3 324.8 1510.9 327.1 1511.5 328 1512.3 325.9 1513.1 320.6 1513.8 313.9 1514.6 308.6 1515.4 306.5 1516.2 303.2 1517 294.4 1517.8 283.7 1518.6 274.9 1519.4 271.6 1521 278.3 1522.6 295.7 1524.2 317.4 1525.8 334.8 1527.4 341.5 1528.5 337 1529.6 325.2 1530.6 310.7 1531.7 298.9 1532.8 294.4 1533.6 298.3 1534.4 308.4 1535.3 320.8 1536.1 330.9 1536.9 334.8 1538.4 327.5 1539.9 308.3 1541.5 284.5 1543 265.3 1544.5 258 1545.5 265.6 1546.5 285.4 1547.6 309.8 1548.6 329.6 1549.6 337.2 1550.2 335.2 1550.8 329.9 1551.3 323.3 1551.9 318 1552.5 316 1553.5 310.9 1554.6 297.4 1555.6 280.7 1556.7 267.2 1557.7 262.1 1559.1 271.2 1560.5 295.1 1561.8 324.6 1563.2 348.5 1564.6 357.6 1565.8 351 1567 333.6 1568.2 312 1569.4 294.6 1570.6 288 1571.3 292 1572 302.6 1572.7 315.7 1573.4 326.3 1574.1 330.3 1574.8 328.1 1575.5 322.3 1576.3 315 1577 309.2 1577.7 307 1578.6 303.9 1579.5 295.7 1580.5 285.7 1581.4 277.5 1582.3 274.4 1582.8 276.6 1583.4 282.2 1583.9 289.2 1584.5 294.8 1585 297 1585.6 295.5 1586.1 291.5 1586.7 286.7 1587.2 282.7 1587.8 281.2 1588.3 283.1 1588.9 288 1589.4 294.2 1590 299.1 1590.5 301 1591.6 294.2 1592.7 276.2 1593.8 254.1 1594.9 236.1 1596 229.3 1596.8 234.5 1597.6 248.2 1598.5 265 1599.3 278.7 1600.1 283.9 1600.7 283.3 1601.4 281.9 1602 280 1602.7 278.6 1603.3 278 1604.2 273.7 1605.1 262.6 1605.9 248.8 1606.8 237.7 1607.7 233.4 1608.8 239.1 1609.9 254.2 1611 272.7 1612.1 287.8 1613.2 293.5 1614.5 287.4 1615.8 271.3 1617.1 251.5 1618.4 235.4 1619.7 229.3 1620.8 235.8 1621.9 252.9 1623 274 1624.1 291.1 1625.2 297.6 1626.3 293.3 1627.4 282 1628.4 268.1 1629.5 256.8 1630.6 252.5 1631.6 258.5 1632.6 274.2 1633.5 293.6 1634.5 309.3 1635.5 315.3 1636.1 313.6 1636.6 309.2 1637.2 303.7 1637.7 299.3 1638.3 297.6 1639 299.5 1639.6 304.6 1640.3 311 1640.9 316.1 1641.6 318 1642 314.5 1642.4 305.3 1642.9 293.9 1643.3 284.7 1643.7 281.2 1644.5 286 1645.3 298.6 1646.2 314.3 1647 326.9 1647.8 331.7 1648.7 329 1649.7 321.8 1650.6 312.9 1651.6 305.7 1652.5 303 1654 295.8 1655.5 277.1 1657.1 253.9 1658.6 235.2 1660.1 228 1661.1 235.7 1662.1 255.8 1663 280.7 1664 300.8 1665 308.5 1666.1 301.7 1667.2 284 1668.3 262 1669.4 244.3 1670.5 237.5 1671.2 244.3 1671.8 262 1672.5 284 1673.1 301.7 1673.8 308.5 1674.3 306.2 1674.9 300 1675.4 292.5 1676 286.3 1676.5 284 1677 286.2 1677.6 291.9 1678.1 299.1 1678.7 304.8 1679.2 307 1680 303.1 1680.8 292.9 1681.7 280.3 1682.5 270.1 1683.3 266.2 1684.6 272.3 1685.8 288.3 1687.1 308.2 1688.3 324.2 1689.6 330.3 1690.9 320.4 1692.2 294.5 1693.6 262.4 1694.9 236.5 1696.2 226.6 1697.1 235.9 1697.9 260.1 1698.8 290 1699.6 314.2 1700.5 323.5 1701.7 315.5 1702.9 294.7 1704.1 269 1705.3 248.2 1706.5 240.2 1707.5 248.2 1708.5 269 1709.4 294.7 1710.4 315.5 1711.4 323.5 1712.9 314.5 1714.4 291 1715.8 261.8 1717.3 238.3 1718.8 229.3 1719.7 238.7 1720.7 263.3 1721.6 293.6 1722.6 318.2 1723.5 327.6 1724.5 321.3 1725.5 305 1726.4 284.7 1727.4 268.4 1728.4 262.1 1729.4 266 1730.4 276.2 1731.3 288.9 1732.3 299.1 1733.3 303 1734.2 297.1 1735.1 281.8 1736.1 262.8 1737 247.5 1737.9 241.6 1739 247.1 1740.1 261.4 1741.2 279.1 1742.3 293.4 1743.4 298.9 1744.1 300.5 1744.8 304.6 1745.5 309.6 1746.2 313.7 1746.9 315.3 1748 307.9 1749.1 288.4 1750.2 264.4 1751.3 244.9 1752.4 237.5 1753.3 246 1754.2 268.1 1755.2 295.6 1756.1 317.7 1757 326.2 1758.1 319 1759.2 300.3 1760.3 277.1 1761.4 258.4 1762.5 251.2 1763.6 260.1 1764.7 283.3 1765.8 311.9 1766.9 335.1 1768 344 1769.2 337.2 1770.5 319.5 1771.7 297.5 1773 279.8 1774.2 273 1774.9 278.6 1775.5 293.3 1776.2 311.4 1776.8 326.1 1777.5 331.7 1778 329.2 1778.6 322.8 1779.1 314.7 1779.7 308.3 1780.2 305.8 1781 307.4 1781.8 311.4 1782.7 316.5 1783.5 320.5 1784.3 322.1 1785.1 323.4 1785.9 326.8 1786.8 331.1 1787.6 334.5 1788.4 335.8 1789.5 334.6 1790.6 331.6 1791.7 327.7 1792.8 324.7 1793.9 323.5 1794.9 325.1 1795.9 329.2 1796.8 334.2 1797.8 338.3 1798.8 339.9 1799.9 337.7 1801 331.9 1802.1 324.7 1803.2 318.9 1804.3 316.7 1805.6 309.8 1806.9 291.7 1808.2 269.3 1809.5 251.2 1810.8 244.3 1812.3 254.7 1813.9 282 1815.4 315.8 1817 343.1 1818.5 353.5 1819.5 351.3 1820.5 345.5 1821.4 338.3 1822.4 332.5 1823.4 330.3 1824.3 333.9 1825.2 343.5 1826.2 355.3 1827.1 364.9 1828 368.5 1829.4 356.9 1830.7 326.6 1832.1 289 1833.4 258.7 1834.8 247.1 1835.6 245 1836.4 239.5 1837.3 232.8 1838.1 227.3 1838.9 225.2 1839.8 233.7 1840.8 255.8 1841.7 283.3 1842.7 305.4 1843.6 313.9 1844.3 315.3 1845 319.1 1845.7 323.8 1846.4 327.6 1847.1 329 1848.2 321.8 1849.3 303.1 1850.4 279.8 1851.5 261.1 1852.6 253.9 1853.7 259.4 1854.8 273.7 1855.8 291.4 1856.9 305.7 1858 311.2 1858.8 312.2 1859.6 315 1860.5 318.3 1861.3 321.1 1862.1 322.1 1862.6 321 1863.2 318.3 1863.7 314.8 1864.3 312.1 1864.8 311 1866.3 300.7 1867.9 273.8 1869.4 240.6 1871 213.7 1872.5 203.4 1873.8 210 1875.1 227.4 1876.5 249 1877.8 266.4 1879.1 273 1880 269.2 1880.8 259.3 1881.7 247.1 1882.5 237.2 1883.4 233.4 1884.2 238.2 1885 250.8 1885.7 266.5 1886.5 279.1 1887.3 283.9 1888.2 280.9 1889 273.1 1889.9 263.3 1890.7 255.5 1891.6 252.5 1892.3 258.8 1892.9 275.1 1893.6 295.4 1894.2 311.7 1894.9 318 1896.3 309.9 1897.6 288.8 1899 262.6 1900.3 241.5 1901.7 233.4 1902.6 240 1903.6 257.4 1904.5 279 1905.5 296.4 1906.4 303 1907.4 298.8 1908.4 287.9 1909.3 274.5 1910.3 263.6 1911.3 259.4 1912.1 264.3 1912.9 277.3 1913.8 293.3 1914.6 306.3 1915.4 311.2 1916 310.1 1916.5 307.3 1917.1 303.9 1917.6 301.1 1918.2 300 1919.5 292.6 1920.9 273.2 1922.2 249.3 1923.6 229.9 1924.9 222.5 1925.7 230.2 1926.5 250.3 1927.4 275.2 1928.2 295.3 1929 303 1930.5 295.6 1932 276.1 1933.4 252.1 1934.9 232.6 1936.4 225.2 1937.7 229 1938.9 238.9 1940.2 251.1 1941.4 261 1942.7 264.8 1943.5 263.1 1944.3 258.7 1945.2 253.2 1946 248.8 1946.8 247.1 1947.9 255 1949 275.8 1950 301.6 1951.1 322.4 1952.2 330.3 1953.6 321.3 1955 297.8 1956.3 268.6 1957.7 245.1 1959.1 236.1 1960.2 242.8 1961.3 260.2 1962.3 281.7 1963.4 299.1 1964.5 305.8 1965 305.8 1965.6 305.8 1966.1 305.8 1966.7 305.8 1967.2 305.8 1967.9 309.3 1968.6 318.5 1969.4 329.9 1970.1 339.1 1970.8 342.6 1971.3 340.8 1971.9 336 1972.4 330.1 1973 325.3 1973.5 323.5 1974.2 324.5 1974.8 327.3 1975.5 330.6 1976.1 333.4 1976.8 334.4 1978.4 323.5 1980.1 294.8 1981.7 259.4 1983.4 230.7 1985 219.8 1985.8 226.6 1986.6 244.3 1987.5 266.2 1988.3 283.9 1989.1 290.7 1989.9 287.6 1990.7 279.4 1991.6 269.3 1992.4 261.1 1993.2 258 1994 261.9 1994.8 272.1 1995.7 284.8 1996.5 295 1997.3 298.9 1998.1 297.5 1998.9 293.7 1999.8 289.1 2000.6 285.3 2001.4 283.9 2002.2 287.7 2003 297.6 2003.9 309.8 2004.7 319.7 2005.5 323.5 2006.3 320.8 2007.1 313.6 2008 304.7 2008.8 297.5 2009.6 294.8 2010.4 291.2 2011.2 281.6 2012.1 269.8 2012.9 260.2 2013.7 256.6 2014.8 261.6 2015.9 274.5 2016.9 290.6 2018 303.5 2019.1 308.5 2019.7 310 2020.3 313.9 2020.8 318.6 2021.4 322.5 2022 324 2022.5 324.2 2023 324.8 2023.6 325.4 2024.1 326 2024.6 326.2" fill="none" stroke="#5b6f7e" stroke-width="2.0" stroke-linejoin="round"/>
<path d="M1158 408h6V498h-6zM1168.6 408h4.7V498h-4.7zM1178 408h3.4V498h-3.4zM1187.2 408h11.7V498h-11.7zM1200 408h3.5V498h-3.5zM1208 408h4.8V498h-4.8zM1218.6 408h5.9V498h-5.9zM1228 408h5.8V498h-5.8zM1243 408h8.2V498h-8.2zM1255.9 408h5.8V498h-5.8zM1273.3 408h5.7V498h-5.7zM1282.6 408h4.7V498h-4.7zM1292 408h5.7V498h-5.7zM1303.6 408h6.9V498h-6.9zM1316.4 408h6.9V498h-6.9zM1330.3 408h2.3V498h-2.3zM1338.5 408h5.8V498h-5.8zM1350 408h6V498h-6zM1359.4 408h5.8V498h-5.8zM1372.2 408h5.8V498h-5.8zM1382.7 408h4.6V498h-4.6zM1393 408h4.7V498h-4.7zM1404.8 408h11.6V498h-11.6zM1424.5 408h4.5V498h-4.5zM1435 408h7V498h-7zM1450 408h6V498h-6zM1459.4 408h4.6V498h-4.6zM1474.6 408h6.9V498h-6.9zM1487.4 408h5.8V498h-5.8zM1499 408h2.3V498h-2.3zM1503.7 408h4.6V498h-4.6zM1514 408h6V498h-6zM1527 408h5.7V498h-5.7zM1538.6 408h4.6V498h-4.6zM1551.4 408h6.9V498h-6.9zM1564 408h6V498h-6zM1576 408h5.6V498h-5.6zM1590 408h5.8V498h-5.8zM1602.8 408h4.7V498h-4.7zM1614.4 408h4.6V498h-4.6zM1625 408h5.7V498h-5.7zM1636.5 408h8.2V498h-8.2zM1649.3 408h9.3V498h-9.3zM1665.6 408h4.7V498h-4.7zM1675 408h7V498h-7zM1688.9 408h5.8V498h-5.8zM1700.5 408h5.8V498h-5.8zM1712 408h6V498h-6zM1723.8 408h3.5V498h-3.5zM1732 408h5.7V498h-5.7zM1746 408h5.7V498h-5.7zM1757.5 408h5.8V498h-5.8zM1769 408h4.8V498h-4.8zM1783 408h4.8V498h-4.8zM1789 408h4.6V498h-4.6zM1801.7 408h8.2V498h-8.2zM1818 408h4.7V498h-4.7zM1829.6 408h7V498h-7zM1846 408h5.7V498h-5.7zM1864.5 408h5.9V498h-5.9zM1878.5 408h5.8V498h-5.8zM1891.3 408h8.1V498h-8.1zM1906.4 408h4.6V498h-4.6zM1917 408h6.9V498h-6.9zM1930.9 408h6.9V498h-6.9zM1941.3 408h4.7V498h-4.7zM1953 408h5.8V498h-5.8zM1964.6 408h1.2V498h-1.2zM1976.2 408h7V498h-7zM1989 408h4.7V498h-4.7zM1997.2 408h4.6V498h-4.6zM2007.6 408h5.9V498h-5.9zM2022.8 408h3.5V498h-3.5z" fill="#ebe4ad"/>
<path d="M1188.9 415V491M1194.8 415V491M1239.6 415V491M1242 415V491M1294.3 415V491M1303.6 415V491M1310.6 415V491M1351.3 415V491M1356.7 415V491M1402.4 415V491M1416.4 415V491M1419.6 415V491M1423.3 415V491M1459.1 415V491M1470 415V491M1481.5 415V491M1515.6 415V491M1528 415V491M1537.4 415V491M1595.7 415V491M1603 415V491M1645.8 415V491M1676 415V491M1706.3 415V491M1733 415V491M1739 415V491M1759.8 415V491M1768 415V491M1785.4 415V491M1846 415V491M1853 415V491M1876.1 415V491M1880.3 415V491M1884.6 415V491M1886.7 415V491M1899.2 415V491M1901.2 415V491M1906 415V491M1908 415V491M1909.9 415V491M1939.4 415V491M1941.6 415V491M1944 415V491M1946.5 415V491M1985.4 415V491M1996.4 415V491M2000.5 415V491" stroke="#5e5a38" stroke-width="1.7" fill="none"/>
<path d="M1166.3 415V491M1169.8 415V491M1185.9 415V491M1191.7 415V491M1198 415V491M1205.8 415V491M1229 415V491M1237.2 415V491M1245.2 415V491M1248 415V491M1251.1 415V491M1262.4 415V491M1279 415V491M1283.8 415V491M1288.4 415V491M1292 415V491M1299 415V491M1304.6 415V491M1343.1 415V491M1348 415V491M1356 415V491M1360.6 415V491M1364.2 415V491M1430.4 415V491M1453.6 415V491M1463.8 415V491M1475.7 415V491M1520.1 415V491M1523.4 415V491M1584 415V491M1589.7 415V491M1599.4 415V491M1616.8 415V491M1620.2 415V491M1623.7 415V491M1627.2 415V491M1630.7 415V491M1670.3 415V491M1683 415V491M1687.7 415V491M1691.2 415V491M1696 415V491M1699.4 415V491M1743.6 415V491M1748.2 415V491M1755.2 415V491M1798.2 415V491M1837.8 415V491M1857.6 415V491M1862.2 415V491M1865.7 415V491M1878.2 415V491M1882.5 415V491M1888.6 415V491M1891 415V491M1893 415V491M1895.3 415V491M1897 415V491M1903.8 415V491M1934.7 415V491M1937.1 415V491M1948.9 415V491M1953 415V491M1958.8 415V491M1990.8 415V491M2011 415V491" stroke="#111" stroke-width="1.7" fill="none"/>
<line x1="1156.4" y1="523.5" x2="2043.7" y2="523.5" stroke="#555" stroke-width="1.3"/>
<line x1="1289.7" y1="523.5" x2="1289.7" y2="542" stroke="#555" stroke-width="1.3"/>
<text x="1289.7" y="575.7" text-anchor="middle">471</text>
<line x1="1475.8" y1="523.5" x2="1475.8" y2="542" stroke="#555" stroke-width="1.3"/>
<text x="1475.8" y="575.7" text-anchor="middle">472</text>
<line x1="1661.9" y1="523.5" x2="1661.9" y2="542" stroke="#555" stroke-width="1.3"/>
<text x="1661.9" y="575.7" text-anchor="middle">473</text>
<line x1="1848" y1="523.5" x2="1848" y2="542" stroke="#555" stroke-width="1.3"/>
<text x="1848" y="575.7" text-anchor="middle">474</text>
<line x1="2034.1" y1="523.5" x2="2034.1" y2="542" stroke="#555" stroke-width="1.3"/>
<text x="2034.1" y="575.7" text-anchor="middle">475</text>
<text x="1600" y="609" font-size="28" text-anchor="middle">Time (s)</text>
<text x="43" y="782" font-size="28" text-anchor="middle" transform="rotate(-90 43 782)">Whisker angle</text>
<text x="43" y="987.7" font-size="28" text-anchor="middle" transform="rotate(-90 43 987.7)">Spikes</text>
<line x1="124" y1="655" x2="124" y2="915.8" stroke="#555" stroke-width="1.3"/>
<line x1="115" y1="657.6" x2="124" y2="657.6" stroke="#555" stroke-width="1.3"/>
<text x="108.9" y="666.9" text-anchor="end">120</text>
<line x1="115" y1="717.2" x2="124" y2="717.2" stroke="#555" stroke-width="1.3"/>
<text x="108.9" y="726.5" text-anchor="end">100</text>
<line x1="115" y1="776.8" x2="124" y2="776.8" stroke="#555" stroke-width="1.3"/>
<text x="108.9" y="786.1" text-anchor="end">80</text>
<line x1="115" y1="836.4" x2="124" y2="836.4" stroke="#555" stroke-width="1.3"/>
<text x="108.9" y="845.7" text-anchor="end">60</text>
<line x1="115" y1="896" x2="124" y2="896" stroke="#555" stroke-width="1.3"/>
<text x="108.9" y="905.3" text-anchor="end">40</text>
<line x1="180" y1="679.2" x2="219" y2="679.2" stroke="#5b6f7e" stroke-width="2"/>
<line x1="180" y1="708.7" x2="219" y2="708.7" stroke="#cf5a73" stroke-width="2"/>
<rect x="180" y="730" width="39" height="15" fill="#e8df9f"/>
<text x="235.8" y="689" font-size="28">Whisker angle</text>
<text x="235.8" y="718.6" font-size="28">Whisker midpoint</text>
<text x="235.8" y="748.2" font-size="28">Protraction phase</text>
<path d="M611.8 957.5h3.6V1017.4h-3.6zM620.1 957.5h4.8V1017.4h-4.8zM635.6 957.5h9.5V1017.4h-9.5zM654.6 957.5h10.7V1017.4h-10.7zM675.3 957.5h9.1V1017.4h-9.1zM694.4 957.5h14.2V1017.4h-14.2zM718.9 957.5h11.1V1017.4h-11.1zM740.3 957.5h8.3V1017.4h-8.3zM755.3 957.5h7.6V1017.4h-7.6zM772.9 957.5h7.8V1017.4h-7.8zM788.6 957.5h7.6V1017.4h-7.6zM805.2 957.5h8.1V1017.4h-8.1zM821.9 957.5h10V1017.4h-10zM840.9 957.5h10.5V1017.4h-10.5zM859.2 957.5h3.6V1017.4h-3.6zM871.1 957.5h8.3V1017.4h-8.3zM888.5 957.5h7.6V1017.4h-7.6zM906.8 957.5h9.5V1017.4h-9.5zM926.5 957.5h6.5V1017.4h-6.5zM939.4 957.5h4.7V1017.4h-4.7zM952.5 957.5h5.4V1017.4h-5.4zM965 957.5h4.3V1017.4h-4.3z" fill="#ebe4ad"/>
<path d="M124.2 862.8 142.4 862.9 160.6 863.3 178.7 863.7 196.9 864.1 215.1 864.2 217.3 864.2 219.5 864.3 221.6 864.4 223.8 864.5 226 864.5 226.8 864.8 227.6 865.7 228.4 866.8 229.2 867.7 230 868 230.8 868.2 231.6 868.7 232.4 869.3 233.2 869.8 234 870 234.8 869.8 235.6 869.3 236.4 868.7 237.2 868.2 238 868 238.8 867.9 239.6 867.6 240.4 867.2 241.2 866.9 242 866.8 244.7 866.5 247.4 865.6 250 864.5 252.7 863.6 255.4 863.3 263.5 863.4 271.6 863.8 279.6 864.2 287.7 864.6 295.8 864.7 302 864.6 308.2 864.2 314.3 863.8 320.5 863.4 326.7 863.3 327.3 863.6 327.8 864.2 328.4 865.1 328.9 865.7 329.5 866 330 866.5 330.5 867.9 331 869.5 331.5 870.9 332 871.4 332.4 871 332.8 869.9 333.2 868.5 333.6 867.4 334 867 334.4 866.7 334.8 866 335.3 865.2 335.7 864.5 336.1 864.2 340.4 864.1 344.7 863.9 349 863.6 353.3 863.4 357.6 863.3 358 863.6 358.4 864.2 358.7 865.1 359.1 865.7 359.5 866 359.9 866.6 360.4 868.3 360.8 870.5 361.3 872.2 361.7 872.8 362.2 872.2 362.6 870.8 363.1 869 363.5 867.6 364 867 364.6 866.8 365.2 866.2 365.8 865.5 366.4 864.9 367 864.7 368.9 864.4 370.8 863.8 372.6 862.9 374.5 862.3 376.4 862 379.6 861.9 382.9 861.7 386.1 861.5 389.4 861.3 392.6 861.2 394.7 861.4 396.9 861.9 399 862.6 401.2 863.1 403.3 863.3 414.1 863.3 424.8 863.1 435.6 863 446.3 862.8 457.1 862.8 461.9 862.8 466.8 863 471.6 863.1 476.5 863.3 481.3 863.3 481.8 863.1 482.4 862.4 482.9 861.6 483.5 860.9 484 860.7 484.5 861.2 485 862.5 485.5 864.2 486 865.5 486.5 866 487.1 868.7 487.7 875.8 488.2 884.5 488.8 891.6 489.4 894.3 490 892.6 490.7 888.3 491.3 882.8 492 878.5 492.6 876.8 493.1 877.6 493.6 879.6 494 882.2 494.5 884.2 495 885 495.5 885.5 496 886.8 496.4 888.4 496.9 889.7 497.4 890.2 497.9 889.7 498.4 888.4 499 886.7 499.5 885.4 500 884.9 500.6 883.1 501.1 878.4 501.7 872.5 502.2 867.8 502.8 866 503.3 865.7 503.8 865.1 504.4 864.2 504.9 863.6 505.4 863.3 511.1 863.3 516.9 863.3 522.6 863.3 528.4 863.3 534.1 863.3 537.5 863.3 540.9 863.3 544.2 863.3 547.6 863.3 551 863.3 551.8 863.8 552.6 865.2 553.5 866.8 554.3 868.2 555.1 868.7 558.1 869.1 561 870.1 564 871.4 566.9 872.4 569.9 872.8 570.7 876.5 571.5 886.2 572.4 898.3 573.2 908 574 911.7 574.7 909.8 575.4 904.8 576 898.5 576.7 893.5 577.4 891.6 578.1 893.7 578.7 899 579.4 905.7 580 911 580.7 913.1 581.5 908.7 582.3 897.3 583.1 883.2 583.9 871.8 584.7 867.4 587.4 867.1 590.1 866.5 592.7 865.6 595.4 865 598.1 864.7 598.9 867 599.7 873.1 600.6 880.5 601.4 886.6 602.2 888.9 602.6 887.5 603 883.8 603.5 879.2 603.9 875.5 604.3 874.1 605.1 877.4 605.8 886.2 606.6 897 607.3 905.8 608.1 909.1 609.3 904.3 610.6 891.9 611.8 876.5 613.1 864.1 614.3 859.3 615.1 860.1 615.9 862.1 616.7 864.6 617.5 866.6 618.3 867.4 619.9 865.7 621.5 861.4 623.2 855.9 624.8 851.6 626.4 849.9 626.9 850 627.4 850.3 628 850.6 628.5 850.9 629 851 630.2 854 631.4 861.8 632.6 871.4 633.8 879.2 635 882.2 637.3 875.1 639.6 856.6 641.9 833.8 644.2 815.3 646.5 808.2 647.6 812.7 648.7 824.5 649.7 839 650.8 850.8 651.9 855.3 652.7 853.9 653.5 850.2 654.4 845.6 655.2 841.9 656 840.5 658.4 834.8 660.8 820 663.3 801.8 665.7 787 668.1 781.3 669.4 786.2 670.8 799 672.1 814.7 673.5 827.5 674.8 832.4 676.9 825 679.1 805.5 681.2 781.3 683.4 761.8 685.5 754.4 686.9 759.9 688.2 774.4 689.6 792.3 690.9 806.8 692.3 812.3 696.1 802.3 699.8 776.1 703.6 743.6 707.3 717.4 711.1 707.4 712.3 713.2 713.6 728.3 714.8 747 716.1 762.1 717.3 767.9 720.4 761.1 723.4 743.3 726.5 721.2 729.5 703.4 732.6 696.6 733.9 700.6 735.3 711 736.6 723.9 738 734.3 739.3 738.3 741.5 735.1 743.6 726.7 745.8 716.3 747.9 707.9 750.1 704.7 750.9 708.3 751.7 717.7 752.5 729.3 753.3 738.7 754.1 742.3 756.3 738.3 758.4 727.9 760.6 715.1 762.7 704.7 764.9 700.7 766.4 708.4 767.9 728.5 769.4 753.5 770.9 773.6 772.4 781.3 774.1 775.9 775.8 761.8 777.6 744.4 779.3 730.3 781 724.9 782.6 731.1 784.2 747.2 785.9 767.1 787.5 783.2 789.1 789.4 790.7 783 792.3 766.2 793.9 745.4 795.5 728.6 797.1 722.2 798.4 729.1 799.8 747.3 801.1 769.7 802.5 787.9 803.8 794.8 806 788.1 808.1 770.7 810.3 749 812.4 731.6 814.6 724.9 815.9 731.4 817.3 748.6 818.6 769.7 820 786.9 821.3 793.4 823.7 785.7 826.1 765.6 828.6 740.6 831 720.5 833.4 712.8 834.7 717.3 836.1 729 837.4 743.6 838.8 755.3 840.1 759.8 842.5 751.8 844.9 731 847.4 705.3 849.8 684.5 852.2 676.5 853.3 679.6 854.4 687.6 855.4 697.6 856.5 705.6 857.6 708.7 858.9 708.1 860.3 706.4 861.6 704.3 863 702.6 864.3 702 865.7 708.7 867 726.1 868.4 747.8 869.7 765.2 871.1 771.9 873.2 765.6 875.4 749.1 877.5 728.8 879.7 712.3 881.8 706 882.9 712.3 884 728.8 885 749.1 886.1 765.6 887.2 771.9 889.4 766 891.5 750.5 893.7 731.5 895.8 716 898 710.1 899.3 716.6 900.7 733.8 902 754.9 903.4 772.1 904.7 778.6 907.7 769 910.6 743.8 913.6 712.6 916.5 687.4 919.5 677.8 920.6 680.6 921.6 688 922.7 697.2 923.7 704.6 924.8 707.4 926.4 703.8 928 694.4 929.7 682.7 931.3 673.3 932.9 669.7 934 671.8 935.1 677.2 936.1 683.8 937.2 689.2 938.3 691.3 939.6 689.8 941 685.7 942.3 680.7 943.7 676.6 945 675.1 946.3 682.4 947.7 701.6 949 725.3 950.4 744.5 951.7 751.8 953 747.4 954.4 736 955.7 721.8 957.1 710.4 958.4 706 959.6 710.6 960.8 722.7 962 737.7 963.2 749.8 964.4 754.4 965.4 750.8 966.3 741.4 967.3 729.8 968.2 720.4 969.2 716.8 970.3 718.1 971.4 721.4 972.4 725.6 973.5 728.9 974.6 730.2 975.5 726.7 976.4 717.7 977.4 706.4 978.3 697.4 979.2 693.9" fill="none" stroke="#5b6f7e" stroke-width="2.0" stroke-linejoin="round"/>
<path d="M124.2 862.8 134.9 863 150.3 863.3 168.3 863.6 186.6 864 202.9 864.3 215.1 864.7 222.7 865.1 227.5 865.6 230.4 866.1 232.2 866.5 234 866.8 236.6 866.8 239.3 866.5 241.3 865.9 243.1 865.1 245.6 864.3 249.5 863.7 255.4 863.3 264.2 863.3 275.3 863.4 287.9 863.7 300.7 864.1 312.6 864.4 322.7 864.7 330.9 865 338 865.3 344.4 865.6 350.1 865.9 355.3 866 360.3 866 364.2 865.8 366.7 865.3 368.7 864.8 371.2 864.2 375.3 863.7 381.8 863.3 391.9 863 404.9 862.8 419.4 862.7 434 862.6 447 862.6 457.1 862.8 463.9 863.1 468.4 863.4 471.5 863.9 473.8 864.4 475.9 865.1 478.6 866 481.7 867.2 484.6 868.7 487.4 870.3 490 871.9 492.5 873.2 494.8 874.1 496.9 874.5 498.6 874.6 500.3 874.4 501.9 874 503.6 873.4 505.5 872.8 507.7 872 510.1 870.8 512.5 869.6 515.1 868.3 517.6 867 520 866 522.3 865 524.5 864.1 526.7 863.2 529 862.4 531.4 862 534.1 862 537 862.4 540.1 863.2 543.3 864.3 546.7 865.6 550.2 867.1 553.8 868.7 557.5 870.8 561.3 873.5 565.3 876.4 569.4 879 573.6 881.1 578 882.2 582.7 882.2 587.6 881.5 592.6 880.3 597.7 878.5 602.8 876.4 607.6 874.1 612.2 871.6 616.7 868.8 621.2 865.6 625.6 862.2 630 858.3 634.4 854 638.9 849.3 643.4 844.1 647.8 838.5 652.3 832.6 656.8 826.5 661.3 820.3 665.8 813.9 670.3 807.1 674.8 800.2 679.2 793.1 683.7 785.9 688.2 778.6 692.7 770.9 697.4 762.5 702 754.1 706.5 746.1 710.9 738.8 715.1 732.9 719 728.3 722.8 724.7 726.4 721.9 729.8 719.9 733.2 718.4 736.6 717.3 739.8 716.7 742.8 716.7 745.7 717.3 748.6 718.4 751.8 720 755.4 722.2 759.5 725.2 764 729 768.7 733.4 773.4 738 778 742.5 782.3 746.4 786.2 750.2 790 754.3 793.5 758.1 797 761.5 800.4 764 803.8 765.2 807 765.2 809.9 764.2 812.7 762.3 815.7 759.6 819 756 822.7 751.8 827.2 746 832.3 738.3 837.8 729.9 843.2 721.7 848.1 714.7 852.2 710.1 855.2 707.8 857.5 707 859.2 707.5 860.9 709 862.9 711.3 865.6 714 869.1 718.2 873.1 724.1 877.4 730.8 881.8 737.2 886 742.3 889.9 745 893.3 745.2 896.4 743.6 899.4 740.7 902.3 736.8 905.4 732.3 908.7 727.6 912.4 721.8 916.3 714.3 920.4 706.3 924.4 698.6 928.2 692.4 931.6 688.6 934.5 687.6 937.1 688.6 939.5 691 941.8 694.2 944 697.6 946.4 700.7 948.8 704.1 951.2 708.3 953.5 712.8 956 716.8 958.5 719.7 961.1 720.8 964.1 719.5 967.6 716.3 971.1 712 974.4 707.4 977.2 703.4 979.2 700.7" fill="none" stroke="#cf5a73" stroke-width="2.0" stroke-linejoin="round"/>
<path d="M126.4 969V1006.4M130.2 969V1006.4M134.8 969V1006.4M138.7 969V1006.4M141.6 969V1006.4M146.8 969V1006.4M152.5 969V1006.4M161.4 969V1006.4M162.6 969V1006.4M167.8 969V1006.4M177.6 969V1006.4M183 969V1006.4M189.5 969V1006.4M190.8 969V1006.4M195.1 969V1006.4M200.3 969V1006.4M205.3 969V1006.4M206.5 969V1006.4M207.6 969V1006.4M210 969V1006.4M211.3 969V1006.4M213.7 969V1006.4M219.4 969V1006.4M220.8 969V1006.4M231 969V1006.4M233.8 969V1006.4M239 969V1006.4M240.2 969V1006.4M245.1 969V1006.4M251.5 969V1006.4M259.9 969V1006.4M267.9 969V1006.4M275.9 969V1006.4M282 969V1006.4M283.3 969V1006.4M291.1 969V1006.4M296.3 969V1006.4M304 969V1006.4M305.4 969V1006.4M311.8 969V1006.4M318 969V1006.4M322 969V1006.4M325.9 969V1006.4M328.9 969V1006.4M332.7 969V1006.4M340 969V1006.4M341.3 969V1006.4M344.1 969V1006.4M348.2 969V1006.4M355.5 969V1006.4M364.1 969V1006.4M369.6 969V1006.4M380.5 969V1006.4M383.9 969V1006.4M392.6 969V1006.4M398.7 969V1006.4M408.5 969V1006.4M411.9 969V1006.4M414.2 969V1006.4M418.1 969V1006.4M426 969V1006.4M432.2 969V1006.4M436.7 969V1006.4M442.6 969V1006.4M448.8 969V1006.4M454.5 969V1006.4M460.6 969V1006.4M462 969V1006.4M469.3 969V1006.4M475 969V1006.4M477.9 969V1006.4M490.9 969V1006.4M494.3 969V1006.4M497.7 969V1006.4M502.9 969V1006.4M509.1 969V1006.4M514.3 969V1006.4M520.5 969V1006.4M529.5 969V1006.4M532.2 969V1006.4M535 969V1006.4M537.4 969V1006.4M539.4 969V1006.4M541.5 969V1006.4M544.4 969V1006.4M547.5 969V1006.4M549.9 969V1006.4M551.6 969V1006.4M554.7 969V1006.4M557.7 969V1006.4M559.7 969V1006.4M562.3 969V1006.4M565.6 969V1006.4M568.8 969V1006.4M571.3 969V1006.4M573.8 969V1006.4M576.4 969V1006.4M578.4 969V1006.4M580.3 969V1006.4M582.2 969V1006.4M585.1 969V1006.4M587.3 969V1006.4M590 969V1006.4M592.3 969V1006.4M594.8 969V1006.4M596.7 969V1006.4M598.4 969V1006.4M601.8 969V1006.4M604 969V1006.4M605.8 969V1006.4M608.6 969V1006.4M611.6 969V1006.4M613.5 969V1006.4M616.1 969V1006.4M626 969V1006.4M629.2 969V1006.4M632.4 969V1006.4M635.6 969V1006.4M646.8 969V1006.4M657 969V1006.4M667.7 969V1006.4M670.4 969V1006.4M673.4 969V1006.4M680.8 969V1006.4M687 969V1006.4M690.8 969V1006.4M694.4 969V1006.4M701.5 969V1006.4M707.7 969V1006.4M710.5 969V1006.4M714 969V1006.4M718.9 969V1006.4M721.2 969V1006.4M733.9 969V1006.4M744.3 969V1006.4M748.6 969V1006.4M753.4 969V1006.4M758.3 969V1006.4M760.7 969V1006.4M763.7 969V1006.4M766.3 969V1006.4M769 969V1006.4M783.1 969V1006.4M793.3 969V1006.4M797.7 969V1006.4M801.3 969V1006.4M811.3 969V1006.4M814.2 969V1006.4M817 969V1006.4M819.8 969V1006.4M824.4 969V1006.4M827.7 969V1006.4M830.9 969V1006.4M834.2 969V1006.4M839.3 969V1006.4M853 969V1006.4M857.7 969V1006.4M860.5 969V1006.4M868.6 969V1006.4M872.3 969V1006.4M877 969V1006.4M881.6 969V1006.4M886.9 969V1006.4M895.5 969V1006.4M898.1 969V1006.4M900.7 969V1006.4M903.4 969V1006.4M905.7 969V1006.4M917.4 969V1006.4M921 969V1006.4M924.4 969V1006.4M928.2 969V1006.4M934 969V1006.4M939.2 969V1006.4M945.3 969V1006.4M949.1 969V1006.4M953.1 969V1006.4M955.9 969V1006.4M961.7 969V1006.4M967.6 969V1006.4M970.4 969V1006.4M972.7 969V1006.4M976 969V1006.4M979.3 969V1006.4" stroke="#000" stroke-width="1.8" fill="none"/>
<line x1="534.1" y1="673.8" x2="534.1" y2="1014.7" stroke="#404040" stroke-width="3"/>
<line x1="124" y1="957.5" x2="124" y2="1018.3" stroke="#555" stroke-width="1.3"/>
<line x1="124" y1="1018.3" x2="980" y2="1018.3" stroke="#555" stroke-width="1.3"/>
<line x1="177.8" y1="1018.3" x2="177.8" y2="1027.6" stroke="#555" stroke-width="1.3"/>
<text x="177.8" y="1051.2" text-anchor="middle">-1.5</text>
<line x1="296.6" y1="1018.3" x2="296.6" y2="1027.6" stroke="#555" stroke-width="1.3"/>
<text x="296.6" y="1051.2" text-anchor="middle">-1</text>
<line x1="415.4" y1="1018.3" x2="415.4" y2="1027.6" stroke="#555" stroke-width="1.3"/>
<text x="415.4" y="1051.2" text-anchor="middle">-0.5</text>
<line x1="534.3" y1="1018.3" x2="534.3" y2="1027.6" stroke="#555" stroke-width="1.3"/>
<text x="534.3" y="1051.2" text-anchor="middle">0</text>
<line x1="653.1" y1="1018.3" x2="653.1" y2="1027.6" stroke="#555" stroke-width="1.3"/>
<text x="653.1" y="1051.2" text-anchor="middle">0.5</text>
<line x1="772" y1="1018.3" x2="772" y2="1027.6" stroke="#555" stroke-width="1.3"/>
<text x="772" y="1051.2" text-anchor="middle">1</text>
<line x1="890.8" y1="1018.3" x2="890.8" y2="1027.6" stroke="#555" stroke-width="1.3"/>
<text x="890.8" y="1051.2" text-anchor="middle">1.5</text>
<text x="1091" y="783.4" font-size="28" text-anchor="middle" transform="rotate(-90 1091 783.4)">Whisker angle</text>
<text x="1091" y="987.7" font-size="28" text-anchor="middle" transform="rotate(-90 1091 987.7)">Spikes</text>
<line x1="1165" y1="655" x2="1165" y2="915.8" stroke="#555" stroke-width="1.3"/>
<line x1="1150.2" y1="707.4" x2="1165" y2="707.4" stroke="#555" stroke-width="1.3"/>
<text x="1145.6" y="716.7" text-anchor="end">120</text>
<line x1="1150.2" y1="767.2" x2="1165" y2="767.2" stroke="#555" stroke-width="1.3"/>
<text x="1145.6" y="776.5" text-anchor="end">100</text>
<line x1="1150.2" y1="827" x2="1165" y2="827" stroke="#555" stroke-width="1.3"/>
<text x="1145.6" y="836.3" text-anchor="end">80</text>
<line x1="1150.2" y1="886.8" x2="1165" y2="886.8" stroke="#555" stroke-width="1.3"/>
<text x="1145.6" y="896.1" text-anchor="end">60</text>
<line x1="1418" y1="823" x2="1456" y2="823" stroke="#5b6f7e" stroke-width="2"/>
<line x1="1418" y1="852" x2="1456" y2="852" stroke="#cf5a73" stroke-width="2"/>
<rect x="1418" y="874" width="38" height="15" fill="#e8df9f"/>
<text x="1473" y="833" font-size="28">Whisker angle</text>
<text x="1473" y="862.5" font-size="28">Whisker midpoint</text>
<text x="1473" y="893.4" font-size="28">Protraction phase</text>
<path d="M1376.7 959h15.8V1017.8h-15.8zM1400.4 959h6.2V1017.8h-6.2zM1411 959h3.5V1017.8h-3.5zM1420.7 959h7.9V1017.8h-7.9zM1434.7 959h5.3V1017.8h-5.3zM1446.7 959h6.5V1017.8h-6.5zM1458.5 959h7V1017.8h-7zM1469.9 959h3.5V1017.8h-3.5zM1482.2 959h3.5V1017.8h-3.5zM1491.9 959h12.3V1017.8h-12.3zM1510.3 959h6.2V1017.8h-6.2zM1521.7 959h8V1017.8h-8zM1535.8 959h12.3V1017.8h-12.3zM1553.4 959h4.4V1017.8h-4.4zM1573.6 959h6.2V1017.8h-6.2zM1587.7 959h6.1V1017.8h-6.1zM1599.1 959h4.4V1017.8h-4.4zM1612.3 959h3.5V1017.8h-3.5zM1620.2 959h7.9V1017.8h-7.9zM1638.7 959h9.6V1017.8h-9.6zM1650.1 959h4.4V1017.8h-4.4zM1664.2 959h6.1V1017.8h-6.1zM1676.5 959h5.2V1017.8h-5.2zM1687.9 959h6.1V1017.8h-6.1zM1699.6 959h4V1017.8h-4zM1711.6 959h8.1V1017.8h-8.1zM1728.1 959h6.8V1017.8h-6.8zM1742.9 959h6.4V1017.8h-6.4zM1757.3 959h7.2V1017.8h-7.2zM1772.5 959h4.9V1017.8h-4.9zM1782.2 959h7.2V1017.8h-7.2zM1796.6 959h4V1017.8h-4zM1810.2 959h8V1017.8h-8zM1827 959h5.7V1017.8h-5.7zM1839.9 959h4V1017.8h-4zM1851.1 959h5.6V1017.8h-5.6zM1866.3 959h8V1017.8h-8zM1882.3 959h8.1V1017.8h-8.1zM1901.6 959h10.4V1017.8h-10.4zM1932.8 959h7.2V1017.8h-7.2zM1957.7 959h5.6V1017.8h-5.6zM1970.5 959h6.4V1017.8h-6.4zM1984.1 959h6.4V1017.8h-6.4z" fill="#ebe4ad"/>
<path d="M1165 852.6 1169 852.5 1173 852.2 1177 851.9 1181 851.6 1185 851.5 1188.4 851.3 1191.8 850.9 1195.3 850.5 1198.7 850.1 1202.1 849.9 1203.7 850.1 1205.3 850.6 1206.8 851.3 1208.4 851.8 1210 852 1211.6 852.2 1213.3 852.7 1214.9 853.2 1216.6 853.7 1218.2 853.9 1220.6 854.5 1223 856.2 1225.5 858.4 1227.9 860.1 1230.3 860.7 1231.8 860.9 1233.4 861.3 1234.9 861.9 1236.5 862.3 1238 862.5 1239.4 862.6 1240.8 862.8 1242.3 863 1243.7 863.2 1245.1 863.3 1245.9 863.1 1246.7 862.5 1247.4 861.8 1248.2 861.2 1249 861 1250.4 860.3 1251.8 858.5 1253.1 856.4 1254.5 854.6 1255.9 853.9 1258.7 854 1261.5 854.1 1264.4 854.3 1267.2 854.4 1270 854.5 1275.8 854.4 1281.6 854.3 1287.3 854.1 1293.1 854 1298.9 853.9 1306.1 853.9 1313.2 853.9 1320.4 853.9 1327.5 853.9 1334.7 853.9 1336.7 854 1338.7 854.4 1340.6 854.8 1342.6 855.2 1344.6 855.3 1346.8 856.3 1348.9 859 1351.1 862.3 1353.2 865 1355.4 866 1358.3 866.1 1361.3 866.5 1364.2 866.9 1367.2 867.3 1370.1 867.4 1370.9 866.4 1371.7 863.7 1372.6 860.3 1373.4 857.6 1374.2 856.6 1375 856.8 1375.7 857.4 1376.5 858.2 1377.2 858.8 1378 859 1378.9 854.1 1379.7 841.4 1380.6 825.8 1381.4 813.1 1382.3 808.2 1383.4 803.6 1384.4 791.5 1385.5 776.5 1386.5 764.4 1387.6 759.8 1388.9 756.3 1390.3 747.3 1391.6 736 1393 727 1394.3 723.5 1395.4 728.3 1396.5 740.7 1397.5 756.1 1398.6 768.5 1399.7 773.3 1401 770.1 1402.4 761.7 1403.7 751.3 1405.1 742.9 1406.4 739.7 1407.2 740.9 1408 743.9 1408.9 747.6 1409.7 750.6 1410.5 751.8 1411.6 748.8 1412.7 741.1 1413.7 731.5 1414.8 723.8 1415.9 720.8 1417 725.8 1418 738.9 1419.1 755.2 1420.1 768.3 1421.2 773.3 1422.6 768.5 1423.9 756.1 1425.3 740.7 1426.6 728.3 1428 723.5 1429 724.6 1430 727.5 1431 731 1432 733.9 1433 735 1434.4 732.6 1435.8 726.4 1437.2 718.7 1438.6 712.5 1440 710.1 1441.1 714.5 1442.2 725.9 1443.2 740 1444.3 751.4 1445.4 755.8 1447 753.9 1448.6 748.8 1450.3 742.6 1451.9 737.5 1453.5 735.6 1454.3 737.9 1455.1 744 1455.9 751.4 1456.7 757.5 1457.5 759.8 1459.1 755.4 1460.7 744 1462.4 729.9 1464 718.5 1465.6 714.1 1467.2 713.2 1468.8 710.9 1470.5 707.9 1472.1 705.6 1473.7 704.7 1475.8 708.9 1478 720 1480.1 733.8 1482.3 744.9 1484.4 749.1 1485.1 748.2 1485.8 746 1486.6 743.1 1487.3 740.9 1488 740 1488.9 744.5 1489.8 756.1 1490.7 770.6 1491.6 782.2 1492.5 786.7 1494.1 780 1495.7 762.6 1497.4 740.9 1499 723.5 1500.6 716.8 1502.1 718 1503.6 721 1505 724.8 1506.5 727.8 1508 729 1509.5 726.8 1511 721.1 1512.4 713.9 1513.9 708.2 1515.4 706 1516.7 711.4 1518.1 725.5 1519.4 743 1520.8 757.1 1522.1 762.5 1523.7 760.4 1525.3 755.1 1526.9 748.4 1528.5 743.1 1530.1 741 1531.2 744.5 1532.3 753.5 1533.3 764.8 1534.4 773.8 1535.5 777.3 1537.1 771 1538.7 754.5 1540.4 734.2 1542 717.7 1543.6 711.4 1544.9 710.6 1546.3 708.6 1547.6 706.2 1549 704.2 1550.3 703.4 1551 704.4 1551.6 707.1 1552.3 710.5 1552.9 713.2 1553.6 714.2 1554.4 713.5 1555.2 711.6 1556.1 709.4 1556.9 707.5 1557.7 706.8 1559.6 708.3 1561.5 712.2 1563.5 717 1565.4 720.9 1567.3 722.4 1568.7 727 1570 738.9 1571.4 753.7 1572.7 765.6 1574.1 770.2 1575.5 767.6 1576.9 760.7 1578.2 752.3 1579.6 745.4 1581 742.8 1582.4 744.9 1583.7 750.4 1585.1 757.1 1586.4 762.6 1587.8 764.7 1589.2 759 1590.5 743.9 1591.9 725.4 1593.2 710.3 1594.6 704.6 1595.7 705.5 1596.8 707.9 1597.9 710.9 1599 713.3 1600.1 714.2 1601 712.5 1601.9 708.1 1602.9 702.5 1603.8 698.1 1604.7 696.4 1606 702.5 1607.2 718.6 1608.5 738.4 1609.7 754.5 1611 760.6 1611.8 760.7 1612.6 761.1 1613.4 761.5 1614.2 761.9 1615 762 1616.1 764.1 1617.2 769.5 1618.3 776.3 1619.4 781.7 1620.5 783.8 1622.4 777.2 1624.3 759.8 1626.3 738.2 1628.2 720.8 1630.1 714.2 1631.3 714.9 1632.5 716.9 1633.6 719.3 1634.8 721.3 1636 722 1637.8 720.3 1639.6 716 1641.5 710.6 1643.3 706.3 1645.1 704.6 1647.6 706.9 1650 713.1 1652.5 720.7 1654.9 726.9 1657.4 729.2 1658.8 734.4 1660.1 748.1 1661.5 764.9 1662.8 778.6 1664.2 783.8 1665.6 779.6 1666.9 768.7 1668.3 755.2 1669.6 744.3 1671 740.1 1672.1 743.4 1673.2 751.9 1674.3 762.4 1675.4 770.9 1676.5 774.2 1677.6 769.5 1678.7 757.2 1679.8 742.1 1680.9 729.8 1682 725.1 1683.1 729.5 1684.2 741.1 1685.2 755.5 1686.3 767.1 1687.4 771.5 1688.8 766.3 1690.1 752.6 1691.5 735.8 1692.8 722.1 1694.2 716.9 1695.8 719.6 1697.3 726.6 1698.9 735.3 1700.4 742.3 1702 745 1704 752.4 1706 771.6 1708 795.4 1710 814.6 1712 822 1713.6 815.5 1715.3 798.4 1716.9 777.4 1718.6 760.3 1720.2 753.8 1721.6 757.3 1722.9 766.5 1724.3 777.9 1725.6 787.1 1727 790.6 1728.9 783.8 1730.8 766.1 1732.8 744.1 1734.7 726.4 1736.6 719.6 1737.9 721.6 1739.2 727 1740.4 733.6 1741.7 739 1743 741 1744.4 738.6 1745.9 732.2 1747.3 724.3 1748.8 717.9 1750.2 715.5 1751.6 719.5 1752.9 730.1 1754.3 743.3 1755.6 753.9 1757 757.9 1758.6 754.4 1760.3 745.2 1761.9 733.7 1763.6 724.5 1765.2 721 1766.6 727.4 1767.9 744.1 1769.3 764.8 1770.6 781.5 1772 787.9 1773.1 783.5 1774.2 771.9 1775.3 757.5 1776.4 745.9 1777.5 741.5 1778 742.7 1778.5 745.8 1779 749.7 1779.5 752.8 1780 754 1782.5 749 1785 736 1787.5 719.9 1790 706.9 1792.5 701.9 1793.6 703.3 1794.7 707.1 1795.8 711.7 1796.9 715.5 1798 716.9 1798.8 716.1 1799.6 714.1 1800.5 711.5 1801.3 709.5 1802.1 708.7 1803.7 715.9 1805.4 734.6 1807 757.9 1808.7 776.6 1810.3 783.8 1812.2 778.7 1814.1 765.4 1816 749 1817.9 735.7 1819.8 730.6 1820.9 734.1 1822 743.3 1823.1 754.7 1824.2 763.9 1825.3 767.4 1827.2 761.3 1829.1 745.3 1831 725.4 1832.9 709.4 1834.8 703.3 1835.6 705.4 1836.4 710.8 1837.3 717.6 1838.1 723 1838.9 725.1 1840 723.4 1841.1 719 1842.2 713.5 1843.3 709.1 1844.4 707.4 1846 712.3 1847.7 725.3 1849.3 741.3 1851 754.3 1852.6 759.2 1853.7 757.1 1854.8 751.7 1855.8 744.9 1856.9 739.5 1858 737.4 1859.6 744.2 1861.3 761.9 1862.9 783.9 1864.6 801.6 1866.2 808.4 1868.1 802.5 1870 786.9 1872 767.8 1873.9 752.2 1875.8 746.3 1877.2 751.6 1878.5 765.4 1879.9 782.4 1881.2 796.2 1882.6 801.5 1884.2 796.2 1885.9 782.4 1887.5 765.4 1889.2 751.6 1890.8 746.3 1893 756.4 1895.2 782.8 1897.3 815.5 1899.5 841.9 1901.7 852 1903.6 845.9 1905.5 829.9 1907.5 810 1909.4 794 1911.3 787.9 1913.5 794.5 1915.7 811.9 1917.8 833.5 1920 850.9 1922.2 857.5 1924.4 860.2 1926.6 867.4 1928.7 876.3 1930.9 883.5 1933.1 886.2 1934.7 882.4 1936.4 872.5 1938 860.3 1939.7 850.4 1941.3 846.6 1942.2 847.9 1943.2 851.2 1944.1 855.4 1945.1 858.7 1946 860 1946.8 859.7 1947.6 859 1948.4 858 1949.2 857.3 1950 857 1951 857.4 1952 858.6 1953 860 1954 861.2 1955 861.6 1955.6 862.2 1956.2 863.8 1956.8 865.8 1957.4 867.4 1958 868 1959 866 1960.1 860.6 1961.1 854 1962.2 848.6 1963.2 846.6 1964.6 848.8 1965.9 854.6 1967.3 861.8 1968.6 867.6 1970 869.8 1971.6 865.8 1973.3 855.2 1974.9 842.1 1976.6 831.5 1978.2 827.5 1979.3 831.4 1980.4 841.6 1981.4 854.3 1982.5 864.5 1983.6 868.4 1985 861.6 1986.4 843.9 1987.7 822 1989.1 804.3 1990.5 797.5" fill="none" stroke="#5b6f7e" stroke-width="2.0" stroke-linejoin="round"/>
<path d="M1165 852.6 1169.4 852.3 1175.5 851.9 1182.7 851.4 1190.4 851 1198 850.9 1204.8 851.2 1210.9 852.1 1216.9 853.6 1222.7 855.4 1228.4 857.1 1234.1 858.5 1239.7 859.3 1244.9 859.3 1249.5 858.8 1254.1 857.9 1259.1 856.9 1264.9 856 1272 855.3 1281.2 854.8 1292.2 854.1 1304.1 853.6 1315.8 853.3 1326.3 853.3 1334.7 853.9 1340.7 855.4 1345 857.6 1348.1 860.3 1350.6 862.9 1352.9 864.9 1355.4 866 1358.1 866.6 1360.4 867.3 1362.6 867.4 1364.6 866.5 1366.6 864 1368.8 859.3 1371.1 851.5 1373.4 840.9 1375.7 828.6 1378 816.1 1380.2 804.4 1382.3 794.8 1384.2 787.4 1386 781.2 1387.7 776 1389.3 771.3 1391.1 766.9 1393 762.5 1394.9 758.1 1396.8 753.9 1398.7 750.1 1400.8 746.6 1403.4 743.5 1406.4 741 1410.1 739.1 1414.4 737.9 1419 737.1 1423.8 736.6 1428.7 736.2 1433.3 735.6 1438 735 1442.9 734.5 1447.8 734.1 1452.4 733.7 1456.6 733.4 1460.2 733 1462.9 732.5 1464.8 731.9 1466.3 731.3 1467.6 730.9 1469.1 730.7 1471 730.8 1473.3 731.4 1475.6 732.5 1478 733.8 1480.7 735.2 1483.7 736.3 1487.1 737 1491.1 737.2 1495.8 736.9 1500.7 736.5 1505.6 736 1510.2 735.7 1514 735.6 1517 735.9 1519.5 736.6 1521.6 737.3 1523.5 738 1525.4 738.4 1527.4 738.3 1529.5 737.6 1531.6 736.5 1533.7 735.1 1535.8 733.6 1537.9 732 1540 730.6 1542.2 729.1 1544.5 727.3 1546.7 725.5 1549 723.9 1551.3 722.8 1553.6 722.4 1555.9 722.8 1558.2 723.9 1560.4 725.5 1562.7 727.3 1565 729 1567.3 730.6 1569.5 732.1 1571.6 733.7 1573.6 735.3 1575.8 736.8 1578.2 738 1581 738.8 1584.2 739 1587.9 738.7 1591.7 738.2 1595.6 737.5 1599.4 737 1602.8 736.8 1605.8 737.1 1608.5 737.8 1611 738.5 1613.5 739.1 1616.2 739.3 1619.2 738.8 1622.6 737.1 1626.3 734.4 1630.1 731.3 1633.9 728.3 1637.6 726.1 1641 725.1 1644.1 725.6 1647 727.3 1649.7 729.6 1652.3 732.3 1654.9 735 1657.4 737.4 1659.8 739.6 1662 741.9 1664.2 744.1 1666.4 746.3 1668.6 748.2 1671 749.7 1673.4 750.5 1675.9 750.8 1678.3 750.7 1681 750.7 1684 751.2 1687.4 752.4 1691.4 754.8 1696.1 758.3 1701.1 762.2 1706 765.9 1710.7 768.8 1714.7 770.2 1718.1 770 1721 768.6 1723.6 766.4 1726 763.6 1728.5 760.7 1731.1 757.9 1733.8 754.9 1736.4 751.2 1739 747.4 1741.6 743.8 1744.5 740.8 1747.5 738.8 1750.8 738.1 1754.4 738.5 1758.1 739.6 1761.8 740.7 1765.6 741.5 1769.3 741.5 1772.9 740.4 1776.6 738.5 1780.2 736.2 1783.9 734 1787.6 732.5 1791.2 731.9 1794.8 732.8 1798.4 734.9 1801.9 737.5 1805.5 740.1 1809.2 742.1 1813 742.8 1817.1 741.9 1821.5 739.7 1826 737 1830.3 734.1 1834.3 731.8 1837.6 730.6 1840.1 730.3 1841.9 730.4 1843.4 731 1844.8 732.3 1846.4 734.4 1848.5 737.4 1851.1 741.8 1854 747.6 1857 754.2 1860.3 761 1863.8 767.4 1867.6 772.9 1871.7 777 1876.1 780.2 1880.7 782.9 1885.5 785.9 1890.3 789.6 1894.9 794.7 1899.6 801.6 1904.4 810.1 1909.2 819.3 1913.9 828.5 1918.3 837 1922.2 843.9 1925.5 849.4 1928.4 854.1 1930.9 858 1933.3 861.3 1935.8 863.8 1938.6 865.7 1941.6 866.9 1944.8 867.2 1948 866.9 1951.2 866 1954.5 864.7 1957.7 863 1960.9 860.8 1964.3 858 1967.6 854.7 1970.8 851.2 1973.9 847.5 1976.8 843.9 1979.6 840 1982.3 835.6 1984.8 831.1 1987.1 826.9 1989.1 823.3 1990.5 820.7" fill="none" stroke="#cf5a73" stroke-width="2.0" stroke-linejoin="round"/>
<path d="M1196 969.2V1006.6M1375.8 969.2V1006.6M1379.3 969.2V1006.6M1381.2 969.2V1006.6M1385.6 969.2V1006.6M1387.3 969.2V1006.6M1391.3 969.2V1006.6M1394.3 969.2V1006.6M1396.3 969.2V1006.6M1400.1 969.2V1006.6M1408.3 969.2V1006.6M1411 969.2V1006.6M1418.9 969.2V1006.6M1421.5 969.2V1006.6M1425 969.2V1006.6M1427.7 969.2V1006.6M1431.2 969.2V1006.6M1433.8 969.2V1006.6M1435.6 969.2V1006.6M1438.2 969.2V1006.6M1442.6 969.2V1006.6M1445.9 969.2V1006.6M1449.5 969.2V1006.6M1452.8 969.2V1006.6M1455.9 969.2V1006.6M1458.5 969.2V1006.6M1462.8 969.2V1006.6M1484 969.2V1006.6M1485.7 969.2V1006.6M1488.2 969.2V1006.6M1491.5 969.2V1006.6M1494.7 969.2V1006.6M1496.3 969.2V1006.6M1499.8 969.2V1006.6M1509.4 969.2V1006.6M1527 969.2V1006.6M1530.5 969.2V1006.6M1534 969.2V1006.6M1537.6 969.2V1006.6M1541 969.2V1006.6M1560.4 969.2V1006.6M1573.6 969.2V1006.6M1575.4 969.2V1006.6M1577.8 969.2V1006.6M1581.4 969.2V1006.6M1584.2 969.2V1006.6M1598.2 969.2V1006.6M1615.8 969.2V1006.6M1617.6 969.2V1006.6M1619.2 969.2V1006.6M1621.9 969.2V1006.6M1625 969.2V1006.6M1627.7 969.2V1006.6M1630.5 969.2V1006.6M1632.5 969.2V1006.6M1642.2 969.2V1006.6M1657.1 969.2V1006.6M1663.3 969.2V1006.6M1665.9 969.2V1006.6M1668.6 969.2V1006.6M1672 969.2V1006.6M1674.7 969.2V1006.6M1677.3 969.2V1006.6M1680.8 969.2V1006.6M1686.1 969.2V1006.6M1706 969.2V1006.6M1710 969.2V1006.6M1713.2 969.2V1006.6M1716.4 969.2V1006.6M1718.8 969.2V1006.6M1721.3 969.2V1006.6M1722.9 969.2V1006.6M1724.9 969.2V1006.6M1726.9 969.2V1006.6M1728.5 969.2V1006.6M1732 969.2V1006.6M1734 969.2V1006.6M1747.7 969.2V1006.6M1762.1 969.2V1006.6M1763.7 969.2V1006.6M1766.1 969.2V1006.6M1770.1 969.2V1006.6M1773.3 969.2V1006.6M1775.8 969.2V1006.6M1780.6 969.2V1006.6M1812.6 969.2V1006.6M1815.8 969.2V1006.6M1818.2 969.2V1006.6M1820.6 969.2V1006.6M1854.3 969.2V1006.6M1860.7 969.2V1006.6M1865.5 969.2V1006.6M1868.7 969.2V1006.6M1871.9 969.2V1006.6M1875.1 969.2V1006.6M1881.5 969.2V1006.6M1894.4 969.2V1006.6M1928 969.2V1006.6M1931.2 969.2V1006.6M1935.2 969.2V1006.6M1939.2 969.2V1006.6M1941.6 969.2V1006.6M1943 969.2V1006.6M1945.7 969.2V1006.6M1947.7 969.2V1006.6M1950.6 969.2V1006.6M1952.7 969.2V1006.6M1955 969.2V1006.6M1957.9 969.2V1006.6M1959.9 969.2V1006.6M1962.8 969.2V1006.6M1968.1 969.2V1006.6M1974.5 969.2V1006.6M1988.9 969.2V1006.6" stroke="#000" stroke-width="1.8" fill="none"/>
<line x1="1334.7" y1="656.3" x2="1334.7" y2="1017.4" stroke="#404040" stroke-width="3"/>
<line x1="1165" y1="958.8" x2="1165" y2="1018.8" stroke="#555" stroke-width="1.3"/>
<line x1="1165" y1="1018.8" x2="1990.5" y2="1018.8" stroke="#555" stroke-width="1.3"/>
<line x1="1215.8" y1="1018.8" x2="1215.8" y2="1027.6" stroke="#555" stroke-width="1.3"/>
<text x="1215.8" y="1051.2" text-anchor="middle">-0.5</text>
<line x1="1334.6" y1="1018.8" x2="1334.6" y2="1027.6" stroke="#555" stroke-width="1.3"/>
<text x="1334.6" y="1051.2" text-anchor="middle">0</text>
<line x1="1453.4" y1="1018.8" x2="1453.4" y2="1027.6" stroke="#555" stroke-width="1.3"/>
<text x="1453.4" y="1051.2" text-anchor="middle">0.5</text>
<line x1="1572.2" y1="1018.8" x2="1572.2" y2="1027.6" stroke="#555" stroke-width="1.3"/>
<text x="1572.2" y="1051.2" text-anchor="middle">1</text>
<line x1="1691" y1="1018.8" x2="1691" y2="1027.6" stroke="#555" stroke-width="1.3"/>
<text x="1691" y="1051.2" text-anchor="middle">1.5</text>
<line x1="1809.8" y1="1018.8" x2="1809.8" y2="1027.6" stroke="#555" stroke-width="1.3"/>
<text x="1809.8" y="1051.2" text-anchor="middle">2</text>
<line x1="1928.6" y1="1018.8" x2="1928.6" y2="1027.6" stroke="#555" stroke-width="1.3"/>
<text x="1928.6" y="1051.2" text-anchor="middle">2.5</text>
<rect x="375" y="1258.4" width="12.5" height="5.5" fill="#412ebe"/>
<rect x="364" y="1258.4" width="11" height="5.5" fill="#484aed"/>
<rect x="387" y="1258.4" width="11" height="5.5" fill="#484aed"/>
<rect x="137" y="1288" width="36" height="10" fill="#484aed"/>
<rect x="149" y="1283" width="11" height="6" fill="#484aed"/>
<rect x="339.6" y="1113" width="11.4" height="6" fill="#463cdc"/>
<rect x="469.8" y="1149" width="11.4" height="6" fill="#484aed"/>
<rect x="280" y="1190" width="11" height="22" fill="#4167fc"/>
<rect x="315" y="1194" width="10" height="12" fill="#4167fc"/>
<rect x="388" y="1236" width="11" height="9" fill="#4167fc"/>
<line x1="534" y1="1100.5" x2="534" y2="1343.8" stroke="#111" stroke-width="2.6"/>
<line x1="121" y1="1100" x2="121" y2="1345.6" stroke="#555" stroke-width="1.3"/>
<line x1="121" y1="1345.6" x2="979" y2="1345.6" stroke="#555" stroke-width="1.3"/>
<line x1="108.9" y1="1100.3" x2="121" y2="1100.3" stroke="#555" stroke-width="1.3"/>
<text x="104" y="1107.5" text-anchor="end">25</text>
<line x1="108.9" y1="1151.4" x2="121" y2="1151.4" stroke="#555" stroke-width="1.3"/>
<text x="104" y="1158.6" text-anchor="end">20</text>
<line x1="108.9" y1="1202.5" x2="121" y2="1202.5" stroke="#555" stroke-width="1.3"/>
<text x="104" y="1209.7" text-anchor="end">15</text>
<line x1="108.9" y1="1253.6" x2="121" y2="1253.6" stroke="#555" stroke-width="1.3"/>
<text x="104" y="1260.8" text-anchor="end">10</text>
<line x1="108.9" y1="1304.7" x2="121" y2="1304.7" stroke="#555" stroke-width="1.3"/>
<text x="104" y="1311.9" text-anchor="end">5</text>
<line x1="108.9" y1="1345.6" x2="121" y2="1345.6" stroke="#555" stroke-width="1.3"/>
<text x="104" y="1352.8" text-anchor="end">0</text>
<line x1="177.8" y1="1345.6" x2="177.8" y2="1354.4" stroke="#555" stroke-width="1.3"/>
<text x="177.8" y="1380" text-anchor="middle">-1.5</text>
<line x1="296.6" y1="1345.6" x2="296.6" y2="1354.4" stroke="#555" stroke-width="1.3"/>
<text x="296.6" y="1380" text-anchor="middle">-1</text>
<line x1="415.4" y1="1345.6" x2="415.4" y2="1354.4" stroke="#555" stroke-width="1.3"/>
<text x="415.4" y="1380" text-anchor="middle">-0.5</text>
<line x1="534.3" y1="1345.6" x2="534.3" y2="1354.4" stroke="#555" stroke-width="1.3"/>
<text x="534.3" y="1380" text-anchor="middle">0</text>
<line x1="653.1" y1="1345.6" x2="653.1" y2="1354.4" stroke="#555" stroke-width="1.3"/>
<text x="653.1" y="1380" text-anchor="middle">0.5</text>
<line x1="772" y1="1345.6" x2="772" y2="1354.4" stroke="#555" stroke-width="1.3"/>
<text x="772" y="1380" text-anchor="middle">1</text>
<line x1="890.8" y1="1345.6" x2="890.8" y2="1354.4" stroke="#555" stroke-width="1.3"/>
<text x="890.8" y="1380" text-anchor="middle">1.5</text>
<text x="43.5" y="1222.5" font-size="28" text-anchor="middle" transform="rotate(-90 43.5 1222.5)">Frequency (Hz)</text>
<text x="550" y="1411.3" font-size="28" text-anchor="middle">Time from whisking bout (ms)</text>
<line x1="998.6" y1="1100.2" x2="998.6" y2="1341" stroke="#222" stroke-width="1"/>
<line x1="998.6" y1="1144.6" x2="1001.5" y2="1144.6" stroke="#222" stroke-width="1"/>
<text x="1004.5" y="1150.1" font-size="20.5">25</text>
<line x1="998.6" y1="1189" x2="1001.5" y2="1189" stroke="#222" stroke-width="1"/>
<text x="1004.5" y="1194.5" font-size="20.5">20</text>
<line x1="998.6" y1="1233.6" x2="1001.5" y2="1233.6" stroke="#222" stroke-width="1"/>
<text x="1004.5" y="1239.1" font-size="20.5">15</text>
<line x1="998.6" y1="1278.4" x2="1001.5" y2="1278.4" stroke="#222" stroke-width="1"/>
<text x="1004.5" y="1283.9" font-size="20.5">10</text>
<line x1="998.6" y1="1322.8" x2="1001.5" y2="1322.8" stroke="#222" stroke-width="1"/>
<text x="1004.5" y="1328.3" font-size="20.5">5</text>
<text x="1041.5" y="1215.2" font-size="20.5" text-anchor="middle" transform="rotate(90 1041.5 1215.2)">Power (dB)</text>
<rect x="1164.5" y="1100.7" width="76.9" height="243" fill="#4463fc"/>
<rect x="1164.5" y="1325" width="76.9" height="18.6" fill="#4755f5"/>
<rect x="1165" y="1100.7" width="5.5" height="243" fill="#3082f8"/>
<rect x="1165" y="1325" width="5.5" height="18.6" fill="#4167fc"/>
<rect x="1241.4" y="1100.7" width="12" height="243" fill="#4747e9"/>
<rect x="1253.4" y="1100.7" width="58.6" height="243" fill="#402bb6"/>
<rect x="1312" y="1100.7" width="12" height="243" fill="#2c8df2"/>
<rect x="1312" y="1315" width="12" height="28.6" fill="#0fb0d6"/>
<line x1="1334.2" y1="1100.7" x2="1334.2" y2="1341" stroke="#111" stroke-width="2.6"/>
<line x1="1164.4" y1="1100.7" x2="1164.4" y2="1345.6" stroke="#3a4a70" stroke-width="1.6"/>
<line x1="1164.4" y1="1345.6" x2="1988" y2="1345.6" stroke="#555" stroke-width="1.3"/>
<line x1="1152.2" y1="1100.3" x2="1164.4" y2="1100.3" stroke="#555" stroke-width="1.3"/>
<text x="1148" y="1107.5" text-anchor="end">25</text>
<line x1="1152.2" y1="1151.4" x2="1164.4" y2="1151.4" stroke="#555" stroke-width="1.3"/>
<text x="1148" y="1158.6" text-anchor="end">20</text>
<line x1="1152.2" y1="1202.5" x2="1164.4" y2="1202.5" stroke="#555" stroke-width="1.3"/>
<text x="1148" y="1209.7" text-anchor="end">15</text>
<line x1="1152.2" y1="1253.6" x2="1164.4" y2="1253.6" stroke="#555" stroke-width="1.3"/>
<text x="1148" y="1260.8" text-anchor="end">10</text>
<line x1="1152.2" y1="1304.7" x2="1164.4" y2="1304.7" stroke="#555" stroke-width="1.3"/>
<text x="1148" y="1311.9" text-anchor="end">5</text>
<line x1="1152.2" y1="1345.6" x2="1164.4" y2="1345.6" stroke="#555" stroke-width="1.3"/>
<text x="1148" y="1352.8" text-anchor="end">0</text>
<line x1="1215.3" y1="1345.6" x2="1215.3" y2="1354.4" stroke="#555" stroke-width="1.3"/>
<text x="1215.3" y="1380" text-anchor="middle">-0.5</text>
<line x1="1334.1" y1="1345.6" x2="1334.1" y2="1354.4" stroke="#555" stroke-width="1.3"/>
<text x="1334.1" y="1380" text-anchor="middle">0</text>
<line x1="1452.8" y1="1345.6" x2="1452.8" y2="1354.4" stroke="#555" stroke-width="1.3"/>
<text x="1452.8" y="1380" text-anchor="middle">0.5</text>
<line x1="1571.6" y1="1345.6" x2="1571.6" y2="1354.4" stroke="#555" stroke-width="1.3"/>
<text x="1571.6" y="1380" text-anchor="middle">1</text>
<line x1="1690.3" y1="1345.6" x2="1690.3" y2="1354.4" stroke="#555" stroke-width="1.3"/>
<text x="1690.3" y="1380" text-anchor="middle">1.5</text>
<line x1="1809.1" y1="1345.6" x2="1809.1" y2="1354.4" stroke="#555" stroke-width="1.3"/>
<text x="1809.1" y="1380" text-anchor="middle">2</text>
<line x1="1927.8" y1="1345.6" x2="1927.8" y2="1354.4" stroke="#555" stroke-width="1.3"/>
<text x="1927.8" y="1380" text-anchor="middle">2.5</text>
<text x="1096.5" y="1222.5" font-size="28" text-anchor="middle" transform="rotate(-90 1096.5 1222.5)">Frequency (Hz)</text>
<text x="1645.8" y="1411.3" font-size="28" text-anchor="middle">Time from whisking bout (ms)</text>
<line x1="2009.1" y1="1100.9" x2="2009.1" y2="1343.3" stroke="#222" stroke-width="1"/>
<line x1="2009.1" y1="1118.7" x2="2012" y2="1118.7" stroke="#222" stroke-width="1"/>
<text x="2015.3" y="1126" font-size="21">25</text>
<line x1="2009.1" y1="1164.4" x2="2012" y2="1164.4" stroke="#222" stroke-width="1"/>
<text x="2015.3" y="1171.7" font-size="21">20</text>
<line x1="2009.1" y1="1208.8" x2="2012" y2="1208.8" stroke="#222" stroke-width="1"/>
<text x="2015.3" y="1216.1" font-size="21">15</text>
<line x1="2009.1" y1="1253.9" x2="2012" y2="1253.9" stroke="#222" stroke-width="1"/>
<text x="2015.3" y="1261.2" font-size="21">10</text>
<line x1="2009.1" y1="1298.9" x2="2012" y2="1298.9" stroke="#222" stroke-width="1"/>
<text x="2015.3" y="1306.2" font-size="21">5</text>
<line x1="2009.1" y1="1344" x2="2012" y2="1344" stroke="#222" stroke-width="1"/>
<text x="2015.3" y="1351.3" font-size="21">0</text>
<text x="2052" y="1223" font-size="21" text-anchor="middle" transform="rotate(90 2052 1223)">Power (dB)</text>
<rect x="122" y="1929" width="17.5" height="28.6" fill="#4167fc"/>
<rect x="139.5" y="1929" width="28" height="28.6" fill="#465cf9"/>
<rect x="139.5" y="1929" width="10.5" height="28.6" fill="#4743e5"/>
<rect x="163" y="1929" width="5" height="18" fill="#484ef1"/>
<rect x="236.7" y="1921" width="50" height="36.6" fill="#4463fc"/>
<rect x="244.5" y="1937" width="9" height="20.6" fill="#4539d8"/>
<line x1="324.2" y1="1477" x2="324.2" y2="1968" stroke="#111" stroke-width="2.6"/>
<line x1="118.7" y1="1477" x2="118.7" y2="1962.3" stroke="#555" stroke-width="1.3"/>
<line x1="118.7" y1="1962.3" x2="634.8" y2="1962.3" stroke="#555" stroke-width="1.3"/>
<line x1="108" y1="1477" x2="118.7" y2="1477" stroke="#555" stroke-width="1.3"/>
<text x="104.2" y="1483.5" text-anchor="end">25</text>
<line x1="108" y1="1578" x2="118.7" y2="1578" stroke="#555" stroke-width="1.3"/>
<text x="104.2" y="1584.5" text-anchor="end">20</text>
<line x1="108" y1="1679.4" x2="118.7" y2="1679.4" stroke="#555" stroke-width="1.3"/>
<text x="104.2" y="1685.9" text-anchor="end">15</text>
<line x1="108" y1="1780.4" x2="118.7" y2="1780.4" stroke="#555" stroke-width="1.3"/>
<text x="104.2" y="1786.9" text-anchor="end">10</text>
<line x1="108" y1="1881.7" x2="118.7" y2="1881.7" stroke="#555" stroke-width="1.3"/>
<text x="104.2" y="1888.2" text-anchor="end">5</text>
<line x1="108" y1="1962.3" x2="118.7" y2="1962.3" stroke="#555" stroke-width="1.3"/>
<text x="104.2" y="1968.8" text-anchor="end">0</text>
<line x1="153.2" y1="1962.3" x2="153.2" y2="1968.5" stroke="#555" stroke-width="1.3"/>
<text x="153.2" y="1999.4" text-anchor="middle">-1.5</text>
<line x1="210.2" y1="1962.3" x2="210.2" y2="1968.5" stroke="#555" stroke-width="1.3"/>
<text x="210.2" y="1999.4" text-anchor="middle">-1</text>
<line x1="267.2" y1="1962.3" x2="267.2" y2="1968.5" stroke="#555" stroke-width="1.3"/>
<text x="267.2" y="1999.4" text-anchor="middle">-0.5</text>
<line x1="324.2" y1="1962.3" x2="324.2" y2="1968.5" stroke="#555" stroke-width="1.3"/>
<text x="324.2" y="1999.4" text-anchor="middle">0</text>
<line x1="381.2" y1="1962.3" x2="381.2" y2="1968.5" stroke="#555" stroke-width="1.3"/>
<text x="381.2" y="1999.4" text-anchor="middle">0.5</text>
<line x1="438.2" y1="1962.3" x2="438.2" y2="1968.5" stroke="#555" stroke-width="1.3"/>
<text x="438.2" y="1999.4" text-anchor="middle">1</text>
<line x1="495.2" y1="1962.3" x2="495.2" y2="1968.5" stroke="#555" stroke-width="1.3"/>
<text x="495.2" y="1999.4" text-anchor="middle">1.5</text>
<line x1="552.2" y1="1962.3" x2="552.2" y2="1968.5" stroke="#555" stroke-width="1.3"/>
<text x="552.2" y="1999.4" text-anchor="middle">2</text>
<line x1="609.2" y1="1962.3" x2="609.2" y2="1968.5" stroke="#555" stroke-width="1.3"/>
<text x="609.2" y="1999.4" text-anchor="middle">2.5</text>
<text x="44" y="1716.7" font-size="28" text-anchor="middle" transform="rotate(-90 44 1716.7)">Frequency (Hz)</text>
<text x="377.2" y="2028" font-size="28" text-anchor="middle">Time (ms)</text>
<line x1="667.6" y1="1476.8" x2="667.6" y2="1962.3" stroke="#222" stroke-width="1"/>
<line x1="667.6" y1="1479.3" x2="673.9" y2="1479.3" stroke="#333" stroke-width="1.2"/>
<text x="680" y="1484.1" font-size="28">25</text>
<line x1="667.6" y1="1625" x2="673.9" y2="1625" stroke="#333" stroke-width="1.2"/>
<text x="680" y="1629.8" font-size="28">20</text>
<line x1="667.6" y1="1773" x2="673.9" y2="1773" stroke="#333" stroke-width="1.2"/>
<text x="680" y="1777.8" font-size="28">15</text>
<line x1="667.6" y1="1920.3" x2="673.9" y2="1920.3" stroke="#333" stroke-width="1.2"/>
<text x="680" y="1925.1" font-size="28">10</text>
<text x="723.4" y="1719.7" font-size="28" text-anchor="middle" transform="rotate(90 723.4 1719.7)">Power (dB)</text>
<g filter="url(#blr)">
<ellipse cx="1171.8" cy="1617.4" rx="6" ry="22" fill="#412ebe"/>
<ellipse cx="1230.2" cy="1685.1" rx="14" ry="32" fill="#4536d3"/>
<ellipse cx="1295" cy="1664.5" rx="13" ry="13" fill="#4743e5"/>
<ellipse cx="1337.7" cy="1711.7" rx="10" ry="55" fill="#4640e0"/>
<ellipse cx="1343.6" cy="1635" rx="9" ry="22" fill="#4743e5"/>
<ellipse cx="1186" cy="1600" rx="6" ry="30" fill="#4751f3"/>
<ellipse cx="1370" cy="1930" rx="6" ry="12" fill="#f5e923"/>
</g>
<line x1="1368.1" y1="1477" x2="1368.1" y2="1968" stroke="#111" stroke-width="2.6"/>
<line x1="1162.6" y1="1477" x2="1162.6" y2="1962.3" stroke="#555" stroke-width="1.3"/>
<line x1="1162.6" y1="1962.3" x2="1678.8" y2="1962.3" stroke="#555" stroke-width="1.3"/>
<line x1="1152" y1="1477" x2="1162.6" y2="1477" stroke="#555" stroke-width="1.3"/>
<text x="1148" y="1483.5" text-anchor="end">25</text>
<line x1="1152" y1="1578" x2="1162.6" y2="1578" stroke="#555" stroke-width="1.3"/>
<text x="1148" y="1584.5" text-anchor="end">20</text>
<line x1="1152" y1="1679.4" x2="1162.6" y2="1679.4" stroke="#555" stroke-width="1.3"/>
<text x="1148" y="1685.9" text-anchor="end">15</text>
<line x1="1152" y1="1780.4" x2="1162.6" y2="1780.4" stroke="#555" stroke-width="1.3"/>
<text x="1148" y="1786.9" text-anchor="end">10</text>
<line x1="1152" y1="1881.7" x2="1162.6" y2="1881.7" stroke="#555" stroke-width="1.3"/>
<text x="1148" y="1888.2" text-anchor="end">5</text>
<line x1="1152" y1="1962.3" x2="1162.6" y2="1962.3" stroke="#555" stroke-width="1.3"/>
<text x="1148" y="1968.8" text-anchor="end">0</text>
<line x1="1197.1" y1="1962.3" x2="1197.1" y2="1968.5" stroke="#555" stroke-width="1.3"/>
<text x="1197.1" y="1999.4" text-anchor="middle">-1.5</text>
<line x1="1254.1" y1="1962.3" x2="1254.1" y2="1968.5" stroke="#555" stroke-width="1.3"/>
<text x="1254.1" y="1999.4" text-anchor="middle">-1</text>
<line x1="1311.1" y1="1962.3" x2="1311.1" y2="1968.5" stroke="#555" stroke-width="1.3"/>
<text x="1311.1" y="1999.4" text-anchor="middle">-0.5</text>
<line x1="1368.1" y1="1962.3" x2="1368.1" y2="1968.5" stroke="#555" stroke-width="1.3"/>
<text x="1368.1" y="1999.4" text-anchor="middle">0</text>
<line x1="1425.1" y1="1962.3" x2="1425.1" y2="1968.5" stroke="#555" stroke-width="1.3"/>
<text x="1425.1" y="1999.4" text-anchor="middle">0.5</text>
<line x1="1482.1" y1="1962.3" x2="1482.1" y2="1968.5" stroke="#555" stroke-width="1.3"/>
<text x="1482.1" y="1999.4" text-anchor="middle">1</text>
<line x1="1539.1" y1="1962.3" x2="1539.1" y2="1968.5" stroke="#555" stroke-width="1.3"/>
<text x="1539.1" y="1999.4" text-anchor="middle">1.5</text>
<line x1="1596.1" y1="1962.3" x2="1596.1" y2="1968.5" stroke="#555" stroke-width="1.3"/>
<text x="1596.1" y="1999.4" text-anchor="middle">2</text>
<line x1="1653.1" y1="1962.3" x2="1653.1" y2="1968.5" stroke="#555" stroke-width="1.3"/>
<text x="1653.1" y="1999.4" text-anchor="middle">2.5</text>
<text x="1096" y="1716.7" font-size="28" text-anchor="middle" transform="rotate(-90 1096 1716.7)">Frequency (Hz)</text>
<text x="1421.2" y="2028" font-size="28" text-anchor="middle">Time (ms)</text>
<line x1="1717.6" y1="1476" x2="1717.6" y2="1962.3" stroke="#222" stroke-width="1"/>
<line x1="1717.6" y1="1499.5" x2="1722.6" y2="1499.5" stroke="#333" stroke-width="1.2"/>
<text x="1730" y="1506.2" font-size="28">22</text>
<line x1="1717.6" y1="1569.7" x2="1722.6" y2="1569.7" stroke="#333" stroke-width="1.2"/>
<text x="1730" y="1576.4" font-size="28">20</text>
<line x1="1717.6" y1="1639.3" x2="1722.6" y2="1639.3" stroke="#333" stroke-width="1.2"/>
<text x="1730" y="1646" font-size="28">18</text>
<line x1="1717.6" y1="1709.6" x2="1722.6" y2="1709.6" stroke="#333" stroke-width="1.2"/>
<text x="1730" y="1716.3" font-size="28">16</text>
<line x1="1717.6" y1="1780.4" x2="1722.6" y2="1780.4" stroke="#333" stroke-width="1.2"/>
<text x="1730" y="1787.1" font-size="28">14</text>
<line x1="1717.6" y1="1850.7" x2="1722.6" y2="1850.7" stroke="#333" stroke-width="1.2"/>
<text x="1730" y="1857.4" font-size="28">12</text>
<line x1="1717.6" y1="1921" x2="1722.6" y2="1921" stroke="#333" stroke-width="1.2"/>
<text x="1730" y="1927.7" font-size="28">10</text>
<text x="1777.2" y="1719.7" font-size="28" text-anchor="middle" transform="rotate(90 1777.2 1719.7)">Power (dB)</text>
<path d="M829.6 1866.1h3.5V1920.2h-3.5zM833.1 1546.6h3.5V1865.7h-3.5zM836.6 1498.9h3.5V1817.1h-3.5zM840.1 1523.2h3.5V1817.1h-3.5zM843.6 1611.8h3.5V1809.3h-3.5zM847.1 1677.9h3.5V1807.3h-3.5zM850.6 1738.3h3.5V1797.6h-3.5zM854.1 1759.7h3.5V1787.9h-3.5zM910 1941.7h3.5V1963h-3.5zM913.5 1941.7h3.5V1963h-3.5zM917 1946.2h3.5V1963h-3.5zM920.5 1941.1h3.5V1963h-3.5zM924 1948.7h3.5V1963h-3.5zM927.5 1944.7h3.5V1963h-3.5zM931 1940.2h3.5V1963h-3.5zM934.5 1940.2h3.5V1963h-3.5zM937.9 1946.7h3.5V1963h-3.5zM941.4 1949.2h3.5V1963h-3.5zM944.9 1944.7h3.5V1963h-3.5zM948.4 1945.7h3.5V1963h-3.5zM951.9 1938.2h3.5V1963h-3.5zM955.4 1939.2h3.5V1963h-3.5zM958.9 1948.7h3.5V1963h-3.5zM962.4 1942.2h3.5V1963h-3.5zM965.9 1948.7h3.5V1963h-3.5zM969.4 1949.7h3.5V1963h-3.5zM972.9 1945.7h3.5V1963h-3.5zM976.4 1949.7h3.5V1963h-3.5zM979.9 1948.2h3.5V1963h-3.5zM983.4 1953.7h3.5V1963h-3.5zM986.9 1955.7h3.5V1963h-3.5zM990.4 1952.7h3.5V1963h-3.5zM993.9 1950.6h3.5V1963h-3.5zM997.4 1954.1h3.5V1963h-3.5zM1000.9 1956.7h3.5V1963h-3.5z" fill="#d8f0fb"/>
<path d="M857.6 1787.2h3.5V1809.7h-3.5zM861.1 1787.2h3.5V1847.6h-3.5zM864.6 1780.7h3.5V1875.4h-3.5zM868 1805.2h3.5V1900.7h-3.5zM871.5 1820.7h3.5V1922.6h-3.5zM875 1829.1h3.5V1922.1h-3.5zM878.5 1849.7h3.5V1941.6h-3.5zM882 1860.7h3.5V1945.5h-3.5zM885.5 1878.6h3.5V1951.3h-3.5zM889 1885.7h3.5V1950.4h-3.5zM892.5 1903.2h3.5V1947.4h-3.5zM896 1913.2h3.5V1951.3h-3.5zM899.5 1923.7h3.5V1948.4h-3.5zM903 1920.7h3.5V1946.5h-3.5zM906.5 1937.1h3.5V1946.5h-3.5z" fill="#ffb27e"/>
<path d="M829.6 1920.2h3.5V1963h-3.5zM833.1 1865.7h3.5V1963h-3.5zM836.6 1817.1h3.5V1963h-3.5zM840.1 1817.1h3.5V1963h-3.5zM843.6 1809.3h3.5V1963h-3.5zM847.1 1807.3h3.5V1963h-3.5zM850.6 1797.6h3.5V1963h-3.5zM854.1 1787.9h3.5V1963h-3.5zM857.6 1809.7h3.5V1963h-3.5zM861.1 1847.6h3.5V1963h-3.5zM864.6 1875.4h3.5V1963h-3.5zM868 1900.7h3.5V1963h-3.5zM871.5 1922.6h3.5V1963h-3.5zM875 1922.1h3.5V1963h-3.5zM878.5 1941.6h3.5V1963h-3.5zM882 1945.5h3.5V1963h-3.5zM885.5 1951.3h3.5V1963h-3.5zM889 1950.4h3.5V1963h-3.5zM892.5 1947.4h3.5V1963h-3.5zM896 1951.3h3.5V1963h-3.5zM899.5 1948.4h3.5V1963h-3.5zM903 1946.5h3.5V1963h-3.5zM906.5 1946.5h3.5V1963h-3.5z" fill="#a9c8e3"/>
<path d="M829.9 1866.1h1.8V1920.2h-1.8zM833.4 1546.6h1.8V1865.7h-1.8zM836.9 1498.9h1.8V1817.1h-1.8zM840.4 1523.2h1.8V1817.1h-1.8zM843.9 1611.8h1.8V1809.3h-1.8zM847.4 1677.9h1.8V1807.3h-1.8zM850.9 1738.3h1.8V1797.6h-1.8zM854.4 1759.7h1.8V1787.9h-1.8zM910.3 1941.7h1.8V1963h-1.8zM913.8 1941.7h1.8V1963h-1.8zM917.3 1946.2h1.8V1963h-1.8zM920.8 1941.1h1.8V1963h-1.8zM924.3 1948.7h1.8V1963h-1.8zM927.8 1944.7h1.8V1963h-1.8zM931.3 1940.2h1.8V1963h-1.8zM934.8 1940.2h1.8V1963h-1.8zM938.2 1946.7h1.8V1963h-1.8zM941.7 1949.2h1.8V1963h-1.8zM945.2 1944.7h1.8V1963h-1.8zM948.7 1945.7h1.8V1963h-1.8zM952.2 1938.2h1.8V1963h-1.8zM955.7 1939.2h1.8V1963h-1.8zM959.2 1948.7h1.8V1963h-1.8zM962.7 1942.2h1.8V1963h-1.8zM966.2 1948.7h1.8V1963h-1.8zM969.7 1949.7h1.8V1963h-1.8zM973.2 1945.7h1.8V1963h-1.8zM976.7 1949.7h1.8V1963h-1.8zM980.2 1948.2h1.8V1963h-1.8zM983.7 1953.7h1.8V1963h-1.8zM987.2 1955.7h1.8V1963h-1.8zM990.7 1952.7h1.8V1963h-1.8zM994.2 1950.6h1.8V1963h-1.8zM997.7 1954.1h1.8V1963h-1.8zM1001.2 1956.7h1.8V1963h-1.8z" fill="#1f619c"/>
<path d="M857.9 1787.2h1.8V1809.7h-1.8zM861.4 1787.2h1.8V1847.6h-1.8zM864.9 1780.7h1.8V1875.4h-1.8zM868.3 1805.2h1.8V1900.7h-1.8zM871.8 1820.7h1.8V1922.6h-1.8zM875.3 1829.1h1.8V1922.1h-1.8zM878.8 1849.7h1.8V1941.6h-1.8zM882.3 1860.7h1.8V1945.5h-1.8zM885.8 1878.6h1.8V1951.3h-1.8zM889.3 1885.7h1.8V1950.4h-1.8zM892.8 1903.2h1.8V1947.4h-1.8zM896.3 1913.2h1.8V1951.3h-1.8zM899.8 1923.7h1.8V1948.4h-1.8zM903.3 1920.7h1.8V1946.5h-1.8zM906.8 1937.1h1.8V1946.5h-1.8z" fill="#c9531e"/>
<path d="M829.9 1920.2h1.8V1963h-1.8zM833.4 1865.7h1.8V1963h-1.8zM836.9 1817.1h1.8V1963h-1.8zM840.4 1817.1h1.8V1963h-1.8zM843.9 1809.3h1.8V1963h-1.8zM847.4 1807.3h1.8V1963h-1.8zM850.9 1797.6h1.8V1963h-1.8zM854.4 1787.9h1.8V1963h-1.8zM857.9 1809.7h1.8V1963h-1.8zM861.4 1847.6h1.8V1963h-1.8zM864.9 1875.4h1.8V1963h-1.8zM868.3 1900.7h1.8V1963h-1.8zM871.8 1922.6h1.8V1963h-1.8zM875.3 1922.1h1.8V1963h-1.8zM878.8 1941.6h1.8V1963h-1.8zM882.3 1945.5h1.8V1963h-1.8zM885.8 1951.3h1.8V1963h-1.8zM889.3 1950.4h1.8V1963h-1.8zM892.8 1947.4h1.8V1963h-1.8zM896.3 1951.3h1.8V1963h-1.8zM899.8 1948.4h1.8V1963h-1.8zM903.3 1946.5h1.8V1963h-1.8zM906.8 1946.5h1.8V1963h-1.8z" fill="#22609a"/>
<line x1="826.1" y1="1475.7" x2="826.1" y2="1963" stroke="#555" stroke-width="1.3"/>
<line x1="826.1" y1="1963" x2="1007.3" y2="1963" stroke="#2a6aa8" stroke-width="1.6"/>
<line x1="818.7" y1="1914.4" x2="826.1" y2="1914.4" stroke="#555" stroke-width="1.3"/>
<text x="815.4" y="1920.9" text-anchor="end">50</text>
<line x1="818.7" y1="1865.7" x2="826.1" y2="1865.7" stroke="#555" stroke-width="1.3"/>
<text x="815.4" y="1872.2" text-anchor="end">100</text>
<line x1="818.7" y1="1817.1" x2="826.1" y2="1817.1" stroke="#555" stroke-width="1.3"/>
<text x="815.4" y="1823.6" text-anchor="end">150</text>
<line x1="818.7" y1="1768.4" x2="826.1" y2="1768.4" stroke="#555" stroke-width="1.3"/>
<text x="815.4" y="1774.9" text-anchor="end">200</text>
<line x1="818.7" y1="1719.8" x2="826.1" y2="1719.8" stroke="#555" stroke-width="1.3"/>
<text x="815.4" y="1726.3" text-anchor="end">250</text>
<line x1="818.7" y1="1671.1" x2="826.1" y2="1671.1" stroke="#555" stroke-width="1.3"/>
<text x="815.4" y="1677.6" text-anchor="end">300</text>
<line x1="818.7" y1="1622.5" x2="826.1" y2="1622.5" stroke="#555" stroke-width="1.3"/>
<text x="815.4" y="1629" text-anchor="end">350</text>
<line x1="818.7" y1="1573.8" x2="826.1" y2="1573.8" stroke="#555" stroke-width="1.3"/>
<text x="815.4" y="1580.3" text-anchor="end">400</text>
<line x1="818.7" y1="1525.2" x2="826.1" y2="1525.2" stroke="#555" stroke-width="1.3"/>
<text x="815.4" y="1531.7" text-anchor="end">450</text>
<line x1="818.7" y1="1476.5" x2="826.1" y2="1476.5" stroke="#555" stroke-width="1.3"/>
<text x="815.4" y="1483" text-anchor="end">500</text>
<line x1="826.1" y1="1963" x2="826.1" y2="1969.5" stroke="#555" stroke-width="1.3"/>
<text x="826.1" y="1999" text-anchor="middle">0</text>
<line x1="896" y1="1963" x2="896" y2="1969.5" stroke="#555" stroke-width="1.3"/>
<text x="896" y="1999" text-anchor="middle">20</text>
<line x1="965.9" y1="1963" x2="965.9" y2="1969.5" stroke="#555" stroke-width="1.3"/>
<text x="965.9" y="1999" text-anchor="middle">40</text>
<rect x="848.5" y="1476.6" width="22" height="10" fill="#d95f22"/>
<rect x="848.5" y="1508" width="22" height="10" fill="#0a70bd"/>
<text x="877.6" y="1489" font-size="28">overall ISI</text>
<text x="877.6" y="1520" font-size="28">whisk ISI</text>
<path d="M1874.5 1919.8h3.5V1921.9h-3.5zM1878 1773h3.5V1918.4h-3.5zM1881.5 1610.2h3.5V1894h-3.5zM1885.1 1508h3.5V1862.7h-3.5zM1888.6 1558.8h3.5V1873.2h-3.5zM1892.1 1588h3.5V1874.6h-3.5zM1895.6 1653.4h3.5V1873.2h-3.5zM1899.1 1736.8h3.5V1859.3h-3.5zM1902.7 1818.9h3.5V1873.2h-3.5zM1906.2 1866.2h3.5V1880.1h-3.5zM1909.7 1887.8h3.5V1897.5h-3.5z" fill="#d8f0fb"/>
<path d="M1916.7 1906.2h3.5V1927.7h-3.5zM1920.3 1905.3h3.5V1935.7h-3.5zM1923.8 1924.2h3.5V1946.5h-3.5zM1927.3 1922.4h3.5V1951.8h-3.5zM1930.8 1920.5h3.5V1946.5h-3.5zM1934.3 1928.6h3.5V1959.8h-3.5zM1937.9 1930.4h3.5V1959.8h-3.5zM1941.4 1934h3.5V1951.8h-3.5zM1944.9 1930.8h3.5V1958.9h-3.5zM1948.4 1934h3.5V1957.1h-3.5zM1951.9 1943.8h3.5V1959.4h-3.5zM1955.5 1941.8h3.5V1960.1h-3.5zM1959 1941.8h3.5V1958.7h-3.5zM1962.5 1943.4h3.5V1960.8h-3.5zM1966 1943.4h3.5V1959.4h-3.5zM1969.5 1941.8h3.5V1961.5h-3.5zM1973.1 1949.8h3.5V1960.8h-3.5zM1976.6 1948.2h3.5V1960.1h-3.5zM1980.1 1954.7h3.5V1961.5h-3.5zM1983.6 1954.7h3.5V1962.2h-3.5zM1987.1 1954.6h3.5V1961.5h-3.5zM1990.7 1953.1h3.5V1962.2h-3.5zM1994.2 1951.4h3.5V1961.5h-3.5zM1997.7 1955.3h3.5V1962.2h-3.5zM2001.2 1955.3h3.5V1962.2h-3.5zM2004.7 1956.6h3.5V1961.5h-3.5zM2008.3 1957.1h3.5V1962.2h-3.5zM2011.8 1958h3.5V1962.2h-3.5zM2015.3 1958.7h3.5V1962.2h-3.5zM2018.8 1954.7h3.5V1961.5h-3.5zM2022.3 1958.7h3.5V1962.2h-3.5zM2025.9 1959.4h3.5V1960.8h-3.5zM2029.4 1959.4h3.5V1962.2h-3.5zM2032.9 1960.1h3.5V1962.2h-3.5zM2036.4 1960.1h3.5V1962.2h-3.5zM2039.9 1960.8h3.5V1962.2h-3.5zM2043.5 1960.8h3.5V1962.2h-3.5zM2047 1959.4h3.5V1961.5h-3.5z" fill="#ffb27e"/>
<path d="M1874.5 1921.9h3.5V1963.6h-3.5zM1878 1918.4h3.5V1963.6h-3.5zM1881.5 1894h3.5V1963.6h-3.5zM1885.1 1862.7h3.5V1963.6h-3.5zM1888.6 1873.2h3.5V1963.6h-3.5zM1892.1 1874.6h3.5V1963.6h-3.5zM1895.6 1873.2h3.5V1963.6h-3.5zM1899.1 1859.3h3.5V1963.6h-3.5zM1902.7 1873.2h3.5V1963.6h-3.5zM1906.2 1880.1h3.5V1963.6h-3.5zM1909.7 1897.5h3.5V1963.6h-3.5zM1913.2 1902.7h3.5V1963.6h-3.5zM1916.7 1927.7h3.5V1963.6h-3.5zM1920.3 1935.7h3.5V1963.6h-3.5zM1923.8 1946.5h3.5V1963.6h-3.5zM1927.3 1951.8h3.5V1963.6h-3.5zM1930.8 1946.5h3.5V1963.6h-3.5zM1934.3 1959.8h3.5V1963.6h-3.5zM1937.9 1959.8h3.5V1963.6h-3.5zM1941.4 1951.8h3.5V1963.6h-3.5zM1944.9 1958.9h3.5V1963.6h-3.5zM1948.4 1957.1h3.5V1963.6h-3.5zM1951.9 1959.4h3.5V1963.6h-3.5zM1955.5 1960.1h3.5V1963.6h-3.5zM1959 1958.7h3.5V1963.6h-3.5zM1962.5 1960.8h3.5V1963.6h-3.5zM1966 1959.4h3.5V1963.6h-3.5zM1969.5 1961.5h3.5V1963.6h-3.5zM1973.1 1960.8h3.5V1963.6h-3.5zM1976.6 1960.1h3.5V1963.6h-3.5zM1980.1 1961.5h3.5V1963.6h-3.5zM1983.6 1962.2h3.5V1963.6h-3.5zM1987.1 1961.5h3.5V1963.6h-3.5zM1990.7 1962.2h3.5V1963.6h-3.5zM1994.2 1961.5h3.5V1963.6h-3.5zM1997.7 1962.2h3.5V1963.6h-3.5zM2001.2 1962.2h3.5V1963.6h-3.5zM2004.7 1961.5h3.5V1963.6h-3.5zM2008.3 1962.2h3.5V1963.6h-3.5zM2011.8 1962.2h3.5V1963.6h-3.5zM2015.3 1962.2h3.5V1963.6h-3.5zM2018.8 1961.5h3.5V1963.6h-3.5zM2022.3 1962.2h3.5V1963.6h-3.5zM2025.9 1960.8h3.5V1963.6h-3.5zM2029.4 1962.2h3.5V1963.6h-3.5zM2032.9 1962.2h3.5V1963.6h-3.5zM2036.4 1962.2h3.5V1963.6h-3.5zM2039.9 1962.2h3.5V1963.6h-3.5zM2043.5 1962.2h3.5V1963.6h-3.5zM2047 1961.5h3.5V1963.6h-3.5z" fill="#a9c8e3"/>
<path d="M1874.8 1919.8h1.8V1921.9h-1.8zM1878.3 1773h1.8V1918.4h-1.8zM1881.8 1610.2h1.8V1894h-1.8zM1885.4 1508h1.8V1862.7h-1.8zM1888.9 1558.8h1.8V1873.2h-1.8zM1892.4 1588h1.8V1874.6h-1.8zM1895.9 1653.4h1.8V1873.2h-1.8zM1899.4 1736.8h1.8V1859.3h-1.8zM1903 1818.9h1.8V1873.2h-1.8zM1906.5 1866.2h1.8V1880.1h-1.8zM1910 1887.8h1.8V1897.5h-1.8z" fill="#1f619c"/>
<path d="M1917 1906.2h1.8V1927.7h-1.8zM1920.6 1905.3h1.8V1935.7h-1.8zM1924.1 1924.2h1.8V1946.5h-1.8zM1927.6 1922.4h1.8V1951.8h-1.8zM1931.1 1920.5h1.8V1946.5h-1.8zM1934.6 1928.6h1.8V1959.8h-1.8zM1938.2 1930.4h1.8V1959.8h-1.8zM1941.7 1934h1.8V1951.8h-1.8zM1945.2 1930.8h1.8V1958.9h-1.8zM1948.7 1934h1.8V1957.1h-1.8zM1952.2 1943.8h1.8V1959.4h-1.8zM1955.8 1941.8h1.8V1960.1h-1.8zM1959.3 1941.8h1.8V1958.7h-1.8zM1962.8 1943.4h1.8V1960.8h-1.8zM1966.3 1943.4h1.8V1959.4h-1.8zM1969.8 1941.8h1.8V1961.5h-1.8zM1973.4 1949.8h1.8V1960.8h-1.8zM1976.9 1948.2h1.8V1960.1h-1.8zM1980.4 1954.7h1.8V1961.5h-1.8zM1983.9 1954.7h1.8V1962.2h-1.8zM1987.4 1954.6h1.8V1961.5h-1.8zM1991 1953.1h1.8V1962.2h-1.8zM1994.5 1951.4h1.8V1961.5h-1.8zM1998 1955.3h1.8V1962.2h-1.8zM2001.5 1955.3h1.8V1962.2h-1.8zM2005 1956.6h1.8V1961.5h-1.8zM2008.6 1957.1h1.8V1962.2h-1.8zM2012.1 1958h1.8V1962.2h-1.8zM2015.6 1958.7h1.8V1962.2h-1.8zM2019.1 1954.7h1.8V1961.5h-1.8zM2022.6 1958.7h1.8V1962.2h-1.8zM2026.2 1959.4h1.8V1960.8h-1.8zM2029.7 1959.4h1.8V1962.2h-1.8zM2033.2 1960.1h1.8V1962.2h-1.8zM2036.7 1960.1h1.8V1962.2h-1.8zM2040.2 1960.8h1.8V1962.2h-1.8zM2043.8 1960.8h1.8V1962.2h-1.8zM2047.3 1959.4h1.8V1961.5h-1.8z" fill="#c9531e"/>
<path d="M1874.8 1921.9h1.8V1963.6h-1.8zM1878.3 1918.4h1.8V1963.6h-1.8zM1881.8 1894h1.8V1963.6h-1.8zM1885.4 1862.7h1.8V1963.6h-1.8zM1888.9 1873.2h1.8V1963.6h-1.8zM1892.4 1874.6h1.8V1963.6h-1.8zM1895.9 1873.2h1.8V1963.6h-1.8zM1899.4 1859.3h1.8V1963.6h-1.8zM1903 1873.2h1.8V1963.6h-1.8zM1906.5 1880.1h1.8V1963.6h-1.8zM1910 1897.5h1.8V1963.6h-1.8zM1913.5 1902.7h1.8V1963.6h-1.8zM1917 1927.7h1.8V1963.6h-1.8zM1920.6 1935.7h1.8V1963.6h-1.8zM1924.1 1946.5h1.8V1963.6h-1.8zM1927.6 1951.8h1.8V1963.6h-1.8zM1931.1 1946.5h1.8V1963.6h-1.8zM1934.6 1959.8h1.8V1963.6h-1.8zM1938.2 1959.8h1.8V1963.6h-1.8zM1941.7 1951.8h1.8V1963.6h-1.8zM1945.2 1958.9h1.8V1963.6h-1.8zM1948.7 1957.1h1.8V1963.6h-1.8zM1952.2 1959.4h1.8V1963.6h-1.8zM1955.8 1960.1h1.8V1963.6h-1.8zM1959.3 1958.7h1.8V1963.6h-1.8zM1962.8 1960.8h1.8V1963.6h-1.8zM1966.3 1959.4h1.8V1963.6h-1.8zM1969.8 1961.5h1.8V1963.6h-1.8zM1973.4 1960.8h1.8V1963.6h-1.8zM1976.9 1960.1h1.8V1963.6h-1.8zM1980.4 1961.5h1.8V1963.6h-1.8zM1983.9 1962.2h1.8V1963.6h-1.8zM1987.4 1961.5h1.8V1963.6h-1.8zM1991 1962.2h1.8V1963.6h-1.8zM1994.5 1961.5h1.8V1963.6h-1.8zM1998 1962.2h1.8V1963.6h-1.8zM2001.5 1962.2h1.8V1963.6h-1.8zM2005 1961.5h1.8V1963.6h-1.8zM2008.6 1962.2h1.8V1963.6h-1.8zM2012.1 1962.2h1.8V1963.6h-1.8zM2015.6 1962.2h1.8V1963.6h-1.8zM2019.1 1961.5h1.8V1963.6h-1.8zM2022.6 1962.2h1.8V1963.6h-1.8zM2026.2 1960.8h1.8V1963.6h-1.8zM2029.7 1962.2h1.8V1963.6h-1.8zM2033.2 1962.2h1.8V1963.6h-1.8zM2036.7 1962.2h1.8V1963.6h-1.8zM2040.2 1962.2h1.8V1963.6h-1.8zM2043.8 1962.2h1.8V1963.6h-1.8zM2047.3 1961.5h1.8V1963.6h-1.8z" fill="#22609a"/>
<line x1="1871" y1="1475.6" x2="1871" y2="1963.6" stroke="#555" stroke-width="1.3"/>
<line x1="1871" y1="1963.6" x2="2053.8" y2="1963.6" stroke="#2a6aa8" stroke-width="1.6"/>
<line x1="1863.5" y1="1894" x2="1871" y2="1894" stroke="#555" stroke-width="1.3"/>
<text x="1860.3" y="1900.5" text-anchor="end">100</text>
<line x1="1863.5" y1="1824.5" x2="1871" y2="1824.5" stroke="#555" stroke-width="1.3"/>
<text x="1860.3" y="1831" text-anchor="end">200</text>
<line x1="1863.5" y1="1754.9" x2="1871" y2="1754.9" stroke="#555" stroke-width="1.3"/>
<text x="1860.3" y="1761.4" text-anchor="end">300</text>
<line x1="1863.5" y1="1685.4" x2="1871" y2="1685.4" stroke="#555" stroke-width="1.3"/>
<text x="1860.3" y="1691.9" text-anchor="end">400</text>
<line x1="1863.5" y1="1615.8" x2="1871" y2="1615.8" stroke="#555" stroke-width="1.3"/>
<text x="1860.3" y="1622.3" text-anchor="end">500</text>
<line x1="1863.5" y1="1546.2" x2="1871" y2="1546.2" stroke="#555" stroke-width="1.3"/>
<text x="1860.3" y="1552.7" text-anchor="end">600</text>
<line x1="1863.5" y1="1476.7" x2="1871" y2="1476.7" stroke="#555" stroke-width="1.3"/>
<text x="1860.3" y="1483.2" text-anchor="end">700</text>
<line x1="1871" y1="1963.6" x2="1871" y2="1970" stroke="#555" stroke-width="1.3"/>
<text x="1871" y="1999" text-anchor="middle">0</text>
<line x1="1941.4" y1="1963.6" x2="1941.4" y2="1970" stroke="#555" stroke-width="1.3"/>
<text x="1941.4" y="1999" text-anchor="middle">20</text>
<line x1="2011.8" y1="1963.6" x2="2011.8" y2="1970" stroke="#555" stroke-width="1.3"/>
<text x="2011.8" y="1999" text-anchor="middle">40</text>
<rect x="1897.5" y="1477.6" width="22" height="10" fill="#d95f22"/>
<rect x="1897.5" y="1509" width="22" height="10" fill="#0a70bd"/>
<text x="1926.6" y="1489" font-size="28">overall ISI</text>
<text x="1926.6" y="1520" font-size="28">whisk ISI</text>
</svg>
</body></html>
